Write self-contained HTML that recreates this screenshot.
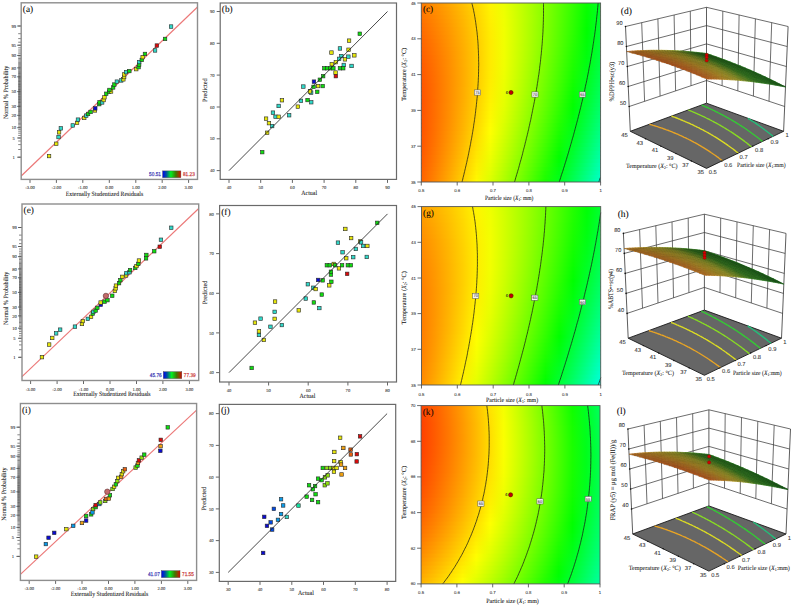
<!DOCTYPE html>
<html><head><meta charset="utf-8"><title>Figure</title>
<style>html,body{margin:0;padding:0;background:#fff;width:792px;height:606px;overflow:hidden}text{text-rendering:geometricPrecision;stroke:#222;stroke-width:.12px;stroke-opacity:.6}</style>
</head><body>
<svg width="792" height="606" viewBox="0 0 792 606" style="display:block">
<rect width="792" height="606" fill="#fff"/>
<line x1="21.2" y1="176.0" x2="197.5" y2="7.0" stroke="#ec7878" stroke-width="1.15"/>
<line x1="30.0" y1="179.4" x2="30.0" y2="182.9" stroke="#555" stroke-width="0.9"/>
<text x="30" y="189.3" font-family='"Liberation Serif", serif' font-size="4.6" text-anchor="middle" fill="#333">-3.00</text>
<line x1="56.4" y1="179.4" x2="56.4" y2="182.9" stroke="#555" stroke-width="0.9"/>
<text x="56.4" y="189.3" font-family='"Liberation Serif", serif' font-size="4.6" text-anchor="middle" fill="#333">-2.00</text>
<line x1="82.8" y1="179.4" x2="82.8" y2="182.9" stroke="#555" stroke-width="0.9"/>
<text x="82.8" y="189.3" font-family='"Liberation Serif", serif' font-size="4.6" text-anchor="middle" fill="#333">-1.00</text>
<line x1="109.3" y1="179.4" x2="109.3" y2="182.9" stroke="#555" stroke-width="0.9"/>
<text x="109.3" y="189.3" font-family='"Liberation Serif", serif' font-size="4.6" text-anchor="middle" fill="#333">0.00</text>
<line x1="135.8" y1="179.4" x2="135.8" y2="182.9" stroke="#555" stroke-width="0.9"/>
<text x="135.8" y="189.3" font-family='"Liberation Serif", serif' font-size="4.6" text-anchor="middle" fill="#333">1.00</text>
<line x1="162.2" y1="179.4" x2="162.2" y2="182.9" stroke="#555" stroke-width="0.9"/>
<text x="162.2" y="189.3" font-family='"Liberation Serif", serif' font-size="4.6" text-anchor="middle" fill="#333">2.00</text>
<line x1="188.6" y1="179.4" x2="188.6" y2="182.9" stroke="#555" stroke-width="0.9"/>
<text x="188.6" y="189.3" font-family='"Liberation Serif", serif' font-size="4.6" text-anchor="middle" fill="#333">3.00</text>
<path d="M18.2 157.2h3M18.2 149.5h3M18.2 144.6h3M18.2 141.0h3M18.2 138.0h3M18.2 135.4h3M18.2 133.2h3M18.2 131.2h3M18.2 129.4h3M18.2 127.7h3M18.2 126.2h3M18.2 124.7h3M18.2 123.4h3M18.2 122.1h3M18.2 120.8h3M18.2 119.6h3M18.2 118.5h3M18.2 117.4h3M18.2 116.4h3M18.2 115.3h3M18.2 114.3h3M18.2 113.4h3M18.2 112.4h3M18.2 111.5h3M18.2 110.6h3M18.2 109.7h3M18.2 108.9h3M18.2 108.0h3M18.2 107.2h3M18.2 106.4h3M18.2 105.6h3M18.2 104.8h3M18.2 104.0h3M18.2 103.2h3M18.2 102.5h3M18.2 101.7h3M18.2 101.0h3M18.2 100.2h3M18.2 99.5h3M18.2 98.7h3M18.2 98.0h3M18.2 97.3h3M18.2 96.6h3M18.2 95.9h3M18.2 95.1h3M18.2 94.4h3M18.2 93.7h3M18.2 93.0h3M18.2 92.3h3M18.2 91.6h3M18.2 90.9h3M18.2 90.2h3M18.2 89.5h3M18.2 88.8h3M18.2 88.1h3M18.2 87.3h3M18.2 86.6h3M18.2 85.9h3M18.2 85.2h3M18.2 84.5h3M18.2 83.7h3M18.2 83.0h3M18.2 82.2h3M18.2 81.5h3M18.2 80.7h3M18.2 80.0h3M18.2 79.2h3M18.2 78.4h3M18.2 77.6h3M18.2 76.8h3M18.2 76.0h3M18.2 75.2h3M18.2 74.3h3M18.2 73.5h3M18.2 72.6h3M18.2 71.7h3M18.2 70.8h3M18.2 69.8h3M18.2 68.9h3M18.2 67.9h3M18.2 66.8h3M18.2 65.8h3M18.2 64.7h3M18.2 63.6h3M18.2 62.4h3M18.2 61.1h3M18.2 59.8h3M18.2 58.5h3M18.2 57.0h3M18.2 55.5h3M18.2 53.8h3M18.2 52.0h3M18.2 50.0h3M18.2 47.8h3M18.2 45.2h3M18.2 42.2h3M18.2 38.6h3M18.2 33.7h3M18.2 26.0h3" stroke="#333" stroke-width="0.6"/>
<line x1="17.2" y1="157.20" x2="21.2" y2="157.20" stroke="#555" stroke-width="0.9"/>
<text x="13.7" y="158.8" font-family='"Liberation Serif", serif' font-size="4.6" text-anchor="middle" fill="#333">1</text>
<line x1="17.2" y1="137.98" x2="21.2" y2="137.98" stroke="#555" stroke-width="0.9"/>
<text x="13.7" y="139.6" font-family='"Liberation Serif", serif' font-size="4.6" text-anchor="middle" fill="#333">5</text>
<line x1="17.2" y1="127.74" x2="21.2" y2="127.74" stroke="#555" stroke-width="0.9"/>
<text x="13.7" y="129.3" font-family='"Liberation Serif", serif' font-size="4.6" text-anchor="middle" fill="#333">10</text>
<line x1="17.2" y1="115.33" x2="21.2" y2="115.33" stroke="#555" stroke-width="0.9"/>
<text x="13.7" y="116.9" font-family='"Liberation Serif", serif' font-size="4.6" text-anchor="middle" fill="#333">20</text>
<line x1="17.2" y1="106.39" x2="21.2" y2="106.39" stroke="#555" stroke-width="0.9"/>
<text x="13.7" y="108" font-family='"Liberation Serif", serif' font-size="4.6" text-anchor="middle" fill="#333">30</text>
<line x1="17.2" y1="91.60" x2="21.2" y2="91.60" stroke="#555" stroke-width="0.9"/>
<text x="13.7" y="93.2" font-family='"Liberation Serif", serif' font-size="4.6" text-anchor="middle" fill="#333">50</text>
<line x1="17.2" y1="76.81" x2="21.2" y2="76.81" stroke="#555" stroke-width="0.9"/>
<text x="13.7" y="78.4" font-family='"Liberation Serif", serif' font-size="4.6" text-anchor="middle" fill="#333">70</text>
<line x1="17.2" y1="67.87" x2="21.2" y2="67.87" stroke="#555" stroke-width="0.9"/>
<text x="13.7" y="69.5" font-family='"Liberation Serif", serif' font-size="4.6" text-anchor="middle" fill="#333">80</text>
<line x1="17.2" y1="55.46" x2="21.2" y2="55.46" stroke="#555" stroke-width="0.9"/>
<text x="13.7" y="57.1" font-family='"Liberation Serif", serif' font-size="4.6" text-anchor="middle" fill="#333">90</text>
<line x1="17.2" y1="45.22" x2="21.2" y2="45.22" stroke="#555" stroke-width="0.9"/>
<text x="13.7" y="46.8" font-family='"Liberation Serif", serif' font-size="4.6" text-anchor="middle" fill="#333">95</text>
<line x1="17.2" y1="26.00" x2="21.2" y2="26.00" stroke="#555" stroke-width="0.9"/>
<text x="13.7" y="27.6" font-family='"Liberation Serif", serif' font-size="4.6" text-anchor="middle" fill="#333">99</text>
<rect x="21.2" y="2.8" width="176.3" height="176.6" fill="none" stroke="#8e8e8e" stroke-width="1.4"/>
<rect x="47.3" y="154.3" width="3.5" height="3.5" fill="#e6e60a" stroke="#2a2a2a" stroke-width="0.6"/>
<rect x="54.5" y="142.0" width="3.5" height="3.5" fill="#e6e60a" stroke="#2a2a2a" stroke-width="0.6"/>
<rect x="56.8" y="135.3" width="3.5" height="3.5" fill="#30d8c8" stroke="#2a2a2a" stroke-width="0.6"/>
<rect x="57.3" y="130.6" width="3.5" height="3.5" fill="#e6e60a" stroke="#2a2a2a" stroke-width="0.6"/>
<rect x="59.1" y="126.6" width="3.5" height="3.5" fill="#30d8c8" stroke="#2a2a2a" stroke-width="0.6"/>
<rect x="71.0" y="123.7" width="3.5" height="3.5" fill="#30d8c8" stroke="#2a2a2a" stroke-width="0.6"/>
<rect x="75.3" y="121.1" width="3.5" height="3.5" fill="#e6e60a" stroke="#2a2a2a" stroke-width="0.6"/>
<rect x="76.2" y="117.9" width="3.5" height="3.5" fill="#30d8c8" stroke="#2a2a2a" stroke-width="0.6"/>
<rect x="82.5" y="116.2" width="3.5" height="3.5" fill="#e6e60a" stroke="#2a2a2a" stroke-width="0.6"/>
<rect x="84.5" y="113.9" width="3.5" height="3.5" fill="#30d8c8" stroke="#2a2a2a" stroke-width="0.6"/>
<rect x="86.3" y="112.2" width="3.5" height="3.5" fill="#10dc10" stroke="#2a2a2a" stroke-width="0.6"/>
<rect x="88.8" y="110.2" width="3.5" height="3.5" fill="#10dc10" stroke="#2a2a2a" stroke-width="0.6"/>
<rect x="93.2" y="108.7" width="3.5" height="3.5" fill="#e6e60a" stroke="#2a2a2a" stroke-width="0.6"/>
<rect x="93.5" y="106.6" width="3.5" height="3.5" fill="#0a0ad2" stroke="#2a2a2a" stroke-width="0.6"/>
<rect x="97.5" y="102.4" width="3.5" height="3.5" fill="#10dc10" stroke="#2a2a2a" stroke-width="0.6"/>
<rect x="97.8" y="100.6" width="3.5" height="3.5" fill="#10dc10" stroke="#2a2a2a" stroke-width="0.6"/>
<rect x="100.4" y="100.7" width="3.5" height="3.5" fill="#30d8c8" stroke="#2a2a2a" stroke-width="0.6"/>
<rect x="101.9" y="98.3" width="3.5" height="3.5" fill="#e6e60a" stroke="#2a2a2a" stroke-width="0.6"/>
<rect x="102.7" y="95.5" width="3.5" height="3.5" fill="#e6e60a" stroke="#2a2a2a" stroke-width="0.6"/>
<rect x="104.5" y="92.0" width="3.5" height="3.5" fill="#10dc10" stroke="#2a2a2a" stroke-width="0.6"/>
<rect x="107.4" y="90.1" width="3.5" height="3.5" fill="#10dc10" stroke="#2a2a2a" stroke-width="0.6"/>
<rect x="109.3" y="89.7" width="3.5" height="3.5" fill="#e6e60a" stroke="#2a2a2a" stroke-width="0.6"/>
<rect x="107.7" y="88.2" width="3.5" height="3.5" fill="#10dc10" stroke="#2a2a2a" stroke-width="0.6"/>
<rect x="111.4" y="85.7" width="3.5" height="3.5" fill="#10dc10" stroke="#2a2a2a" stroke-width="0.6"/>
<rect x="112.6" y="82.8" width="3.5" height="3.5" fill="#10dc10" stroke="#2a2a2a" stroke-width="0.6"/>
<rect x="115.1" y="79.9" width="3.5" height="3.5" fill="#30d8c8" stroke="#2a2a2a" stroke-width="0.6"/>
<rect x="119.5" y="78.7" width="3.5" height="3.5" fill="#30d8c8" stroke="#2a2a2a" stroke-width="0.6"/>
<rect x="121.6" y="77.6" width="3.5" height="3.5" fill="#e6e60a" stroke="#2a2a2a" stroke-width="0.6"/>
<rect x="122.4" y="75.3" width="3.5" height="3.5" fill="#e6e60a" stroke="#2a2a2a" stroke-width="0.6"/>
<rect x="122.4" y="72.7" width="3.5" height="3.5" fill="#e6e60a" stroke="#2a2a2a" stroke-width="0.6"/>
<rect x="124.3" y="70.4" width="3.5" height="3.5" fill="#30d8c8" stroke="#2a2a2a" stroke-width="0.6"/>
<rect x="127.6" y="69.3" width="3.5" height="3.5" fill="#10dc10" stroke="#2a2a2a" stroke-width="0.6"/>
<rect x="134.5" y="67.4" width="3.5" height="3.5" fill="#e6e60a" stroke="#2a2a2a" stroke-width="0.6"/>
<rect x="136.8" y="65.4" width="3.5" height="3.5" fill="#10dc10" stroke="#2a2a2a" stroke-width="0.6"/>
<rect x="137.4" y="62.8" width="3.5" height="3.5" fill="#10dc10" stroke="#2a2a2a" stroke-width="0.6"/>
<rect x="137.4" y="60.3" width="3.5" height="3.5" fill="#30d8c8" stroke="#2a2a2a" stroke-width="0.6"/>
<rect x="140.0" y="58.2" width="3.5" height="3.5" fill="#10dc10" stroke="#2a2a2a" stroke-width="0.6"/>
<rect x="140.9" y="55.4" width="3.5" height="3.5" fill="#e6e60a" stroke="#2a2a2a" stroke-width="0.6"/>
<rect x="143.2" y="52.2" width="3.5" height="3.5" fill="#10dc10" stroke="#2a2a2a" stroke-width="0.6"/>
<rect x="153.3" y="48.7" width="3.5" height="3.5" fill="#30d8c8" stroke="#2a2a2a" stroke-width="0.6"/>
<rect x="155.1" y="43.8" width="3.5" height="3.5" fill="#dc0a0a" stroke="#2a2a2a" stroke-width="0.6"/>
<rect x="163.3" y="37.2" width="3.5" height="3.5" fill="#10dc10" stroke="#2a2a2a" stroke-width="0.6"/>
<rect x="169.3" y="24.8" width="3.5" height="3.5" fill="#30d8c8" stroke="#2a2a2a" stroke-width="0.6"/>
<text x="22.8" y="11.8" font-family='"Liberation Serif", serif' font-size="9.3" text-anchor="start" fill="#000">(a)</text>
<text x="104.5" y="195.8" font-family='"Liberation Serif", serif' font-size="6.6" text-anchor="middle" fill="#111" textLength="77.5" lengthAdjust="spacingAndGlyphs">Externally Studentized Residuals</text>
<text x="7.6" y="92.4" font-family='"Liberation Serif", serif' font-size="6.6" text-anchor="middle" fill="#111" transform="rotate(-90 7.6 92.4)" textLength="53.2" lengthAdjust="spacingAndGlyphs">Normal % Probability</text>
<defs><linearGradient id="cb2" x1="0" x2="1" y1="0" y2="0"><stop offset="0" stop-color="#0000f0"/><stop offset="0.2" stop-color="#0050a0"/><stop offset="0.45" stop-color="#00f020"/><stop offset="0.72" stop-color="#407800"/><stop offset="0.88" stop-color="#904000"/><stop offset="1" stop-color="#e00000"/></linearGradient></defs>
<rect x="162.6" y="170.9" width="18.3" height="6.8" fill="url(#cb2)" stroke="#444" stroke-width="0.4"/>
<text x="161" y="176.2" font-family='"Liberation Sans", sans-serif' font-size="5.5" text-anchor="end" fill="#3030b0" style="stroke:#3030b0;stroke-width:.25px;stroke-opacity:.8" textLength="11.9" lengthAdjust="spacingAndGlyphs">50.51</text>
<text x="182.9" y="176.2" font-family='"Liberation Sans", sans-serif' font-size="5.5" text-anchor="start" fill="#c83030" style="stroke:#c83030;stroke-width:.25px;stroke-opacity:.8" textLength="11.9" lengthAdjust="spacingAndGlyphs">81.23</text>
<line x1="229.0" y1="179.4" x2="229.0" y2="182.9" stroke="#555" stroke-width="0.9"/>
<text x="229" y="189.3" font-family='"Liberation Serif", serif' font-size="4.6" text-anchor="middle" fill="#333">40</text>
<line x1="216.7" y1="170.6" x2="220.2" y2="170.6" stroke="#555" stroke-width="0.9"/>
<text x="212.2" y="172.2" font-family='"Liberation Serif", serif' font-size="4.6" text-anchor="middle" fill="#333">40</text>
<line x1="260.7" y1="179.4" x2="260.7" y2="182.9" stroke="#555" stroke-width="0.9"/>
<text x="260.7" y="189.3" font-family='"Liberation Serif", serif' font-size="4.6" text-anchor="middle" fill="#333">50</text>
<line x1="216.7" y1="138.8" x2="220.2" y2="138.8" stroke="#555" stroke-width="0.9"/>
<text x="212.2" y="140.4" font-family='"Liberation Serif", serif' font-size="4.6" text-anchor="middle" fill="#333">50</text>
<line x1="292.4" y1="179.4" x2="292.4" y2="182.9" stroke="#555" stroke-width="0.9"/>
<text x="292.4" y="189.3" font-family='"Liberation Serif", serif' font-size="4.6" text-anchor="middle" fill="#333">60</text>
<line x1="216.7" y1="107.0" x2="220.2" y2="107.0" stroke="#555" stroke-width="0.9"/>
<text x="212.2" y="108.6" font-family='"Liberation Serif", serif' font-size="4.6" text-anchor="middle" fill="#333">60</text>
<line x1="324.1" y1="179.4" x2="324.1" y2="182.9" stroke="#555" stroke-width="0.9"/>
<text x="324.1" y="189.3" font-family='"Liberation Serif", serif' font-size="4.6" text-anchor="middle" fill="#333">70</text>
<line x1="216.7" y1="75.1" x2="220.2" y2="75.1" stroke="#555" stroke-width="0.9"/>
<text x="212.2" y="76.7" font-family='"Liberation Serif", serif' font-size="4.6" text-anchor="middle" fill="#333">70</text>
<line x1="355.8" y1="179.4" x2="355.8" y2="182.9" stroke="#555" stroke-width="0.9"/>
<text x="355.8" y="189.3" font-family='"Liberation Serif", serif' font-size="4.6" text-anchor="middle" fill="#333">80</text>
<line x1="216.7" y1="43.3" x2="220.2" y2="43.3" stroke="#555" stroke-width="0.9"/>
<text x="212.2" y="44.9" font-family='"Liberation Serif", serif' font-size="4.6" text-anchor="middle" fill="#333">80</text>
<line x1="387.5" y1="179.4" x2="387.5" y2="182.9" stroke="#555" stroke-width="0.9"/>
<text x="387.5" y="189.3" font-family='"Liberation Serif", serif' font-size="4.6" text-anchor="middle" fill="#333">90</text>
<line x1="216.7" y1="11.5" x2="220.2" y2="11.5" stroke="#555" stroke-width="0.9"/>
<text x="212.2" y="13.1" font-family='"Liberation Serif", serif' font-size="4.6" text-anchor="middle" fill="#333">90</text>
<rect x="220.2" y="3.0" width="176.3" height="176.4" fill="none" stroke="#6a6a6a" stroke-width="1.2"/>
<rect x="358.0" y="32.0" width="3.5" height="3.5" fill="#10dc10" stroke="#2a2a2a" stroke-width="0.6"/>
<rect x="347.3" y="38.9" width="3.5" height="3.5" fill="#e6e60a" stroke="#2a2a2a" stroke-width="0.6"/>
<rect x="338.2" y="46.7" width="3.5" height="3.5" fill="#30d8c8" stroke="#2a2a2a" stroke-width="0.6"/>
<rect x="329.7" y="50.8" width="3.5" height="3.5" fill="#e6e60a" stroke="#2a2a2a" stroke-width="0.6"/>
<rect x="346.8" y="48.0" width="3.5" height="3.5" fill="#e6e60a" stroke="#2a2a2a" stroke-width="0.6"/>
<rect x="352.6" y="53.6" width="3.5" height="3.5" fill="#e6e60a" stroke="#2a2a2a" stroke-width="0.6"/>
<rect x="346.6" y="54.9" width="3.5" height="3.5" fill="#30d8c8" stroke="#2a2a2a" stroke-width="0.6"/>
<rect x="339.6" y="54.3" width="3.5" height="3.5" fill="#30d8c8" stroke="#2a2a2a" stroke-width="0.6"/>
<rect x="337.4" y="57.1" width="3.5" height="3.5" fill="#30d8c8" stroke="#2a2a2a" stroke-width="0.6"/>
<rect x="343.2" y="57.6" width="3.5" height="3.5" fill="#e6e60a" stroke="#2a2a2a" stroke-width="0.6"/>
<rect x="334.1" y="60.4" width="3.5" height="3.5" fill="#e6e60a" stroke="#2a2a2a" stroke-width="0.6"/>
<rect x="330.0" y="62.4" width="3.5" height="3.5" fill="#e6e60a" stroke="#2a2a2a" stroke-width="0.6"/>
<rect x="342.0" y="63.2" width="3.5" height="3.5" fill="#30d8c8" stroke="#2a2a2a" stroke-width="0.6"/>
<rect x="349.8" y="64.2" width="3.5" height="3.5" fill="#30d8c8" stroke="#2a2a2a" stroke-width="0.6"/>
<rect x="322.6" y="66.5" width="3.5" height="3.5" fill="#10dc10" stroke="#2a2a2a" stroke-width="0.6"/>
<rect x="325.5" y="66.5" width="3.5" height="3.5" fill="#10dc10" stroke="#2a2a2a" stroke-width="0.6"/>
<rect x="328.7" y="66.5" width="3.5" height="3.5" fill="#10dc10" stroke="#2a2a2a" stroke-width="0.6"/>
<rect x="331.6" y="66.5" width="3.5" height="3.5" fill="#10dc10" stroke="#2a2a2a" stroke-width="0.6"/>
<rect x="338.2" y="66.5" width="3.5" height="3.5" fill="#10dc10" stroke="#2a2a2a" stroke-width="0.6"/>
<rect x="341.5" y="66.5" width="3.5" height="3.5" fill="#10dc10" stroke="#2a2a2a" stroke-width="0.6"/>
<rect x="333.8" y="70.8" width="3.5" height="3.5" fill="#e6e60a" stroke="#2a2a2a" stroke-width="0.6"/>
<rect x="334.1" y="74.4" width="3.5" height="3.5" fill="#dc0a0a" stroke="#2a2a2a" stroke-width="0.6"/>
<rect x="321.4" y="74.4" width="3.5" height="3.5" fill="#10dc10" stroke="#2a2a2a" stroke-width="0.6"/>
<rect x="318.1" y="78.0" width="3.5" height="3.5" fill="#10dc10" stroke="#2a2a2a" stroke-width="0.6"/>
<rect x="312.2" y="79.9" width="3.5" height="3.5" fill="#0a0ad2" stroke="#2a2a2a" stroke-width="0.6"/>
<rect x="301.6" y="84.8" width="3.5" height="3.5" fill="#30d8c8" stroke="#2a2a2a" stroke-width="0.6"/>
<rect x="311.8" y="85.1" width="3.5" height="3.5" fill="#10dc10" stroke="#2a2a2a" stroke-width="0.6"/>
<rect x="316.3" y="84.3" width="3.5" height="3.5" fill="#e6e60a" stroke="#2a2a2a" stroke-width="0.6"/>
<rect x="320.9" y="84.3" width="3.5" height="3.5" fill="#10dc10" stroke="#2a2a2a" stroke-width="0.6"/>
<rect x="308.5" y="89.6" width="3.5" height="3.5" fill="#e6e60a" stroke="#2a2a2a" stroke-width="0.6"/>
<rect x="309.4" y="90.9" width="3.5" height="3.5" fill="#30d8c8" stroke="#2a2a2a" stroke-width="0.6"/>
<rect x="315.5" y="90.1" width="3.5" height="3.5" fill="#10dc10" stroke="#2a2a2a" stroke-width="0.6"/>
<rect x="280.2" y="98.5" width="3.5" height="3.5" fill="#e6e60a" stroke="#2a2a2a" stroke-width="0.6"/>
<rect x="299.2" y="99.1" width="3.5" height="3.5" fill="#30d8c8" stroke="#2a2a2a" stroke-width="0.6"/>
<rect x="305.8" y="98.3" width="3.5" height="3.5" fill="#10dc10" stroke="#2a2a2a" stroke-width="0.6"/>
<rect x="309.5" y="100.5" width="3.5" height="3.5" fill="#30d8c8" stroke="#2a2a2a" stroke-width="0.6"/>
<rect x="296.1" y="104.9" width="3.5" height="3.5" fill="#e6e60a" stroke="#2a2a2a" stroke-width="0.6"/>
<rect x="276.9" y="104.2" width="3.5" height="3.5" fill="#30d8c8" stroke="#2a2a2a" stroke-width="0.6"/>
<rect x="271.2" y="110.9" width="3.5" height="3.5" fill="#30d8c8" stroke="#2a2a2a" stroke-width="0.6"/>
<rect x="273.8" y="115.0" width="3.5" height="3.5" fill="#30d8c8" stroke="#2a2a2a" stroke-width="0.6"/>
<rect x="276.9" y="115.0" width="3.5" height="3.5" fill="#e6e60a" stroke="#2a2a2a" stroke-width="0.6"/>
<rect x="287.4" y="113.5" width="3.5" height="3.5" fill="#30d8c8" stroke="#2a2a2a" stroke-width="0.6"/>
<rect x="264.3" y="116.9" width="3.5" height="3.5" fill="#e6e60a" stroke="#2a2a2a" stroke-width="0.6"/>
<rect x="267.2" y="121.4" width="3.5" height="3.5" fill="#e6e60a" stroke="#2a2a2a" stroke-width="0.6"/>
<rect x="270.4" y="124.3" width="3.5" height="3.5" fill="#30d8c8" stroke="#2a2a2a" stroke-width="0.6"/>
<rect x="265.4" y="131.0" width="3.5" height="3.5" fill="#e6e60a" stroke="#2a2a2a" stroke-width="0.6"/>
<rect x="260.5" y="150.4" width="3.5" height="3.5" fill="#10dc10" stroke="#2a2a2a" stroke-width="0.6"/>
<rect x="308.2" y="89.7" width="3.5" height="3.5" fill="#e6e60a" stroke="#2a2a2a" stroke-width="0.6"/>
<line x1="229.0" y1="170.6" x2="387.5" y2="11.5" stroke="#1a1a1a" stroke-width="0.8"/>
<text x="221.8" y="12" font-family='"Liberation Serif", serif' font-size="9.3" text-anchor="start" fill="#000">(b)</text>
<text x="309.2" y="194.7" font-family='"Liberation Serif", serif' font-size="6.6" text-anchor="middle" fill="#111" textLength="15.8" lengthAdjust="spacingAndGlyphs">Actual</text>
<text x="206.6" y="90.2" font-family='"Liberation Serif", serif' font-size="6.6" text-anchor="middle" fill="#111" transform="rotate(-90 206.6 90.2)" textLength="23.6" lengthAdjust="spacingAndGlyphs">Predicted</text>
<defs>
<linearGradient id="c00"><stop offset="0" stop-color="#ff7b00"/><stop offset="0.077" stop-color="#ff8f00"/><stop offset="0.154" stop-color="#ffa500"/><stop offset="0.231" stop-color="#ffbd00"/><stop offset="0.308" stop-color="#ffd700"/><stop offset="0.385" stop-color="#fff300"/><stop offset="0.462" stop-color="#ecff00"/><stop offset="0.538" stop-color="#ccff00"/><stop offset="0.615" stop-color="#a9ff00"/><stop offset="0.692" stop-color="#84ff00"/><stop offset="0.769" stop-color="#5dff00"/><stop offset="0.846" stop-color="#33ff00"/><stop offset="0.923" stop-color="#08ff00"/><stop offset="1" stop-color="#00ff26"/></linearGradient>
<linearGradient id="c01"><stop offset="0" stop-color="#ff7800"/><stop offset="0.077" stop-color="#ff8c00"/><stop offset="0.154" stop-color="#ffa200"/><stop offset="0.231" stop-color="#ffbb00"/><stop offset="0.308" stop-color="#ffd500"/><stop offset="0.385" stop-color="#fff200"/><stop offset="0.462" stop-color="#edff00"/><stop offset="0.538" stop-color="#ccff00"/><stop offset="0.615" stop-color="#a9ff00"/><stop offset="0.692" stop-color="#84ff00"/><stop offset="0.769" stop-color="#5cff00"/><stop offset="0.846" stop-color="#33ff00"/><stop offset="0.923" stop-color="#07ff00"/><stop offset="1" stop-color="#00ff27"/></linearGradient>
<linearGradient id="c02"><stop offset="0" stop-color="#ff7500"/><stop offset="0.077" stop-color="#ff8a00"/><stop offset="0.154" stop-color="#ffa000"/><stop offset="0.231" stop-color="#ffb900"/><stop offset="0.308" stop-color="#ffd400"/><stop offset="0.385" stop-color="#fff100"/><stop offset="0.462" stop-color="#eeff00"/><stop offset="0.538" stop-color="#cdff00"/><stop offset="0.615" stop-color="#a9ff00"/><stop offset="0.692" stop-color="#84ff00"/><stop offset="0.769" stop-color="#5cff00"/><stop offset="0.846" stop-color="#32ff00"/><stop offset="0.923" stop-color="#06ff00"/><stop offset="1" stop-color="#00ff28"/></linearGradient>
<linearGradient id="c03"><stop offset="0" stop-color="#ff7300"/><stop offset="0.077" stop-color="#ff8700"/><stop offset="0.154" stop-color="#ff9e00"/><stop offset="0.231" stop-color="#ffb700"/><stop offset="0.308" stop-color="#ffd200"/><stop offset="0.385" stop-color="#fff000"/><stop offset="0.462" stop-color="#efff00"/><stop offset="0.538" stop-color="#cdff00"/><stop offset="0.615" stop-color="#aaff00"/><stop offset="0.692" stop-color="#84ff00"/><stop offset="0.769" stop-color="#5bff00"/><stop offset="0.846" stop-color="#31ff00"/><stop offset="0.923" stop-color="#05ff00"/><stop offset="1" stop-color="#00ff2a"/></linearGradient>
<linearGradient id="c04"><stop offset="0" stop-color="#ff7000"/><stop offset="0.077" stop-color="#ff8500"/><stop offset="0.154" stop-color="#ff9c00"/><stop offset="0.231" stop-color="#ffb500"/><stop offset="0.308" stop-color="#ffd100"/><stop offset="0.385" stop-color="#ffef00"/><stop offset="0.462" stop-color="#f0ff00"/><stop offset="0.538" stop-color="#ceff00"/><stop offset="0.615" stop-color="#aaff00"/><stop offset="0.692" stop-color="#83ff00"/><stop offset="0.769" stop-color="#5bff00"/><stop offset="0.846" stop-color="#30ff00"/><stop offset="0.923" stop-color="#03ff00"/><stop offset="1" stop-color="#00ff2c"/></linearGradient>
<linearGradient id="c05"><stop offset="0" stop-color="#ff6d00"/><stop offset="0.077" stop-color="#ff8300"/><stop offset="0.154" stop-color="#ff9a00"/><stop offset="0.231" stop-color="#ffb400"/><stop offset="0.308" stop-color="#ffd000"/><stop offset="0.385" stop-color="#ffee00"/><stop offset="0.462" stop-color="#f0ff00"/><stop offset="0.538" stop-color="#ceff00"/><stop offset="0.615" stop-color="#a9ff00"/><stop offset="0.692" stop-color="#83ff00"/><stop offset="0.769" stop-color="#5aff00"/><stop offset="0.846" stop-color="#2fff00"/><stop offset="0.923" stop-color="#02ff00"/><stop offset="1" stop-color="#00ff2d"/></linearGradient>
<linearGradient id="c06"><stop offset="0" stop-color="#ff6b00"/><stop offset="0.077" stop-color="#ff8100"/><stop offset="0.154" stop-color="#ff9800"/><stop offset="0.231" stop-color="#ffb200"/><stop offset="0.308" stop-color="#ffcf00"/><stop offset="0.385" stop-color="#ffed00"/><stop offset="0.462" stop-color="#f1ff00"/><stop offset="0.538" stop-color="#ceff00"/><stop offset="0.615" stop-color="#a9ff00"/><stop offset="0.692" stop-color="#82ff00"/><stop offset="0.769" stop-color="#59ff00"/><stop offset="0.846" stop-color="#2eff00"/><stop offset="0.923" stop-color="#00ff00"/><stop offset="1" stop-color="#00ff2f"/></linearGradient>
<linearGradient id="c07"><stop offset="0" stop-color="#ff6900"/><stop offset="0.077" stop-color="#ff7f00"/><stop offset="0.154" stop-color="#ff9700"/><stop offset="0.231" stop-color="#ffb100"/><stop offset="0.308" stop-color="#ffce00"/><stop offset="0.385" stop-color="#ffec00"/><stop offset="0.462" stop-color="#f1ff00"/><stop offset="0.538" stop-color="#ceff00"/><stop offset="0.615" stop-color="#a9ff00"/><stop offset="0.692" stop-color="#82ff00"/><stop offset="0.769" stop-color="#58ff00"/><stop offset="0.846" stop-color="#2dff00"/><stop offset="0.923" stop-color="#00ff01"/><stop offset="1" stop-color="#00ff31"/></linearGradient>
<linearGradient id="c08"><stop offset="0" stop-color="#ff6700"/><stop offset="0.077" stop-color="#ff7d00"/><stop offset="0.154" stop-color="#ff9500"/><stop offset="0.231" stop-color="#ffb000"/><stop offset="0.308" stop-color="#ffcd00"/><stop offset="0.385" stop-color="#ffec00"/><stop offset="0.462" stop-color="#f1ff00"/><stop offset="0.538" stop-color="#ceff00"/><stop offset="0.615" stop-color="#a9ff00"/><stop offset="0.692" stop-color="#81ff00"/><stop offset="0.769" stop-color="#57ff00"/><stop offset="0.846" stop-color="#2bff00"/><stop offset="0.923" stop-color="#00ff03"/><stop offset="1" stop-color="#00ff33"/></linearGradient>
<linearGradient id="c09"><stop offset="0" stop-color="#ff6400"/><stop offset="0.077" stop-color="#ff7b00"/><stop offset="0.154" stop-color="#ff9400"/><stop offset="0.231" stop-color="#ffaf00"/><stop offset="0.308" stop-color="#ffcc00"/><stop offset="0.385" stop-color="#ffeb00"/><stop offset="0.462" stop-color="#f1ff00"/><stop offset="0.538" stop-color="#ceff00"/><stop offset="0.615" stop-color="#a8ff00"/><stop offset="0.692" stop-color="#80ff00"/><stop offset="0.769" stop-color="#56ff00"/><stop offset="0.846" stop-color="#2aff00"/><stop offset="0.923" stop-color="#00ff05"/><stop offset="1" stop-color="#00ff35"/></linearGradient>
<linearGradient id="c010"><stop offset="0" stop-color="#ff6300"/><stop offset="0.077" stop-color="#ff7900"/><stop offset="0.154" stop-color="#ff9300"/><stop offset="0.231" stop-color="#ffae00"/><stop offset="0.308" stop-color="#ffcb00"/><stop offset="0.385" stop-color="#ffeb00"/><stop offset="0.462" stop-color="#f1ff00"/><stop offset="0.538" stop-color="#cdff00"/><stop offset="0.615" stop-color="#a7ff00"/><stop offset="0.692" stop-color="#7fff00"/><stop offset="0.769" stop-color="#55ff00"/><stop offset="0.846" stop-color="#28ff00"/><stop offset="0.923" stop-color="#00ff07"/><stop offset="1" stop-color="#00ff38"/></linearGradient>
<linearGradient id="c011"><stop offset="0" stop-color="#ff6100"/><stop offset="0.077" stop-color="#ff7800"/><stop offset="0.154" stop-color="#ff9100"/><stop offset="0.231" stop-color="#ffad00"/><stop offset="0.308" stop-color="#ffcb00"/><stop offset="0.385" stop-color="#ffeb00"/><stop offset="0.462" stop-color="#f1ff00"/><stop offset="0.538" stop-color="#cdff00"/><stop offset="0.615" stop-color="#a7ff00"/><stop offset="0.692" stop-color="#7eff00"/><stop offset="0.769" stop-color="#53ff00"/><stop offset="0.846" stop-color="#26ff00"/><stop offset="0.923" stop-color="#00ff09"/><stop offset="1" stop-color="#00ff3a"/></linearGradient>
<linearGradient id="c012"><stop offset="0" stop-color="#ff5f00"/><stop offset="0.077" stop-color="#ff7700"/><stop offset="0.154" stop-color="#ff9000"/><stop offset="0.231" stop-color="#ffac00"/><stop offset="0.308" stop-color="#ffca00"/><stop offset="0.385" stop-color="#ffeb00"/><stop offset="0.462" stop-color="#f1ff00"/><stop offset="0.538" stop-color="#ccff00"/><stop offset="0.615" stop-color="#a6ff00"/><stop offset="0.692" stop-color="#7dff00"/><stop offset="0.769" stop-color="#52ff00"/><stop offset="0.846" stop-color="#24ff00"/><stop offset="0.923" stop-color="#00ff0b"/><stop offset="1" stop-color="#00ff3d"/></linearGradient>
<linearGradient id="c013"><stop offset="0" stop-color="#ff5d00"/><stop offset="0.077" stop-color="#ff7500"/><stop offset="0.154" stop-color="#ff8f00"/><stop offset="0.231" stop-color="#ffac00"/><stop offset="0.308" stop-color="#ffca00"/><stop offset="0.385" stop-color="#ffeb00"/><stop offset="0.462" stop-color="#f1ff00"/><stop offset="0.538" stop-color="#ccff00"/><stop offset="0.615" stop-color="#a5ff00"/><stop offset="0.692" stop-color="#7bff00"/><stop offset="0.769" stop-color="#50ff00"/><stop offset="0.846" stop-color="#22ff00"/><stop offset="0.923" stop-color="#00ff0d"/><stop offset="1" stop-color="#00ff3f"/></linearGradient>
<linearGradient id="c014"><stop offset="0" stop-color="#ff5c00"/><stop offset="0.077" stop-color="#ff7400"/><stop offset="0.154" stop-color="#ff8e00"/><stop offset="0.231" stop-color="#ffab00"/><stop offset="0.308" stop-color="#ffca00"/><stop offset="0.385" stop-color="#ffeb00"/><stop offset="0.462" stop-color="#f0ff00"/><stop offset="0.538" stop-color="#cbff00"/><stop offset="0.615" stop-color="#a4ff00"/><stop offset="0.692" stop-color="#7aff00"/><stop offset="0.769" stop-color="#4eff00"/><stop offset="0.846" stop-color="#20ff00"/><stop offset="0.923" stop-color="#00ff10"/><stop offset="1" stop-color="#00ff42"/></linearGradient>
<linearGradient id="c015"><stop offset="0" stop-color="#ff5a00"/><stop offset="0.077" stop-color="#ff7300"/><stop offset="0.154" stop-color="#ff8e00"/><stop offset="0.231" stop-color="#ffab00"/><stop offset="0.308" stop-color="#ffca00"/><stop offset="0.385" stop-color="#ffeb00"/><stop offset="0.462" stop-color="#f0ff00"/><stop offset="0.538" stop-color="#caff00"/><stop offset="0.615" stop-color="#a2ff00"/><stop offset="0.692" stop-color="#78ff00"/><stop offset="0.769" stop-color="#4cff00"/><stop offset="0.846" stop-color="#1eff00"/><stop offset="0.923" stop-color="#00ff12"/><stop offset="1" stop-color="#00ff45"/></linearGradient>
<linearGradient id="c016"><stop offset="0" stop-color="#ff5900"/><stop offset="0.077" stop-color="#ff7200"/><stop offset="0.154" stop-color="#ff8d00"/><stop offset="0.231" stop-color="#ffaa00"/><stop offset="0.308" stop-color="#ffca00"/><stop offset="0.385" stop-color="#ffeb00"/><stop offset="0.462" stop-color="#efff00"/><stop offset="0.538" stop-color="#c9ff00"/><stop offset="0.615" stop-color="#a1ff00"/><stop offset="0.692" stop-color="#77ff00"/><stop offset="0.769" stop-color="#4aff00"/><stop offset="0.846" stop-color="#1cff00"/><stop offset="0.923" stop-color="#00ff15"/><stop offset="1" stop-color="#00ff48"/></linearGradient>
<linearGradient id="c017"><stop offset="0" stop-color="#ff5800"/><stop offset="0.077" stop-color="#ff7100"/><stop offset="0.154" stop-color="#ff8d00"/><stop offset="0.231" stop-color="#ffaa00"/><stop offset="0.308" stop-color="#ffca00"/><stop offset="0.385" stop-color="#ffec00"/><stop offset="0.462" stop-color="#eeff00"/><stop offset="0.538" stop-color="#c8ff00"/><stop offset="0.615" stop-color="#9fff00"/><stop offset="0.692" stop-color="#75ff00"/><stop offset="0.769" stop-color="#48ff00"/><stop offset="0.846" stop-color="#19ff00"/><stop offset="0.923" stop-color="#00ff18"/><stop offset="1" stop-color="#00ff4b"/></linearGradient>
<linearGradient id="c018"><stop offset="0" stop-color="#ff5700"/><stop offset="0.077" stop-color="#ff7000"/><stop offset="0.154" stop-color="#ff8c00"/><stop offset="0.231" stop-color="#ffaa00"/><stop offset="0.308" stop-color="#ffca00"/><stop offset="0.385" stop-color="#ffec00"/><stop offset="0.462" stop-color="#edff00"/><stop offset="0.538" stop-color="#c7ff00"/><stop offset="0.615" stop-color="#9eff00"/><stop offset="0.692" stop-color="#73ff00"/><stop offset="0.769" stop-color="#46ff00"/><stop offset="0.846" stop-color="#17ff00"/><stop offset="0.923" stop-color="#00ff1b"/><stop offset="1" stop-color="#00ff4e"/></linearGradient>
<linearGradient id="c019"><stop offset="0" stop-color="#ff5600"/><stop offset="0.077" stop-color="#ff7000"/><stop offset="0.154" stop-color="#ff8c00"/><stop offset="0.231" stop-color="#ffaa00"/><stop offset="0.308" stop-color="#ffcb00"/><stop offset="0.385" stop-color="#ffed00"/><stop offset="0.462" stop-color="#ecff00"/><stop offset="0.538" stop-color="#c5ff00"/><stop offset="0.615" stop-color="#9cff00"/><stop offset="0.692" stop-color="#71ff00"/><stop offset="0.769" stop-color="#44ff00"/><stop offset="0.846" stop-color="#14ff00"/><stop offset="0.923" stop-color="#00ff1e"/><stop offset="1" stop-color="#00ff52"/></linearGradient>
<linearGradient id="c020"><stop offset="0" stop-color="#ff5500"/><stop offset="0.077" stop-color="#ff6f00"/><stop offset="0.154" stop-color="#ff8c00"/><stop offset="0.231" stop-color="#ffaa00"/><stop offset="0.308" stop-color="#ffcb00"/><stop offset="0.385" stop-color="#ffee00"/><stop offset="0.462" stop-color="#ebff00"/><stop offset="0.538" stop-color="#c4ff00"/><stop offset="0.615" stop-color="#9aff00"/><stop offset="0.692" stop-color="#6fff00"/><stop offset="0.769" stop-color="#41ff00"/><stop offset="0.846" stop-color="#11ff00"/><stop offset="0.923" stop-color="#00ff21"/><stop offset="1" stop-color="#00ff55"/></linearGradient>
<linearGradient id="c021"><stop offset="0" stop-color="#ff5400"/><stop offset="0.077" stop-color="#ff6f00"/><stop offset="0.154" stop-color="#ff8c00"/><stop offset="0.231" stop-color="#ffab00"/><stop offset="0.308" stop-color="#ffcc00"/><stop offset="0.385" stop-color="#ffef00"/><stop offset="0.462" stop-color="#eaff00"/><stop offset="0.538" stop-color="#c2ff00"/><stop offset="0.615" stop-color="#99ff00"/><stop offset="0.692" stop-color="#6dff00"/><stop offset="0.769" stop-color="#3fff00"/><stop offset="0.846" stop-color="#0eff00"/><stop offset="0.923" stop-color="#00ff24"/><stop offset="1" stop-color="#00ff59"/></linearGradient>
<linearGradient id="c022"><stop offset="0" stop-color="#ff5400"/><stop offset="0.077" stop-color="#ff6f00"/><stop offset="0.154" stop-color="#ff8c00"/><stop offset="0.231" stop-color="#ffab00"/><stop offset="0.308" stop-color="#ffcc00"/><stop offset="0.385" stop-color="#fff000"/><stop offset="0.462" stop-color="#e8ff00"/><stop offset="0.538" stop-color="#c1ff00"/><stop offset="0.615" stop-color="#97ff00"/><stop offset="0.692" stop-color="#6aff00"/><stop offset="0.769" stop-color="#3cff00"/><stop offset="0.846" stop-color="#0bff00"/><stop offset="0.923" stop-color="#00ff27"/><stop offset="1" stop-color="#00ff5c"/></linearGradient>
<linearGradient id="c023"><stop offset="0" stop-color="#ff5300"/><stop offset="0.077" stop-color="#ff6f00"/><stop offset="0.154" stop-color="#ff8c00"/><stop offset="0.231" stop-color="#ffab00"/><stop offset="0.308" stop-color="#ffcd00"/><stop offset="0.385" stop-color="#fff100"/><stop offset="0.462" stop-color="#e7ff00"/><stop offset="0.538" stop-color="#bfff00"/><stop offset="0.615" stop-color="#94ff00"/><stop offset="0.692" stop-color="#68ff00"/><stop offset="0.769" stop-color="#39ff00"/><stop offset="0.846" stop-color="#08ff00"/><stop offset="0.923" stop-color="#00ff2b"/><stop offset="1" stop-color="#00ff60"/></linearGradient>
<linearGradient id="c024"><stop offset="0" stop-color="#ff5300"/><stop offset="0.077" stop-color="#ff6e00"/><stop offset="0.154" stop-color="#ff8c00"/><stop offset="0.231" stop-color="#ffac00"/><stop offset="0.308" stop-color="#ffce00"/><stop offset="0.385" stop-color="#fff200"/><stop offset="0.462" stop-color="#e5ff00"/><stop offset="0.538" stop-color="#bdff00"/><stop offset="0.615" stop-color="#92ff00"/><stop offset="0.692" stop-color="#65ff00"/><stop offset="0.769" stop-color="#36ff00"/><stop offset="0.846" stop-color="#05ff00"/><stop offset="0.923" stop-color="#00ff2e"/><stop offset="1" stop-color="#00ff64"/></linearGradient>
<linearGradient id="c025"><stop offset="0" stop-color="#ff5300"/><stop offset="0.077" stop-color="#ff6f00"/><stop offset="0.154" stop-color="#ff8d00"/><stop offset="0.231" stop-color="#ffad00"/><stop offset="0.308" stop-color="#ffcf00"/><stop offset="0.385" stop-color="#fff400"/><stop offset="0.462" stop-color="#e4ff00"/><stop offset="0.538" stop-color="#bbff00"/><stop offset="0.615" stop-color="#90ff00"/><stop offset="0.692" stop-color="#63ff00"/><stop offset="0.769" stop-color="#33ff00"/><stop offset="0.846" stop-color="#02ff00"/><stop offset="0.923" stop-color="#00ff32"/><stop offset="1" stop-color="#00ff68"/></linearGradient>
<linearGradient id="c026"><stop offset="0" stop-color="#ff5300"/><stop offset="0.077" stop-color="#ff6f00"/><stop offset="0.154" stop-color="#ff8d00"/><stop offset="0.231" stop-color="#ffae00"/><stop offset="0.308" stop-color="#ffd000"/><stop offset="0.385" stop-color="#fff500"/><stop offset="0.462" stop-color="#e2ff00"/><stop offset="0.538" stop-color="#b9ff00"/><stop offset="0.615" stop-color="#8dff00"/><stop offset="0.692" stop-color="#60ff00"/><stop offset="0.769" stop-color="#30ff00"/><stop offset="0.846" stop-color="#00ff02"/><stop offset="0.923" stop-color="#00ff36"/><stop offset="1" stop-color="#00ff6c"/></linearGradient>
<linearGradient id="c027"><stop offset="0" stop-color="#ff5200"/><stop offset="0.077" stop-color="#ff6f00"/><stop offset="0.154" stop-color="#ff8e00"/><stop offset="0.231" stop-color="#ffaf00"/><stop offset="0.308" stop-color="#ffd200"/><stop offset="0.385" stop-color="#fff700"/><stop offset="0.462" stop-color="#e0ff00"/><stop offset="0.538" stop-color="#b6ff00"/><stop offset="0.615" stop-color="#8bff00"/><stop offset="0.692" stop-color="#5dff00"/><stop offset="0.769" stop-color="#2dff00"/><stop offset="0.846" stop-color="#00ff05"/><stop offset="0.923" stop-color="#00ff3a"/><stop offset="1" stop-color="#00ff70"/></linearGradient>
<linearGradient id="c028"><stop offset="0" stop-color="#ff5300"/><stop offset="0.077" stop-color="#ff6f00"/><stop offset="0.154" stop-color="#ff8e00"/><stop offset="0.231" stop-color="#ffb000"/><stop offset="0.308" stop-color="#ffd300"/><stop offset="0.385" stop-color="#fff800"/><stop offset="0.462" stop-color="#deff00"/><stop offset="0.538" stop-color="#b4ff00"/><stop offset="0.615" stop-color="#88ff00"/><stop offset="0.692" stop-color="#5aff00"/><stop offset="0.769" stop-color="#29ff00"/><stop offset="0.846" stop-color="#00ff09"/><stop offset="0.923" stop-color="#00ff3e"/><stop offset="1" stop-color="#00ff75"/></linearGradient>
<linearGradient id="c029"><stop offset="0" stop-color="#ff5300"/><stop offset="0.077" stop-color="#ff7000"/><stop offset="0.154" stop-color="#ff8f00"/><stop offset="0.231" stop-color="#ffb100"/><stop offset="0.308" stop-color="#ffd400"/><stop offset="0.385" stop-color="#fffa00"/><stop offset="0.462" stop-color="#dcff00"/><stop offset="0.538" stop-color="#b2ff00"/><stop offset="0.615" stop-color="#85ff00"/><stop offset="0.692" stop-color="#57ff00"/><stop offset="0.769" stop-color="#26ff00"/><stop offset="0.846" stop-color="#00ff0d"/><stop offset="0.923" stop-color="#00ff42"/><stop offset="1" stop-color="#00ff79"/></linearGradient>
<linearGradient id="c030"><stop offset="0" stop-color="#ff5300"/><stop offset="0.077" stop-color="#ff7100"/><stop offset="0.154" stop-color="#ff9000"/><stop offset="0.231" stop-color="#ffb200"/><stop offset="0.308" stop-color="#ffd600"/><stop offset="0.385" stop-color="#fffc00"/><stop offset="0.462" stop-color="#d9ff00"/><stop offset="0.538" stop-color="#afff00"/><stop offset="0.615" stop-color="#82ff00"/><stop offset="0.692" stop-color="#53ff00"/><stop offset="0.769" stop-color="#22ff00"/><stop offset="0.846" stop-color="#00ff11"/><stop offset="0.923" stop-color="#00ff46"/><stop offset="1" stop-color="#00ff7e"/></linearGradient>
<linearGradient id="c031"><stop offset="0" stop-color="#ff5300"/><stop offset="0.077" stop-color="#ff7100"/><stop offset="0.154" stop-color="#ff9100"/><stop offset="0.231" stop-color="#ffb300"/><stop offset="0.308" stop-color="#ffd800"/><stop offset="0.385" stop-color="#fffe00"/><stop offset="0.462" stop-color="#d7ff00"/><stop offset="0.538" stop-color="#acff00"/><stop offset="0.615" stop-color="#7fff00"/><stop offset="0.692" stop-color="#50ff00"/><stop offset="0.769" stop-color="#1fff00"/><stop offset="0.846" stop-color="#00ff15"/><stop offset="0.923" stop-color="#00ff4a"/><stop offset="1" stop-color="#00ff82"/></linearGradient>
<linearGradient id="c032"><stop offset="0" stop-color="#ff5400"/><stop offset="0.077" stop-color="#ff7200"/><stop offset="0.154" stop-color="#ff9300"/><stop offset="0.231" stop-color="#ffb500"/><stop offset="0.308" stop-color="#ffda00"/><stop offset="0.385" stop-color="#feff00"/><stop offset="0.462" stop-color="#d5ff00"/><stop offset="0.538" stop-color="#a9ff00"/><stop offset="0.615" stop-color="#7cff00"/><stop offset="0.692" stop-color="#4dff00"/><stop offset="0.769" stop-color="#1bff00"/><stop offset="0.846" stop-color="#00ff19"/><stop offset="0.923" stop-color="#00ff4f"/><stop offset="1" stop-color="#00ff87"/></linearGradient>
<linearGradient id="c033"><stop offset="0" stop-color="#ff5500"/><stop offset="0.077" stop-color="#ff7300"/><stop offset="0.154" stop-color="#ff9400"/><stop offset="0.231" stop-color="#ffb700"/><stop offset="0.308" stop-color="#ffdc00"/><stop offset="0.385" stop-color="#fbff00"/><stop offset="0.462" stop-color="#d2ff00"/><stop offset="0.538" stop-color="#a6ff00"/><stop offset="0.615" stop-color="#79ff00"/><stop offset="0.692" stop-color="#49ff00"/><stop offset="0.769" stop-color="#17ff00"/><stop offset="0.846" stop-color="#00ff1d"/><stop offset="0.923" stop-color="#00ff54"/><stop offset="1" stop-color="#00ff8c"/></linearGradient>
<linearGradient id="c034"><stop offset="0" stop-color="#ff5500"/><stop offset="0.077" stop-color="#ff7400"/><stop offset="0.154" stop-color="#ff9500"/><stop offset="0.231" stop-color="#ffb800"/><stop offset="0.308" stop-color="#ffde00"/><stop offset="0.385" stop-color="#f9ff00"/><stop offset="0.462" stop-color="#cfff00"/><stop offset="0.538" stop-color="#a3ff00"/><stop offset="0.615" stop-color="#75ff00"/><stop offset="0.692" stop-color="#45ff00"/><stop offset="0.769" stop-color="#13ff00"/><stop offset="0.846" stop-color="#00ff22"/><stop offset="0.923" stop-color="#00ff58"/><stop offset="1" stop-color="#00ff91"/></linearGradient>
<linearGradient id="c035"><stop offset="0" stop-color="#ff5600"/><stop offset="0.077" stop-color="#ff7500"/><stop offset="0.154" stop-color="#ff9700"/><stop offset="0.231" stop-color="#ffba00"/><stop offset="0.308" stop-color="#ffe000"/><stop offset="0.385" stop-color="#f6ff00"/><stop offset="0.462" stop-color="#ccff00"/><stop offset="0.538" stop-color="#a0ff00"/><stop offset="0.615" stop-color="#72ff00"/><stop offset="0.692" stop-color="#41ff00"/><stop offset="0.769" stop-color="#0fff00"/><stop offset="0.846" stop-color="#00ff26"/><stop offset="0.923" stop-color="#00ff5d"/><stop offset="1" stop-color="#00ff96"/></linearGradient>
<linearGradient id="c036"><stop offset="0" stop-color="#ff5700"/><stop offset="0.077" stop-color="#ff7700"/><stop offset="0.154" stop-color="#ff9800"/><stop offset="0.231" stop-color="#ffbc00"/><stop offset="0.308" stop-color="#ffe200"/><stop offset="0.385" stop-color="#f4ff00"/><stop offset="0.462" stop-color="#c9ff00"/><stop offset="0.538" stop-color="#9dff00"/><stop offset="0.615" stop-color="#6eff00"/><stop offset="0.692" stop-color="#3dff00"/><stop offset="0.769" stop-color="#0bff00"/><stop offset="0.846" stop-color="#00ff2b"/><stop offset="0.923" stop-color="#00ff62"/><stop offset="1" stop-color="#00ff9b"/></linearGradient>
<linearGradient id="c037"><stop offset="0" stop-color="#ff5800"/><stop offset="0.077" stop-color="#ff7800"/><stop offset="0.154" stop-color="#ff9a00"/><stop offset="0.231" stop-color="#ffbe00"/><stop offset="0.308" stop-color="#ffe500"/><stop offset="0.385" stop-color="#f1ff00"/><stop offset="0.462" stop-color="#c6ff00"/><stop offset="0.538" stop-color="#9aff00"/><stop offset="0.615" stop-color="#6bff00"/><stop offset="0.692" stop-color="#39ff00"/><stop offset="0.769" stop-color="#06ff00"/><stop offset="0.846" stop-color="#00ff2f"/><stop offset="0.923" stop-color="#00ff67"/><stop offset="1" stop-color="#00ffa1"/></linearGradient>
<linearGradient id="c038"><stop offset="0" stop-color="#ff5a00"/><stop offset="0.077" stop-color="#ff7a00"/><stop offset="0.154" stop-color="#ff9c00"/><stop offset="0.231" stop-color="#ffc000"/><stop offset="0.308" stop-color="#ffe700"/><stop offset="0.385" stop-color="#eeff00"/><stop offset="0.462" stop-color="#c3ff00"/><stop offset="0.538" stop-color="#96ff00"/><stop offset="0.615" stop-color="#67ff00"/><stop offset="0.692" stop-color="#35ff00"/><stop offset="0.769" stop-color="#02ff00"/><stop offset="0.846" stop-color="#00ff34"/><stop offset="0.923" stop-color="#00ff6c"/><stop offset="1" stop-color="#00ffa6"/></linearGradient>
<linearGradient id="c039"><stop offset="0" stop-color="#ff5b00"/><stop offset="0.077" stop-color="#ff7b00"/><stop offset="0.154" stop-color="#ff9e00"/><stop offset="0.231" stop-color="#ffc300"/><stop offset="0.308" stop-color="#ffea00"/><stop offset="0.385" stop-color="#ebff00"/><stop offset="0.462" stop-color="#c0ff00"/><stop offset="0.538" stop-color="#92ff00"/><stop offset="0.615" stop-color="#63ff00"/><stop offset="0.692" stop-color="#31ff00"/><stop offset="0.769" stop-color="#00ff03"/><stop offset="0.846" stop-color="#00ff39"/><stop offset="0.923" stop-color="#00ff71"/><stop offset="1" stop-color="#00ffac"/></linearGradient>
<linearGradient id="c040"><stop offset="0" stop-color="#ff5c00"/><stop offset="0.077" stop-color="#ff7d00"/><stop offset="0.154" stop-color="#ffa000"/><stop offset="0.231" stop-color="#ffc500"/><stop offset="0.308" stop-color="#ffed00"/><stop offset="0.385" stop-color="#e8ff00"/><stop offset="0.462" stop-color="#bcff00"/><stop offset="0.538" stop-color="#8fff00"/><stop offset="0.615" stop-color="#5fff00"/><stop offset="0.692" stop-color="#2dff00"/><stop offset="0.769" stop-color="#00ff08"/><stop offset="0.846" stop-color="#00ff3e"/><stop offset="0.923" stop-color="#00ff77"/><stop offset="1" stop-color="#00ffb2"/></linearGradient>
<linearGradient id="c041"><stop offset="0" stop-color="#ff5e00"/><stop offset="0.077" stop-color="#ff7f00"/><stop offset="0.154" stop-color="#ffa200"/><stop offset="0.231" stop-color="#ffc800"/><stop offset="0.308" stop-color="#ffef00"/><stop offset="0.385" stop-color="#e5ff00"/><stop offset="0.462" stop-color="#b9ff00"/><stop offset="0.538" stop-color="#8bff00"/><stop offset="0.615" stop-color="#5bff00"/><stop offset="0.692" stop-color="#28ff00"/><stop offset="0.769" stop-color="#00ff0d"/><stop offset="0.846" stop-color="#00ff43"/><stop offset="0.923" stop-color="#00ff7c"/><stop offset="1" stop-color="#00ffb7"/></linearGradient>
<linearGradient id="c042"><stop offset="0" stop-color="#ff6000"/><stop offset="0.077" stop-color="#ff8100"/><stop offset="0.154" stop-color="#ffa500"/><stop offset="0.231" stop-color="#ffca00"/><stop offset="0.308" stop-color="#fff200"/><stop offset="0.385" stop-color="#e2ff00"/><stop offset="0.462" stop-color="#b5ff00"/><stop offset="0.538" stop-color="#87ff00"/><stop offset="0.615" stop-color="#56ff00"/><stop offset="0.692" stop-color="#23ff00"/><stop offset="0.769" stop-color="#00ff11"/><stop offset="0.846" stop-color="#00ff49"/><stop offset="0.923" stop-color="#00ff82"/><stop offset="1" stop-color="#00ffbd"/></linearGradient>
<linearGradient id="c043"><stop offset="0" stop-color="#ff6100"/><stop offset="0.077" stop-color="#ff8300"/><stop offset="0.154" stop-color="#ffa700"/><stop offset="0.231" stop-color="#ffcd00"/><stop offset="0.308" stop-color="#fff500"/><stop offset="0.385" stop-color="#deff00"/><stop offset="0.462" stop-color="#b2ff00"/><stop offset="0.538" stop-color="#83ff00"/><stop offset="0.615" stop-color="#52ff00"/><stop offset="0.692" stop-color="#1fff00"/><stop offset="0.769" stop-color="#00ff17"/><stop offset="0.846" stop-color="#00ff4e"/><stop offset="0.923" stop-color="#00ff88"/><stop offset="1" stop-color="#00ffc3"/></linearGradient>
<linearGradient id="c044"><stop offset="0" stop-color="#ff6300"/><stop offset="0.077" stop-color="#ff8500"/><stop offset="0.154" stop-color="#ffaa00"/><stop offset="0.231" stop-color="#ffd000"/><stop offset="0.308" stop-color="#fff900"/><stop offset="0.385" stop-color="#dbff00"/><stop offset="0.462" stop-color="#aeff00"/><stop offset="0.538" stop-color="#7fff00"/><stop offset="0.615" stop-color="#4dff00"/><stop offset="0.692" stop-color="#1aff00"/><stop offset="0.769" stop-color="#00ff1c"/><stop offset="0.846" stop-color="#00ff53"/><stop offset="0.923" stop-color="#00ff8d"/><stop offset="1" stop-color="#00ffca"/></linearGradient>
</defs>
<rect x="421.3" y="3.0" width="179.3" height="4.6" fill="url(#c00)"/>
<rect x="421.3" y="7.0" width="179.3" height="4.6" fill="url(#c01)"/>
<rect x="421.3" y="11.0" width="179.3" height="4.6" fill="url(#c02)"/>
<rect x="421.3" y="15.0" width="179.3" height="4.6" fill="url(#c03)"/>
<rect x="421.3" y="19.0" width="179.3" height="4.6" fill="url(#c04)"/>
<rect x="421.3" y="23.0" width="179.3" height="4.6" fill="url(#c05)"/>
<rect x="421.3" y="27.0" width="179.3" height="4.6" fill="url(#c06)"/>
<rect x="421.3" y="31.0" width="179.3" height="4.6" fill="url(#c07)"/>
<rect x="421.3" y="35.0" width="179.3" height="4.6" fill="url(#c08)"/>
<rect x="421.3" y="39.0" width="179.3" height="4.6" fill="url(#c09)"/>
<rect x="421.3" y="43.0" width="179.3" height="4.6" fill="url(#c010)"/>
<rect x="421.3" y="47.0" width="179.3" height="4.6" fill="url(#c011)"/>
<rect x="421.3" y="51.0" width="179.3" height="4.6" fill="url(#c012)"/>
<rect x="421.3" y="55.0" width="179.3" height="4.6" fill="url(#c013)"/>
<rect x="421.3" y="59.0" width="179.3" height="4.6" fill="url(#c014)"/>
<rect x="421.3" y="63.0" width="179.3" height="4.6" fill="url(#c015)"/>
<rect x="421.3" y="67.0" width="179.3" height="4.6" fill="url(#c016)"/>
<rect x="421.3" y="71.0" width="179.3" height="4.6" fill="url(#c017)"/>
<rect x="421.3" y="75.0" width="179.3" height="4.6" fill="url(#c018)"/>
<rect x="421.3" y="79.0" width="179.3" height="4.6" fill="url(#c019)"/>
<rect x="421.3" y="83.0" width="179.3" height="4.6" fill="url(#c020)"/>
<rect x="421.3" y="87.0" width="179.3" height="4.6" fill="url(#c021)"/>
<rect x="421.3" y="91.0" width="179.3" height="4.6" fill="url(#c022)"/>
<rect x="421.3" y="95.0" width="179.3" height="4.6" fill="url(#c023)"/>
<rect x="421.3" y="99.0" width="179.3" height="4.6" fill="url(#c024)"/>
<rect x="421.3" y="103.0" width="179.3" height="4.6" fill="url(#c025)"/>
<rect x="421.3" y="107.0" width="179.3" height="4.6" fill="url(#c026)"/>
<rect x="421.3" y="111.0" width="179.3" height="4.6" fill="url(#c027)"/>
<rect x="421.3" y="115.0" width="179.3" height="4.6" fill="url(#c028)"/>
<rect x="421.3" y="119.0" width="179.3" height="4.6" fill="url(#c029)"/>
<rect x="421.3" y="123.0" width="179.3" height="4.6" fill="url(#c030)"/>
<rect x="421.3" y="127.0" width="179.3" height="4.6" fill="url(#c031)"/>
<rect x="421.3" y="131.0" width="179.3" height="4.6" fill="url(#c032)"/>
<rect x="421.3" y="135.0" width="179.3" height="4.6" fill="url(#c033)"/>
<rect x="421.3" y="139.0" width="179.3" height="4.6" fill="url(#c034)"/>
<rect x="421.3" y="143.0" width="179.3" height="4.6" fill="url(#c035)"/>
<rect x="421.3" y="147.0" width="179.3" height="4.6" fill="url(#c036)"/>
<rect x="421.3" y="151.0" width="179.3" height="4.6" fill="url(#c037)"/>
<rect x="421.3" y="155.0" width="179.3" height="4.6" fill="url(#c038)"/>
<rect x="421.3" y="159.0" width="179.3" height="4.6" fill="url(#c039)"/>
<rect x="421.3" y="163.0" width="179.3" height="4.6" fill="url(#c040)"/>
<rect x="421.3" y="167.0" width="179.3" height="4.6" fill="url(#c041)"/>
<rect x="421.3" y="171.0" width="179.3" height="4.6" fill="url(#c042)"/>
<rect x="421.3" y="175.0" width="179.3" height="4.6" fill="url(#c043)"/>
<rect x="421.3" y="179.0" width="179.3" height="3.0" fill="url(#c044)"/>
<polyline points="471.9,3.0 472.2,4.5 472.6,6.0 472.9,7.5 473.3,9.0 473.6,10.5 473.9,12.0 474.2,13.4 474.5,14.9 474.7,16.4 475.0,17.9 475.2,19.4 475.5,20.9 475.7,22.4 475.9,23.9 476.1,25.4 476.3,26.9 476.5,28.4 476.7,29.8 476.9,31.3 477.1,32.8 477.2,34.3 477.4,35.8 477.5,37.3 477.6,38.8 477.8,40.3 477.9,41.8 478.0,43.3 478.1,44.8 478.2,46.3 478.2,47.8 478.3,49.2 478.4,50.7 478.4,52.2 478.5,53.7 478.5,55.2 478.6,56.7 478.6,58.2 478.6,59.7 478.6,61.2 478.7,62.7 478.7,64.2 478.7,65.7 478.6,67.1 478.6,68.6 478.6,70.1 478.6,71.6 478.5,73.1 478.5,74.6 478.5,76.1 478.4,77.6 478.3,79.1 478.3,80.6 478.2,82.1 478.1,83.5 478.0,85.0 477.9,86.5 477.8,88.0 477.7,89.5 477.6,91.0 477.5,92.5 477.4,94.0 477.3,95.5 477.2,97.0 477.0,98.5 476.9,100.0 476.7,101.5 476.6,102.9 476.4,104.4 476.3,105.9 476.1,107.4 475.9,108.9 475.7,110.4 475.6,111.9 475.4,113.4 475.2,114.9 475.0,116.4 474.8,117.9 474.6,119.4 474.4,120.8 474.2,122.3 473.9,123.8 473.7,125.3 473.5,126.8 473.3,128.3 473.0,129.8 472.8,131.3 472.5,132.8 472.3,134.3 472.0,135.8 471.8,137.2 471.5,138.7 471.2,140.2 470.9,141.7 470.7,143.2 470.4,144.7 470.1,146.2 469.8,147.7 469.5,149.2 469.2,150.7 468.9,152.2 468.6,153.7 468.3,155.2 468.0,156.6 467.7,158.1 467.3,159.6 467.0,161.1 466.7,162.6 466.3,164.1 466.0,165.6 465.6,167.1 465.3,168.6 464.9,170.1 464.6,171.6 464.2,173.0 463.9,174.5 463.5,176.0 463.1,177.5 462.8,179.0 462.4,180.5 462.0,182.0" fill="none" stroke="#1a1a1a" stroke-width="0.75"/>
<polyline points="543.5,3.0 543.5,4.5 543.5,6.0 543.5,7.5 543.5,9.0 543.5,10.5 543.5,12.0 543.5,13.4 543.5,14.9 543.5,16.4 543.4,17.9 543.4,19.4 543.4,20.9 543.3,22.4 543.3,23.9 543.2,25.4 543.2,26.9 543.1,28.4 543.0,29.8 543.0,31.3 542.9,32.8 542.8,34.3 542.7,35.8 542.6,37.3 542.5,38.8 542.4,40.3 542.3,41.8 542.2,43.3 542.1,44.8 541.9,46.3 541.8,47.8 541.7,49.2 541.5,50.7 541.4,52.2 541.3,53.7 541.1,55.2 540.9,56.7 540.8,58.2 540.6,59.7 540.5,61.2 540.3,62.7 540.1,64.2 539.9,65.7 539.7,67.1 539.6,68.6 539.4,70.1 539.2,71.6 539.0,73.1 538.8,74.6 538.5,76.1 538.3,77.6 538.1,79.1 537.9,80.6 537.7,82.1 537.4,83.5 537.2,85.0 537.0,86.5 536.7,88.0 536.5,89.5 536.2,91.0 536.0,92.5 535.7,94.0 535.5,95.5 535.2,97.0 534.9,98.5 534.7,100.0 534.4,101.5 534.1,102.9 533.8,104.4 533.5,105.9 533.2,107.4 532.9,108.9 532.6,110.4 532.3,111.9 532.0,113.4 531.7,114.9 531.4,116.4 531.1,117.9 530.8,119.4 530.5,120.8 530.1,122.3 529.8,123.8 529.5,125.3 529.1,126.8 528.8,128.3 528.5,129.8 528.1,131.3 527.8,132.8 527.4,134.3 527.1,135.8 526.7,137.2 526.3,138.7 526.0,140.2 525.6,141.7 525.2,143.2 524.9,144.7 524.5,146.2 524.1,147.7 523.7,149.2 523.3,150.7 522.9,152.2 522.6,153.7 522.2,155.2 521.8,156.6 521.4,158.1 521.0,159.6 520.5,161.1 520.1,162.6 519.7,164.1 519.3,165.6 518.9,167.1 518.5,168.6 518.0,170.1 517.6,171.6 517.2,173.0 516.7,174.5 516.3,176.0 515.8,177.5 515.4,179.0 515.0,180.5 514.5,182.0" fill="none" stroke="#1a1a1a" stroke-width="0.75"/>
<polyline points="598.1,3.0 598.0,4.5 597.9,6.0 597.7,7.5 597.6,9.0 597.5,10.5 597.3,12.0 597.2,13.4 597.0,14.9 596.8,16.4 596.7,17.9 596.5,19.4 596.4,20.9 596.2,22.4 596.0,23.9 595.8,25.4 595.6,26.9 595.5,28.4 595.3,29.8 595.1,31.3 594.9,32.8 594.7,34.3 594.5,35.8 594.2,37.3 594.0,38.8 593.8,40.3 593.6,41.8 593.4,43.3 593.1,44.8 592.9,46.3 592.7,47.8 592.4,49.2 592.2,50.7 592.0,52.2 591.7,53.7 591.5,55.2 591.2,56.7 590.9,58.2 590.7,59.7 590.4,61.2 590.2,62.7 589.9,64.2 589.6,65.7 589.3,67.1 589.0,68.6 588.8,70.1 588.5,71.6 588.2,73.1 587.9,74.6 587.6,76.1 587.3,77.6 587.0,79.1 586.7,80.6 586.4,82.1 586.1,83.5 585.7,85.0 585.4,86.5 585.1,88.0 584.8,89.5 584.5,91.0 584.1,92.5 583.8,94.0 583.5,95.5 583.1,97.0 582.8,98.5 582.4,100.0 582.1,101.5 581.7,102.9 581.4,104.4 581.0,105.9 580.7,107.4 580.3,108.9 579.9,110.4 579.6,111.9 579.2,113.4 578.8,114.9 578.4,116.4 578.1,117.9 577.7,119.4 577.3,120.8 576.9,122.3 576.5,123.8 576.1,125.3 575.7,126.8 575.3,128.3 574.9,129.8 574.5,131.3 574.1,132.8 573.7,134.3 573.3,135.8 572.9,137.2 572.4,138.7 572.0,140.2 571.6,141.7 571.2,143.2 570.7,144.7 570.3,146.2 569.9,147.7 569.4,149.2 569.0,150.7 568.6,152.2 568.1,153.7 567.7,155.2 567.2,156.6 566.8,158.1 566.3,159.6 565.9,161.1 565.4,162.6 564.9,164.1 564.5,165.6 564.0,167.1 563.5,168.6 563.1,170.1 562.6,171.6 562.1,173.0 561.6,174.5 561.1,176.0 560.7,177.5 560.2,179.0 559.7,180.5 559.2,182.0" fill="none" stroke="#1a1a1a" stroke-width="0.75"/>
<polyline points="600.3,177.5 599.8,179.0 599.3,180.5 598.8,182.0" fill="none" stroke="#1a1a1a" stroke-width="0.75"/>
<rect x="474.3" y="89.9" width="6.2" height="5.2" fill="#f4f4f4" stroke="#555" stroke-width="0.5"/>
<text x="477.4" y="94" font-family='"Liberation Sans", sans-serif' font-size="4" text-anchor="middle" fill="#444" textLength="4.4" lengthAdjust="spacingAndGlyphs">75</text>
<rect x="531.9" y="91.9" width="6.2" height="5.2" fill="#f4f4f4" stroke="#555" stroke-width="0.5"/>
<text x="535" y="96" font-family='"Liberation Sans", sans-serif' font-size="4" text-anchor="middle" fill="#444" textLength="4.4" lengthAdjust="spacingAndGlyphs">70</text>
<rect x="579.3" y="91.9" width="6.2" height="5.2" fill="#f4f4f4" stroke="#555" stroke-width="0.5"/>
<text x="582.4" y="96" font-family='"Liberation Sans", sans-serif' font-size="4" text-anchor="middle" fill="#444" textLength="4.4" lengthAdjust="spacingAndGlyphs">65</text>
<circle cx="511.0" cy="92.5" r="2.1" fill="#c00000" stroke="#400" stroke-width="0.5"/>
<text x="506.8" y="94" font-family='"Liberation Sans", sans-serif' font-size="3.8" text-anchor="middle" fill="#222">6</text>
<line x1="421.3" y1="182.0" x2="421.3" y2="185.5" stroke="#444" stroke-width="0.8"/>
<text x="421.3" y="191.5" font-family='"Liberation Sans", sans-serif' font-size="4.3" text-anchor="middle" fill="#333">0.5</text>
<line x1="457.2" y1="182.0" x2="457.2" y2="185.5" stroke="#444" stroke-width="0.8"/>
<text x="457.2" y="191.5" font-family='"Liberation Sans", sans-serif' font-size="4.3" text-anchor="middle" fill="#333">0.6</text>
<line x1="493.0" y1="182.0" x2="493.0" y2="185.5" stroke="#444" stroke-width="0.8"/>
<text x="493" y="191.5" font-family='"Liberation Sans", sans-serif' font-size="4.3" text-anchor="middle" fill="#333">0.7</text>
<line x1="528.9" y1="182.0" x2="528.9" y2="185.5" stroke="#444" stroke-width="0.8"/>
<text x="528.9" y="191.5" font-family='"Liberation Sans", sans-serif' font-size="4.3" text-anchor="middle" fill="#333">0.8</text>
<line x1="564.7" y1="182.0" x2="564.7" y2="185.5" stroke="#444" stroke-width="0.8"/>
<text x="564.7" y="191.5" font-family='"Liberation Sans", sans-serif' font-size="4.3" text-anchor="middle" fill="#333">0.9</text>
<line x1="600.6" y1="182.0" x2="600.6" y2="185.5" stroke="#444" stroke-width="0.8"/>
<text x="600.6" y="191.5" font-family='"Liberation Sans", sans-serif' font-size="4.3" text-anchor="middle" fill="#333">1</text>
<line x1="417.3" y1="3.0" x2="421.3" y2="3.0" stroke="#444" stroke-width="0.8"/>
<text x="413.3" y="4.5" font-family='"Liberation Sans", sans-serif' font-size="4.3" text-anchor="middle" fill="#333">45</text>
<line x1="417.3" y1="38.8" x2="421.3" y2="38.8" stroke="#444" stroke-width="0.8"/>
<text x="413.3" y="40.3" font-family='"Liberation Sans", sans-serif' font-size="4.3" text-anchor="middle" fill="#333">43</text>
<line x1="417.3" y1="74.6" x2="421.3" y2="74.6" stroke="#444" stroke-width="0.8"/>
<text x="413.3" y="76.1" font-family='"Liberation Sans", sans-serif' font-size="4.3" text-anchor="middle" fill="#333">41</text>
<line x1="417.3" y1="110.4" x2="421.3" y2="110.4" stroke="#444" stroke-width="0.8"/>
<text x="413.3" y="111.9" font-family='"Liberation Sans", sans-serif' font-size="4.3" text-anchor="middle" fill="#333">39</text>
<line x1="417.3" y1="146.2" x2="421.3" y2="146.2" stroke="#444" stroke-width="0.8"/>
<text x="413.3" y="147.7" font-family='"Liberation Sans", sans-serif' font-size="4.3" text-anchor="middle" fill="#333">37</text>
<line x1="417.3" y1="182.0" x2="421.3" y2="182.0" stroke="#444" stroke-width="0.8"/>
<text x="413.3" y="183.5" font-family='"Liberation Sans", sans-serif' font-size="4.3" text-anchor="middle" fill="#333">35</text>
<rect x="421.3" y="3.0" width="179.3" height="179.0" fill="none" stroke="#555" stroke-width="0.9"/>
<text x="422.9" y="12" font-family='"Liberation Serif", serif' font-size="9.3" text-anchor="start" fill="#000">(c)</text>
<text x="509.2" y="200" font-family='"Liberation Serif", serif' font-size="6.5" text-anchor="middle" fill="#111" textLength="48.5" lengthAdjust="spacingAndGlyphs">Particle size (<tspan font-style="italic">X</tspan><tspan font-size="4" dy="1">1</tspan><tspan dy="-1">: mm)</tspan></text>
<text x="405.9" y="74.3" font-family='"Liberation Serif", serif' font-size="6.5" text-anchor="middle" fill="#111" transform="rotate(-90 405.9 74.3)" textLength="53.0" lengthAdjust="spacingAndGlyphs">Temperature (<tspan font-style="italic">X</tspan><tspan font-size="4" dy="1">2</tspan><tspan dy="-1">: °C)</tspan></text>
<polyline points="629.2,106.5 706.5,80.5 784.7,106.5" fill="none" stroke="#3c3c3c" stroke-width="0.75"/>
<polyline points="628.2,86.5 706.5,62.2 785.5,86.5" fill="none" stroke="#3c3c3c" stroke-width="0.75"/>
<polyline points="627.3,66.5 706.5,43.9 786.4,66.5" fill="none" stroke="#3c3c3c" stroke-width="0.75"/>
<polyline points="626.4,46.5 706.5,25.6 787.2,46.5" fill="none" stroke="#3c3c3c" stroke-width="0.75"/>
<polyline points="625.5,26.5 706.5,7.3 788.1,26.5" fill="none" stroke="#3c3c3c" stroke-width="0.75"/>
<polyline points="644.6,101.3 641.7,22.7" fill="none" stroke="#3c3c3c" stroke-width="0.75"/>
<polyline points="660.1,96.1 657.9,18.8" fill="none" stroke="#3c3c3c" stroke-width="0.75"/>
<polyline points="675.6,90.9 674.1,15.0" fill="none" stroke="#3c3c3c" stroke-width="0.75"/>
<polyline points="691.0,85.7 690.3,11.1" fill="none" stroke="#3c3c3c" stroke-width="0.75"/>
<polyline points="722.1,85.7 722.8,11.1" fill="none" stroke="#3c3c3c" stroke-width="0.75"/>
<polyline points="737.8,90.9 739.1,15.0" fill="none" stroke="#3c3c3c" stroke-width="0.75"/>
<polyline points="753.4,96.1 755.4,18.8" fill="none" stroke="#3c3c3c" stroke-width="0.75"/>
<polyline points="769.0,101.3 771.7,22.7" fill="none" stroke="#3c3c3c" stroke-width="0.75"/>
<polyline points="630.3,131.3 625.5,26.5" fill="none" stroke="#333" stroke-width="0.8"/>
<polyline points="706.5,103.2 706.5,7.3" fill="none" stroke="#333" stroke-width="0.8"/>
<polyline points="783.6,131.3 788.1,26.5" fill="none" stroke="#333" stroke-width="0.8"/>
<circle cx="629.2" cy="106.5" r="0.8" fill="#111"/>
<text x="626.2" y="104.9" font-family='"Liberation Sans", sans-serif' font-size="5.6" text-anchor="end" fill="#333">50</text>
<circle cx="628.2" cy="86.5" r="0.8" fill="#111"/>
<text x="625.2" y="84.9" font-family='"Liberation Sans", sans-serif' font-size="5.6" text-anchor="end" fill="#333">60</text>
<circle cx="627.3" cy="66.5" r="0.8" fill="#111"/>
<text x="624.3" y="64.9" font-family='"Liberation Sans", sans-serif' font-size="5.6" text-anchor="end" fill="#333">70</text>
<circle cx="626.4" cy="46.5" r="0.8" fill="#111"/>
<text x="623.4" y="44.9" font-family='"Liberation Sans", sans-serif' font-size="5.6" text-anchor="end" fill="#333">80</text>
<circle cx="625.5" cy="26.5" r="0.8" fill="#111"/>
<text x="622.5" y="24.9" font-family='"Liberation Sans", sans-serif' font-size="5.6" text-anchor="end" fill="#333">90</text>
<polygon points="630.3,131.3 706.5,103.2 783.6,131.3 706.5,168.4" fill="#666666" stroke="#1a1a1a" stroke-width="0.9"/>
<polyline points="747.9,118.3 748.7,118.8 749.4,119.2 750.1,119.7 750.8,120.1 751.5,120.6 752.2,121.1 753.0,121.5 753.7,122.0 754.4,122.5 755.1,122.9 755.8,123.4 756.5,123.9 757.2,124.4 757.9,124.8 758.5,125.3 759.2,125.8 759.9,126.3 760.6,126.8 761.3,127.2 762.0,127.7 762.6,128.2 763.3,128.7 764.0,129.2 764.6,129.7 765.3,130.2 766.0,130.7 766.6,131.2 767.3,131.7 767.9,132.2 768.6,132.7 769.2,133.2 769.9,133.8 770.5,134.3 771.2,134.8 771.8,135.3 772.5,135.8 773.1,136.4" fill="none" stroke="#22c07a" stroke-width="1.35"/>
<polyline points="701.6,105.0 702.5,105.4 703.4,105.8 704.3,106.2 705.1,106.6 706.0,107.0 706.9,107.3 707.8,107.7 708.6,108.1 709.5,108.5 710.4,108.9 711.2,109.3 712.1,109.7 712.9,110.1 713.8,110.5 714.6,110.9 715.4,111.4 716.3,111.8 717.1,112.2 717.9,112.6 718.7,113.0 719.6,113.4 720.4,113.9 721.2,114.3 722.0,114.7 722.8,115.1 723.6,115.6 724.4,116.0 725.2,116.4 726.0,116.8 726.8,117.3 727.6,117.7 728.4,118.2 729.1,118.6 729.9,119.0 730.7,119.5 731.5,119.9 732.2,120.4 733.0,120.8 733.8,121.3 734.5,121.7 735.3,122.2 736.0,122.6 736.8,123.1 737.5,123.6 738.3,124.0 739.0,124.5 739.7,125.0 740.5,125.4 741.2,125.9 741.9,126.4 742.7,126.8 743.4,127.3 744.1,127.8 744.8,128.3 745.5,128.8 746.2,129.2 747.0,129.7 747.7,130.2 748.4,130.7 749.1,131.2 749.8,131.7 750.5,132.2 751.1,132.7 751.8,133.2 752.5,133.7 753.2,134.2 753.9,134.7 754.6,135.2 755.2,135.7 755.9,136.2 756.6,136.7 757.3,137.3 757.9,137.8 758.6,138.3 759.2,138.8 759.9,139.3 760.6,139.9 761.2,140.4 761.9,140.9 762.5,141.5" fill="none" stroke="#33cc33" stroke-width="1.35"/>
<polyline points="688.3,109.9 689.2,110.3 690.1,110.7 691.1,111.1 692.0,111.5 692.9,111.9 693.9,112.3 694.8,112.7 695.7,113.1 696.6,113.4 697.5,113.9 698.4,114.3 699.3,114.7 700.2,115.1 701.1,115.5 701.9,115.9 702.8,116.3 703.7,116.7 704.6,117.1 705.4,117.5 706.3,118.0 707.1,118.4 708.0,118.8 708.8,119.2 709.7,119.7 710.5,120.1 711.4,120.5 712.2,121.0 713.0,121.4 713.8,121.8 714.7,122.3 715.5,122.7 716.3,123.2 717.1,123.6 717.9,124.0 718.7,124.5 719.5,124.9 720.3,125.4 721.1,125.9 721.9,126.3 722.7,126.8 723.5,127.2 724.2,127.7 725.0,128.2 725.8,128.6 726.5,129.1 727.3,129.6 728.1,130.0 728.8,130.5 729.6,131.0 730.3,131.5 731.1,131.9 731.8,132.4 732.6,132.9 733.3,133.4 734.0,133.9 734.8,134.4 735.5,134.9 736.2,135.4 737.0,135.9 737.7,136.4 738.4,136.9 739.1,137.4 739.8,137.9 740.5,138.4 741.2,138.9 741.9,139.4 742.6,139.9 743.3,140.4 744.0,140.9 744.7,141.5 745.4,142.0 746.1,142.5 746.8,143.0 747.4,143.6 748.1,144.1 748.8,144.6 749.4,145.2 750.1,145.7 750.8,146.2 751.4,146.8" fill="none" stroke="#88dd22" stroke-width="1.35"/>
<polyline points="671.5,116.1 672.5,116.5 673.5,116.9 674.6,117.2 675.6,117.6 676.6,118.0 677.6,118.4 678.6,118.8 679.6,119.2 680.5,119.6 681.5,120.0 682.5,120.4 683.4,120.8 684.4,121.2 685.3,121.6 686.3,122.0 687.2,122.4 688.2,122.8 689.1,123.2 690.0,123.6 690.9,124.1 691.8,124.5 692.8,124.9 693.7,125.3 694.6,125.8 695.4,126.2 696.3,126.6 697.2,127.1 698.1,127.5 699.0,127.9 699.8,128.4 700.7,128.8 701.6,129.3 702.4,129.7 703.3,130.1 704.1,130.6 705.0,131.1 705.8,131.5 706.6,132.0 707.5,132.4 708.3,132.9 709.1,133.4 709.9,133.8 710.7,134.3 711.5,134.8 712.3,135.2 713.1,135.7 713.9,136.2 714.7,136.7 715.5,137.1 716.3,137.6 717.1,138.1 717.9,138.6 718.6,139.1 719.4,139.6 720.2,140.1 720.9,140.6 721.7,141.1 722.5,141.6 723.2,142.1 724.0,142.6 724.7,143.1 725.4,143.6 726.2,144.1 726.9,144.6 727.6,145.1 728.4,145.7 729.1,146.2 729.8,146.7 730.5,147.2 731.2,147.7 732.0,148.3 732.7,148.8 733.4,149.3 734.1,149.9 734.8,150.4 735.5,151.0 736.1,151.5 736.8,152.0 737.5,152.6 738.2,153.1" fill="none" stroke="#dddd22" stroke-width="1.35"/>
<polyline points="649.4,124.3 650.6,124.6 651.8,124.9 653.0,125.3 654.2,125.6 655.3,126.0 656.5,126.4 657.6,126.7 658.7,127.1 659.9,127.5 661.0,127.8 662.1,128.2 663.2,128.6 664.2,129.0 665.3,129.4 666.4,129.8 667.4,130.1 668.5,130.5 669.5,130.9 670.6,131.3 671.6,131.7 672.6,132.2 673.6,132.6 674.6,133.0 675.6,133.4 676.6,133.8 677.6,134.2 678.5,134.7 679.5,135.1 680.5,135.5 681.4,135.9 682.4,136.4 683.3,136.8 684.2,137.3 685.2,137.7 686.1,138.1 687.0,138.6 687.9,139.0 688.8,139.5 689.7,139.9 690.6,140.4 691.5,140.9 692.4,141.3 693.3,141.8 694.1,142.3 695.0,142.7 695.8,143.2 696.7,143.7 697.6,144.2 698.4,144.6 699.2,145.1 700.1,145.6 700.9,146.1 701.7,146.6 702.6,147.1 703.4,147.6 704.2,148.1 705.0,148.6 705.8,149.1 706.6,149.6 707.4,150.1 708.2,150.6 709.0,151.1 709.7,151.6 710.5,152.1 711.3,152.7 712.1,153.2 712.8,153.7 713.6,154.2 714.3,154.8 715.1,155.3 715.8,155.8 716.6,156.4 717.3,156.9 718.1,157.4 718.8,158.0 719.5,158.5 720.2,159.1 721.0,159.6 721.7,160.2 722.4,160.8" fill="none" stroke="#e8a424" stroke-width="1.35"/>
<circle cx="645.5" cy="138.7" r="0.7" fill="#111"/>
<circle cx="721.9" cy="161.0" r="0.7" fill="#111"/>
<circle cx="660.8" cy="146.1" r="0.7" fill="#111"/>
<circle cx="737.3" cy="153.6" r="0.7" fill="#111"/>
<circle cx="676.0" cy="153.6" r="0.7" fill="#111"/>
<circle cx="752.8" cy="146.1" r="0.7" fill="#111"/>
<circle cx="691.3" cy="161.0" r="0.7" fill="#111"/>
<circle cx="768.2" cy="138.7" r="0.7" fill="#111"/>
<text x="624.6" y="137.3" font-family='"Liberation Sans", sans-serif' font-size="5.8" text-anchor="middle" fill="#333">45</text>
<text x="639.8" y="144.7" font-family='"Liberation Sans", sans-serif' font-size="5.8" text-anchor="middle" fill="#333">43</text>
<text x="655.1" y="152.1" font-family='"Liberation Sans", sans-serif' font-size="5.8" text-anchor="middle" fill="#333">41</text>
<text x="670.3" y="159.6" font-family='"Liberation Sans", sans-serif' font-size="5.8" text-anchor="middle" fill="#333">39</text>
<text x="685.6" y="167" font-family='"Liberation Sans", sans-serif' font-size="5.8" text-anchor="middle" fill="#333">37</text>
<text x="700.8" y="174.4" font-family='"Liberation Sans", sans-serif' font-size="5.8" text-anchor="middle" fill="#333">35</text>
<text x="712.8" y="173.9" font-family='"Liberation Sans", sans-serif' font-size="5.8" text-anchor="middle" fill="#333">0.5</text>
<text x="728.2" y="166.5" font-family='"Liberation Sans", sans-serif' font-size="5.8" text-anchor="middle" fill="#333">0.6</text>
<text x="743.6" y="159.1" font-family='"Liberation Sans", sans-serif' font-size="5.8" text-anchor="middle" fill="#333">0.7</text>
<text x="759.1" y="151.6" font-family='"Liberation Sans", sans-serif' font-size="5.8" text-anchor="middle" fill="#333">0.8</text>
<text x="774.5" y="144.2" font-family='"Liberation Sans", sans-serif' font-size="5.8" text-anchor="middle" fill="#333">0.9</text>
<text x="787" y="136.8" font-family='"Liberation Sans", sans-serif' font-size="5.8" text-anchor="middle" fill="#333">1</text>
<path d="M701.6 52.9 706.5 53.5 711.5 55.2 706.5 54.6" fill="#42b031" stroke="#42b031" stroke-width=".7"/>
<path d="M696.6 52.4 701.6 52.9 706.5 54.6 701.6 54.0" fill="#49b432" stroke="#49b432" stroke-width=".7"/>
<path d="M706.5 54.6 711.5 55.2 716.4 56.9 711.5 56.3" fill="#42af31" stroke="#42af31" stroke-width=".7"/>
<path d="M691.7 51.9 696.6 52.4 701.6 54.0 696.7 53.5" fill="#50b833" stroke="#50b833" stroke-width=".7"/>
<path d="M701.6 54.0 706.5 54.6 711.5 56.3 706.6 55.7" fill="#49b332" stroke="#49b332" stroke-width=".7"/>
<path d="M711.5 56.3 716.4 56.9 721.4 58.7 716.5 58.0" fill="#41af31" stroke="#41af31" stroke-width=".7"/>
<path d="M686.7 51.5 691.7 51.9 696.7 53.5 691.7 53.1" fill="#5abc34" stroke="#5abc34" stroke-width=".7"/>
<path d="M696.7 53.5 701.6 54.0 706.6 55.7 701.6 55.2" fill="#4fb733" stroke="#4fb733" stroke-width=".7"/>
<path d="M706.6 55.7 711.5 56.3 716.5 58.0 711.5 57.4" fill="#48b332" stroke="#48b332" stroke-width=".7"/>
<path d="M716.5 58.0 721.4 58.7 726.3 60.5 721.4 59.9" fill="#40ae31" stroke="#40ae31" stroke-width=".7"/>
<path d="M681.8 51.1 686.7 51.5 691.7 53.1 686.7 52.7" fill="#7bc536" stroke="#7bc536" stroke-width=".7"/>
<path d="M691.7 53.1 696.7 53.5 701.6 55.2 696.7 54.7" fill="#58bc33" stroke="#58bc33" stroke-width=".7"/>
<path d="M701.6 55.2 706.6 55.7 711.5 57.4 706.6 56.9" fill="#4fb733" stroke="#4fb733" stroke-width=".7"/>
<path d="M711.5 57.4 716.5 58.0 721.4 59.9 716.5 59.2" fill="#47b232" stroke="#47b232" stroke-width=".7"/>
<path d="M721.4 59.9 726.3 60.5 731.3 62.4 726.4 61.7" fill="#3fad31" stroke="#3fad31" stroke-width=".7"/>
<path d="M676.8 50.8 681.8 51.1 686.7 52.7 681.8 52.4" fill="#9bce38" stroke="#9bce38" stroke-width=".7"/>
<path d="M686.7 52.7 691.7 53.1 696.7 54.7 691.7 54.3" fill="#7ac536" stroke="#7ac536" stroke-width=".7"/>
<path d="M696.7 54.7 701.6 55.2 706.6 56.9 701.7 56.4" fill="#56bb33" stroke="#56bb33" stroke-width=".7"/>
<path d="M706.6 56.9 711.5 57.4 716.5 59.2 711.6 58.7" fill="#4eb632" stroke="#4eb632" stroke-width=".7"/>
<path d="M716.5 59.2 721.4 59.9 726.4 61.7 721.5 61.1" fill="#46b232" stroke="#46b232" stroke-width=".7"/>
<path d="M726.4 61.7 731.3 62.4 736.2 64.4 731.3 63.6" fill="#3eac31" stroke="#3eac31" stroke-width=".7"/>
<path d="M671.8 50.6 676.8 50.8 681.8 52.4 676.8 52.1" fill="#bcd63b" stroke="#bcd63b" stroke-width=".7"/>
<path d="M681.8 52.4 686.7 52.7 691.7 54.3 686.7 54.0" fill="#9bce38" stroke="#9bce38" stroke-width=".7"/>
<path d="M691.7 54.3 696.7 54.7 701.7 56.4 696.7 56.0" fill="#78c436" stroke="#78c436" stroke-width=".7"/>
<path d="M701.7 56.4 706.6 56.9 711.6 58.7 706.6 58.2" fill="#55ba33" stroke="#55ba33" stroke-width=".7"/>
<path d="M711.6 58.7 716.5 59.2 721.5 61.1 716.5 60.5" fill="#4db632" stroke="#4db632" stroke-width=".7"/>
<path d="M721.5 61.1 726.4 61.7 731.3 63.6 726.4 63.0" fill="#45b132" stroke="#45b132" stroke-width=".7"/>
<path d="M731.3 63.6 736.2 64.4 741.2 66.3 736.3 65.6" fill="#3caa30" stroke="#3caa30" stroke-width=".7"/>
<path d="M666.8 50.4 671.8 50.6 676.8 52.1 671.8 51.9" fill="#dbdd3e" stroke="#dbdd3e" stroke-width=".7"/>
<path d="M676.8 52.1 681.8 52.4 686.7 54.0 681.8 53.7" fill="#bcd63b" stroke="#bcd63b" stroke-width=".7"/>
<path d="M686.7 54.0 691.7 54.3 696.7 56.0 691.7 55.6" fill="#9acd38" stroke="#9acd38" stroke-width=".7"/>
<path d="M696.7 56.0 701.7 56.4 706.6 58.2 701.7 57.7" fill="#75c436" stroke="#75c436" stroke-width=".7"/>
<path d="M706.6 58.2 711.6 58.7 716.5 60.5 711.6 60.0" fill="#54ba33" stroke="#54ba33" stroke-width=".7"/>
<path d="M716.5 60.5 721.5 61.1 726.4 63.0 721.5 62.4" fill="#4cb532" stroke="#4cb532" stroke-width=".7"/>
<path d="M726.4 63.0 731.3 63.6 736.3 65.6 731.4 64.9" fill="#43b031" stroke="#43b031" stroke-width=".7"/>
<path d="M736.3 65.6 741.2 66.3 746.1 68.4 741.3 67.6" fill="#3ba82f" stroke="#3ba82f" stroke-width=".7"/>
<path d="M661.8 50.3 666.8 50.4 671.8 51.9 666.8 51.8" fill="#e9da3d" stroke="#e9da3d" stroke-width=".7"/>
<path d="M671.8 51.9 676.8 52.1 681.8 53.7 676.8 53.5" fill="#dcde3e" stroke="#dcde3e" stroke-width=".7"/>
<path d="M681.8 53.7 686.7 54.0 691.7 55.6 686.7 55.3" fill="#bcd63b" stroke="#bcd63b" stroke-width=".7"/>
<path d="M691.7 55.6 696.7 56.0 701.7 57.7 696.7 57.3" fill="#98cd38" stroke="#98cd38" stroke-width=".7"/>
<path d="M701.7 57.7 706.6 58.2 711.6 60.0 706.6 59.5" fill="#72c335" stroke="#72c335" stroke-width=".7"/>
<path d="M711.6 60.0 716.5 60.5 721.5 62.4 716.6 61.8" fill="#53b933" stroke="#53b933" stroke-width=".7"/>
<path d="M721.5 62.4 726.4 63.0 731.4 64.9 726.5 64.3" fill="#4bb532" stroke="#4bb532" stroke-width=".7"/>
<path d="M731.4 64.9 736.3 65.6 741.3 67.6 736.4 66.9" fill="#42af31" stroke="#42af31" stroke-width=".7"/>
<path d="M741.3 67.6 746.1 68.4 751.1 70.5 746.2 69.7" fill="#3aa62f" stroke="#3aa62f" stroke-width=".7"/>
<path d="M656.8 50.3 661.8 50.3 666.8 51.8 661.8 51.8" fill="#f1d43c" stroke="#f1d43c" stroke-width=".7"/>
<path d="M666.8 51.8 671.8 51.9 676.8 53.5 671.8 53.3" fill="#e9da3d" stroke="#e9da3d" stroke-width=".7"/>
<path d="M676.8 53.5 681.8 53.7 686.7 55.3 681.7 55.1" fill="#ddde3e" stroke="#ddde3e" stroke-width=".7"/>
<path d="M686.7 55.3 691.7 55.6 696.7 57.3 691.7 57.0" fill="#bbd53b" stroke="#bbd53b" stroke-width=".7"/>
<path d="M696.7 57.3 701.7 57.7 706.6 59.5 701.7 59.1" fill="#95cc38" stroke="#95cc38" stroke-width=".7"/>
<path d="M706.6 59.5 711.6 60.0 716.6 61.8 711.6 61.3" fill="#6ec135" stroke="#6ec135" stroke-width=".7"/>
<path d="M716.6 61.8 721.5 62.4 726.5 64.3 721.5 63.7" fill="#52b933" stroke="#52b933" stroke-width=".7"/>
<path d="M726.5 64.3 731.4 64.9 736.4 66.9 731.4 66.3" fill="#49b432" stroke="#49b432" stroke-width=".7"/>
<path d="M736.4 66.9 741.3 67.6 746.2 69.7 741.3 69.0" fill="#40ae31" stroke="#40ae31" stroke-width=".7"/>
<path d="M746.2 69.7 751.1 70.5 756.0 72.7 751.1 71.9" fill="#38a42e" stroke="#38a42e" stroke-width=".7"/>
<path d="M651.8 50.3 656.8 50.3 661.8 51.8 656.7 51.8" fill="#f8cf3b" stroke="#f8cf3b" stroke-width=".7"/>
<path d="M661.8 51.8 666.8 51.8 671.8 53.3 666.7 53.3" fill="#f2d43c" stroke="#f2d43c" stroke-width=".7"/>
<path d="M671.8 53.3 676.8 53.5 681.7 55.1 676.7 54.9" fill="#ead93d" stroke="#ead93d" stroke-width=".7"/>
<path d="M681.7 55.1 686.7 55.3 691.7 57.0 686.7 56.8" fill="#ddde3e" stroke="#ddde3e" stroke-width=".7"/>
<path d="M691.7 57.0 696.7 57.3 701.7 59.1 696.7 58.7" fill="#b9d53b" stroke="#b9d53b" stroke-width=".7"/>
<path d="M701.7 59.1 706.6 59.5 711.6 61.3 706.7 60.9" fill="#91cb38" stroke="#91cb38" stroke-width=".7"/>
<path d="M711.6 61.3 716.6 61.8 721.5 63.7 716.6 63.2" fill="#68c035" stroke="#68c035" stroke-width=".7"/>
<path d="M721.5 63.7 726.5 64.3 731.4 66.3 726.5 65.7" fill="#50b833" stroke="#50b833" stroke-width=".7"/>
<path d="M731.4 66.3 736.4 66.9 741.3 69.0 736.4 68.3" fill="#48b332" stroke="#48b332" stroke-width=".7"/>
<path d="M741.3 69.0 746.2 69.7 751.1 71.9 746.3 71.1" fill="#3ead31" stroke="#3ead31" stroke-width=".7"/>
<path d="M751.1 71.9 756.0 72.7 760.9 74.9 756.1 74.1" fill="#36a22d" stroke="#36a22d" stroke-width=".7"/>
<path d="M646.7 50.4 651.8 50.3 656.7 51.8 651.7 51.8" fill="#fdc539" stroke="#fdc539" stroke-width=".7"/>
<path d="M656.7 51.8 661.8 51.8 666.7 53.3 661.7 53.2" fill="#face3a" stroke="#face3a" stroke-width=".7"/>
<path d="M666.7 53.3 671.8 53.3 676.7 54.9 671.7 54.8" fill="#f2d33c" stroke="#f2d33c" stroke-width=".7"/>
<path d="M676.7 54.9 681.7 55.1 686.7 56.8 681.7 56.6" fill="#ead93d" stroke="#ead93d" stroke-width=".7"/>
<path d="M686.7 56.8 691.7 57.0 696.7 58.7 691.7 58.5" fill="#dbdd3e" stroke="#dbdd3e" stroke-width=".7"/>
<path d="M696.7 58.7 701.7 59.1 706.7 60.9 701.7 60.5" fill="#b6d43b" stroke="#b6d43b" stroke-width=".7"/>
<path d="M706.7 60.9 711.6 61.3 716.6 63.2 711.6 62.8" fill="#8cca37" stroke="#8cca37" stroke-width=".7"/>
<path d="M716.6 63.2 721.5 63.7 726.5 65.7 721.6 65.2" fill="#62be34" stroke="#62be34" stroke-width=".7"/>
<path d="M726.5 65.7 731.4 66.3 736.4 68.3 731.5 67.7" fill="#4fb733" stroke="#4fb733" stroke-width=".7"/>
<path d="M736.4 68.3 741.3 69.0 746.3 71.1 741.3 70.4" fill="#46b232" stroke="#46b232" stroke-width=".7"/>
<path d="M746.3 71.1 751.1 71.9 756.1 74.1 751.2 73.3" fill="#3dab30" stroke="#3dab30" stroke-width=".7"/>
<path d="M756.1 74.1 760.9 74.9 765.9 77.2 761.0 76.4" fill="#359f2d" stroke="#359f2d" stroke-width=".7"/>
<path d="M641.7 50.6 646.7 50.4 651.7 51.8 646.7 52.0" fill="#ffb837" stroke="#ffb837" stroke-width=".7"/>
<path d="M651.7 51.8 656.7 51.8 661.7 53.2 656.7 53.3" fill="#fec339" stroke="#fec339" stroke-width=".7"/>
<path d="M661.7 53.2 666.7 53.3 671.7 54.8 666.7 54.8" fill="#facd3a" stroke="#facd3a" stroke-width=".7"/>
<path d="M671.7 54.8 676.7 54.9 681.7 56.6 676.7 56.4" fill="#f3d33c" stroke="#f3d33c" stroke-width=".7"/>
<path d="M681.7 56.6 686.7 56.8 691.7 58.5 686.7 58.2" fill="#ead93d" stroke="#ead93d" stroke-width=".7"/>
<path d="M691.7 58.5 696.7 58.7 701.7 60.5 696.7 60.2" fill="#d9dd3e" stroke="#d9dd3e" stroke-width=".7"/>
<path d="M701.7 60.5 706.7 60.9 711.6 62.8 706.7 62.4" fill="#b1d33a" stroke="#b1d33a" stroke-width=".7"/>
<path d="M711.6 62.8 716.6 63.2 721.6 65.2 716.6 64.7" fill="#87c837" stroke="#87c837" stroke-width=".7"/>
<path d="M721.6 65.2 726.5 65.7 731.5 67.7 726.5 67.2" fill="#5bbc34" stroke="#5bbc34" stroke-width=".7"/>
<path d="M731.5 67.7 736.4 68.3 741.3 70.4 736.4 69.8" fill="#4db632" stroke="#4db632" stroke-width=".7"/>
<path d="M741.3 70.4 746.3 71.1 751.2 73.3 746.3 72.6" fill="#44b131" stroke="#44b131" stroke-width=".7"/>
<path d="M751.2 73.3 756.1 74.1 761.0 76.4 756.1 75.6" fill="#3ba82f" stroke="#3ba82f" stroke-width=".7"/>
<path d="M761.0 76.4 765.9 77.2 770.8 79.6 765.9 78.7" fill="#339c2c" stroke="#339c2c" stroke-width=".7"/>
<path d="M636.7 50.8 641.7 50.6 646.7 52.0 641.7 52.2" fill="#ffac36" stroke="#ffac36" stroke-width=".7"/>
<path d="M646.7 52.0 651.7 51.8 656.7 53.3 651.7 53.4" fill="#ffb537" stroke="#ffb537" stroke-width=".7"/>
<path d="M656.7 53.3 661.7 53.2 666.7 54.8 661.7 54.8" fill="#fec038" stroke="#fec038" stroke-width=".7"/>
<path d="M666.7 54.8 671.7 54.8 676.7 56.4 671.7 56.4" fill="#fbcd3a" stroke="#fbcd3a" stroke-width=".7"/>
<path d="M676.7 56.4 681.7 56.6 686.7 58.2 681.7 58.1" fill="#f3d33c" stroke="#f3d33c" stroke-width=".7"/>
<path d="M686.7 58.2 691.7 58.5 696.7 60.2 691.7 60.0" fill="#e9da3d" stroke="#e9da3d" stroke-width=".7"/>
<path d="M696.7 60.2 701.7 60.5 706.7 62.4 701.7 62.0" fill="#d6dc3d" stroke="#d6dc3d" stroke-width=".7"/>
<path d="M706.7 62.4 711.6 62.8 716.6 64.7 711.6 64.3" fill="#acd23a" stroke="#acd23a" stroke-width=".7"/>
<path d="M716.6 64.7 721.6 65.2 726.5 67.2 721.6 66.7" fill="#80c736" stroke="#80c736" stroke-width=".7"/>
<path d="M726.5 67.2 731.5 67.7 736.4 69.8 731.5 69.2" fill="#55bb33" stroke="#55bb33" stroke-width=".7"/>
<path d="M736.4 69.8 741.3 70.4 746.3 72.6 741.4 71.9" fill="#4cb532" stroke="#4cb532" stroke-width=".7"/>
<path d="M746.3 72.6 751.2 73.3 756.1 75.6 751.2 74.8" fill="#42af31" stroke="#42af31" stroke-width=".7"/>
<path d="M756.1 75.6 761.0 76.4 765.9 78.7 761.1 77.9" fill="#39a62f" stroke="#39a62f" stroke-width=".7"/>
<path d="M765.9 78.7 770.8 79.6 775.7 82.0 770.8 81.1" fill="#319a2b" stroke="#319a2b" stroke-width=".7"/>
<path d="M631.7 51.2 636.7 50.8 641.7 52.2 636.6 52.5" fill="#ffa134" stroke="#ffa134" stroke-width=".7"/>
<path d="M641.7 52.2 646.7 52.0 651.7 53.4 646.7 53.6" fill="#ffa835" stroke="#ffa835" stroke-width=".7"/>
<path d="M651.7 53.4 656.7 53.3 661.7 54.8 656.7 54.9" fill="#ffb237" stroke="#ffb237" stroke-width=".7"/>
<path d="M661.7 54.8 666.7 54.8 671.7 56.4 666.7 56.4" fill="#ffbf38" stroke="#ffbf38" stroke-width=".7"/>
<path d="M671.7 56.4 676.7 56.4 681.7 58.1 676.7 58.0" fill="#fbcc3a" stroke="#fbcc3a" stroke-width=".7"/>
<path d="M681.7 58.1 686.7 58.2 691.7 60.0 686.7 59.8" fill="#f3d33c" stroke="#f3d33c" stroke-width=".7"/>
<path d="M691.7 60.0 696.7 60.2 701.7 62.0 696.7 61.8" fill="#e9da3d" stroke="#e9da3d" stroke-width=".7"/>
<path d="M701.7 62.0 706.7 62.4 711.6 64.3 706.7 63.9" fill="#d1db3d" stroke="#d1db3d" stroke-width=".7"/>
<path d="M711.6 64.3 716.6 64.7 721.6 66.7 716.6 66.2" fill="#a6d039" stroke="#a6d039" stroke-width=".7"/>
<path d="M721.6 66.7 726.5 67.2 731.5 69.2 726.6 68.7" fill="#79c536" stroke="#79c536" stroke-width=".7"/>
<path d="M731.5 69.2 736.4 69.8 741.4 71.9 736.5 71.3" fill="#53ba33" stroke="#53ba33" stroke-width=".7"/>
<path d="M741.4 71.9 746.3 72.6 751.2 74.8 746.3 74.1" fill="#4ab432" stroke="#4ab432" stroke-width=".7"/>
<path d="M751.2 74.8 756.1 75.6 761.1 77.9 756.2 77.1" fill="#40ae31" stroke="#40ae31" stroke-width=".7"/>
<path d="M761.1 77.9 765.9 78.7 770.8 81.1 766.0 80.2" fill="#37a32e" stroke="#37a32e" stroke-width=".7"/>
<path d="M770.8 81.1 775.7 82.0 780.6 84.5 775.8 83.5" fill="#2f962a" stroke="#2f962a" stroke-width=".7"/>
<path d="M626.6 51.6 631.7 51.2 636.6 52.5 631.6 52.9" fill="#ff9633" stroke="#ff9633" stroke-width=".7"/>
<path d="M636.6 52.5 641.7 52.2 646.7 53.6 641.6 53.9" fill="#ff9d34" stroke="#ff9d34" stroke-width=".7"/>
<path d="M646.7 53.6 651.7 53.4 656.7 54.9 651.6 55.1" fill="#ffa535" stroke="#ffa535" stroke-width=".7"/>
<path d="M656.7 54.9 661.7 54.8 666.7 56.4 661.7 56.5" fill="#ffb036" stroke="#ffb036" stroke-width=".7"/>
<path d="M666.7 56.4 671.7 56.4 676.7 58.0 671.7 58.0" fill="#ffbe38" stroke="#ffbe38" stroke-width=".7"/>
<path d="M676.7 58.0 681.7 58.1 686.7 59.8 681.7 59.7" fill="#fbcc3a" stroke="#fbcc3a" stroke-width=".7"/>
<path d="M686.7 59.8 691.7 60.0 696.7 61.8 691.7 61.6" fill="#f2d33c" stroke="#f2d33c" stroke-width=".7"/>
<path d="M696.7 61.8 701.7 62.0 706.7 63.9 701.7 63.6" fill="#e8db3e" stroke="#e8db3e" stroke-width=".7"/>
<path d="M706.7 63.9 711.6 64.3 716.6 66.2 711.6 65.9" fill="#ccda3d" stroke="#ccda3d" stroke-width=".7"/>
<path d="M716.6 66.2 721.6 66.7 726.6 68.7 721.6 68.2" fill="#9fcf39" stroke="#9fcf39" stroke-width=".7"/>
<path d="M726.6 68.7 731.5 69.2 736.5 71.3 731.5 70.8" fill="#71c235" stroke="#71c235" stroke-width=".7"/>
<path d="M736.5 71.3 741.4 71.9 746.3 74.1 741.4 73.5" fill="#51b933" stroke="#51b933" stroke-width=".7"/>
<path d="M746.3 74.1 751.2 74.8 756.2 77.1 751.3 76.4" fill="#48b332" stroke="#48b332" stroke-width=".7"/>
<path d="M756.2 77.1 761.1 77.9 766.0 80.2 761.1 79.5" fill="#3eac31" stroke="#3eac31" stroke-width=".7"/>
<path d="M766.0 80.2 770.8 81.1 775.8 83.5 770.9 82.7" fill="#35a02d" stroke="#35a02d" stroke-width=".7"/>
<path d="M775.8 83.5 780.6 84.5 785.5 87.0 780.7 86.1" fill="#2d9229" stroke="#2d9229" stroke-width=".7"/>
<path d="M631.6 52.9 636.6 52.5 641.6 53.9 636.6 54.2" fill="#ff9232" stroke="#ff9232" stroke-width=".7"/>
<path d="M641.6 53.9 646.7 53.6 651.6 55.1 646.6 55.3" fill="#ff9933" stroke="#ff9933" stroke-width=".7"/>
<path d="M651.6 55.1 656.7 54.9 661.7 56.5 656.6 56.6" fill="#ffa335" stroke="#ffa335" stroke-width=".7"/>
<path d="M661.7 56.5 666.7 56.4 671.7 58.0 666.6 58.1" fill="#ffaf36" stroke="#ffaf36" stroke-width=".7"/>
<path d="M671.7 58.0 676.7 58.0 681.7 59.7 676.7 59.7" fill="#ffbd38" stroke="#ffbd38" stroke-width=".7"/>
<path d="M681.7 59.7 686.7 59.8 691.7 61.6 686.7 61.5" fill="#fbcd3a" stroke="#fbcd3a" stroke-width=".7"/>
<path d="M691.7 61.6 696.7 61.8 701.7 63.6 696.7 63.4" fill="#f1d43c" stroke="#f1d43c" stroke-width=".7"/>
<path d="M701.7 63.6 706.7 63.9 711.6 65.9 706.7 65.5" fill="#e6dc3e" stroke="#e6dc3e" stroke-width=".7"/>
<path d="M711.6 65.9 716.6 66.2 721.6 68.2 716.6 67.8" fill="#c6d83c" stroke="#c6d83c" stroke-width=".7"/>
<path d="M721.6 68.2 726.6 68.7 731.5 70.8 726.6 70.3" fill="#97cd38" stroke="#97cd38" stroke-width=".7"/>
<path d="M731.5 70.8 736.5 71.3 741.4 73.5 736.5 73.0" fill="#68c035" stroke="#68c035" stroke-width=".7"/>
<path d="M741.4 73.5 746.3 74.1 751.3 76.4 746.4 75.8" fill="#4fb733" stroke="#4fb733" stroke-width=".7"/>
<path d="M751.3 76.4 756.2 77.1 761.1 79.5 756.2 78.7" fill="#45b132" stroke="#45b132" stroke-width=".7"/>
<path d="M761.1 79.5 766.0 80.2 770.9 82.7 766.0 81.9" fill="#3ca930" stroke="#3ca930" stroke-width=".7"/>
<path d="M770.9 82.7 775.8 83.5 780.7 86.1 775.8 85.2" fill="#339d2c" stroke="#339d2c" stroke-width=".7"/>
<path d="M636.6 54.2 641.6 53.9 646.6 55.3 641.6 55.7" fill="#ff8e31" stroke="#ff8e31" stroke-width=".7"/>
<path d="M646.6 55.3 651.6 55.1 656.6 56.6 651.6 56.8" fill="#ff9633" stroke="#ff9633" stroke-width=".7"/>
<path d="M656.6 56.6 661.7 56.5 666.6 58.1 661.6 58.2" fill="#ffa134" stroke="#ffa134" stroke-width=".7"/>
<path d="M666.6 58.1 671.7 58.0 676.7 59.7 671.6 59.7" fill="#ffae36" stroke="#ffae36" stroke-width=".7"/>
<path d="M676.7 59.7 681.7 59.7 686.7 61.5 681.7 61.4" fill="#ffbd38" stroke="#ffbd38" stroke-width=".7"/>
<path d="M686.7 61.5 691.7 61.6 696.7 63.4 691.7 63.3" fill="#fbcd3a" stroke="#fbcd3a" stroke-width=".7"/>
<path d="M696.7 63.4 701.7 63.6 706.7 65.5 701.7 65.3" fill="#f0d53c" stroke="#f0d53c" stroke-width=".7"/>
<path d="M706.7 65.5 711.6 65.9 716.6 67.8 711.6 67.5" fill="#e5dd3e" stroke="#e5dd3e" stroke-width=".7"/>
<path d="M716.6 67.8 721.6 68.2 726.6 70.3 721.6 69.9" fill="#bfd63b" stroke="#bfd63b" stroke-width=".7"/>
<path d="M726.6 70.3 731.5 70.8 736.5 73.0 731.5 72.4" fill="#8eca37" stroke="#8eca37" stroke-width=".7"/>
<path d="M736.5 73.0 741.4 73.5 746.4 75.8 741.4 75.2" fill="#5ebd34" stroke="#5ebd34" stroke-width=".7"/>
<path d="M746.4 75.8 751.3 76.4 756.2 78.7 751.3 78.1" fill="#4db632" stroke="#4db632" stroke-width=".7"/>
<path d="M756.2 78.7 761.1 79.5 766.0 81.9 761.2 81.1" fill="#43b031" stroke="#43b031" stroke-width=".7"/>
<path d="M766.0 81.9 770.9 82.7 775.8 85.2 771.0 84.3" fill="#3aa62f" stroke="#3aa62f" stroke-width=".7"/>
<path d="M641.6 55.7 646.6 55.3 651.6 56.8 646.5 57.1" fill="#ff8b30" stroke="#ff8b30" stroke-width=".7"/>
<path d="M651.6 56.8 656.6 56.6 661.6 58.2 656.6 58.4" fill="#ff9432" stroke="#ff9432" stroke-width=".7"/>
<path d="M661.6 58.2 666.6 58.1 671.6 59.7 666.6 59.8" fill="#ff9f34" stroke="#ff9f34" stroke-width=".7"/>
<path d="M671.6 59.7 676.7 59.7 681.7 61.4 676.6 61.4" fill="#ffad36" stroke="#ffad36" stroke-width=".7"/>
<path d="M681.7 61.4 686.7 61.5 691.7 63.3 686.6 63.2" fill="#ffbe38" stroke="#ffbe38" stroke-width=".7"/>
<path d="M691.7 63.3 696.7 63.4 701.7 65.3 696.7 65.1" fill="#face3a" stroke="#face3a" stroke-width=".7"/>
<path d="M701.7 65.3 706.7 65.5 711.6 67.5 706.7 67.2" fill="#efd63c" stroke="#efd63c" stroke-width=".7"/>
<path d="M711.6 67.5 716.6 67.8 721.6 69.9 716.6 69.5" fill="#e3df3e" stroke="#e3df3e" stroke-width=".7"/>
<path d="M721.6 69.9 726.6 70.3 731.5 72.4 726.6 72.0" fill="#b6d43b" stroke="#b6d43b" stroke-width=".7"/>
<path d="M731.5 72.4 736.5 73.0 741.4 75.2 736.5 74.6" fill="#85c837" stroke="#85c837" stroke-width=".7"/>
<path d="M741.4 75.2 746.4 75.8 751.3 78.1 746.4 77.4" fill="#55bb33" stroke="#55bb33" stroke-width=".7"/>
<path d="M751.3 78.1 756.2 78.7 761.2 81.1 756.3 80.4" fill="#4bb532" stroke="#4bb532" stroke-width=".7"/>
<path d="M761.2 81.1 766.0 81.9 771.0 84.3 766.1 83.6" fill="#40ae31" stroke="#40ae31" stroke-width=".7"/>
<path d="M646.5 57.1 651.6 56.8 656.6 58.4 651.5 58.7" fill="#ff8830" stroke="#ff8830" stroke-width=".7"/>
<path d="M656.6 58.4 661.6 58.2 666.6 59.8 661.6 60.0" fill="#ff9232" stroke="#ff9232" stroke-width=".7"/>
<path d="M666.6 59.8 671.6 59.7 676.6 61.4 671.6 61.5" fill="#ff9e34" stroke="#ff9e34" stroke-width=".7"/>
<path d="M676.6 61.4 681.7 61.4 686.6 63.2 681.6 63.1" fill="#ffad36" stroke="#ffad36" stroke-width=".7"/>
<path d="M686.6 63.2 691.7 63.3 696.7 65.1 691.6 65.0" fill="#ffbf38" stroke="#ffbf38" stroke-width=".7"/>
<path d="M696.7 65.1 701.7 65.3 706.7 67.2 701.6 67.0" fill="#f9ce3b" stroke="#f9ce3b" stroke-width=".7"/>
<path d="M706.7 67.2 711.6 67.5 716.6 69.5 711.6 69.2" fill="#edd73d" stroke="#edd73d" stroke-width=".7"/>
<path d="M716.6 69.5 721.6 69.9 726.6 72.0 721.6 71.6" fill="#ddde3e" stroke="#ddde3e" stroke-width=".7"/>
<path d="M726.6 72.0 731.5 72.4 736.5 74.6 731.6 74.2" fill="#add23a" stroke="#add23a" stroke-width=".7"/>
<path d="M736.5 74.6 741.4 75.2 746.4 77.4 741.5 76.9" fill="#7bc536" stroke="#7bc536" stroke-width=".7"/>
<path d="M746.4 77.4 751.3 78.1 756.3 80.4 751.4 79.8" fill="#53b933" stroke="#53b933" stroke-width=".7"/>
<path d="M756.3 80.4 761.2 81.1 766.1 83.6 761.2 82.9" fill="#49b332" stroke="#49b332" stroke-width=".7"/>
<path d="M651.5 58.7 656.6 58.4 661.6 60.0 656.5 60.2" fill="#ff862f" stroke="#ff862f" stroke-width=".7"/>
<path d="M661.6 60.0 666.6 59.8 671.6 61.5 666.6 61.6" fill="#ff9131" stroke="#ff9131" stroke-width=".7"/>
<path d="M671.6 61.5 676.6 61.4 681.6 63.1 676.6 63.2" fill="#ff9e34" stroke="#ff9e34" stroke-width=".7"/>
<path d="M681.6 63.1 686.6 63.2 691.6 65.0 686.6 65.0" fill="#ffae36" stroke="#ffae36" stroke-width=".7"/>
<path d="M691.6 65.0 696.7 65.1 701.6 67.0 696.6 66.9" fill="#fec138" stroke="#fec138" stroke-width=".7"/>
<path d="M701.6 67.0 706.7 67.2 711.6 69.2 706.6 69.0" fill="#f7cf3b" stroke="#f7cf3b" stroke-width=".7"/>
<path d="M711.6 69.2 716.6 69.5 721.6 71.6 716.6 71.3" fill="#ecd83d" stroke="#ecd83d" stroke-width=".7"/>
<path d="M721.6 71.6 726.6 72.0 731.6 74.2 726.6 73.8" fill="#d5dc3d" stroke="#d5dc3d" stroke-width=".7"/>
<path d="M731.6 74.2 736.5 74.6 741.5 76.9 736.5 76.4" fill="#a3d039" stroke="#a3d039" stroke-width=".7"/>
<path d="M741.5 76.9 746.4 77.4 751.4 79.8 746.4 79.2" fill="#70c235" stroke="#70c235" stroke-width=".7"/>
<path d="M751.4 79.8 756.3 80.4 761.2 82.9 756.3 82.2" fill="#50b833" stroke="#50b833" stroke-width=".7"/>
<path d="M656.5 60.2 661.6 60.0 666.6 61.6 661.5 61.9" fill="#ff842f" stroke="#ff842f" stroke-width=".7"/>
<path d="M666.6 61.6 671.6 61.5 676.6 63.2 671.6 63.3" fill="#ff9031" stroke="#ff9031" stroke-width=".7"/>
<path d="M676.6 63.2 681.6 63.1 686.6 65.0 681.6 65.0" fill="#ff9e34" stroke="#ff9e34" stroke-width=".7"/>
<path d="M686.6 65.0 691.6 65.0 696.6 66.9 691.6 66.8" fill="#ffaf36" stroke="#ffaf36" stroke-width=".7"/>
<path d="M696.6 66.9 701.6 67.0 706.6 69.0 701.6 68.8" fill="#fec339" stroke="#fec339" stroke-width=".7"/>
<path d="M706.6 69.0 711.6 69.2 716.6 71.3 711.6 71.0" fill="#f6d13b" stroke="#f6d13b" stroke-width=".7"/>
<path d="M716.6 71.3 721.6 71.6 726.6 73.8 721.6 73.4" fill="#e9da3d" stroke="#e9da3d" stroke-width=".7"/>
<path d="M726.6 73.8 731.6 74.2 736.5 76.4 731.6 76.0" fill="#cbd93d" stroke="#cbd93d" stroke-width=".7"/>
<path d="M736.5 76.4 741.5 76.9 746.4 79.2 741.5 78.7" fill="#98cd38" stroke="#98cd38" stroke-width=".7"/>
<path d="M746.4 79.2 751.4 79.8 756.3 82.2 751.4 81.6" fill="#64bf34" stroke="#64bf34" stroke-width=".7"/>
<path d="M661.5 61.9 666.6 61.6 671.6 63.3 666.5 63.5" fill="#ff832e" stroke="#ff832e" stroke-width=".7"/>
<path d="M671.6 63.3 676.6 63.2 681.6 65.0 676.6 65.1" fill="#ff9031" stroke="#ff9031" stroke-width=".7"/>
<path d="M681.6 65.0 686.6 65.0 691.6 66.8 686.6 66.8" fill="#ff9f34" stroke="#ff9f34" stroke-width=".7"/>
<path d="M691.6 66.8 696.6 66.9 701.6 68.8 696.6 68.7" fill="#ffb136" stroke="#ffb136" stroke-width=".7"/>
<path d="M701.6 68.8 706.6 69.0 711.6 71.0 706.6 70.8" fill="#fdc639" stroke="#fdc639" stroke-width=".7"/>
<path d="M711.6 71.0 716.6 71.3 721.6 73.4 716.6 73.1" fill="#f4d23b" stroke="#f4d23b" stroke-width=".7"/>
<path d="M721.6 73.4 726.6 73.8 731.6 76.0 726.6 75.6" fill="#e7dc3e" stroke="#e7dc3e" stroke-width=".7"/>
<path d="M731.6 76.0 736.5 76.4 741.5 78.7 736.5 78.2" fill="#c1d73c" stroke="#c1d73c" stroke-width=".7"/>
<path d="M741.5 78.7 746.4 79.2 751.4 81.6 746.4 81.0" fill="#8cca37" stroke="#8cca37" stroke-width=".7"/>
<path d="M666.5 63.5 671.6 63.3 676.6 65.1 671.5 65.3" fill="#ff822e" stroke="#ff822e" stroke-width=".7"/>
<path d="M676.6 65.1 681.6 65.0 686.6 66.8 681.5 66.9" fill="#ff9031" stroke="#ff9031" stroke-width=".7"/>
<path d="M686.6 66.8 691.6 66.8 696.6 68.7 691.6 68.7" fill="#ffa034" stroke="#ffa034" stroke-width=".7"/>
<path d="M696.6 68.7 701.6 68.8 706.6 70.8 701.6 70.7" fill="#ffb337" stroke="#ffb337" stroke-width=".7"/>
<path d="M706.6 70.8 711.6 71.0 716.6 73.1 711.6 72.9" fill="#fdc93a" stroke="#fdc93a" stroke-width=".7"/>
<path d="M716.6 73.1 721.6 73.4 726.6 75.6 721.6 75.3" fill="#f2d43c" stroke="#f2d43c" stroke-width=".7"/>
<path d="M726.6 75.6 731.6 76.0 736.5 78.2 731.6 77.8" fill="#e4de3e" stroke="#e4de3e" stroke-width=".7"/>
<path d="M736.5 78.2 741.5 78.7 746.4 81.0 741.5 80.6" fill="#b6d43b" stroke="#b6d43b" stroke-width=".7"/>
<path d="M671.5 65.3 676.6 65.1 681.5 66.9 676.5 67.1" fill="#ff822e" stroke="#ff822e" stroke-width=".7"/>
<path d="M681.5 66.9 686.6 66.8 691.6 68.7 686.5 68.8" fill="#ff9131" stroke="#ff9131" stroke-width=".7"/>
<path d="M691.6 68.7 696.6 68.7 701.6 70.7 696.6 70.7" fill="#ffa234" stroke="#ffa234" stroke-width=".7"/>
<path d="M701.6 70.7 706.6 70.8 711.6 72.9 706.6 72.8" fill="#ffb637" stroke="#ffb637" stroke-width=".7"/>
<path d="M711.6 72.9 716.6 73.1 721.6 75.3 716.6 75.0" fill="#fccc3a" stroke="#fccc3a" stroke-width=".7"/>
<path d="M721.6 75.3 726.6 75.6 731.6 77.8 726.6 77.5" fill="#efd63c" stroke="#efd63c" stroke-width=".7"/>
<path d="M731.6 77.8 736.5 78.2 741.5 80.6 736.5 80.1" fill="#dede3e" stroke="#dede3e" stroke-width=".7"/>
<path d="M676.5 67.1 681.5 66.9 686.5 68.8 681.5 68.9" fill="#ff822e" stroke="#ff822e" stroke-width=".7"/>
<path d="M686.5 68.8 691.6 68.7 696.6 70.7 691.5 70.7" fill="#ff9232" stroke="#ff9232" stroke-width=".7"/>
<path d="M696.6 70.7 701.6 70.7 706.6 72.8 701.6 72.7" fill="#ffa435" stroke="#ffa435" stroke-width=".7"/>
<path d="M706.6 72.8 711.6 72.9 716.6 75.0 711.6 74.9" fill="#ffba38" stroke="#ffba38" stroke-width=".7"/>
<path d="M716.6 75.0 721.6 75.3 726.6 77.5 721.6 77.2" fill="#face3a" stroke="#face3a" stroke-width=".7"/>
<path d="M726.6 77.5 731.6 77.8 736.5 80.1 731.6 79.8" fill="#ecd83d" stroke="#ecd83d" stroke-width=".7"/>
<path d="M681.5 68.9 686.5 68.8 691.5 70.7 686.5 70.8" fill="#ff832e" stroke="#ff832e" stroke-width=".7"/>
<path d="M691.5 70.7 696.6 70.7 701.6 72.7 696.5 72.7" fill="#ff9432" stroke="#ff9432" stroke-width=".7"/>
<path d="M701.6 72.7 706.6 72.8 711.6 74.9 706.6 74.8" fill="#ffa735" stroke="#ffa735" stroke-width=".7"/>
<path d="M711.6 74.9 716.6 75.0 721.6 77.2 716.6 77.0" fill="#ffbe38" stroke="#ffbe38" stroke-width=".7"/>
<path d="M721.6 77.2 726.6 77.5 731.6 79.8 726.6 79.5" fill="#f7d03b" stroke="#f7d03b" stroke-width=".7"/>
<path d="M686.5 70.8 691.5 70.7 696.5 72.7 691.5 72.8" fill="#ff852f" stroke="#ff852f" stroke-width=".7"/>
<path d="M696.5 72.7 701.6 72.7 706.6 74.8 701.5 74.7" fill="#ff9633" stroke="#ff9633" stroke-width=".7"/>
<path d="M706.6 74.8 711.6 74.9 716.6 77.0 711.6 76.9" fill="#ffab36" stroke="#ffab36" stroke-width=".7"/>
<path d="M716.6 77.0 721.6 77.2 726.6 79.5 721.6 79.3" fill="#fec239" stroke="#fec239" stroke-width=".7"/>
<path d="M691.5 72.8 696.5 72.7 701.5 74.7 696.5 74.8" fill="#ff862f" stroke="#ff862f" stroke-width=".7"/>
<path d="M701.5 74.7 706.6 74.8 711.6 76.9 706.5 76.9" fill="#ff9933" stroke="#ff9933" stroke-width=".7"/>
<path d="M711.6 76.9 716.6 77.0 721.6 79.3 716.6 79.1" fill="#ffaf36" stroke="#ffaf36" stroke-width=".7"/>
<path d="M696.5 74.8 701.5 74.7 706.5 76.9 701.5 76.9" fill="#ff8930" stroke="#ff8930" stroke-width=".7"/>
<path d="M706.5 76.9 711.6 76.9 716.6 79.1 711.5 79.0" fill="#ff9d34" stroke="#ff9d34" stroke-width=".7"/>
<path d="M701.5 76.9 706.5 76.9 711.5 79.0 706.5 79.0" fill="#ff8c30" stroke="#ff8c30" stroke-width=".7"/>
<path d="M626.6 51.6 631.9 53.0 637.2 54.4 642.6 56.0 647.9 57.5 653.2 59.2 658.5 60.9 663.8 62.6 669.2 64.4 674.5 66.3 679.8 68.3 685.2 70.3 690.5 72.4 695.8 74.5 701.2 76.7 706.5 79.0M626.6 51.6 632.0 51.1 637.4 50.8 642.7 50.6 648.1 50.4 653.4 50.3 658.8 50.3 664.1 50.4 669.5 50.5 674.8 50.7 680.1 51.0 685.4 51.4 690.7 51.8 696.0 52.3 701.2 52.9 706.5 53.5M629.3 51.3 634.6 52.8 639.9 54.2 645.2 55.8 650.6 57.4 655.9 59.0 661.2 60.7 666.5 62.5 671.9 64.3 677.2 66.2 682.5 68.2 687.9 70.2 693.2 72.3 698.5 74.5 703.9 76.7 709.2 79.0M629.3 52.3 634.7 51.9 640.0 51.5 645.4 51.3 650.7 51.1 656.1 51.1 661.4 51.1 666.8 51.2 672.1 51.3 677.4 51.6 682.8 51.9 688.1 52.2 693.3 52.7 698.6 53.2 703.9 53.8 709.1 54.4M632.0 51.1 637.3 52.6 642.6 54.1 647.9 55.6 653.2 57.2 658.6 58.9 663.9 60.6 669.2 62.4 674.6 64.3 679.9 66.2 685.2 68.1 690.5 70.2 695.9 72.3 701.2 74.5 706.5 76.7 711.9 79.0M631.9 53.0 637.3 52.6 642.7 52.3 648.0 52.0 653.4 51.9 658.8 51.9 664.1 51.9 669.4 52.0 674.8 52.1 680.1 52.4 685.4 52.7 690.7 53.1 696.0 53.5 701.3 54.1 706.5 54.7 711.8 55.3M634.7 51.0 640.0 52.4 645.3 53.9 650.6 55.5 655.9 57.1 661.3 58.8 666.6 60.5 671.9 62.3 677.2 64.2 682.6 66.1 687.9 68.1 693.2 70.2 698.6 72.3 703.9 74.5 709.2 76.7 714.5 79.1M634.6 53.7 640.0 53.3 645.3 53.0 650.7 52.8 656.1 52.7 661.4 52.6 666.8 52.7 672.1 52.8 677.4 53.0 682.8 53.2 688.1 53.6 693.4 54.0 698.7 54.4 703.9 55.0 709.2 55.6 714.4 56.2M637.4 50.8 642.7 52.3 648.0 53.8 653.3 55.4 658.6 57.0 663.9 58.7 669.3 60.4 674.6 62.3 679.9 64.1 685.3 66.1 690.6 68.1 695.9 70.2 701.2 72.3 706.6 74.5 711.9 76.8 717.2 79.1M637.2 54.4 642.6 54.1 648.0 53.8 653.4 53.6 658.7 53.5 664.1 53.4 669.4 53.5 674.8 53.6 680.1 53.8 685.4 54.1 690.7 54.4 696.0 54.8 701.3 55.3 706.6 55.9 711.8 56.5 717.1 57.1M640.0 50.7 645.4 52.2 650.7 53.7 656.0 55.3 661.3 56.9 666.6 58.6 672.0 60.4 677.3 62.2 682.6 64.1 687.9 66.1 693.3 68.1 698.6 70.2 703.9 72.3 709.2 74.6 714.6 76.8 719.9 79.2M639.9 55.2 645.3 54.8 650.6 54.6 656.0 54.4 661.4 54.3 666.7 54.3 672.1 54.3 677.4 54.5 682.7 54.7 688.1 55.0 693.4 55.3 698.7 55.7 704.0 56.2 709.2 56.8 714.5 57.4 719.7 58.1M642.7 50.6 648.0 52.0 653.4 53.6 658.7 55.2 664.0 56.9 669.3 58.6 674.6 60.4 680.0 62.2 685.3 64.1 690.6 66.1 695.9 68.1 701.3 70.2 706.6 72.4 711.9 74.6 717.2 76.9 722.6 79.3M642.6 56.0 647.9 55.6 653.3 55.4 658.7 55.2 664.0 55.1 669.4 55.1 674.7 55.2 680.1 55.3 685.4 55.5 690.7 55.8 696.0 56.2 701.3 56.6 706.6 57.2 711.9 57.7 717.1 58.4 722.4 59.1M645.4 50.5 650.7 52.0 656.0 53.5 661.4 55.1 666.7 56.8 672.0 58.6 677.3 60.3 682.6 62.2 688.0 64.1 693.3 66.1 698.6 68.2 704.0 70.3 709.3 72.5 714.6 74.7 719.9 77.0 725.2 79.4M645.2 56.7 650.6 56.4 656.0 56.2 661.3 56.0 666.7 55.9 672.0 56.0 677.4 56.0 682.7 56.2 688.1 56.4 693.4 56.7 698.7 57.1 704.0 57.6 709.3 58.1 714.5 58.7 719.8 59.3 725.0 60.0M648.1 50.4 653.4 51.9 658.7 53.5 664.0 55.1 669.4 56.8 674.7 58.5 680.0 60.4 685.3 62.2 690.7 64.2 696.0 66.2 701.3 68.2 706.6 70.3 711.9 72.5 717.3 74.8 722.6 77.1 727.9 79.6M647.9 57.5 653.2 57.2 658.6 57.0 664.0 56.9 669.4 56.8 674.7 56.8 680.1 56.9 685.4 57.1 690.7 57.3 696.0 57.7 701.3 58.1 706.6 58.5 711.9 59.0 717.2 59.6 722.4 60.3 727.7 61.0M650.8 50.3 656.1 51.9 661.4 53.5 666.7 55.1 672.0 56.8 677.4 58.6 682.7 60.4 688.0 62.3 693.3 64.2 698.7 66.2 704.0 68.3 709.3 70.4 714.6 72.7 719.9 74.9 725.2 77.3 730.6 79.7M650.5 58.3 655.9 58.1 661.3 57.8 666.7 57.7 672.0 57.7 677.4 57.7 682.7 57.8 688.1 58.0 693.4 58.3 698.7 58.6 704.0 59.0 709.3 59.5 714.6 60.0 719.8 60.6 725.1 61.3 730.3 62.0M653.4 50.3 658.8 51.9 664.1 53.4 669.4 55.1 674.7 56.8 680.0 58.6 685.4 60.4 690.7 62.3 696.0 64.3 701.3 66.3 706.6 68.4 712.0 70.6 717.3 72.8 722.6 75.1 727.9 77.5 733.2 79.9M653.2 59.2 658.6 58.9 663.9 58.7 669.3 58.6 674.7 58.5 680.0 58.6 685.4 58.7 690.7 58.9 696.0 59.2 701.3 59.5 706.6 60.0 711.9 60.4 717.2 61.0 722.5 61.6 727.7 62.3 732.9 63.1M656.1 50.3 661.4 51.9 666.7 53.5 672.1 55.1 677.4 56.9 682.7 58.6 688.0 60.5 693.3 62.4 698.7 64.4 704.0 66.4 709.3 68.5 714.6 70.7 719.9 72.9 725.3 75.2 730.6 77.6 735.9 80.1M655.9 60.0 661.2 59.7 666.6 59.6 672.0 59.5 677.3 59.4 682.7 59.5 688.0 59.6 693.4 59.9 698.7 60.1 704.0 60.5 709.3 60.9 714.6 61.4 719.9 62.0 725.1 62.6 730.4 63.3 735.6 64.1M658.8 50.3 664.1 51.9 669.4 53.5 674.7 55.2 680.1 56.9 685.4 58.7 690.7 60.6 696.0 62.5 701.3 64.5 706.7 66.5 712.0 68.7 717.3 70.9 722.6 73.1 727.9 75.4 733.2 77.8 738.5 80.3M658.5 60.9 663.9 60.6 669.3 60.4 674.6 60.4 680.0 60.4 685.4 60.4 690.7 60.6 696.0 60.8 701.3 61.1 706.7 61.5 712.0 61.9 717.2 62.4 722.5 63.0 727.8 63.7 733.0 64.4 738.2 65.1M661.5 50.3 666.8 51.9 672.1 53.5 677.4 55.2 682.7 57.0 688.0 58.8 693.4 60.7 698.7 62.6 704.0 64.6 709.3 66.7 714.6 68.8 719.9 71.0 725.3 73.3 730.6 75.6 735.9 78.0 741.2 80.5M661.2 61.7 666.6 61.5 671.9 61.3 677.3 61.3 682.7 61.3 688.0 61.4 693.4 61.5 698.7 61.8 704.0 62.1 709.3 62.5 714.6 62.9 719.9 63.5 725.2 64.1 730.4 64.7 735.6 65.4 740.9 66.2M664.1 50.4 669.4 52.0 674.8 53.6 680.1 55.3 685.4 57.1 690.7 58.9 696.0 60.8 701.3 62.8 706.7 64.8 712.0 66.9 717.3 69.0 722.6 71.2 727.9 73.5 733.2 75.9 738.5 78.3 743.8 80.8M663.8 62.6 669.2 62.4 674.6 62.3 680.0 62.2 685.3 62.2 690.7 62.3 696.0 62.5 701.3 62.8 706.7 63.1 712.0 63.5 717.3 64.0 722.5 64.5 727.8 65.1 733.1 65.8 738.3 66.5 743.5 67.3M666.8 50.4 672.1 52.0 677.4 53.7 682.7 55.4 688.1 57.2 693.4 59.0 698.7 60.9 704.0 62.9 709.3 64.9 714.6 67.0 719.9 69.2 725.3 71.4 730.6 73.7 735.9 76.1 741.2 78.5 746.4 81.0M666.5 63.5 671.9 63.3 677.3 63.2 682.6 63.1 688.0 63.2 693.3 63.3 698.7 63.5 704.0 63.8 709.3 64.1 714.6 64.5 719.9 65.0 725.2 65.6 730.5 66.2 735.7 66.9 740.9 67.6 746.1 68.4M669.5 50.5 674.8 52.1 680.1 53.8 685.4 55.5 690.7 57.3 696.0 59.2 701.3 61.1 706.7 63.1 712.0 65.1 717.3 67.2 722.6 69.4 727.9 71.7 733.2 74.0 738.5 76.3 743.8 78.8 749.1 81.3M669.2 64.4 674.6 64.3 679.9 64.1 685.3 64.1 690.7 64.2 696.0 64.3 701.3 64.5 706.7 64.8 712.0 65.1 717.3 65.6 722.6 66.1 727.8 66.6 733.1 67.3 738.3 67.9 743.6 68.7 748.8 69.5M672.1 50.6 677.4 52.3 682.7 53.9 688.1 55.7 693.4 57.5 698.7 59.4 704.0 61.3 709.3 63.3 714.6 65.3 719.9 67.5 725.2 69.6 730.5 71.9 735.8 74.2 741.1 76.6 746.4 79.1 751.7 81.6M671.8 65.4 677.2 65.2 682.6 65.1 688.0 65.1 693.3 65.1 698.7 65.3 704.0 65.5 709.3 65.8 714.6 66.2 719.9 66.6 725.2 67.1 730.5 67.7 735.7 68.3 741.0 69.1 746.2 69.8 751.4 70.7M674.8 50.7 680.1 52.4 685.4 54.1 690.7 55.8 696.0 57.7 701.3 59.5 706.7 61.5 712.0 63.5 717.3 65.6 722.6 67.7 727.9 69.9 733.2 72.2 738.5 74.5 743.8 76.9 749.1 79.4 754.3 81.9M674.5 66.3 679.9 66.2 685.3 66.1 690.6 66.1 696.0 66.2 701.3 66.3 706.7 66.5 712.0 66.9 717.3 67.2 722.6 67.7 727.9 68.2 733.1 68.8 738.4 69.5 743.6 70.2 748.8 71.0 754.0 71.8M677.4 50.9 682.8 52.5 688.1 54.2 693.4 56.0 698.7 57.8 704.0 59.7 709.3 61.7 714.6 63.7 719.9 65.8 725.2 67.9 730.5 70.2 735.8 72.4 741.1 74.8 746.4 77.2 751.7 79.7 757.0 82.3M677.2 67.3 682.6 67.1 687.9 67.1 693.3 67.1 698.6 67.2 704.0 67.4 709.3 67.6 714.6 67.9 719.9 68.3 725.2 68.8 730.5 69.3 735.8 69.9 741.0 70.6 746.3 71.3 751.5 72.1 756.7 73.0M680.1 51.0 685.4 52.7 690.7 54.4 696.0 56.2 701.3 58.1 706.6 60.0 712.0 61.9 717.3 64.0 722.6 66.1 727.9 68.2 733.2 70.4 738.5 72.7 743.7 75.1 749.0 77.5 754.3 80.0 759.6 82.6M679.8 68.3 685.2 68.1 690.6 68.1 695.9 68.1 701.3 68.2 706.6 68.4 712.0 68.7 717.3 69.0 722.6 69.4 727.9 69.9 733.2 70.4 738.4 71.1 743.7 71.7 748.9 72.5 754.1 73.3 759.3 74.2M682.8 51.2 688.1 52.9 693.4 54.6 698.7 56.4 704.0 58.3 709.3 60.2 714.6 62.2 719.9 64.2 725.2 66.3 730.5 68.5 735.8 70.7 741.1 73.1 746.4 75.4 751.6 77.9 756.9 80.4 762.2 83.0M682.5 69.3 687.9 69.2 693.3 69.1 698.6 69.2 704.0 69.3 709.3 69.5 714.6 69.8 719.9 70.1 725.2 70.5 730.5 71.0 735.8 71.6 741.1 72.2 746.3 72.9 751.5 73.7 756.7 74.5 761.9 75.4M685.4 51.4 690.7 53.1 696.0 54.8 701.3 56.6 706.6 58.5 711.9 60.4 717.2 62.4 722.5 64.5 727.8 66.6 733.1 68.8 738.4 71.1 743.7 73.4 749.0 75.8 754.3 78.2 759.5 80.8 764.8 83.4M685.2 70.3 690.5 70.2 695.9 70.2 701.3 70.2 706.6 70.3 712.0 70.6 717.3 70.9 722.6 71.2 727.9 71.7 733.2 72.2 738.5 72.7 743.7 73.4 748.9 74.1 754.2 74.9 759.4 75.7 764.5 76.6M688.1 51.6 693.4 53.3 698.7 55.1 704.0 56.9 709.3 58.8 714.6 60.7 719.9 62.7 725.2 64.8 730.5 66.9 735.8 69.1 741.0 71.4 746.3 73.7 751.6 76.1 756.9 78.6 762.1 81.2 767.4 83.8M687.8 71.3 693.2 71.2 698.6 71.2 703.9 71.3 709.3 71.4 714.6 71.7 719.9 72.0 725.3 72.4 730.6 72.8 735.8 73.3 741.1 73.9 746.4 74.6 751.6 75.3 756.8 76.1 762.0 76.9 767.2 77.8M690.7 51.8 696.0 53.5 701.3 55.3 706.6 57.2 711.9 59.0 717.2 61.0 722.5 63.0 727.8 65.1 733.1 67.3 738.4 69.5 743.7 71.7 748.9 74.1 754.2 76.5 759.5 79.0 764.7 81.6 770.0 84.2M690.5 72.4 695.9 72.3 701.2 72.3 706.6 72.4 711.9 72.5 717.3 72.8 722.6 73.1 727.9 73.5 733.2 74.0 738.5 74.5 743.7 75.1 749.0 75.8 754.2 76.5 759.4 77.3 764.6 78.2 769.8 79.1M693.3 52.1 698.6 53.8 703.9 55.6 709.2 57.4 714.5 59.3 719.8 61.3 725.1 63.3 730.4 65.4 735.7 67.6 741.0 69.8 746.3 72.1 751.6 74.5 756.8 76.9 762.1 79.4 767.3 82.0 772.6 84.6M693.2 73.4 698.5 73.4 703.9 73.4 709.3 73.5 714.6 73.7 719.9 73.9 725.3 74.3 730.6 74.7 735.9 75.1 741.1 75.7 746.4 76.3 751.6 77.0 756.9 77.7 762.1 78.6 767.2 79.4 772.4 80.4M696.0 52.3 701.3 54.1 706.6 55.9 711.9 57.7 717.2 59.6 722.5 61.6 727.8 63.7 733.1 65.8 738.3 67.9 743.6 70.2 748.9 72.5 754.2 74.9 759.4 77.3 764.7 79.8 769.9 82.4 775.2 85.1M695.8 74.5 701.2 74.5 706.6 74.5 711.9 74.6 717.3 74.8 722.6 75.1 727.9 75.4 733.2 75.9 738.5 76.3 743.8 76.9 749.0 77.5 754.3 78.2 759.5 79.0 764.7 79.8 769.9 80.7 775.0 81.6M698.6 52.6 703.9 54.4 709.2 56.2 714.5 58.0 719.8 60.0 725.1 62.0 730.4 64.0 735.7 66.1 741.0 68.3 746.2 70.6 751.5 72.9 756.8 75.3 762.0 77.7 767.3 80.3 772.5 82.9 777.8 85.5M698.5 75.6 703.9 75.6 709.2 75.6 714.6 75.8 719.9 76.0 725.2 76.3 730.6 76.6 735.9 77.1 741.1 77.6 746.4 78.1 751.7 78.8 756.9 79.5 762.1 80.3 767.3 81.1 772.5 82.0 777.6 83.0M701.2 52.9 706.5 54.7 711.8 56.5 717.1 58.4 722.4 60.3 727.7 62.3 733.0 64.4 738.3 66.5 743.6 68.7 748.8 71.0 754.1 73.3 759.4 75.7 764.6 78.2 769.9 80.7 775.1 83.3 780.3 86.0M701.2 76.7 706.5 76.7 711.9 76.8 717.2 76.9 722.6 77.1 727.9 77.5 733.2 77.8 738.5 78.3 743.8 78.8 749.1 79.4 754.3 80.0 759.5 80.8 764.7 81.6 769.9 82.4 775.1 83.3 780.3 84.3M703.9 53.2 709.2 55.0 714.5 56.8 719.8 58.7 725.0 60.7 730.3 62.7 735.6 64.8 740.9 66.9 746.2 69.1 751.4 71.4 756.7 73.7 762.0 76.1 767.2 78.6 772.5 81.2 777.7 83.8 782.9 86.5M703.8 77.9 709.2 77.9 714.6 77.9 719.9 78.1 725.2 78.3 730.6 78.7 735.9 79.1 741.2 79.5 746.4 80.1 751.7 80.7 756.9 81.3 762.2 82.1 767.4 82.9 772.6 83.7 777.7 84.6 782.9 85.6M706.5 53.5 711.8 55.3 717.1 57.1 722.4 59.1 727.7 61.0 732.9 63.1 738.2 65.1 743.5 67.3 748.8 69.5 754.0 71.8 759.3 74.2 764.5 76.6 769.8 79.1 775.0 81.6 780.3 84.3 785.5 87.0M706.5 79.0 711.9 79.0 717.2 79.1 722.6 79.3 727.9 79.6 733.2 79.9 738.5 80.3 743.8 80.8 749.1 81.3 754.3 81.9 759.6 82.6 764.8 83.4 770.0 84.2 775.2 85.1 780.3 86.0 785.5 87.0" fill="none" stroke="#000" stroke-opacity=".42" stroke-width=".55"/>
<circle cx="706.7" cy="54.9" r="1.6" fill="#d40000" stroke="#700" stroke-width="0.3"/>
<circle cx="706.7" cy="57.3" r="1.6" fill="#d40000" stroke="#700" stroke-width="0.3"/>
<circle cx="706.7" cy="60.5" r="1.6" fill="#d40000" stroke="#700" stroke-width="0.3"/>
<text x="620.8" y="13.7" font-family='"Liberation Serif", serif' font-size="9.5" text-anchor="start" fill="#000">(d)</text>
<text x="614.1" y="81.6" font-family='"Liberation Serif", serif' font-size="7" text-anchor="middle" fill="#222" transform="rotate(-90 614.1 81.6)" textLength="39.6" lengthAdjust="spacingAndGlyphs">%DPPH•sc(y3)</text>
<text x="651.8" y="167.6" font-family='"Liberation Serif", serif' font-size="6.5" text-anchor="middle" fill="#222" textLength="51.6" lengthAdjust="spacingAndGlyphs">Temperature (<tspan font-style="italic">X</tspan><tspan font-size="4.2" dy="1">2</tspan><tspan dy="-1">: °C)</tspan></text>
<text x="761.3" y="166.7" font-family='"Liberation Serif", serif' font-size="6.5" text-anchor="middle" fill="#222" textLength="48.6" lengthAdjust="spacingAndGlyphs">Particle size (<tspan font-style="italic">X</tspan><tspan font-size="4.2" dy="1">1</tspan><tspan dy="-1">:mm)</tspan></text>
<line x1="22.0" y1="376.7" x2="198.7" y2="208.5" stroke="#ec7878" stroke-width="1.15"/>
<line x1="30.6" y1="380.5" x2="30.6" y2="384.0" stroke="#555" stroke-width="0.9"/>
<text x="30.6" y="390.5" font-family='"Liberation Serif", serif' font-size="4.6" text-anchor="middle" fill="#333">-3.00</text>
<line x1="57.1" y1="380.5" x2="57.1" y2="384.0" stroke="#555" stroke-width="0.9"/>
<text x="57.1" y="390.5" font-family='"Liberation Serif", serif' font-size="4.6" text-anchor="middle" fill="#333">-2.00</text>
<line x1="83.5" y1="380.5" x2="83.5" y2="384.0" stroke="#555" stroke-width="0.9"/>
<text x="83.5" y="390.5" font-family='"Liberation Serif", serif' font-size="4.6" text-anchor="middle" fill="#333">-1.00</text>
<line x1="110.0" y1="380.5" x2="110.0" y2="384.0" stroke="#555" stroke-width="0.9"/>
<text x="110" y="390.5" font-family='"Liberation Serif", serif' font-size="4.6" text-anchor="middle" fill="#333">0.00</text>
<line x1="136.5" y1="380.5" x2="136.5" y2="384.0" stroke="#555" stroke-width="0.9"/>
<text x="136.5" y="390.5" font-family='"Liberation Serif", serif' font-size="4.6" text-anchor="middle" fill="#333">1.00</text>
<line x1="162.9" y1="380.5" x2="162.9" y2="384.0" stroke="#555" stroke-width="0.9"/>
<text x="162.9" y="390.5" font-family='"Liberation Serif", serif' font-size="4.6" text-anchor="middle" fill="#333">2.00</text>
<line x1="189.4" y1="380.5" x2="189.4" y2="384.0" stroke="#555" stroke-width="0.9"/>
<text x="189.4" y="390.5" font-family='"Liberation Serif", serif' font-size="4.6" text-anchor="middle" fill="#333">3.00</text>
<path d="M19.0 357.3h3M19.0 349.7h3M19.0 344.9h3M19.0 341.2h3M19.0 338.3h3M19.0 335.8h3M19.0 333.6h3M19.0 331.6h3M19.0 329.8h3M19.0 328.2h3M19.0 326.6h3M19.0 325.2h3M19.0 323.8h3M19.0 322.5h3M19.0 321.3h3M19.0 320.1h3M19.0 319.0h3M19.0 317.9h3M19.0 316.9h3M19.0 315.9h3M19.0 314.9h3M19.0 313.9h3M19.0 313.0h3M19.0 312.1h3M19.0 311.2h3M19.0 310.3h3M19.0 309.5h3M19.0 308.7h3M19.0 307.8h3M19.0 307.0h3M19.0 306.2h3M19.0 305.4h3M19.0 304.7h3M19.0 303.9h3M19.0 303.2h3M19.0 302.4h3M19.0 301.7h3M19.0 300.9h3M19.0 300.2h3M19.0 299.5h3M19.0 298.7h3M19.0 298.0h3M19.0 297.3h3M19.0 296.6h3M19.0 295.9h3M19.0 295.2h3M19.0 294.5h3M19.0 293.8h3M19.0 293.1h3M19.0 292.4h3M19.0 291.7h3M19.0 291.0h3M19.0 290.3h3M19.0 289.6h3M19.0 288.9h3M19.0 288.2h3M19.0 287.5h3M19.0 286.8h3M19.0 286.1h3M19.0 285.3h3M19.0 284.6h3M19.0 283.9h3M19.0 283.1h3M19.0 282.4h3M19.0 281.6h3M19.0 280.9h3M19.0 280.1h3M19.0 279.4h3M19.0 278.6h3M19.0 277.8h3M19.0 277.0h3M19.0 276.1h3M19.0 275.3h3M19.0 274.5h3M19.0 273.6h3M19.0 272.7h3M19.0 271.8h3M19.0 270.9h3M19.0 269.9h3M19.0 268.9h3M19.0 267.9h3M19.0 266.9h3M19.0 265.8h3M19.0 264.7h3M19.0 263.5h3M19.0 262.3h3M19.0 261.0h3M19.0 259.6h3M19.0 258.2h3M19.0 256.6h3M19.0 255.0h3M19.0 253.2h3M19.0 251.2h3M19.0 249.0h3M19.0 246.5h3M19.0 243.6h3M19.0 239.9h3M19.0 235.1h3M19.0 227.5h3" stroke="#333" stroke-width="0.6"/>
<line x1="18.0" y1="357.31" x2="22.0" y2="357.31" stroke="#555" stroke-width="0.9"/>
<text x="14.5" y="358.9" font-family='"Liberation Serif", serif' font-size="4.6" text-anchor="middle" fill="#333">1</text>
<line x1="18.0" y1="338.29" x2="22.0" y2="338.29" stroke="#555" stroke-width="0.9"/>
<text x="14.5" y="339.9" font-family='"Liberation Serif", serif' font-size="4.6" text-anchor="middle" fill="#333">5</text>
<line x1="18.0" y1="328.16" x2="22.0" y2="328.16" stroke="#555" stroke-width="0.9"/>
<text x="14.5" y="329.8" font-family='"Liberation Serif", serif' font-size="4.6" text-anchor="middle" fill="#333">10</text>
<line x1="18.0" y1="315.88" x2="22.0" y2="315.88" stroke="#555" stroke-width="0.9"/>
<text x="14.5" y="317.5" font-family='"Liberation Serif", serif' font-size="4.6" text-anchor="middle" fill="#333">20</text>
<line x1="18.0" y1="307.03" x2="22.0" y2="307.03" stroke="#555" stroke-width="0.9"/>
<text x="14.5" y="308.6" font-family='"Liberation Serif", serif' font-size="4.6" text-anchor="middle" fill="#333">30</text>
<line x1="18.0" y1="292.40" x2="22.0" y2="292.40" stroke="#555" stroke-width="0.9"/>
<text x="14.5" y="294" font-family='"Liberation Serif", serif' font-size="4.6" text-anchor="middle" fill="#333">50</text>
<line x1="18.0" y1="277.77" x2="22.0" y2="277.77" stroke="#555" stroke-width="0.9"/>
<text x="14.5" y="279.4" font-family='"Liberation Serif", serif' font-size="4.6" text-anchor="middle" fill="#333">70</text>
<line x1="18.0" y1="268.92" x2="22.0" y2="268.92" stroke="#555" stroke-width="0.9"/>
<text x="14.5" y="270.5" font-family='"Liberation Serif", serif' font-size="4.6" text-anchor="middle" fill="#333">80</text>
<line x1="18.0" y1="256.64" x2="22.0" y2="256.64" stroke="#555" stroke-width="0.9"/>
<text x="14.5" y="258.2" font-family='"Liberation Serif", serif' font-size="4.6" text-anchor="middle" fill="#333">90</text>
<line x1="18.0" y1="246.51" x2="22.0" y2="246.51" stroke="#555" stroke-width="0.9"/>
<text x="14.5" y="248.1" font-family='"Liberation Serif", serif' font-size="4.6" text-anchor="middle" fill="#333">95</text>
<line x1="18.0" y1="227.49" x2="22.0" y2="227.49" stroke="#555" stroke-width="0.9"/>
<text x="14.5" y="229.1" font-family='"Liberation Serif", serif' font-size="4.6" text-anchor="middle" fill="#333">99</text>
<rect x="22.0" y="204.0" width="176.7" height="176.5" fill="none" stroke="#8e8e8e" stroke-width="1.4"/>
<rect x="40.2" y="355.4" width="3.5" height="3.5" fill="#e6e60a" stroke="#2a2a2a" stroke-width="0.6"/>
<rect x="47.4" y="342.8" width="3.5" height="3.5" fill="#e6e60a" stroke="#2a2a2a" stroke-width="0.6"/>
<rect x="50.5" y="336.2" width="3.5" height="3.5" fill="#e6e60a" stroke="#2a2a2a" stroke-width="0.6"/>
<rect x="54.4" y="331.6" width="3.5" height="3.5" fill="#30d8c8" stroke="#2a2a2a" stroke-width="0.6"/>
<rect x="58.4" y="327.9" width="3.5" height="3.5" fill="#30d8c8" stroke="#2a2a2a" stroke-width="0.6"/>
<rect x="73.2" y="324.9" width="3.5" height="3.5" fill="#30d8c8" stroke="#2a2a2a" stroke-width="0.6"/>
<rect x="80.2" y="322.2" width="3.5" height="3.5" fill="#e6e60a" stroke="#2a2a2a" stroke-width="0.6"/>
<rect x="81.1" y="319.3" width="3.5" height="3.5" fill="#e6e60a" stroke="#2a2a2a" stroke-width="0.6"/>
<rect x="86.1" y="317.1" width="3.5" height="3.5" fill="#30d8c8" stroke="#2a2a2a" stroke-width="0.6"/>
<rect x="89.3" y="315.1" width="3.5" height="3.5" fill="#e6e60a" stroke="#2a2a2a" stroke-width="0.6"/>
<rect x="91.0" y="311.8" width="3.5" height="3.5" fill="#10dc10" stroke="#2a2a2a" stroke-width="0.6"/>
<rect x="91.7" y="310.1" width="3.5" height="3.5" fill="#30d8c8" stroke="#2a2a2a" stroke-width="0.6"/>
<rect x="93.9" y="308.8" width="3.5" height="3.5" fill="#10dc10" stroke="#2a2a2a" stroke-width="0.6"/>
<rect x="95.6" y="306.1" width="3.5" height="3.5" fill="#10dc10" stroke="#2a2a2a" stroke-width="0.6"/>
<rect x="99.0" y="303.0" width="3.5" height="3.5" fill="#0a0ad2" stroke="#2a2a2a" stroke-width="0.6"/>
<rect x="98.9" y="300.8" width="3.5" height="3.5" fill="#e6e60a" stroke="#2a2a2a" stroke-width="0.6"/>
<rect x="102.8" y="299.9" width="3.5" height="3.5" fill="#10dc10" stroke="#2a2a2a" stroke-width="0.6"/>
<rect x="105.7" y="298.4" width="3.5" height="3.5" fill="#10dc10" stroke="#2a2a2a" stroke-width="0.6"/>
<rect x="110.5" y="294.0" width="3.5" height="3.5" fill="#10dc10" stroke="#2a2a2a" stroke-width="0.6"/>
<rect x="113.1" y="289.2" width="3.5" height="3.5" fill="#e6e60a" stroke="#2a2a2a" stroke-width="0.6"/>
<rect x="113.9" y="286.6" width="3.5" height="3.5" fill="#e6e60a" stroke="#2a2a2a" stroke-width="0.6"/>
<rect x="114.2" y="283.9" width="3.5" height="3.5" fill="#e6e60a" stroke="#2a2a2a" stroke-width="0.6"/>
<rect x="117.3" y="281.4" width="3.5" height="3.5" fill="#10dc10" stroke="#2a2a2a" stroke-width="0.6"/>
<rect x="118.6" y="278.4" width="3.5" height="3.5" fill="#10dc10" stroke="#2a2a2a" stroke-width="0.6"/>
<rect x="120.6" y="275.1" width="3.5" height="3.5" fill="#e6e60a" stroke="#2a2a2a" stroke-width="0.6"/>
<rect x="124.3" y="273.7" width="3.5" height="3.5" fill="#e6e60a" stroke="#2a2a2a" stroke-width="0.6"/>
<rect x="124.7" y="271.4" width="3.5" height="3.5" fill="#30d8c8" stroke="#2a2a2a" stroke-width="0.6"/>
<rect x="127.7" y="270.5" width="3.5" height="3.5" fill="#30d8c8" stroke="#2a2a2a" stroke-width="0.6"/>
<rect x="128.3" y="268.3" width="3.5" height="3.5" fill="#10dc10" stroke="#2a2a2a" stroke-width="0.6"/>
<rect x="133.5" y="266.2" width="3.5" height="3.5" fill="#10dc10" stroke="#2a2a2a" stroke-width="0.6"/>
<rect x="134.7" y="264.3" width="3.5" height="3.5" fill="#e6e60a" stroke="#2a2a2a" stroke-width="0.6"/>
<rect x="136.6" y="262.1" width="3.5" height="3.5" fill="#10dc10" stroke="#2a2a2a" stroke-width="0.6"/>
<rect x="137.2" y="258.8" width="3.5" height="3.5" fill="#e6e60a" stroke="#2a2a2a" stroke-width="0.6"/>
<rect x="144.3" y="256.6" width="3.5" height="3.5" fill="#10dc10" stroke="#2a2a2a" stroke-width="0.6"/>
<rect x="144.6" y="253.2" width="3.5" height="3.5" fill="#10dc10" stroke="#2a2a2a" stroke-width="0.6"/>
<rect x="152.5" y="249.5" width="3.5" height="3.5" fill="#10dc10" stroke="#2a2a2a" stroke-width="0.6"/>
<rect x="158.0" y="245.0" width="3.5" height="3.5" fill="#dc0a0a" stroke="#2a2a2a" stroke-width="0.6"/>
<rect x="159.2" y="238.0" width="3.5" height="3.5" fill="#30d8c8" stroke="#2a2a2a" stroke-width="0.6"/>
<rect x="169.5" y="226.0" width="3.5" height="3.5" fill="#30d8c8" stroke="#2a2a2a" stroke-width="0.6"/>
<circle cx="105.9" cy="295.9" r="2.7" fill="#c46a6a" stroke="#5a3030" stroke-width="0.6"/>
<text x="23.6" y="213" font-family='"Liberation Serif", serif' font-size="9.3" text-anchor="start" fill="#000">(e)</text>
<text x="111.9" y="396.4" font-family='"Liberation Serif", serif' font-size="6.6" text-anchor="middle" fill="#111" textLength="77.5" lengthAdjust="spacingAndGlyphs">Externally Studentized Residuals</text>
<text x="7.6" y="298.3" font-family='"Liberation Serif", serif' font-size="6.6" text-anchor="middle" fill="#111" transform="rotate(-90 7.6 298.3)" textLength="53.2" lengthAdjust="spacingAndGlyphs">Normal % Probability</text>
<defs><linearGradient id="cb204" x1="0" x2="1" y1="0" y2="0"><stop offset="0" stop-color="#0000f0"/><stop offset="0.2" stop-color="#0050a0"/><stop offset="0.45" stop-color="#00f020"/><stop offset="0.72" stop-color="#407800"/><stop offset="0.88" stop-color="#904000"/><stop offset="1" stop-color="#e00000"/></linearGradient></defs>
<rect x="163.3" y="371.7" width="18.5" height="6.9" fill="url(#cb204)" stroke="#444" stroke-width="0.4"/>
<text x="161.7" y="377.1" font-family='"Liberation Sans", sans-serif' font-size="5.5" text-anchor="end" fill="#3030b0" style="stroke:#3030b0;stroke-width:.25px;stroke-opacity:.8" textLength="11.9" lengthAdjust="spacingAndGlyphs">45.76</text>
<text x="183.8" y="377.1" font-family='"Liberation Sans", sans-serif' font-size="5.5" text-anchor="start" fill="#c83030" style="stroke:#c83030;stroke-width:.25px;stroke-opacity:.8" textLength="11.9" lengthAdjust="spacingAndGlyphs">77.39</text>
<line x1="229.0" y1="382.0" x2="229.0" y2="385.5" stroke="#555" stroke-width="0.9"/>
<text x="229" y="391.7" font-family='"Liberation Serif", serif' font-size="4.6" text-anchor="middle" fill="#333">40</text>
<line x1="216.1" y1="372.6" x2="219.6" y2="372.6" stroke="#555" stroke-width="0.9"/>
<text x="211.6" y="374.2" font-family='"Liberation Serif", serif' font-size="4.6" text-anchor="middle" fill="#333">40</text>
<line x1="268.6" y1="382.0" x2="268.6" y2="385.5" stroke="#555" stroke-width="0.9"/>
<text x="268.6" y="391.7" font-family='"Liberation Serif", serif' font-size="4.6" text-anchor="middle" fill="#333">50</text>
<line x1="216.1" y1="332.9" x2="219.6" y2="332.9" stroke="#555" stroke-width="0.9"/>
<text x="211.6" y="334.5" font-family='"Liberation Serif", serif' font-size="4.6" text-anchor="middle" fill="#333">50</text>
<line x1="308.2" y1="382.0" x2="308.2" y2="385.5" stroke="#555" stroke-width="0.9"/>
<text x="308.2" y="391.7" font-family='"Liberation Serif", serif' font-size="4.6" text-anchor="middle" fill="#333">60</text>
<line x1="216.1" y1="293.3" x2="219.6" y2="293.3" stroke="#555" stroke-width="0.9"/>
<text x="211.6" y="294.9" font-family='"Liberation Serif", serif' font-size="4.6" text-anchor="middle" fill="#333">60</text>
<line x1="347.9" y1="382.0" x2="347.9" y2="385.5" stroke="#555" stroke-width="0.9"/>
<text x="347.9" y="391.7" font-family='"Liberation Serif", serif' font-size="4.6" text-anchor="middle" fill="#333">70</text>
<line x1="216.1" y1="253.6" x2="219.6" y2="253.6" stroke="#555" stroke-width="0.9"/>
<text x="211.6" y="255.2" font-family='"Liberation Serif", serif' font-size="4.6" text-anchor="middle" fill="#333">70</text>
<line x1="387.5" y1="382.0" x2="387.5" y2="385.5" stroke="#555" stroke-width="0.9"/>
<text x="387.5" y="391.7" font-family='"Liberation Serif", serif' font-size="4.6" text-anchor="middle" fill="#333">80</text>
<line x1="216.1" y1="213.9" x2="219.6" y2="213.9" stroke="#555" stroke-width="0.9"/>
<text x="211.6" y="215.5" font-family='"Liberation Serif", serif' font-size="4.6" text-anchor="middle" fill="#333">80</text>
<rect x="219.6" y="205.5" width="176.9" height="176.5" fill="none" stroke="#6a6a6a" stroke-width="1.2"/>
<rect x="249.9" y="366.2" width="3.5" height="3.5" fill="#10dc10" stroke="#2a2a2a" stroke-width="0.6"/>
<rect x="262.1" y="338.2" width="3.5" height="3.5" fill="#e6e60a" stroke="#2a2a2a" stroke-width="0.6"/>
<rect x="257.2" y="333.2" width="3.5" height="3.5" fill="#30d8c8" stroke="#2a2a2a" stroke-width="0.6"/>
<rect x="257.2" y="329.6" width="3.5" height="3.5" fill="#e6e60a" stroke="#2a2a2a" stroke-width="0.6"/>
<rect x="253.2" y="320.9" width="3.5" height="3.5" fill="#e6e60a" stroke="#2a2a2a" stroke-width="0.6"/>
<rect x="258.8" y="316.9" width="3.5" height="3.5" fill="#30d8c8" stroke="#2a2a2a" stroke-width="0.6"/>
<rect x="272.9" y="317.1" width="3.5" height="3.5" fill="#e6e60a" stroke="#2a2a2a" stroke-width="0.6"/>
<rect x="268.7" y="325.0" width="3.5" height="3.5" fill="#30d8c8" stroke="#2a2a2a" stroke-width="0.6"/>
<rect x="272.9" y="310.1" width="3.5" height="3.5" fill="#30d8c8" stroke="#2a2a2a" stroke-width="0.6"/>
<rect x="273.3" y="299.8" width="3.5" height="3.5" fill="#e6e60a" stroke="#2a2a2a" stroke-width="0.6"/>
<rect x="280.1" y="323.3" width="3.5" height="3.5" fill="#30d8c8" stroke="#2a2a2a" stroke-width="0.6"/>
<rect x="297.0" y="308.6" width="3.5" height="3.5" fill="#e6e60a" stroke="#2a2a2a" stroke-width="0.6"/>
<rect x="304.0" y="296.8" width="3.5" height="3.5" fill="#30d8c8" stroke="#2a2a2a" stroke-width="0.6"/>
<rect x="312.1" y="300.7" width="3.5" height="3.5" fill="#10dc10" stroke="#2a2a2a" stroke-width="0.6"/>
<rect x="317.6" y="306.3" width="3.5" height="3.5" fill="#30d8c8" stroke="#2a2a2a" stroke-width="0.6"/>
<rect x="320.0" y="292.8" width="3.5" height="3.5" fill="#10dc10" stroke="#2a2a2a" stroke-width="0.6"/>
<rect x="306.1" y="282.5" width="3.5" height="3.5" fill="#30d8c8" stroke="#2a2a2a" stroke-width="0.6"/>
<rect x="311.6" y="286.0" width="3.5" height="3.5" fill="#30d8c8" stroke="#2a2a2a" stroke-width="0.6"/>
<rect x="313.9" y="287.3" width="3.5" height="3.5" fill="#e6e60a" stroke="#2a2a2a" stroke-width="0.6"/>
<rect x="316.4" y="278.2" width="3.5" height="3.5" fill="#0a0ad2" stroke="#2a2a2a" stroke-width="0.6"/>
<rect x="320.9" y="278.6" width="3.5" height="3.5" fill="#10dc10" stroke="#2a2a2a" stroke-width="0.6"/>
<rect x="329.6" y="280.0" width="3.5" height="3.5" fill="#10dc10" stroke="#2a2a2a" stroke-width="0.6"/>
<rect x="327.5" y="283.6" width="3.5" height="3.5" fill="#e6e60a" stroke="#2a2a2a" stroke-width="0.6"/>
<rect x="329.2" y="272.8" width="3.5" height="3.5" fill="#10dc10" stroke="#2a2a2a" stroke-width="0.6"/>
<rect x="329.2" y="270.0" width="3.5" height="3.5" fill="#10dc10" stroke="#2a2a2a" stroke-width="0.6"/>
<rect x="345.4" y="272.1" width="3.5" height="3.5" fill="#dc0a0a" stroke="#2a2a2a" stroke-width="0.6"/>
<rect x="337.2" y="266.6" width="3.5" height="3.5" fill="#e6e60a" stroke="#2a2a2a" stroke-width="0.6"/>
<rect x="325.1" y="263.5" width="3.5" height="3.5" fill="#10dc10" stroke="#2a2a2a" stroke-width="0.6"/>
<rect x="328.0" y="263.5" width="3.5" height="3.5" fill="#10dc10" stroke="#2a2a2a" stroke-width="0.6"/>
<rect x="332.0" y="262.2" width="3.5" height="3.5" fill="#e6e60a" stroke="#2a2a2a" stroke-width="0.6"/>
<rect x="333.3" y="263.5" width="3.5" height="3.5" fill="#10dc10" stroke="#2a2a2a" stroke-width="0.6"/>
<rect x="340.3" y="263.5" width="3.5" height="3.5" fill="#10dc10" stroke="#2a2a2a" stroke-width="0.6"/>
<rect x="346.1" y="263.5" width="3.5" height="3.5" fill="#10dc10" stroke="#2a2a2a" stroke-width="0.6"/>
<rect x="349.1" y="263.5" width="3.5" height="3.5" fill="#10dc10" stroke="#2a2a2a" stroke-width="0.6"/>
<rect x="340.8" y="250.5" width="3.5" height="3.5" fill="#30d8c8" stroke="#2a2a2a" stroke-width="0.6"/>
<rect x="344.5" y="256.5" width="3.5" height="3.5" fill="#e6e60a" stroke="#2a2a2a" stroke-width="0.6"/>
<rect x="351.5" y="255.4" width="3.5" height="3.5" fill="#30d8c8" stroke="#2a2a2a" stroke-width="0.6"/>
<rect x="365.0" y="255.2" width="3.5" height="3.5" fill="#30d8c8" stroke="#2a2a2a" stroke-width="0.6"/>
<rect x="354.1" y="247.2" width="3.5" height="3.5" fill="#30d8c8" stroke="#2a2a2a" stroke-width="0.6"/>
<rect x="336.2" y="240.9" width="3.5" height="3.5" fill="#30d8c8" stroke="#2a2a2a" stroke-width="0.6"/>
<rect x="358.4" y="239.7" width="3.5" height="3.5" fill="#e6e60a" stroke="#2a2a2a" stroke-width="0.6"/>
<rect x="359.3" y="240.6" width="3.5" height="3.5" fill="#30d8c8" stroke="#2a2a2a" stroke-width="0.6"/>
<rect x="361.4" y="244.2" width="3.5" height="3.5" fill="#30d8c8" stroke="#2a2a2a" stroke-width="0.6"/>
<rect x="365.6" y="244.2" width="3.5" height="3.5" fill="#e6e60a" stroke="#2a2a2a" stroke-width="0.6"/>
<rect x="349.4" y="236.3" width="3.5" height="3.5" fill="#e6e60a" stroke="#2a2a2a" stroke-width="0.6"/>
<rect x="343.6" y="227.2" width="3.5" height="3.5" fill="#e6e60a" stroke="#2a2a2a" stroke-width="0.6"/>
<rect x="375.5" y="221.1" width="3.5" height="3.5" fill="#10dc10" stroke="#2a2a2a" stroke-width="0.6"/>
<line x1="229.0" y1="372.6" x2="387.5" y2="213.9" stroke="#1a1a1a" stroke-width="0.8"/>
<text x="221.2" y="214.5" font-family='"Liberation Serif", serif' font-size="9.3" text-anchor="start" fill="#000">(f)</text>
<text x="307.4" y="397.5" font-family='"Liberation Serif", serif' font-size="6.6" text-anchor="middle" fill="#111" textLength="15.8" lengthAdjust="spacingAndGlyphs">Actual</text>
<text x="207" y="292.4" font-family='"Liberation Serif", serif' font-size="6.6" text-anchor="middle" fill="#111" transform="rotate(-90 207 292.4)" textLength="23.6" lengthAdjust="spacingAndGlyphs">Predicted</text>
<defs>
<linearGradient id="c10"><stop offset="0" stop-color="#ff9f00"/><stop offset="0.077" stop-color="#ffb200"/><stop offset="0.154" stop-color="#ffc600"/><stop offset="0.231" stop-color="#ffdd00"/><stop offset="0.308" stop-color="#fff500"/><stop offset="0.385" stop-color="#eeff00"/><stop offset="0.462" stop-color="#d1ff00"/><stop offset="0.538" stop-color="#b3ff00"/><stop offset="0.615" stop-color="#92ff00"/><stop offset="0.692" stop-color="#6fff00"/><stop offset="0.769" stop-color="#4aff00"/><stop offset="0.846" stop-color="#23ff00"/><stop offset="0.923" stop-color="#00ff06"/><stop offset="1" stop-color="#00ff31"/></linearGradient>
<linearGradient id="c11"><stop offset="0" stop-color="#ff9d00"/><stop offset="0.077" stop-color="#ffb000"/><stop offset="0.154" stop-color="#ffc400"/><stop offset="0.231" stop-color="#ffdb00"/><stop offset="0.308" stop-color="#fff400"/><stop offset="0.385" stop-color="#efff00"/><stop offset="0.462" stop-color="#d2ff00"/><stop offset="0.538" stop-color="#b3ff00"/><stop offset="0.615" stop-color="#92ff00"/><stop offset="0.692" stop-color="#6fff00"/><stop offset="0.769" stop-color="#49ff00"/><stop offset="0.846" stop-color="#22ff00"/><stop offset="0.923" stop-color="#00ff07"/><stop offset="1" stop-color="#00ff33"/></linearGradient>
<linearGradient id="c12"><stop offset="0" stop-color="#ff9a00"/><stop offset="0.077" stop-color="#ffad00"/><stop offset="0.154" stop-color="#ffc200"/><stop offset="0.231" stop-color="#ffda00"/><stop offset="0.308" stop-color="#fff300"/><stop offset="0.385" stop-color="#f0ff00"/><stop offset="0.462" stop-color="#d3ff00"/><stop offset="0.538" stop-color="#b3ff00"/><stop offset="0.615" stop-color="#92ff00"/><stop offset="0.692" stop-color="#6eff00"/><stop offset="0.769" stop-color="#49ff00"/><stop offset="0.846" stop-color="#21ff00"/><stop offset="0.923" stop-color="#00ff09"/><stop offset="1" stop-color="#00ff35"/></linearGradient>
<linearGradient id="c13"><stop offset="0" stop-color="#ff9800"/><stop offset="0.077" stop-color="#ffab00"/><stop offset="0.154" stop-color="#ffc100"/><stop offset="0.231" stop-color="#ffd800"/><stop offset="0.308" stop-color="#fff200"/><stop offset="0.385" stop-color="#f1ff00"/><stop offset="0.462" stop-color="#d3ff00"/><stop offset="0.538" stop-color="#b3ff00"/><stop offset="0.615" stop-color="#91ff00"/><stop offset="0.692" stop-color="#6dff00"/><stop offset="0.769" stop-color="#48ff00"/><stop offset="0.846" stop-color="#20ff00"/><stop offset="0.923" stop-color="#00ff0b"/><stop offset="1" stop-color="#00ff37"/></linearGradient>
<linearGradient id="c14"><stop offset="0" stop-color="#ff9600"/><stop offset="0.077" stop-color="#ffa900"/><stop offset="0.154" stop-color="#ffbf00"/><stop offset="0.231" stop-color="#ffd700"/><stop offset="0.308" stop-color="#fff100"/><stop offset="0.385" stop-color="#f1ff00"/><stop offset="0.462" stop-color="#d3ff00"/><stop offset="0.538" stop-color="#b3ff00"/><stop offset="0.615" stop-color="#91ff00"/><stop offset="0.692" stop-color="#6dff00"/><stop offset="0.769" stop-color="#46ff00"/><stop offset="0.846" stop-color="#1eff00"/><stop offset="0.923" stop-color="#00ff0c"/><stop offset="1" stop-color="#00ff39"/></linearGradient>
<linearGradient id="c15"><stop offset="0" stop-color="#ff9300"/><stop offset="0.077" stop-color="#ffa700"/><stop offset="0.154" stop-color="#ffbe00"/><stop offset="0.231" stop-color="#ffd600"/><stop offset="0.308" stop-color="#fff000"/><stop offset="0.385" stop-color="#f2ff00"/><stop offset="0.462" stop-color="#d3ff00"/><stop offset="0.538" stop-color="#b3ff00"/><stop offset="0.615" stop-color="#90ff00"/><stop offset="0.692" stop-color="#6cff00"/><stop offset="0.769" stop-color="#45ff00"/><stop offset="0.846" stop-color="#1dff00"/><stop offset="0.923" stop-color="#00ff0e"/><stop offset="1" stop-color="#00ff3b"/></linearGradient>
<linearGradient id="c16"><stop offset="0" stop-color="#ff9100"/><stop offset="0.077" stop-color="#ffa600"/><stop offset="0.154" stop-color="#ffbc00"/><stop offset="0.231" stop-color="#ffd500"/><stop offset="0.308" stop-color="#ffef00"/><stop offset="0.385" stop-color="#f2ff00"/><stop offset="0.462" stop-color="#d3ff00"/><stop offset="0.538" stop-color="#b3ff00"/><stop offset="0.615" stop-color="#90ff00"/><stop offset="0.692" stop-color="#6bff00"/><stop offset="0.769" stop-color="#44ff00"/><stop offset="0.846" stop-color="#1bff00"/><stop offset="0.923" stop-color="#00ff10"/><stop offset="1" stop-color="#00ff3d"/></linearGradient>
<linearGradient id="c17"><stop offset="0" stop-color="#ff8f00"/><stop offset="0.077" stop-color="#ffa400"/><stop offset="0.154" stop-color="#ffbb00"/><stop offset="0.231" stop-color="#ffd400"/><stop offset="0.308" stop-color="#ffef00"/><stop offset="0.385" stop-color="#f3ff00"/><stop offset="0.462" stop-color="#d3ff00"/><stop offset="0.538" stop-color="#b2ff00"/><stop offset="0.615" stop-color="#8fff00"/><stop offset="0.692" stop-color="#6aff00"/><stop offset="0.769" stop-color="#43ff00"/><stop offset="0.846" stop-color="#19ff00"/><stop offset="0.923" stop-color="#00ff12"/><stop offset="1" stop-color="#00ff40"/></linearGradient>
<linearGradient id="c18"><stop offset="0" stop-color="#ff8d00"/><stop offset="0.077" stop-color="#ffa200"/><stop offset="0.154" stop-color="#ffb900"/><stop offset="0.231" stop-color="#ffd300"/><stop offset="0.308" stop-color="#ffee00"/><stop offset="0.385" stop-color="#f3ff00"/><stop offset="0.462" stop-color="#d3ff00"/><stop offset="0.538" stop-color="#b2ff00"/><stop offset="0.615" stop-color="#8eff00"/><stop offset="0.692" stop-color="#69ff00"/><stop offset="0.769" stop-color="#41ff00"/><stop offset="0.846" stop-color="#18ff00"/><stop offset="0.923" stop-color="#00ff14"/><stop offset="1" stop-color="#00ff42"/></linearGradient>
<linearGradient id="c19"><stop offset="0" stop-color="#ff8b00"/><stop offset="0.077" stop-color="#ffa100"/><stop offset="0.154" stop-color="#ffb800"/><stop offset="0.231" stop-color="#ffd200"/><stop offset="0.308" stop-color="#ffed00"/><stop offset="0.385" stop-color="#f3ff00"/><stop offset="0.462" stop-color="#d3ff00"/><stop offset="0.538" stop-color="#b1ff00"/><stop offset="0.615" stop-color="#8eff00"/><stop offset="0.692" stop-color="#68ff00"/><stop offset="0.769" stop-color="#40ff00"/><stop offset="0.846" stop-color="#16ff00"/><stop offset="0.923" stop-color="#00ff16"/><stop offset="1" stop-color="#00ff45"/></linearGradient>
<linearGradient id="c110"><stop offset="0" stop-color="#ff8a00"/><stop offset="0.077" stop-color="#ffa000"/><stop offset="0.154" stop-color="#ffb700"/><stop offset="0.231" stop-color="#ffd100"/><stop offset="0.308" stop-color="#ffed00"/><stop offset="0.385" stop-color="#f3ff00"/><stop offset="0.462" stop-color="#d3ff00"/><stop offset="0.538" stop-color="#b1ff00"/><stop offset="0.615" stop-color="#8dff00"/><stop offset="0.692" stop-color="#66ff00"/><stop offset="0.769" stop-color="#3eff00"/><stop offset="0.846" stop-color="#14ff00"/><stop offset="0.923" stop-color="#00ff19"/><stop offset="1" stop-color="#00ff47"/></linearGradient>
<linearGradient id="c111"><stop offset="0" stop-color="#ff8800"/><stop offset="0.077" stop-color="#ff9e00"/><stop offset="0.154" stop-color="#ffb600"/><stop offset="0.231" stop-color="#ffd100"/><stop offset="0.308" stop-color="#ffed00"/><stop offset="0.385" stop-color="#f3ff00"/><stop offset="0.462" stop-color="#d2ff00"/><stop offset="0.538" stop-color="#b0ff00"/><stop offset="0.615" stop-color="#8bff00"/><stop offset="0.692" stop-color="#65ff00"/><stop offset="0.769" stop-color="#3cff00"/><stop offset="0.846" stop-color="#11ff00"/><stop offset="0.923" stop-color="#00ff1b"/><stop offset="1" stop-color="#00ff4a"/></linearGradient>
<linearGradient id="c112"><stop offset="0" stop-color="#ff8700"/><stop offset="0.077" stop-color="#ff9d00"/><stop offset="0.154" stop-color="#ffb600"/><stop offset="0.231" stop-color="#ffd000"/><stop offset="0.308" stop-color="#ffed00"/><stop offset="0.385" stop-color="#f3ff00"/><stop offset="0.462" stop-color="#d2ff00"/><stop offset="0.538" stop-color="#afff00"/><stop offset="0.615" stop-color="#8aff00"/><stop offset="0.692" stop-color="#63ff00"/><stop offset="0.769" stop-color="#3aff00"/><stop offset="0.846" stop-color="#0fff00"/><stop offset="0.923" stop-color="#00ff1e"/><stop offset="1" stop-color="#00ff4d"/></linearGradient>
<linearGradient id="c113"><stop offset="0" stop-color="#ff8500"/><stop offset="0.077" stop-color="#ff9c00"/><stop offset="0.154" stop-color="#ffb500"/><stop offset="0.231" stop-color="#ffd000"/><stop offset="0.308" stop-color="#ffed00"/><stop offset="0.385" stop-color="#f2ff00"/><stop offset="0.462" stop-color="#d1ff00"/><stop offset="0.538" stop-color="#aeff00"/><stop offset="0.615" stop-color="#89ff00"/><stop offset="0.692" stop-color="#62ff00"/><stop offset="0.769" stop-color="#38ff00"/><stop offset="0.846" stop-color="#0dff00"/><stop offset="0.923" stop-color="#00ff20"/><stop offset="1" stop-color="#00ff50"/></linearGradient>
<linearGradient id="c114"><stop offset="0" stop-color="#ff8400"/><stop offset="0.077" stop-color="#ff9b00"/><stop offset="0.154" stop-color="#ffb400"/><stop offset="0.231" stop-color="#ffcf00"/><stop offset="0.308" stop-color="#ffed00"/><stop offset="0.385" stop-color="#f2ff00"/><stop offset="0.462" stop-color="#d1ff00"/><stop offset="0.538" stop-color="#adff00"/><stop offset="0.615" stop-color="#88ff00"/><stop offset="0.692" stop-color="#60ff00"/><stop offset="0.769" stop-color="#36ff00"/><stop offset="0.846" stop-color="#0bff00"/><stop offset="0.923" stop-color="#00ff23"/><stop offset="1" stop-color="#00ff53"/></linearGradient>
<linearGradient id="c115"><stop offset="0" stop-color="#ff8300"/><stop offset="0.077" stop-color="#ff9a00"/><stop offset="0.154" stop-color="#ffb400"/><stop offset="0.231" stop-color="#ffcf00"/><stop offset="0.308" stop-color="#ffed00"/><stop offset="0.385" stop-color="#f2ff00"/><stop offset="0.462" stop-color="#d0ff00"/><stop offset="0.538" stop-color="#acff00"/><stop offset="0.615" stop-color="#86ff00"/><stop offset="0.692" stop-color="#5eff00"/><stop offset="0.769" stop-color="#34ff00"/><stop offset="0.846" stop-color="#08ff00"/><stop offset="0.923" stop-color="#00ff26"/><stop offset="1" stop-color="#00ff56"/></linearGradient>
<linearGradient id="c116"><stop offset="0" stop-color="#ff8200"/><stop offset="0.077" stop-color="#ff9900"/><stop offset="0.154" stop-color="#ffb300"/><stop offset="0.231" stop-color="#ffcf00"/><stop offset="0.308" stop-color="#ffed00"/><stop offset="0.385" stop-color="#f1ff00"/><stop offset="0.462" stop-color="#cfff00"/><stop offset="0.538" stop-color="#abff00"/><stop offset="0.615" stop-color="#84ff00"/><stop offset="0.692" stop-color="#5cff00"/><stop offset="0.769" stop-color="#32ff00"/><stop offset="0.846" stop-color="#05ff00"/><stop offset="0.923" stop-color="#00ff29"/><stop offset="1" stop-color="#00ff5a"/></linearGradient>
<linearGradient id="c117"><stop offset="0" stop-color="#ff8100"/><stop offset="0.077" stop-color="#ff9900"/><stop offset="0.154" stop-color="#ffb300"/><stop offset="0.231" stop-color="#ffcf00"/><stop offset="0.308" stop-color="#ffed00"/><stop offset="0.385" stop-color="#f0ff00"/><stop offset="0.462" stop-color="#ceff00"/><stop offset="0.538" stop-color="#a9ff00"/><stop offset="0.615" stop-color="#83ff00"/><stop offset="0.692" stop-color="#5aff00"/><stop offset="0.769" stop-color="#2fff00"/><stop offset="0.846" stop-color="#03ff00"/><stop offset="0.923" stop-color="#00ff2c"/><stop offset="1" stop-color="#00ff5d"/></linearGradient>
<linearGradient id="c118"><stop offset="0" stop-color="#ff8000"/><stop offset="0.077" stop-color="#ff9800"/><stop offset="0.154" stop-color="#ffb300"/><stop offset="0.231" stop-color="#ffcf00"/><stop offset="0.308" stop-color="#ffee00"/><stop offset="0.385" stop-color="#efff00"/><stop offset="0.462" stop-color="#cdff00"/><stop offset="0.538" stop-color="#a8ff00"/><stop offset="0.615" stop-color="#81ff00"/><stop offset="0.692" stop-color="#58ff00"/><stop offset="0.769" stop-color="#2dff00"/><stop offset="0.846" stop-color="#00ff00"/><stop offset="0.923" stop-color="#00ff2f"/><stop offset="1" stop-color="#00ff60"/></linearGradient>
<linearGradient id="c119"><stop offset="0" stop-color="#ff7f00"/><stop offset="0.077" stop-color="#ff9800"/><stop offset="0.154" stop-color="#ffb200"/><stop offset="0.231" stop-color="#ffcf00"/><stop offset="0.308" stop-color="#ffee00"/><stop offset="0.385" stop-color="#efff00"/><stop offset="0.462" stop-color="#ccff00"/><stop offset="0.538" stop-color="#a6ff00"/><stop offset="0.615" stop-color="#7fff00"/><stop offset="0.692" stop-color="#56ff00"/><stop offset="0.769" stop-color="#2aff00"/><stop offset="0.846" stop-color="#00ff03"/><stop offset="0.923" stop-color="#00ff32"/><stop offset="1" stop-color="#00ff64"/></linearGradient>
<linearGradient id="c120"><stop offset="0" stop-color="#ff7e00"/><stop offset="0.077" stop-color="#ff9700"/><stop offset="0.154" stop-color="#ffb200"/><stop offset="0.231" stop-color="#ffd000"/><stop offset="0.308" stop-color="#ffef00"/><stop offset="0.385" stop-color="#eeff00"/><stop offset="0.462" stop-color="#caff00"/><stop offset="0.538" stop-color="#a5ff00"/><stop offset="0.615" stop-color="#7dff00"/><stop offset="0.692" stop-color="#53ff00"/><stop offset="0.769" stop-color="#28ff00"/><stop offset="0.846" stop-color="#00ff06"/><stop offset="0.923" stop-color="#00ff36"/><stop offset="1" stop-color="#00ff68"/></linearGradient>
<linearGradient id="c121"><stop offset="0" stop-color="#ff7d00"/><stop offset="0.077" stop-color="#ff9700"/><stop offset="0.154" stop-color="#ffb200"/><stop offset="0.231" stop-color="#ffd000"/><stop offset="0.308" stop-color="#fff000"/><stop offset="0.385" stop-color="#edff00"/><stop offset="0.462" stop-color="#c9ff00"/><stop offset="0.538" stop-color="#a3ff00"/><stop offset="0.615" stop-color="#7bff00"/><stop offset="0.692" stop-color="#51ff00"/><stop offset="0.769" stop-color="#25ff00"/><stop offset="0.846" stop-color="#00ff09"/><stop offset="0.923" stop-color="#00ff39"/><stop offset="1" stop-color="#00ff6b"/></linearGradient>
<linearGradient id="c122"><stop offset="0" stop-color="#ff7d00"/><stop offset="0.077" stop-color="#ff9700"/><stop offset="0.154" stop-color="#ffb300"/><stop offset="0.231" stop-color="#ffd100"/><stop offset="0.308" stop-color="#fff100"/><stop offset="0.385" stop-color="#ebff00"/><stop offset="0.462" stop-color="#c7ff00"/><stop offset="0.538" stop-color="#a1ff00"/><stop offset="0.615" stop-color="#79ff00"/><stop offset="0.692" stop-color="#4fff00"/><stop offset="0.769" stop-color="#22ff00"/><stop offset="0.846" stop-color="#00ff0c"/><stop offset="0.923" stop-color="#00ff3d"/><stop offset="1" stop-color="#00ff6f"/></linearGradient>
<linearGradient id="c123"><stop offset="0" stop-color="#ff7c00"/><stop offset="0.077" stop-color="#ff9700"/><stop offset="0.154" stop-color="#ffb300"/><stop offset="0.231" stop-color="#ffd100"/><stop offset="0.308" stop-color="#fff100"/><stop offset="0.385" stop-color="#eaff00"/><stop offset="0.462" stop-color="#c6ff00"/><stop offset="0.538" stop-color="#9fff00"/><stop offset="0.615" stop-color="#77ff00"/><stop offset="0.692" stop-color="#4cff00"/><stop offset="0.769" stop-color="#1fff00"/><stop offset="0.846" stop-color="#00ff10"/><stop offset="0.923" stop-color="#00ff40"/><stop offset="1" stop-color="#00ff73"/></linearGradient>
<linearGradient id="c124"><stop offset="0" stop-color="#ff7c00"/><stop offset="0.077" stop-color="#ff9700"/><stop offset="0.154" stop-color="#ffb300"/><stop offset="0.231" stop-color="#ffd200"/><stop offset="0.308" stop-color="#fff200"/><stop offset="0.385" stop-color="#e9ff00"/><stop offset="0.462" stop-color="#c4ff00"/><stop offset="0.538" stop-color="#9dff00"/><stop offset="0.615" stop-color="#74ff00"/><stop offset="0.692" stop-color="#49ff00"/><stop offset="0.769" stop-color="#1cff00"/><stop offset="0.846" stop-color="#00ff13"/><stop offset="0.923" stop-color="#00ff44"/><stop offset="1" stop-color="#00ff77"/></linearGradient>
<linearGradient id="c125"><stop offset="0" stop-color="#ff7c00"/><stop offset="0.077" stop-color="#ff9700"/><stop offset="0.154" stop-color="#ffb400"/><stop offset="0.231" stop-color="#ffd300"/><stop offset="0.308" stop-color="#fff400"/><stop offset="0.385" stop-color="#e7ff00"/><stop offset="0.462" stop-color="#c2ff00"/><stop offset="0.538" stop-color="#9bff00"/><stop offset="0.615" stop-color="#72ff00"/><stop offset="0.692" stop-color="#46ff00"/><stop offset="0.769" stop-color="#19ff00"/><stop offset="0.846" stop-color="#00ff16"/><stop offset="0.923" stop-color="#00ff48"/><stop offset="1" stop-color="#00ff7c"/></linearGradient>
<linearGradient id="c126"><stop offset="0" stop-color="#ff7c00"/><stop offset="0.077" stop-color="#ff9700"/><stop offset="0.154" stop-color="#ffb400"/><stop offset="0.231" stop-color="#ffd400"/><stop offset="0.308" stop-color="#fff500"/><stop offset="0.385" stop-color="#e6ff00"/><stop offset="0.462" stop-color="#c0ff00"/><stop offset="0.538" stop-color="#99ff00"/><stop offset="0.615" stop-color="#6fff00"/><stop offset="0.692" stop-color="#43ff00"/><stop offset="0.769" stop-color="#16ff00"/><stop offset="0.846" stop-color="#00ff1a"/><stop offset="0.923" stop-color="#00ff4c"/><stop offset="1" stop-color="#00ff80"/></linearGradient>
<linearGradient id="c127"><stop offset="0" stop-color="#ff7c00"/><stop offset="0.077" stop-color="#ff9700"/><stop offset="0.154" stop-color="#ffb500"/><stop offset="0.231" stop-color="#ffd500"/><stop offset="0.308" stop-color="#fff600"/><stop offset="0.385" stop-color="#e4ff00"/><stop offset="0.462" stop-color="#beff00"/><stop offset="0.538" stop-color="#96ff00"/><stop offset="0.615" stop-color="#6cff00"/><stop offset="0.692" stop-color="#40ff00"/><stop offset="0.769" stop-color="#12ff00"/><stop offset="0.846" stop-color="#00ff1e"/><stop offset="0.923" stop-color="#00ff50"/><stop offset="1" stop-color="#00ff84"/></linearGradient>
<linearGradient id="c128"><stop offset="0" stop-color="#ff7c00"/><stop offset="0.077" stop-color="#ff9800"/><stop offset="0.154" stop-color="#ffb600"/><stop offset="0.231" stop-color="#ffd600"/><stop offset="0.308" stop-color="#fff800"/><stop offset="0.385" stop-color="#e2ff00"/><stop offset="0.462" stop-color="#bcff00"/><stop offset="0.538" stop-color="#94ff00"/><stop offset="0.615" stop-color="#6aff00"/><stop offset="0.692" stop-color="#3dff00"/><stop offset="0.769" stop-color="#0fff00"/><stop offset="0.846" stop-color="#00ff22"/><stop offset="0.923" stop-color="#00ff54"/><stop offset="1" stop-color="#00ff89"/></linearGradient>
<linearGradient id="c129"><stop offset="0" stop-color="#ff7c00"/><stop offset="0.077" stop-color="#ff9800"/><stop offset="0.154" stop-color="#ffb600"/><stop offset="0.231" stop-color="#ffd700"/><stop offset="0.308" stop-color="#fff900"/><stop offset="0.385" stop-color="#e0ff00"/><stop offset="0.462" stop-color="#baff00"/><stop offset="0.538" stop-color="#91ff00"/><stop offset="0.615" stop-color="#67ff00"/><stop offset="0.692" stop-color="#3aff00"/><stop offset="0.769" stop-color="#0bff00"/><stop offset="0.846" stop-color="#00ff26"/><stop offset="0.923" stop-color="#00ff58"/><stop offset="1" stop-color="#00ff8d"/></linearGradient>
<linearGradient id="c130"><stop offset="0" stop-color="#ff7c00"/><stop offset="0.077" stop-color="#ff9900"/><stop offset="0.154" stop-color="#ffb700"/><stop offset="0.231" stop-color="#ffd800"/><stop offset="0.308" stop-color="#fffb00"/><stop offset="0.385" stop-color="#deff00"/><stop offset="0.462" stop-color="#b8ff00"/><stop offset="0.538" stop-color="#8fff00"/><stop offset="0.615" stop-color="#64ff00"/><stop offset="0.692" stop-color="#37ff00"/><stop offset="0.769" stop-color="#08ff00"/><stop offset="0.846" stop-color="#00ff2a"/><stop offset="0.923" stop-color="#00ff5d"/><stop offset="1" stop-color="#00ff92"/></linearGradient>
<linearGradient id="c131"><stop offset="0" stop-color="#ff7d00"/><stop offset="0.077" stop-color="#ff9a00"/><stop offset="0.154" stop-color="#ffb800"/><stop offset="0.231" stop-color="#ffd900"/><stop offset="0.308" stop-color="#fffd00"/><stop offset="0.385" stop-color="#dcff00"/><stop offset="0.462" stop-color="#b5ff00"/><stop offset="0.538" stop-color="#8cff00"/><stop offset="0.615" stop-color="#61ff00"/><stop offset="0.692" stop-color="#33ff00"/><stop offset="0.769" stop-color="#04ff00"/><stop offset="0.846" stop-color="#00ff2e"/><stop offset="0.923" stop-color="#00ff61"/><stop offset="1" stop-color="#00ff97"/></linearGradient>
<linearGradient id="c132"><stop offset="0" stop-color="#ff7d00"/><stop offset="0.077" stop-color="#ff9a00"/><stop offset="0.154" stop-color="#ffba00"/><stop offset="0.231" stop-color="#ffdb00"/><stop offset="0.308" stop-color="#fffe00"/><stop offset="0.385" stop-color="#daff00"/><stop offset="0.462" stop-color="#b3ff00"/><stop offset="0.538" stop-color="#89ff00"/><stop offset="0.615" stop-color="#5dff00"/><stop offset="0.692" stop-color="#30ff00"/><stop offset="0.769" stop-color="#00ff00"/><stop offset="0.846" stop-color="#00ff32"/><stop offset="0.923" stop-color="#00ff66"/><stop offset="1" stop-color="#00ff9c"/></linearGradient>
<linearGradient id="c133"><stop offset="0" stop-color="#ff7e00"/><stop offset="0.077" stop-color="#ff9b00"/><stop offset="0.154" stop-color="#ffbb00"/><stop offset="0.231" stop-color="#ffdd00"/><stop offset="0.308" stop-color="#feff00"/><stop offset="0.385" stop-color="#d8ff00"/><stop offset="0.462" stop-color="#b0ff00"/><stop offset="0.538" stop-color="#86ff00"/><stop offset="0.615" stop-color="#5aff00"/><stop offset="0.692" stop-color="#2cff00"/><stop offset="0.769" stop-color="#00ff04"/><stop offset="0.846" stop-color="#00ff36"/><stop offset="0.923" stop-color="#00ff6a"/><stop offset="1" stop-color="#00ffa1"/></linearGradient>
<linearGradient id="c134"><stop offset="0" stop-color="#ff7e00"/><stop offset="0.077" stop-color="#ff9c00"/><stop offset="0.154" stop-color="#ffbc00"/><stop offset="0.231" stop-color="#ffde00"/><stop offset="0.308" stop-color="#fcff00"/><stop offset="0.385" stop-color="#d6ff00"/><stop offset="0.462" stop-color="#adff00"/><stop offset="0.538" stop-color="#83ff00"/><stop offset="0.615" stop-color="#57ff00"/><stop offset="0.692" stop-color="#28ff00"/><stop offset="0.769" stop-color="#00ff08"/><stop offset="0.846" stop-color="#00ff3b"/><stop offset="0.923" stop-color="#00ff6f"/><stop offset="1" stop-color="#00ffa6"/></linearGradient>
<linearGradient id="c135"><stop offset="0" stop-color="#ff7f00"/><stop offset="0.077" stop-color="#ff9d00"/><stop offset="0.154" stop-color="#ffbe00"/><stop offset="0.231" stop-color="#ffe000"/><stop offset="0.308" stop-color="#faff00"/><stop offset="0.385" stop-color="#d3ff00"/><stop offset="0.462" stop-color="#abff00"/><stop offset="0.538" stop-color="#80ff00"/><stop offset="0.615" stop-color="#53ff00"/><stop offset="0.692" stop-color="#25ff00"/><stop offset="0.769" stop-color="#00ff0c"/><stop offset="0.846" stop-color="#00ff3f"/><stop offset="0.923" stop-color="#00ff74"/><stop offset="1" stop-color="#00ffab"/></linearGradient>
<linearGradient id="c136"><stop offset="0" stop-color="#ff8000"/><stop offset="0.077" stop-color="#ff9f00"/><stop offset="0.154" stop-color="#ffbf00"/><stop offset="0.231" stop-color="#ffe200"/><stop offset="0.308" stop-color="#f7ff00"/><stop offset="0.385" stop-color="#d1ff00"/><stop offset="0.462" stop-color="#a8ff00"/><stop offset="0.538" stop-color="#7dff00"/><stop offset="0.615" stop-color="#50ff00"/><stop offset="0.692" stop-color="#21ff00"/><stop offset="0.769" stop-color="#00ff10"/><stop offset="0.846" stop-color="#00ff44"/><stop offset="0.923" stop-color="#00ff79"/><stop offset="1" stop-color="#00ffb0"/></linearGradient>
<linearGradient id="c137"><stop offset="0" stop-color="#ff8100"/><stop offset="0.077" stop-color="#ffa000"/><stop offset="0.154" stop-color="#ffc100"/><stop offset="0.231" stop-color="#ffe400"/><stop offset="0.308" stop-color="#f5ff00"/><stop offset="0.385" stop-color="#ceff00"/><stop offset="0.462" stop-color="#a5ff00"/><stop offset="0.538" stop-color="#79ff00"/><stop offset="0.615" stop-color="#4cff00"/><stop offset="0.692" stop-color="#1dff00"/><stop offset="0.769" stop-color="#00ff15"/><stop offset="0.846" stop-color="#00ff48"/><stop offset="0.923" stop-color="#00ff7e"/><stop offset="1" stop-color="#00ffb6"/></linearGradient>
<linearGradient id="c138"><stop offset="0" stop-color="#ff8200"/><stop offset="0.077" stop-color="#ffa100"/><stop offset="0.154" stop-color="#ffc300"/><stop offset="0.231" stop-color="#ffe600"/><stop offset="0.308" stop-color="#f3ff00"/><stop offset="0.385" stop-color="#cbff00"/><stop offset="0.462" stop-color="#a2ff00"/><stop offset="0.538" stop-color="#76ff00"/><stop offset="0.615" stop-color="#48ff00"/><stop offset="0.692" stop-color="#19ff00"/><stop offset="0.769" stop-color="#00ff19"/><stop offset="0.846" stop-color="#00ff4d"/><stop offset="0.923" stop-color="#00ff83"/><stop offset="1" stop-color="#00ffbb"/></linearGradient>
<linearGradient id="c139"><stop offset="0" stop-color="#ff8300"/><stop offset="0.077" stop-color="#ffa300"/><stop offset="0.154" stop-color="#ffc500"/><stop offset="0.231" stop-color="#ffe800"/><stop offset="0.308" stop-color="#f0ff00"/><stop offset="0.385" stop-color="#c8ff00"/><stop offset="0.462" stop-color="#9eff00"/><stop offset="0.538" stop-color="#72ff00"/><stop offset="0.615" stop-color="#44ff00"/><stop offset="0.692" stop-color="#14ff00"/><stop offset="0.769" stop-color="#00ff1e"/><stop offset="0.846" stop-color="#00ff52"/><stop offset="0.923" stop-color="#00ff88"/><stop offset="1" stop-color="#00ffc1"/></linearGradient>
<linearGradient id="c140"><stop offset="0" stop-color="#ff8500"/><stop offset="0.077" stop-color="#ffa400"/><stop offset="0.154" stop-color="#ffc600"/><stop offset="0.231" stop-color="#ffeb00"/><stop offset="0.308" stop-color="#edff00"/><stop offset="0.385" stop-color="#c5ff00"/><stop offset="0.462" stop-color="#9bff00"/><stop offset="0.538" stop-color="#6fff00"/><stop offset="0.615" stop-color="#40ff00"/><stop offset="0.692" stop-color="#10ff00"/><stop offset="0.769" stop-color="#00ff23"/><stop offset="0.846" stop-color="#00ff57"/><stop offset="0.923" stop-color="#00ff8e"/><stop offset="1" stop-color="#00ffc6"/></linearGradient>
<linearGradient id="c141"><stop offset="0" stop-color="#ff8600"/><stop offset="0.077" stop-color="#ffa600"/><stop offset="0.154" stop-color="#ffc900"/><stop offset="0.231" stop-color="#ffed00"/><stop offset="0.308" stop-color="#ebff00"/><stop offset="0.385" stop-color="#c2ff00"/><stop offset="0.462" stop-color="#98ff00"/><stop offset="0.538" stop-color="#6bff00"/><stop offset="0.615" stop-color="#3cff00"/><stop offset="0.692" stop-color="#0cff00"/><stop offset="0.769" stop-color="#00ff27"/><stop offset="0.846" stop-color="#00ff5c"/><stop offset="0.923" stop-color="#00ff93"/><stop offset="1" stop-color="#00ffcc"/></linearGradient>
<linearGradient id="c142"><stop offset="0" stop-color="#ff8700"/><stop offset="0.077" stop-color="#ffa800"/><stop offset="0.154" stop-color="#ffcb00"/><stop offset="0.231" stop-color="#ffef00"/><stop offset="0.308" stop-color="#e8ff00"/><stop offset="0.385" stop-color="#bfff00"/><stop offset="0.462" stop-color="#94ff00"/><stop offset="0.538" stop-color="#67ff00"/><stop offset="0.615" stop-color="#38ff00"/><stop offset="0.692" stop-color="#07ff00"/><stop offset="0.769" stop-color="#00ff2c"/><stop offset="0.846" stop-color="#00ff61"/><stop offset="0.923" stop-color="#00ff99"/><stop offset="1" stop-color="#00ffd2"/></linearGradient>
<linearGradient id="c143"><stop offset="0" stop-color="#ff8900"/><stop offset="0.077" stop-color="#ffaa00"/><stop offset="0.154" stop-color="#ffcd00"/><stop offset="0.231" stop-color="#fff200"/><stop offset="0.308" stop-color="#e5ff00"/><stop offset="0.385" stop-color="#bcff00"/><stop offset="0.462" stop-color="#90ff00"/><stop offset="0.538" stop-color="#63ff00"/><stop offset="0.615" stop-color="#34ff00"/><stop offset="0.692" stop-color="#02ff00"/><stop offset="0.769" stop-color="#00ff31"/><stop offset="0.846" stop-color="#00ff67"/><stop offset="0.923" stop-color="#00ff9e"/><stop offset="1" stop-color="#00ffd8"/></linearGradient>
<linearGradient id="c144"><stop offset="0" stop-color="#ff8b00"/><stop offset="0.077" stop-color="#ffac00"/><stop offset="0.154" stop-color="#ffcf00"/><stop offset="0.231" stop-color="#fff500"/><stop offset="0.308" stop-color="#e2ff00"/><stop offset="0.385" stop-color="#b8ff00"/><stop offset="0.462" stop-color="#8dff00"/><stop offset="0.538" stop-color="#5fff00"/><stop offset="0.615" stop-color="#2fff00"/><stop offset="0.692" stop-color="#00ff02"/><stop offset="0.769" stop-color="#00ff36"/><stop offset="0.846" stop-color="#00ff6c"/><stop offset="0.923" stop-color="#00ffa4"/><stop offset="1" stop-color="#00ffde"/></linearGradient>
</defs>
<rect x="421.5" y="206.6" width="179.2" height="4.6" fill="url(#c10)"/>
<rect x="421.5" y="210.6" width="179.2" height="4.6" fill="url(#c11)"/>
<rect x="421.5" y="214.6" width="179.2" height="4.6" fill="url(#c12)"/>
<rect x="421.5" y="218.6" width="179.2" height="4.6" fill="url(#c13)"/>
<rect x="421.5" y="222.6" width="179.2" height="4.6" fill="url(#c14)"/>
<rect x="421.5" y="226.6" width="179.2" height="4.6" fill="url(#c15)"/>
<rect x="421.5" y="230.6" width="179.2" height="4.6" fill="url(#c16)"/>
<rect x="421.5" y="234.6" width="179.2" height="4.6" fill="url(#c17)"/>
<rect x="421.5" y="238.6" width="179.2" height="4.6" fill="url(#c18)"/>
<rect x="421.5" y="242.6" width="179.2" height="4.6" fill="url(#c19)"/>
<rect x="421.5" y="246.6" width="179.2" height="4.6" fill="url(#c110)"/>
<rect x="421.5" y="250.6" width="179.2" height="4.6" fill="url(#c111)"/>
<rect x="421.5" y="254.6" width="179.2" height="4.6" fill="url(#c112)"/>
<rect x="421.5" y="258.6" width="179.2" height="4.6" fill="url(#c113)"/>
<rect x="421.5" y="262.6" width="179.2" height="4.6" fill="url(#c114)"/>
<rect x="421.5" y="266.6" width="179.2" height="4.6" fill="url(#c115)"/>
<rect x="421.5" y="270.6" width="179.2" height="4.6" fill="url(#c116)"/>
<rect x="421.5" y="274.6" width="179.2" height="4.6" fill="url(#c117)"/>
<rect x="421.5" y="278.6" width="179.2" height="4.6" fill="url(#c118)"/>
<rect x="421.5" y="282.6" width="179.2" height="4.6" fill="url(#c119)"/>
<rect x="421.5" y="286.6" width="179.2" height="4.6" fill="url(#c120)"/>
<rect x="421.5" y="290.6" width="179.2" height="4.6" fill="url(#c121)"/>
<rect x="421.5" y="294.6" width="179.2" height="4.6" fill="url(#c122)"/>
<rect x="421.5" y="298.6" width="179.2" height="4.6" fill="url(#c123)"/>
<rect x="421.5" y="302.6" width="179.2" height="4.6" fill="url(#c124)"/>
<rect x="421.5" y="306.6" width="179.2" height="4.6" fill="url(#c125)"/>
<rect x="421.5" y="310.6" width="179.2" height="4.6" fill="url(#c126)"/>
<rect x="421.5" y="314.6" width="179.2" height="4.6" fill="url(#c127)"/>
<rect x="421.5" y="318.6" width="179.2" height="4.6" fill="url(#c128)"/>
<rect x="421.5" y="322.6" width="179.2" height="4.6" fill="url(#c129)"/>
<rect x="421.5" y="326.6" width="179.2" height="4.6" fill="url(#c130)"/>
<rect x="421.5" y="330.6" width="179.2" height="4.6" fill="url(#c131)"/>
<rect x="421.5" y="334.6" width="179.2" height="4.6" fill="url(#c132)"/>
<rect x="421.5" y="338.6" width="179.2" height="4.6" fill="url(#c133)"/>
<rect x="421.5" y="342.6" width="179.2" height="4.6" fill="url(#c134)"/>
<rect x="421.5" y="346.6" width="179.2" height="4.6" fill="url(#c135)"/>
<rect x="421.5" y="350.6" width="179.2" height="4.6" fill="url(#c136)"/>
<rect x="421.5" y="354.6" width="179.2" height="4.6" fill="url(#c137)"/>
<rect x="421.5" y="358.6" width="179.2" height="4.6" fill="url(#c138)"/>
<rect x="421.5" y="362.6" width="179.2" height="4.6" fill="url(#c139)"/>
<rect x="421.5" y="366.6" width="179.2" height="4.6" fill="url(#c140)"/>
<rect x="421.5" y="370.6" width="179.2" height="4.6" fill="url(#c141)"/>
<rect x="421.5" y="374.6" width="179.2" height="4.6" fill="url(#c142)"/>
<rect x="421.5" y="378.6" width="179.2" height="4.6" fill="url(#c143)"/>
<rect x="421.5" y="382.6" width="179.2" height="2.4" fill="url(#c144)"/>
<polyline points="472.5,206.6 472.8,208.1 473.0,209.6 473.3,211.1 473.6,212.5 473.8,214.0 474.1,215.5 474.3,217.0 474.5,218.5 474.8,220.0 475.0,221.5 475.2,223.0 475.3,224.4 475.5,225.9 475.7,227.4 475.8,228.9 476.0,230.4 476.1,231.9 476.3,233.4 476.4,234.8 476.5,236.3 476.6,237.8 476.7,239.3 476.8,240.8 476.9,242.3 477.0,243.8 477.1,245.3 477.1,246.7 477.2,248.2 477.2,249.7 477.3,251.2 477.3,252.7 477.4,254.2 477.4,255.7 477.4,257.1 477.4,258.6 477.4,260.1 477.4,261.6 477.4,263.1 477.4,264.6 477.4,266.1 477.3,267.6 477.3,269.0 477.3,270.5 477.2,272.0 477.2,273.5 477.1,275.0 477.1,276.5 477.0,278.0 476.9,279.4 476.8,280.9 476.8,282.4 476.7,283.9 476.6,285.4 476.5,286.9 476.4,288.4 476.3,289.9 476.2,291.3 476.0,292.8 475.9,294.3 475.8,295.8 475.6,297.3 475.5,298.8 475.4,300.3 475.2,301.7 475.1,303.2 474.9,304.7 474.7,306.2 474.6,307.7 474.4,309.2 474.2,310.7 474.1,312.2 473.9,313.6 473.7,315.1 473.5,316.6 473.3,318.1 473.1,319.6 472.9,321.1 472.7,322.6 472.5,324.0 472.2,325.5 472.0,327.0 471.8,328.5 471.6,330.0 471.3,331.5 471.1,333.0 470.8,334.5 470.6,335.9 470.3,337.4 470.1,338.9 469.8,340.4 469.6,341.9 469.3,343.4 469.0,344.9 468.8,346.3 468.5,347.8 468.2,349.3 467.9,350.8 467.6,352.3 467.4,353.8 467.1,355.3 466.8,356.8 466.5,358.2 466.2,359.7 465.8,361.2 465.5,362.7 465.2,364.2 464.9,365.7 464.6,367.2 464.3,368.6 463.9,370.1 463.6,371.6 463.3,373.1 462.9,374.6 462.6,376.1 462.2,377.6 461.9,379.1 461.5,380.5 461.2,382.0 460.8,383.5 460.5,385.0" fill="none" stroke="#1a1a1a" stroke-width="0.75"/>
<polyline points="545.9,206.6 545.8,208.1 545.8,209.6 545.7,211.1 545.6,212.5 545.6,214.0 545.5,215.5 545.4,217.0 545.3,218.5 545.2,220.0 545.1,221.5 545.1,223.0 544.9,224.4 544.8,225.9 544.7,227.4 544.6,228.9 544.5,230.4 544.4,231.9 544.2,233.4 544.1,234.8 544.0,236.3 543.8,237.8 543.7,239.3 543.5,240.8 543.4,242.3 543.2,243.8 543.1,245.3 542.9,246.7 542.7,248.2 542.5,249.7 542.4,251.2 542.2,252.7 542.0,254.2 541.8,255.7 541.6,257.1 541.4,258.6 541.2,260.1 541.0,261.6 540.8,263.1 540.6,264.6 540.4,266.1 540.2,267.6 539.9,269.0 539.7,270.5 539.5,272.0 539.3,273.5 539.0,275.0 538.8,276.5 538.5,278.0 538.3,279.4 538.1,280.9 537.8,282.4 537.5,283.9 537.3,285.4 537.0,286.9 536.8,288.4 536.5,289.9 536.2,291.3 535.9,292.8 535.7,294.3 535.4,295.8 535.1,297.3 534.8,298.8 534.5,300.3 534.2,301.7 533.9,303.2 533.6,304.7 533.3,306.2 533.0,307.7 532.7,309.2 532.4,310.7 532.1,312.2 531.8,313.6 531.4,315.1 531.1,316.6 530.8,318.1 530.5,319.6 530.1,321.1 529.8,322.6 529.5,324.0 529.1,325.5 528.8,327.0 528.4,328.5 528.1,330.0 527.7,331.5 527.4,333.0 527.0,334.5 526.6,335.9 526.3,337.4 525.9,338.9 525.6,340.4 525.2,341.9 524.8,343.4 524.4,344.9 524.1,346.3 523.7,347.8 523.3,349.3 522.9,350.8 522.5,352.3 522.1,353.8 521.7,355.3 521.3,356.8 520.9,358.2 520.5,359.7 520.1,361.2 519.7,362.7 519.3,364.2 518.9,365.7 518.5,367.2 518.1,368.6 517.6,370.1 517.2,371.6 516.8,373.1 516.4,374.6 515.9,376.1 515.5,377.6 515.1,379.1 514.6,380.5 514.2,382.0 513.8,383.5 513.3,385.0" fill="none" stroke="#1a1a1a" stroke-width="0.75"/>
<polyline points="600.7,212.5 600.5,214.0 600.3,215.5 600.1,217.0 599.8,218.5 599.6,220.0 599.4,221.5 599.2,223.0 598.9,224.4 598.7,225.9 598.4,227.4 598.2,228.9 598.0,230.4 597.7,231.9 597.4,233.4 597.2,234.8 596.9,236.3 596.7,237.8 596.4,239.3 596.1,240.8 595.9,242.3 595.6,243.8 595.3,245.3 595.0,246.7 594.8,248.2 594.5,249.7 594.2,251.2 593.9,252.7 593.6,254.2 593.3,255.7 593.0,257.1 592.7,258.6 592.4,260.1 592.1,261.6 591.8,263.1 591.5,264.6 591.2,266.1 590.8,267.6 590.5,269.0 590.2,270.5 589.9,272.0 589.5,273.5 589.2,275.0 588.9,276.5 588.5,278.0 588.2,279.4 587.9,280.9 587.5,282.4 587.2,283.9 586.8,285.4 586.5,286.9 586.1,288.4 585.8,289.9 585.4,291.3 585.0,292.8 584.7,294.3 584.3,295.8 584.0,297.3 583.6,298.8 583.2,300.3 582.8,301.7 582.5,303.2 582.1,304.7 581.7,306.2 581.3,307.7 580.9,309.2 580.5,310.7 580.1,312.2 579.8,313.6 579.4,315.1 579.0,316.6 578.6,318.1 578.2,319.6 577.8,321.1 577.3,322.6 576.9,324.0 576.5,325.5 576.1,327.0 575.7,328.5 575.3,330.0 574.9,331.5 574.4,333.0 574.0,334.5 573.6,335.9 573.2,337.4 572.7,338.9 572.3,340.4 571.9,341.9 571.4,343.4 571.0,344.9 570.5,346.3 570.1,347.8 569.6,349.3 569.2,350.8 568.7,352.3 568.3,353.8 567.8,355.3 567.4,356.8 566.9,358.2 566.5,359.7 566.0,361.2 565.5,362.7 565.1,364.2 564.6,365.7 564.1,367.2 563.7,368.6 563.2,370.1 562.7,371.6 562.2,373.1 561.8,374.6 561.3,376.1 560.8,377.6 560.3,379.1 559.8,380.5 559.3,382.0 558.8,383.5 558.3,385.0" fill="none" stroke="#1a1a1a" stroke-width="0.75"/>
<polyline points="600.8,377.6 600.3,379.1 599.8,380.5 599.3,382.0 598.7,383.5 598.2,385.0" fill="none" stroke="#1a1a1a" stroke-width="0.75"/>
<rect x="472.6" y="293.3" width="6.2" height="5.2" fill="#f4f4f4" stroke="#555" stroke-width="0.5"/>
<text x="475.7" y="297.4" font-family='"Liberation Sans", sans-serif' font-size="4" text-anchor="middle" fill="#444" textLength="4.4" lengthAdjust="spacingAndGlyphs">70</text>
<rect x="531.7" y="295.1" width="6.2" height="5.2" fill="#f4f4f4" stroke="#555" stroke-width="0.5"/>
<text x="534.8" y="299.2" font-family='"Liberation Sans", sans-serif' font-size="4" text-anchor="middle" fill="#444" textLength="4.4" lengthAdjust="spacingAndGlyphs">65</text>
<rect x="579.4" y="299.4" width="6.2" height="5.2" fill="#f4f4f4" stroke="#555" stroke-width="0.5"/>
<text x="582.5" y="303.5" font-family='"Liberation Sans", sans-serif' font-size="4" text-anchor="middle" fill="#444" textLength="4.4" lengthAdjust="spacingAndGlyphs">60</text>
<circle cx="511.1" cy="295.8" r="2.1" fill="#c00000" stroke="#400" stroke-width="0.5"/>
<text x="506.9" y="297.3" font-family='"Liberation Sans", sans-serif' font-size="3.8" text-anchor="middle" fill="#222">6</text>
<line x1="421.5" y1="385.0" x2="421.5" y2="388.5" stroke="#444" stroke-width="0.8"/>
<text x="421.5" y="395.5" font-family='"Liberation Sans", sans-serif' font-size="4.3" text-anchor="middle" fill="#333">0.5</text>
<line x1="457.3" y1="385.0" x2="457.3" y2="388.5" stroke="#444" stroke-width="0.8"/>
<text x="457.3" y="395.5" font-family='"Liberation Sans", sans-serif' font-size="4.3" text-anchor="middle" fill="#333">0.6</text>
<line x1="493.2" y1="385.0" x2="493.2" y2="388.5" stroke="#444" stroke-width="0.8"/>
<text x="493.2" y="395.5" font-family='"Liberation Sans", sans-serif' font-size="4.3" text-anchor="middle" fill="#333">0.7</text>
<line x1="529.0" y1="385.0" x2="529.0" y2="388.5" stroke="#444" stroke-width="0.8"/>
<text x="529" y="395.5" font-family='"Liberation Sans", sans-serif' font-size="4.3" text-anchor="middle" fill="#333">0.8</text>
<line x1="564.9" y1="385.0" x2="564.9" y2="388.5" stroke="#444" stroke-width="0.8"/>
<text x="564.9" y="395.5" font-family='"Liberation Sans", sans-serif' font-size="4.3" text-anchor="middle" fill="#333">0.9</text>
<line x1="600.7" y1="385.0" x2="600.7" y2="388.5" stroke="#444" stroke-width="0.8"/>
<text x="600.7" y="395.5" font-family='"Liberation Sans", sans-serif' font-size="4.3" text-anchor="middle" fill="#333">1</text>
<line x1="417.5" y1="206.6" x2="421.5" y2="206.6" stroke="#444" stroke-width="0.8"/>
<text x="413.5" y="208.1" font-family='"Liberation Sans", sans-serif' font-size="4.3" text-anchor="middle" fill="#333">45</text>
<line x1="417.5" y1="242.3" x2="421.5" y2="242.3" stroke="#444" stroke-width="0.8"/>
<text x="413.5" y="243.8" font-family='"Liberation Sans", sans-serif' font-size="4.3" text-anchor="middle" fill="#333">43</text>
<line x1="417.5" y1="278.0" x2="421.5" y2="278.0" stroke="#444" stroke-width="0.8"/>
<text x="413.5" y="279.5" font-family='"Liberation Sans", sans-serif' font-size="4.3" text-anchor="middle" fill="#333">41</text>
<line x1="417.5" y1="313.6" x2="421.5" y2="313.6" stroke="#444" stroke-width="0.8"/>
<text x="413.5" y="315.1" font-family='"Liberation Sans", sans-serif' font-size="4.3" text-anchor="middle" fill="#333">39</text>
<line x1="417.5" y1="349.3" x2="421.5" y2="349.3" stroke="#444" stroke-width="0.8"/>
<text x="413.5" y="350.8" font-family='"Liberation Sans", sans-serif' font-size="4.3" text-anchor="middle" fill="#333">37</text>
<line x1="417.5" y1="385.0" x2="421.5" y2="385.0" stroke="#444" stroke-width="0.8"/>
<text x="413.5" y="386.5" font-family='"Liberation Sans", sans-serif' font-size="4.3" text-anchor="middle" fill="#333">35</text>
<rect x="421.5" y="206.6" width="179.2" height="178.4" fill="none" stroke="#555" stroke-width="0.9"/>
<text x="423.1" y="215.6" font-family='"Liberation Serif", serif' font-size="9.3" text-anchor="start" fill="#000">(g)</text>
<text x="512.1" y="402.2" font-family='"Liberation Serif", serif' font-size="6.5" text-anchor="middle" fill="#111" textLength="52.2" lengthAdjust="spacingAndGlyphs">Particle size (<tspan font-style="italic">X</tspan><tspan font-size="4" dy="1">1</tspan><tspan dy="-1">: mm)</tspan></text>
<text x="406.5" y="297.7" font-family='"Liberation Serif", serif' font-size="6.5" text-anchor="middle" fill="#111" transform="rotate(-90 406.5 297.7)" textLength="53.0" lengthAdjust="spacingAndGlyphs">Temperature (<tspan font-style="italic">X</tspan><tspan font-size="4" dy="1">2</tspan><tspan dy="-1">: °C)</tspan></text>
<polyline points="627.1,313.4 704.4,287.4 782.6,313.4" fill="none" stroke="#3c3c3c" stroke-width="0.75"/>
<polyline points="626.1,293.4 704.4,269.1 783.4,293.4" fill="none" stroke="#3c3c3c" stroke-width="0.75"/>
<polyline points="625.2,273.4 704.4,250.8 784.3,273.4" fill="none" stroke="#3c3c3c" stroke-width="0.75"/>
<polyline points="624.3,253.4 704.4,232.5 785.1,253.4" fill="none" stroke="#3c3c3c" stroke-width="0.75"/>
<polyline points="623.4,233.4 704.4,214.2 786.0,233.4" fill="none" stroke="#3c3c3c" stroke-width="0.75"/>
<polyline points="642.5,308.2 639.6,229.6" fill="none" stroke="#3c3c3c" stroke-width="0.75"/>
<polyline points="658.0,303.0 655.8,225.7" fill="none" stroke="#3c3c3c" stroke-width="0.75"/>
<polyline points="673.5,297.8 672.0,221.9" fill="none" stroke="#3c3c3c" stroke-width="0.75"/>
<polyline points="688.9,292.6 688.2,218.0" fill="none" stroke="#3c3c3c" stroke-width="0.75"/>
<polyline points="720.0,292.6 720.7,218.0" fill="none" stroke="#3c3c3c" stroke-width="0.75"/>
<polyline points="735.7,297.8 737.0,221.9" fill="none" stroke="#3c3c3c" stroke-width="0.75"/>
<polyline points="751.3,303.0 753.3,225.7" fill="none" stroke="#3c3c3c" stroke-width="0.75"/>
<polyline points="766.9,308.2 769.6,229.6" fill="none" stroke="#3c3c3c" stroke-width="0.75"/>
<polyline points="628.2,338.2 623.4,233.4" fill="none" stroke="#333" stroke-width="0.8"/>
<polyline points="704.4,310.1 704.4,214.2" fill="none" stroke="#333" stroke-width="0.8"/>
<polyline points="781.5,338.2 786.0,233.4" fill="none" stroke="#333" stroke-width="0.8"/>
<circle cx="627.1" cy="313.4" r="0.8" fill="#111"/>
<text x="624.1" y="311.8" font-family='"Liberation Sans", sans-serif' font-size="5.6" text-anchor="end" fill="#333">40</text>
<circle cx="626.1" cy="293.4" r="0.8" fill="#111"/>
<text x="623.1" y="291.8" font-family='"Liberation Sans", sans-serif' font-size="5.6" text-anchor="end" fill="#333">50</text>
<circle cx="625.2" cy="273.4" r="0.8" fill="#111"/>
<text x="622.2" y="271.8" font-family='"Liberation Sans", sans-serif' font-size="5.6" text-anchor="end" fill="#333">60</text>
<circle cx="624.3" cy="253.4" r="0.8" fill="#111"/>
<text x="621.3" y="251.8" font-family='"Liberation Sans", sans-serif' font-size="5.6" text-anchor="end" fill="#333">70</text>
<circle cx="623.4" cy="233.4" r="0.8" fill="#111"/>
<text x="620.4" y="231.8" font-family='"Liberation Sans", sans-serif' font-size="5.6" text-anchor="end" fill="#333">80</text>
<polygon points="628.2,338.2 704.4,310.1 781.5,338.2 704.4,375.3" fill="#666666" stroke="#1a1a1a" stroke-width="0.9"/>
<polyline points="747.7,325.9 748.4,326.4 749.1,326.9 749.8,327.3 750.5,327.8 751.2,328.3 751.9,328.8 752.5,329.2 753.2,329.7 753.9,330.2 754.6,330.7 755.3,331.2 756.0,331.6 756.6,332.1 757.3,332.6 758.0,333.1 758.6,333.6 759.3,334.1 760.0,334.6 760.6,335.1 761.3,335.6 762.0,336.1 762.6,336.6 763.3,337.1 763.9,337.6 764.6,338.1 765.2,338.6 765.9,339.1 766.5,339.6 767.2,340.1 767.8,340.7 768.4,341.2 769.1,341.7 769.7,342.2 770.4,342.7 771.0,343.3" fill="none" stroke="#22c07a" stroke-width="1.35"/>
<polyline points="701.3,311.2 702.2,311.6 703.0,312.0 703.9,312.4 704.7,312.8 705.5,313.2 706.4,313.6 707.2,314.1 708.0,314.5 708.8,314.9 709.7,315.3 710.5,315.7 711.3,316.1 712.1,316.5 712.9,317.0 713.7,317.4 714.5,317.8 715.3,318.2 716.1,318.6 716.9,319.1 717.7,319.5 718.5,319.9 719.2,320.4 720.0,320.8 720.8,321.2 721.6,321.7 722.3,322.1 723.1,322.6 723.9,323.0 724.6,323.4 725.4,323.9 726.2,324.3 726.9,324.8 727.7,325.2 728.4,325.7 729.2,326.1 729.9,326.6 730.7,327.1 731.4,327.5 732.1,328.0 732.9,328.4 733.6,328.9 734.3,329.4 735.1,329.8 735.8,330.3 736.5,330.8 737.2,331.2 738.0,331.7 738.7,332.2 739.4,332.7 740.1,333.2 740.8,333.6 741.5,334.1 742.2,334.6 742.9,335.1 743.6,335.6 744.3,336.1 745.0,336.6 745.7,337.0 746.4,337.5 747.1,338.0 747.8,338.5 748.4,339.0 749.1,339.5 749.8,340.0 750.5,340.6 751.2,341.1 751.8,341.6 752.5,342.1 753.2,342.6 753.8,343.1 754.5,343.6 755.2,344.1 755.8,344.7 756.5,345.2 757.1,345.7 757.8,346.2 758.5,346.8 759.1,347.3 759.8,347.8 760.4,348.4" fill="none" stroke="#33cc33" stroke-width="1.35"/>
<polyline points="687.9,316.2 688.8,316.6 689.7,317.0 690.6,317.4 691.5,317.8 692.4,318.2 693.3,318.6 694.1,319.0 695.0,319.4 695.9,319.8 696.7,320.2 697.6,320.7 698.4,321.1 699.3,321.5 700.1,321.9 701.0,322.3 701.8,322.8 702.6,323.2 703.5,323.6 704.3,324.1 705.1,324.5 705.9,324.9 706.8,325.4 707.6,325.8 708.4,326.2 709.2,326.7 710.0,327.1 710.8,327.6 711.6,328.0 712.4,328.5 713.2,328.9 714.0,329.4 714.8,329.8 715.6,330.3 716.3,330.7 717.1,331.2 717.9,331.6 718.7,332.1 719.4,332.6 720.2,333.0 721.0,333.5 721.7,334.0 722.5,334.4 723.2,334.9 724.0,335.4 724.7,335.9 725.5,336.3 726.2,336.8 727.0,337.3 727.7,337.8 728.4,338.3 729.2,338.8 729.9,339.2 730.6,339.7 731.4,340.2 732.1,340.7 732.8,341.2 733.5,341.7 734.2,342.2 734.9,342.7 735.7,343.2 736.4,343.7 737.1,344.2 737.8,344.7 738.5,345.2 739.2,345.8 739.9,346.3 740.6,346.8 741.3,347.3 741.9,347.8 742.6,348.3 743.3,348.9 744.0,349.4 744.7,349.9 745.3,350.5 746.0,351.0 746.7,351.5 747.4,352.1 748.0,352.6 748.7,353.1 749.4,353.7" fill="none" stroke="#88dd22" stroke-width="1.35"/>
<polyline points="671.0,322.4 672.0,322.8 673.0,323.2 674.0,323.6 674.9,324.0 675.9,324.4 676.8,324.8 677.8,325.2 678.7,325.6 679.7,326.0 680.6,326.4 681.5,326.8 682.4,327.2 683.4,327.7 684.3,328.1 685.2,328.5 686.1,328.9 687.0,329.4 687.9,329.8 688.8,330.2 689.6,330.6 690.5,331.1 691.4,331.5 692.3,331.9 693.1,332.4 694.0,332.8 694.9,333.3 695.7,333.7 696.6,334.2 697.4,334.6 698.3,335.1 699.1,335.5 699.9,336.0 700.8,336.4 701.6,336.9 702.4,337.3 703.2,337.8 704.0,338.3 704.9,338.7 705.7,339.2 706.5,339.7 707.3,340.1 708.1,340.6 708.9,341.1 709.7,341.6 710.5,342.0 711.2,342.5 712.0,343.0 712.8,343.5 713.6,344.0 714.3,344.5 715.1,345.0 715.9,345.4 716.6,345.9 717.4,346.4 718.2,346.9 718.9,347.4 719.7,347.9 720.4,348.4 721.2,348.9 721.9,349.5 722.6,350.0 723.4,350.5 724.1,351.0 724.8,351.5 725.6,352.0 726.3,352.5 727.0,353.1 727.7,353.6 728.5,354.1 729.2,354.6 729.9,355.2 730.6,355.7 731.3,356.2 732.0,356.8 732.7,357.3 733.4,357.8 734.1,358.4 734.8,358.9 735.5,359.5 736.2,360.0" fill="none" stroke="#dddd22" stroke-width="1.35"/>
<polyline points="648.8,330.6 649.9,331.0 651.1,331.3 652.2,331.7 653.3,332.1 654.4,332.4 655.5,332.8 656.6,333.2 657.7,333.6 658.8,334.0 659.9,334.4 660.9,334.8 662.0,335.1 663.0,335.5 664.0,335.9 665.1,336.3 666.1,336.8 667.1,337.2 668.1,337.6 669.1,338.0 670.1,338.4 671.1,338.8 672.1,339.2 673.0,339.7 674.0,340.1 675.0,340.5 675.9,340.9 676.9,341.4 677.8,341.8 678.7,342.3 679.7,342.7 680.6,343.1 681.5,343.6 682.4,344.0 683.3,344.5 684.2,344.9 685.1,345.4 686.0,345.8 686.9,346.3 687.8,346.8 688.7,347.2 689.6,347.7 690.4,348.2 691.3,348.6 692.1,349.1 693.0,349.6 693.8,350.1 694.7,350.5 695.5,351.0 696.4,351.5 697.2,352.0 698.0,352.5 698.9,353.0 699.7,353.5 700.5,354.0 701.3,354.5 702.1,355.0 702.9,355.5 703.7,356.0 704.5,356.5 705.3,357.0 706.1,357.5 706.9,358.0 707.7,358.5 708.4,359.0 709.2,359.5 710.0,360.1 710.8,360.6 711.5,361.1 712.3,361.6 713.0,362.2 713.8,362.7 714.6,363.2 715.3,363.8 716.0,364.3 716.8,364.9 717.5,365.4 718.3,365.9 719.0,366.5 719.7,367.0 720.4,367.6" fill="none" stroke="#e8a424" stroke-width="1.35"/>
<circle cx="643.4" cy="345.6" r="0.7" fill="#111"/>
<circle cx="719.8" cy="367.9" r="0.7" fill="#111"/>
<circle cx="658.7" cy="353.0" r="0.7" fill="#111"/>
<circle cx="735.2" cy="360.5" r="0.7" fill="#111"/>
<circle cx="673.9" cy="360.5" r="0.7" fill="#111"/>
<circle cx="750.7" cy="353.0" r="0.7" fill="#111"/>
<circle cx="689.2" cy="367.9" r="0.7" fill="#111"/>
<circle cx="766.1" cy="345.6" r="0.7" fill="#111"/>
<text x="622.5" y="344.2" font-family='"Liberation Sans", sans-serif' font-size="5.8" text-anchor="middle" fill="#333">45</text>
<text x="637.7" y="351.6" font-family='"Liberation Sans", sans-serif' font-size="5.8" text-anchor="middle" fill="#333">43</text>
<text x="653" y="359" font-family='"Liberation Sans", sans-serif' font-size="5.8" text-anchor="middle" fill="#333">41</text>
<text x="668.2" y="366.5" font-family='"Liberation Sans", sans-serif' font-size="5.8" text-anchor="middle" fill="#333">39</text>
<text x="683.5" y="373.9" font-family='"Liberation Sans", sans-serif' font-size="5.8" text-anchor="middle" fill="#333">37</text>
<text x="698.7" y="381.3" font-family='"Liberation Sans", sans-serif' font-size="5.8" text-anchor="middle" fill="#333">35</text>
<text x="710.7" y="380.8" font-family='"Liberation Sans", sans-serif' font-size="5.8" text-anchor="middle" fill="#333">0.5</text>
<text x="726.1" y="373.4" font-family='"Liberation Sans", sans-serif' font-size="5.8" text-anchor="middle" fill="#333">0.6</text>
<text x="741.5" y="366" font-family='"Liberation Sans", sans-serif' font-size="5.8" text-anchor="middle" fill="#333">0.7</text>
<text x="757" y="358.5" font-family='"Liberation Sans", sans-serif' font-size="5.8" text-anchor="middle" fill="#333">0.8</text>
<text x="772.4" y="351.1" font-family='"Liberation Sans", sans-serif' font-size="5.8" text-anchor="middle" fill="#333">0.9</text>
<text x="784.9" y="343.7" font-family='"Liberation Sans", sans-serif' font-size="5.8" text-anchor="middle" fill="#333">1</text>
<path d="M699.4 250.1 704.4 250.7 709.4 252.4 704.4 251.7" fill="#40ae31" stroke="#40ae31" stroke-width=".7"/>
<path d="M694.5 249.5 699.4 250.1 704.4 251.7 699.5 251.2" fill="#46b232" stroke="#46b232" stroke-width=".7"/>
<path d="M704.4 251.7 709.4 252.4 714.4 254.1 709.4 253.5" fill="#3fae31" stroke="#3fae31" stroke-width=".7"/>
<path d="M689.5 249.1 694.5 249.5 699.5 251.2 694.5 250.7" fill="#4db632" stroke="#4db632" stroke-width=".7"/>
<path d="M699.5 251.2 704.4 251.7 709.4 253.5 704.5 252.9" fill="#46b232" stroke="#46b232" stroke-width=".7"/>
<path d="M709.4 253.5 714.4 254.1 719.4 255.9 714.4 255.2" fill="#3ead31" stroke="#3ead31" stroke-width=".7"/>
<path d="M684.5 248.6 689.5 249.1 694.5 250.7 689.5 250.2" fill="#52b933" stroke="#52b933" stroke-width=".7"/>
<path d="M694.5 250.7 699.5 251.2 704.5 252.9 699.5 252.4" fill="#4cb532" stroke="#4cb532" stroke-width=".7"/>
<path d="M704.5 252.9 709.4 253.5 714.4 255.2 709.5 254.6" fill="#45b132" stroke="#45b132" stroke-width=".7"/>
<path d="M714.4 255.2 719.4 255.9 724.3 257.8 719.4 257.1" fill="#3dab30" stroke="#3dab30" stroke-width=".7"/>
<path d="M679.5 248.3 684.5 248.6 689.5 250.2 684.5 249.9" fill="#66bf34" stroke="#66bf34" stroke-width=".7"/>
<path d="M689.5 250.2 694.5 250.7 699.5 252.4 694.5 251.9" fill="#52b933" stroke="#52b933" stroke-width=".7"/>
<path d="M699.5 252.4 704.5 252.9 709.5 254.6 704.5 254.1" fill="#4bb532" stroke="#4bb532" stroke-width=".7"/>
<path d="M709.5 254.6 714.4 255.2 719.4 257.1 714.5 256.4" fill="#44b031" stroke="#44b031" stroke-width=".7"/>
<path d="M719.4 257.1 724.3 257.8 729.3 259.7 724.4 258.9" fill="#3caa30" stroke="#3caa30" stroke-width=".7"/>
<path d="M674.5 248.0 679.5 248.3 684.5 249.9 679.5 249.5" fill="#84c737" stroke="#84c737" stroke-width=".7"/>
<path d="M684.5 249.9 689.5 250.2 694.5 251.9 689.5 251.5" fill="#64bf34" stroke="#64bf34" stroke-width=".7"/>
<path d="M694.5 251.9 699.5 252.4 704.5 254.1 699.5 253.6" fill="#51b933" stroke="#51b933" stroke-width=".7"/>
<path d="M704.5 254.1 709.5 254.6 714.5 256.4 709.5 255.9" fill="#4ab432" stroke="#4ab432" stroke-width=".7"/>
<path d="M714.5 256.4 719.4 257.1 724.4 258.9 719.5 258.3" fill="#42b031" stroke="#42b031" stroke-width=".7"/>
<path d="M724.4 258.9 729.3 259.7 734.3 261.6 729.4 260.9" fill="#3ba82f" stroke="#3ba82f" stroke-width=".7"/>
<path d="M669.5 247.7 674.5 248.0 679.5 249.5 674.5 249.3" fill="#a1cf39" stroke="#a1cf39" stroke-width=".7"/>
<path d="M679.5 249.5 684.5 249.9 689.5 251.5 684.5 251.1" fill="#82c736" stroke="#82c736" stroke-width=".7"/>
<path d="M689.5 251.5 694.5 251.9 699.5 253.6 694.5 253.2" fill="#61be34" stroke="#61be34" stroke-width=".7"/>
<path d="M699.5 253.6 704.5 254.1 709.5 255.9 704.5 255.4" fill="#51b833" stroke="#51b833" stroke-width=".7"/>
<path d="M709.5 255.9 714.5 256.4 719.5 258.3 714.5 257.7" fill="#49b432" stroke="#49b432" stroke-width=".7"/>
<path d="M719.5 258.3 724.4 258.9 729.4 260.9 724.4 260.2" fill="#41af31" stroke="#41af31" stroke-width=".7"/>
<path d="M729.4 260.9 734.3 261.6 739.3 263.6 734.4 262.8" fill="#3aa62f" stroke="#3aa62f" stroke-width=".7"/>
<path d="M664.5 247.6 669.5 247.7 674.5 249.3 669.5 249.1" fill="#bfd63b" stroke="#bfd63b" stroke-width=".7"/>
<path d="M674.5 249.3 679.5 249.5 684.5 251.1 679.5 250.9" fill="#a1cf39" stroke="#a1cf39" stroke-width=".7"/>
<path d="M684.5 251.1 689.5 251.5 694.5 253.2 689.5 252.8" fill="#80c736" stroke="#80c736" stroke-width=".7"/>
<path d="M694.5 253.2 699.5 253.6 704.5 255.4 699.5 254.9" fill="#5dbd34" stroke="#5dbd34" stroke-width=".7"/>
<path d="M704.5 255.4 709.5 255.9 714.5 257.7 709.5 257.2" fill="#50b733" stroke="#50b733" stroke-width=".7"/>
<path d="M714.5 257.7 719.5 258.3 724.4 260.2 719.5 259.6" fill="#48b332" stroke="#48b332" stroke-width=".7"/>
<path d="M724.4 260.2 729.4 260.9 734.4 262.8 729.4 262.1" fill="#3fae31" stroke="#3fae31" stroke-width=".7"/>
<path d="M734.4 262.8 739.3 263.6 744.2 265.7 739.3 264.9" fill="#38a42e" stroke="#38a42e" stroke-width=".7"/>
<path d="M659.4 247.4 664.5 247.6 669.5 249.1 664.4 248.9" fill="#dbdd3e" stroke="#dbdd3e" stroke-width=".7"/>
<path d="M669.5 249.1 674.5 249.3 679.5 250.9 674.5 250.6" fill="#bfd63b" stroke="#bfd63b" stroke-width=".7"/>
<path d="M679.5 250.9 684.5 251.1 689.5 252.8 684.5 252.5" fill="#9fcf39" stroke="#9fcf39" stroke-width=".7"/>
<path d="M689.5 252.8 694.5 253.2 699.5 254.9 694.5 254.5" fill="#7dc636" stroke="#7dc636" stroke-width=".7"/>
<path d="M699.5 254.9 704.5 255.4 709.5 257.2 704.5 256.7" fill="#59bc33" stroke="#59bc33" stroke-width=".7"/>
<path d="M709.5 257.2 714.5 257.7 719.5 259.6 714.5 259.0" fill="#4eb733" stroke="#4eb733" stroke-width=".7"/>
<path d="M719.5 259.6 724.4 260.2 729.4 262.1 724.5 261.5" fill="#46b232" stroke="#46b232" stroke-width=".7"/>
<path d="M729.4 262.1 734.4 262.8 739.3 264.9 734.4 264.2" fill="#3eac31" stroke="#3eac31" stroke-width=".7"/>
<path d="M739.3 264.9 744.2 265.7 749.2 267.8 744.3 267.0" fill="#37a22e" stroke="#37a22e" stroke-width=".7"/>
<path d="M654.4 247.4 659.4 247.4 664.4 248.9 659.4 248.9" fill="#e8db3e" stroke="#e8db3e" stroke-width=".7"/>
<path d="M664.4 248.9 669.5 249.1 674.5 250.6 669.5 250.5" fill="#dcdd3e" stroke="#dcdd3e" stroke-width=".7"/>
<path d="M674.5 250.6 679.5 250.9 684.5 252.5 679.5 252.2" fill="#bed63b" stroke="#bed63b" stroke-width=".7"/>
<path d="M684.5 252.5 689.5 252.8 694.5 254.5 689.5 254.2" fill="#9dce39" stroke="#9dce39" stroke-width=".7"/>
<path d="M694.5 254.5 699.5 254.9 704.5 256.7 699.5 256.3" fill="#7ac536" stroke="#7ac536" stroke-width=".7"/>
<path d="M704.5 256.7 709.5 257.2 714.5 259.0 709.5 258.5" fill="#55bb33" stroke="#55bb33" stroke-width=".7"/>
<path d="M714.5 259.0 719.5 259.6 724.5 261.5 719.5 260.9" fill="#4db632" stroke="#4db632" stroke-width=".7"/>
<path d="M724.5 261.5 729.4 262.1 734.4 264.2 729.5 263.5" fill="#45b132" stroke="#45b132" stroke-width=".7"/>
<path d="M734.4 264.2 739.3 264.9 744.3 267.0 739.4 266.2" fill="#3dab30" stroke="#3dab30" stroke-width=".7"/>
<path d="M744.3 267.0 749.2 267.8 754.2 269.9 749.3 269.1" fill="#35a02d" stroke="#35a02d" stroke-width=".7"/>
<path d="M649.3 247.4 654.4 247.4 659.4 248.9 654.4 248.9" fill="#efd63c" stroke="#efd63c" stroke-width=".7"/>
<path d="M659.4 248.9 664.4 248.9 669.5 250.5 664.4 250.4" fill="#e8db3d" stroke="#e8db3d" stroke-width=".7"/>
<path d="M669.5 250.5 674.5 250.6 679.5 252.2 674.5 252.0" fill="#dcdd3e" stroke="#dcdd3e" stroke-width=".7"/>
<path d="M679.5 252.2 684.5 252.5 689.5 254.2 684.5 253.9" fill="#bdd63b" stroke="#bdd63b" stroke-width=".7"/>
<path d="M689.5 254.2 694.5 254.5 699.5 256.3 694.5 255.9" fill="#9acd38" stroke="#9acd38" stroke-width=".7"/>
<path d="M699.5 256.3 704.5 256.7 709.5 258.5 704.5 258.1" fill="#75c436" stroke="#75c436" stroke-width=".7"/>
<path d="M709.5 258.5 714.5 259.0 719.5 260.9 714.5 260.4" fill="#54ba33" stroke="#54ba33" stroke-width=".7"/>
<path d="M719.5 260.9 724.5 261.5 729.5 263.5 724.5 262.9" fill="#4cb532" stroke="#4cb532" stroke-width=".7"/>
<path d="M729.5 263.5 734.4 264.2 739.4 266.2 734.4 265.5" fill="#43b031" stroke="#43b031" stroke-width=".7"/>
<path d="M739.4 266.2 744.3 267.0 749.3 269.1 744.4 268.3" fill="#3ba82f" stroke="#3ba82f" stroke-width=".7"/>
<path d="M749.3 269.1 754.2 269.9 759.1 272.1 754.2 271.3" fill="#349e2c" stroke="#349e2c" stroke-width=".7"/>
<path d="M644.3 247.5 649.3 247.4 654.4 248.9 649.3 248.9" fill="#f6d13b" stroke="#f6d13b" stroke-width=".7"/>
<path d="M654.4 248.9 659.4 248.9 664.4 250.4 659.4 250.3" fill="#f0d53c" stroke="#f0d53c" stroke-width=".7"/>
<path d="M664.4 250.4 669.5 250.5 674.5 252.0 669.4 251.9" fill="#e9da3d" stroke="#e9da3d" stroke-width=".7"/>
<path d="M674.5 252.0 679.5 252.2 684.5 253.9 679.5 253.7" fill="#dbdd3e" stroke="#dbdd3e" stroke-width=".7"/>
<path d="M684.5 253.9 689.5 254.2 694.5 255.9 689.5 255.6" fill="#bbd53b" stroke="#bbd53b" stroke-width=".7"/>
<path d="M694.5 255.9 699.5 256.3 704.5 258.1 699.5 257.7" fill="#96cc38" stroke="#96cc38" stroke-width=".7"/>
<path d="M704.5 258.1 709.5 258.5 714.5 260.4 709.6 259.9" fill="#70c235" stroke="#70c235" stroke-width=".7"/>
<path d="M714.5 260.4 719.5 260.9 724.5 262.9 719.5 262.3" fill="#53b933" stroke="#53b933" stroke-width=".7"/>
<path d="M724.5 262.9 729.5 263.5 734.4 265.5 729.5 264.9" fill="#4ab432" stroke="#4ab432" stroke-width=".7"/>
<path d="M734.4 265.5 739.4 266.2 744.4 268.3 739.4 267.6" fill="#42af31" stroke="#42af31" stroke-width=".7"/>
<path d="M744.4 268.3 749.3 269.1 754.2 271.3 749.3 270.5" fill="#3aa62f" stroke="#3aa62f" stroke-width=".7"/>
<path d="M754.2 271.3 759.1 272.1 764.1 274.4 759.2 273.5" fill="#329b2b" stroke="#329b2b" stroke-width=".7"/>
<path d="M639.2 247.7 644.3 247.5 649.3 248.9 644.3 249.1" fill="#fccc3a" stroke="#fccc3a" stroke-width=".7"/>
<path d="M649.3 248.9 654.4 248.9 659.4 250.3 654.3 250.4" fill="#f7d03b" stroke="#f7d03b" stroke-width=".7"/>
<path d="M659.4 250.3 664.4 250.4 669.4 251.9 664.4 251.9" fill="#f0d53c" stroke="#f0d53c" stroke-width=".7"/>
<path d="M669.4 251.9 674.5 252.0 679.5 253.7 674.4 253.5" fill="#e9da3d" stroke="#e9da3d" stroke-width=".7"/>
<path d="M679.5 253.7 684.5 253.9 689.5 255.6 684.5 255.4" fill="#dadd3e" stroke="#dadd3e" stroke-width=".7"/>
<path d="M689.5 255.6 694.5 255.9 699.5 257.7 694.5 257.3" fill="#b8d53b" stroke="#b8d53b" stroke-width=".7"/>
<path d="M699.5 257.7 704.5 258.1 709.6 259.9 704.6 259.5" fill="#91cb38" stroke="#91cb38" stroke-width=".7"/>
<path d="M709.6 259.9 714.5 260.4 719.5 262.3 714.6 261.8" fill="#6ac135" stroke="#6ac135" stroke-width=".7"/>
<path d="M719.5 262.3 724.5 262.9 729.5 264.9 724.5 264.3" fill="#51b833" stroke="#51b833" stroke-width=".7"/>
<path d="M729.5 264.9 734.4 265.5 739.4 267.6 734.5 266.9" fill="#49b332" stroke="#49b332" stroke-width=".7"/>
<path d="M739.4 267.6 744.4 268.3 749.3 270.5 744.4 269.7" fill="#40ae31" stroke="#40ae31" stroke-width=".7"/>
<path d="M749.3 270.5 754.2 271.3 759.2 273.5 754.3 272.7" fill="#38a42e" stroke="#38a42e" stroke-width=".7"/>
<path d="M759.2 273.5 764.1 274.4 769.0 276.7 764.1 275.8" fill="#30982b" stroke="#30982b" stroke-width=".7"/>
<path d="M634.2 247.9 639.2 247.7 644.3 249.1 639.2 249.3" fill="#fec139" stroke="#fec139" stroke-width=".7"/>
<path d="M644.3 249.1 649.3 248.9 654.3 250.4 649.3 250.5" fill="#fdca3a" stroke="#fdca3a" stroke-width=".7"/>
<path d="M654.3 250.4 659.4 250.3 664.4 251.9 659.3 251.9" fill="#f7cf3b" stroke="#f7cf3b" stroke-width=".7"/>
<path d="M664.4 251.9 669.4 251.9 674.4 253.5 669.4 253.5" fill="#f1d43c" stroke="#f1d43c" stroke-width=".7"/>
<path d="M674.4 253.5 679.5 253.7 684.5 255.4 679.5 255.2" fill="#e9da3d" stroke="#e9da3d" stroke-width=".7"/>
<path d="M684.5 255.4 689.5 255.6 694.5 257.3 689.5 257.1" fill="#d8dc3e" stroke="#d8dc3e" stroke-width=".7"/>
<path d="M694.5 257.3 699.5 257.7 704.6 259.5 699.5 259.1" fill="#b4d43a" stroke="#b4d43a" stroke-width=".7"/>
<path d="M704.6 259.5 709.6 259.9 714.6 261.8 709.6 261.4" fill="#8cca37" stroke="#8cca37" stroke-width=".7"/>
<path d="M714.6 261.8 719.5 262.3 724.5 264.3 719.6 263.8" fill="#63bf34" stroke="#63bf34" stroke-width=".7"/>
<path d="M724.5 264.3 729.5 264.9 734.5 266.9 729.5 266.3" fill="#50b833" stroke="#50b833" stroke-width=".7"/>
<path d="M734.5 266.9 739.4 267.6 744.4 269.7 739.5 269.1" fill="#47b232" stroke="#47b232" stroke-width=".7"/>
<path d="M744.4 269.7 749.3 270.5 754.3 272.7 749.4 271.9" fill="#3eac31" stroke="#3eac31" stroke-width=".7"/>
<path d="M754.3 272.7 759.2 273.5 764.1 275.8 759.3 275.0" fill="#36a12d" stroke="#36a12d" stroke-width=".7"/>
<path d="M764.1 275.8 769.0 276.7 774.0 279.1 769.1 278.2" fill="#2e952a" stroke="#2e952a" stroke-width=".7"/>
<path d="M629.1 248.2 634.2 247.9 639.2 249.3 634.1 249.5" fill="#ffb737" stroke="#ffb737" stroke-width=".7"/>
<path d="M639.2 249.3 644.3 249.1 649.3 250.5 644.2 250.7" fill="#ffbe38" stroke="#ffbe38" stroke-width=".7"/>
<path d="M649.3 250.5 654.3 250.4 659.3 251.9 654.3 252.0" fill="#fdc839" stroke="#fdc839" stroke-width=".7"/>
<path d="M659.3 251.9 664.4 251.9 669.4 253.5 664.4 253.4" fill="#f8cf3b" stroke="#f8cf3b" stroke-width=".7"/>
<path d="M669.4 253.5 674.4 253.5 679.5 255.2 674.4 255.1" fill="#f1d43c" stroke="#f1d43c" stroke-width=".7"/>
<path d="M679.5 255.2 684.5 255.4 689.5 257.1 684.5 256.9" fill="#e8db3d" stroke="#e8db3d" stroke-width=".7"/>
<path d="M689.5 257.1 694.5 257.3 699.5 259.1 694.5 258.8" fill="#d5dc3d" stroke="#d5dc3d" stroke-width=".7"/>
<path d="M699.5 259.1 704.6 259.5 709.6 261.4 704.6 261.0" fill="#afd23a" stroke="#afd23a" stroke-width=".7"/>
<path d="M709.6 261.4 714.6 261.8 719.6 263.8 714.6 263.3" fill="#86c837" stroke="#86c837" stroke-width=".7"/>
<path d="M719.6 263.8 724.5 264.3 729.5 266.3 724.6 265.8" fill="#5cbd34" stroke="#5cbd34" stroke-width=".7"/>
<path d="M729.5 266.3 734.5 266.9 739.5 269.1 734.5 268.4" fill="#4eb732" stroke="#4eb732" stroke-width=".7"/>
<path d="M739.5 269.1 744.4 269.7 749.4 271.9 744.4 271.2" fill="#45b132" stroke="#45b132" stroke-width=".7"/>
<path d="M749.4 271.9 754.3 272.7 759.3 275.0 754.3 274.2" fill="#3caa30" stroke="#3caa30" stroke-width=".7"/>
<path d="M759.3 275.0 764.1 275.8 769.1 278.2 764.2 277.3" fill="#349e2c" stroke="#349e2c" stroke-width=".7"/>
<path d="M769.1 278.2 774.0 279.1 778.9 281.6 774.0 280.6" fill="#2c9129" stroke="#2c9129" stroke-width=".7"/>
<path d="M624.1 248.6 629.1 248.2 634.1 249.5 629.1 249.9" fill="#ffad36" stroke="#ffad36" stroke-width=".7"/>
<path d="M634.1 249.5 639.2 249.3 644.2 250.7 639.1 250.9" fill="#ffb337" stroke="#ffb337" stroke-width=".7"/>
<path d="M644.2 250.7 649.3 250.5 654.3 252.0 649.2 252.1" fill="#ffbc38" stroke="#ffbc38" stroke-width=".7"/>
<path d="M654.3 252.0 659.3 251.9 664.4 253.4 659.3 253.5" fill="#fdc639" stroke="#fdc639" stroke-width=".7"/>
<path d="M664.4 253.4 669.4 253.5 674.4 255.1 669.4 255.0" fill="#f8cf3b" stroke="#f8cf3b" stroke-width=".7"/>
<path d="M674.4 255.1 679.5 255.2 684.5 256.9 679.4 256.7" fill="#f1d43c" stroke="#f1d43c" stroke-width=".7"/>
<path d="M684.5 256.9 689.5 257.1 694.5 258.8 689.5 258.6" fill="#e7db3e" stroke="#e7db3e" stroke-width=".7"/>
<path d="M694.5 258.8 699.5 259.1 704.6 261.0 699.5 260.7" fill="#d1db3d" stroke="#d1db3d" stroke-width=".7"/>
<path d="M704.6 261.0 709.6 261.4 714.6 263.3 709.6 262.9" fill="#a9d13a" stroke="#a9d13a" stroke-width=".7"/>
<path d="M714.6 263.3 719.6 263.8 724.6 265.8 719.6 265.3" fill="#7fc636" stroke="#7fc636" stroke-width=".7"/>
<path d="M724.6 265.8 729.5 266.3 734.5 268.4 729.5 267.8" fill="#55bb33" stroke="#55bb33" stroke-width=".7"/>
<path d="M734.5 268.4 739.5 269.1 744.4 271.2 739.5 270.6" fill="#4cb532" stroke="#4cb532" stroke-width=".7"/>
<path d="M744.4 271.2 749.4 271.9 754.3 274.2 749.4 273.4" fill="#43b031" stroke="#43b031" stroke-width=".7"/>
<path d="M754.3 274.2 759.3 275.0 764.2 277.3 759.3 276.5" fill="#3aa72f" stroke="#3aa72f" stroke-width=".7"/>
<path d="M764.2 277.3 769.1 278.2 774.0 280.6 769.2 279.7" fill="#329b2c" stroke="#329b2c" stroke-width=".7"/>
<path d="M774.0 280.6 778.9 281.6 783.8 284.1 779.0 283.1" fill="#2b8d28" stroke="#2b8d28" stroke-width=".7"/>
<path d="M629.1 249.9 634.1 249.5 639.1 250.9 634.1 251.3" fill="#ffa935" stroke="#ffa935" stroke-width=".7"/>
<path d="M639.1 250.9 644.2 250.7 649.2 252.1 644.2 252.4" fill="#ffb036" stroke="#ffb036" stroke-width=".7"/>
<path d="M649.2 252.1 654.3 252.0 659.3 253.5 654.2 253.6" fill="#ffb938" stroke="#ffb938" stroke-width=".7"/>
<path d="M659.3 253.5 664.4 253.4 669.4 255.0 664.3 255.1" fill="#fdc539" stroke="#fdc539" stroke-width=".7"/>
<path d="M669.4 255.0 674.4 255.1 679.4 256.7 674.4 256.7" fill="#f8cf3b" stroke="#f8cf3b" stroke-width=".7"/>
<path d="M679.4 256.7 684.5 256.9 689.5 258.6 684.5 258.5" fill="#f0d53c" stroke="#f0d53c" stroke-width=".7"/>
<path d="M689.5 258.6 694.5 258.8 699.5 260.7 694.5 260.4" fill="#e7dc3e" stroke="#e7dc3e" stroke-width=".7"/>
<path d="M699.5 260.7 704.6 261.0 709.6 262.9 704.6 262.5" fill="#ccd93d" stroke="#ccd93d" stroke-width=".7"/>
<path d="M709.6 262.9 714.6 263.3 719.6 265.3 714.6 264.8" fill="#a2cf39" stroke="#a2cf39" stroke-width=".7"/>
<path d="M719.6 265.3 724.6 265.8 729.5 267.8 724.6 267.3" fill="#78c436" stroke="#78c436" stroke-width=".7"/>
<path d="M729.5 267.8 734.5 268.4 739.5 270.6 734.5 270.0" fill="#53ba33" stroke="#53ba33" stroke-width=".7"/>
<path d="M739.5 270.6 744.4 271.2 749.4 273.4 744.5 272.8" fill="#4ab432" stroke="#4ab432" stroke-width=".7"/>
<path d="M749.4 273.4 754.3 274.2 759.3 276.5 754.4 275.7" fill="#41af31" stroke="#41af31" stroke-width=".7"/>
<path d="M759.3 276.5 764.2 277.3 769.2 279.7 764.3 278.9" fill="#38a42e" stroke="#38a42e" stroke-width=".7"/>
<path d="M769.2 279.7 774.0 280.6 779.0 283.1 774.1 282.2" fill="#30982b" stroke="#30982b" stroke-width=".7"/>
<path d="M634.1 251.3 639.1 250.9 644.2 252.4 639.1 252.7" fill="#ffa535" stroke="#ffa535" stroke-width=".7"/>
<path d="M644.2 252.4 649.2 252.1 654.2 253.6 649.2 253.8" fill="#ffad36" stroke="#ffad36" stroke-width=".7"/>
<path d="M654.2 253.6 659.3 253.5 664.3 255.1 659.3 255.2" fill="#ffb837" stroke="#ffb837" stroke-width=".7"/>
<path d="M664.3 255.1 669.4 255.0 674.4 256.7 669.3 256.7" fill="#fec539" stroke="#fec539" stroke-width=".7"/>
<path d="M674.4 256.7 679.4 256.7 684.5 258.5 679.4 258.4" fill="#f8cf3b" stroke="#f8cf3b" stroke-width=".7"/>
<path d="M684.5 258.5 689.5 258.6 694.5 260.4 689.5 260.2" fill="#efd53c" stroke="#efd53c" stroke-width=".7"/>
<path d="M694.5 260.4 699.5 260.7 704.6 262.5 699.5 262.3" fill="#e5dd3e" stroke="#e5dd3e" stroke-width=".7"/>
<path d="M704.6 262.5 709.6 262.9 714.6 264.8 709.6 264.5" fill="#c6d83c" stroke="#c6d83c" stroke-width=".7"/>
<path d="M714.6 264.8 719.6 265.3 724.6 267.3 719.6 266.9" fill="#9bce38" stroke="#9bce38" stroke-width=".7"/>
<path d="M724.6 267.3 729.5 267.8 734.5 270.0 729.6 269.4" fill="#6fc235" stroke="#6fc235" stroke-width=".7"/>
<path d="M734.5 270.0 739.5 270.6 744.5 272.8 739.5 272.1" fill="#51b933" stroke="#51b933" stroke-width=".7"/>
<path d="M744.5 272.8 749.4 273.4 754.4 275.7 749.5 275.0" fill="#48b332" stroke="#48b332" stroke-width=".7"/>
<path d="M754.4 275.7 759.3 276.5 764.3 278.9 759.4 278.1" fill="#3ead31" stroke="#3ead31" stroke-width=".7"/>
<path d="M764.3 278.9 769.2 279.7 774.1 282.2 769.2 281.3" fill="#36a12d" stroke="#36a12d" stroke-width=".7"/>
<path d="M639.1 252.7 644.2 252.4 649.2 253.8 644.1 254.1" fill="#ffa234" stroke="#ffa234" stroke-width=".7"/>
<path d="M649.2 253.8 654.2 253.6 659.3 255.2 654.2 255.3" fill="#ffab36" stroke="#ffab36" stroke-width=".7"/>
<path d="M659.3 255.2 664.3 255.1 669.3 256.7 664.3 256.8" fill="#ffb737" stroke="#ffb737" stroke-width=".7"/>
<path d="M669.3 256.7 674.4 256.7 679.4 258.4 674.4 258.3" fill="#fec439" stroke="#fec439" stroke-width=".7"/>
<path d="M679.4 258.4 684.5 258.5 689.5 260.2 684.4 260.1" fill="#f8cf3b" stroke="#f8cf3b" stroke-width=".7"/>
<path d="M689.5 260.2 694.5 260.4 699.5 262.3 694.5 262.1" fill="#efd63c" stroke="#efd63c" stroke-width=".7"/>
<path d="M699.5 262.3 704.6 262.5 709.6 264.5 704.5 264.2" fill="#e4de3e" stroke="#e4de3e" stroke-width=".7"/>
<path d="M709.6 264.5 714.6 264.8 719.6 266.9 714.6 266.5" fill="#bfd63c" stroke="#bfd63c" stroke-width=".7"/>
<path d="M719.6 266.9 724.6 267.3 729.6 269.4 724.6 268.9" fill="#93cc38" stroke="#93cc38" stroke-width=".7"/>
<path d="M729.6 269.4 734.5 270.0 739.5 272.1 734.6 271.6" fill="#66bf34" stroke="#66bf34" stroke-width=".7"/>
<path d="M739.5 272.1 744.5 272.8 749.5 275.0 744.5 274.4" fill="#4fb733" stroke="#4fb733" stroke-width=".7"/>
<path d="M749.5 275.0 754.4 275.7 759.4 278.1 754.4 277.3" fill="#46b232" stroke="#46b232" stroke-width=".7"/>
<path d="M759.4 278.1 764.3 278.9 769.2 281.3 764.3 280.5" fill="#3caa30" stroke="#3caa30" stroke-width=".7"/>
<path d="M644.1 254.1 649.2 253.8 654.2 255.3 649.1 255.6" fill="#ffa034" stroke="#ffa034" stroke-width=".7"/>
<path d="M654.2 255.3 659.3 255.2 664.3 256.8 659.2 256.9" fill="#ffaa35" stroke="#ffaa35" stroke-width=".7"/>
<path d="M664.3 256.8 669.3 256.7 674.4 258.3 669.3 258.4" fill="#ffb637" stroke="#ffb637" stroke-width=".7"/>
<path d="M674.4 258.3 679.4 258.4 684.4 260.1 679.4 260.1" fill="#fec539" stroke="#fec539" stroke-width=".7"/>
<path d="M684.4 260.1 689.5 260.2 694.5 262.1 689.5 261.9" fill="#f7d03b" stroke="#f7d03b" stroke-width=".7"/>
<path d="M694.5 262.1 699.5 262.3 704.5 264.2 699.5 263.9" fill="#edd73d" stroke="#edd73d" stroke-width=".7"/>
<path d="M704.5 264.2 709.6 264.5 714.6 266.5 709.6 266.1" fill="#e2df3e" stroke="#e2df3e" stroke-width=".7"/>
<path d="M714.6 266.5 719.6 266.9 724.6 268.9 719.6 268.5" fill="#b8d53b" stroke="#b8d53b" stroke-width=".7"/>
<path d="M724.6 268.9 729.6 269.4 734.6 271.6 729.6 271.0" fill="#8ac937" stroke="#8ac937" stroke-width=".7"/>
<path d="M734.6 271.6 739.5 272.1 744.5 274.4 739.5 273.8" fill="#5cbd34" stroke="#5cbd34" stroke-width=".7"/>
<path d="M744.5 274.4 749.5 275.0 754.4 277.3 749.5 276.6" fill="#4db632" stroke="#4db632" stroke-width=".7"/>
<path d="M754.4 277.3 759.4 278.1 764.3 280.5 759.4 279.7" fill="#44b031" stroke="#44b031" stroke-width=".7"/>
<path d="M649.1 255.6 654.2 255.3 659.2 256.9 654.1 257.1" fill="#ff9e34" stroke="#ff9e34" stroke-width=".7"/>
<path d="M659.2 256.9 664.3 256.8 669.3 258.4 664.2 258.5" fill="#ffa935" stroke="#ffa935" stroke-width=".7"/>
<path d="M669.3 258.4 674.4 258.3 679.4 260.1 674.3 260.1" fill="#ffb637" stroke="#ffb637" stroke-width=".7"/>
<path d="M679.4 260.1 684.4 260.1 689.5 261.9 684.4 261.8" fill="#fdc639" stroke="#fdc639" stroke-width=".7"/>
<path d="M689.5 261.9 694.5 262.1 699.5 263.9 694.5 263.8" fill="#f6d03b" stroke="#f6d03b" stroke-width=".7"/>
<path d="M699.5 263.9 704.5 264.2 709.6 266.1 704.5 265.9" fill="#ecd83d" stroke="#ecd83d" stroke-width=".7"/>
<path d="M709.6 266.1 714.6 266.5 719.6 268.5 714.6 268.1" fill="#dcdd3e" stroke="#dcdd3e" stroke-width=".7"/>
<path d="M719.6 268.5 724.6 268.9 729.6 271.0 724.6 270.6" fill="#b0d33a" stroke="#b0d33a" stroke-width=".7"/>
<path d="M729.6 271.0 734.6 271.6 739.5 273.8 734.6 273.2" fill="#81c736" stroke="#81c736" stroke-width=".7"/>
<path d="M739.5 273.8 744.5 274.4 749.5 276.6 744.5 276.0" fill="#54ba33" stroke="#54ba33" stroke-width=".7"/>
<path d="M749.5 276.6 754.4 277.3 759.4 279.7 754.5 279.0" fill="#4bb532" stroke="#4bb532" stroke-width=".7"/>
<path d="M654.1 257.1 659.2 256.9 664.2 258.5 659.2 258.7" fill="#ff9c34" stroke="#ff9c34" stroke-width=".7"/>
<path d="M664.2 258.5 669.3 258.4 674.3 260.1 669.3 260.2" fill="#ffa835" stroke="#ffa835" stroke-width=".7"/>
<path d="M674.3 260.1 679.4 260.1 684.4 261.8 679.3 261.8" fill="#ffb637" stroke="#ffb637" stroke-width=".7"/>
<path d="M684.4 261.8 689.5 261.9 694.5 263.8 689.4 263.6" fill="#fdc739" stroke="#fdc739" stroke-width=".7"/>
<path d="M694.5 263.8 699.5 263.9 704.5 265.9 699.5 265.6" fill="#f5d13b" stroke="#f5d13b" stroke-width=".7"/>
<path d="M704.5 265.9 709.6 266.1 714.6 268.1 709.5 267.8" fill="#ead93d" stroke="#ead93d" stroke-width=".7"/>
<path d="M714.6 268.1 719.6 268.5 724.6 270.6 719.6 270.2" fill="#d4dc3d" stroke="#d4dc3d" stroke-width=".7"/>
<path d="M724.6 270.6 729.6 271.0 734.6 273.2 729.6 272.7" fill="#a7d039" stroke="#a7d039" stroke-width=".7"/>
<path d="M734.6 273.2 739.5 273.8 744.5 276.0 739.6 275.4" fill="#77c436" stroke="#77c436" stroke-width=".7"/>
<path d="M744.5 276.0 749.5 276.6 754.5 279.0 749.5 278.3" fill="#52b933" stroke="#52b933" stroke-width=".7"/>
<path d="M659.2 258.7 664.2 258.5 669.3 260.2 664.2 260.3" fill="#ff9b33" stroke="#ff9b33" stroke-width=".7"/>
<path d="M669.3 260.2 674.3 260.1 679.3 261.8 674.3 261.9" fill="#ffa835" stroke="#ffa835" stroke-width=".7"/>
<path d="M679.3 261.8 684.4 261.8 689.4 263.6 684.4 263.6" fill="#ffb737" stroke="#ffb737" stroke-width=".7"/>
<path d="M689.4 263.6 694.5 263.8 699.5 265.6 694.4 265.5" fill="#fdc93a" stroke="#fdc93a" stroke-width=".7"/>
<path d="M699.5 265.6 704.5 265.9 709.5 267.8 704.5 267.6" fill="#f4d23b" stroke="#f4d23b" stroke-width=".7"/>
<path d="M709.5 267.8 714.6 268.1 719.6 270.2 714.6 269.9" fill="#e8da3d" stroke="#e8da3d" stroke-width=".7"/>
<path d="M719.6 270.2 724.6 270.6 729.6 272.7 724.6 272.3" fill="#ccda3d" stroke="#ccda3d" stroke-width=".7"/>
<path d="M729.6 272.7 734.6 273.2 739.6 275.4 734.6 274.9" fill="#9dce39" stroke="#9dce39" stroke-width=".7"/>
<path d="M739.6 275.4 744.5 276.0 749.5 278.3 744.5 277.7" fill="#6dc135" stroke="#6dc135" stroke-width=".7"/>
<path d="M664.2 260.3 669.3 260.2 674.3 261.9 669.2 262.0" fill="#ff9a33" stroke="#ff9a33" stroke-width=".7"/>
<path d="M674.3 261.9 679.3 261.8 684.4 263.6 679.3 263.6" fill="#ffa835" stroke="#ffa835" stroke-width=".7"/>
<path d="M684.4 263.6 689.4 263.6 694.4 265.5 689.4 265.4" fill="#ffb837" stroke="#ffb837" stroke-width=".7"/>
<path d="M694.4 265.5 699.5 265.6 704.5 267.6 699.5 267.4" fill="#fccb3a" stroke="#fccb3a" stroke-width=".7"/>
<path d="M704.5 267.6 709.5 267.8 714.6 269.9 709.5 269.6" fill="#f2d33c" stroke="#f2d33c" stroke-width=".7"/>
<path d="M714.6 269.9 719.6 270.2 724.6 272.3 719.6 272.0" fill="#e6dc3e" stroke="#e6dc3e" stroke-width=".7"/>
<path d="M724.6 272.3 729.6 272.7 734.6 274.9 729.6 274.5" fill="#c3d73c" stroke="#c3d73c" stroke-width=".7"/>
<path d="M734.6 274.9 739.6 275.4 744.5 277.7 739.6 277.2" fill="#92cb38" stroke="#92cb38" stroke-width=".7"/>
<path d="M669.2 262.0 674.3 261.9 679.3 263.6 674.2 263.7" fill="#ff9a33" stroke="#ff9a33" stroke-width=".7"/>
<path d="M679.3 263.6 684.4 263.6 689.4 265.4 684.3 265.4" fill="#ffa935" stroke="#ffa935" stroke-width=".7"/>
<path d="M689.4 265.4 694.4 265.5 699.5 267.4 694.4 267.3" fill="#ffba38" stroke="#ffba38" stroke-width=".7"/>
<path d="M699.5 267.4 704.5 267.6 709.5 269.6 704.5 269.4" fill="#fbcd3a" stroke="#fbcd3a" stroke-width=".7"/>
<path d="M709.5 269.6 714.6 269.9 719.6 272.0 714.5 271.7" fill="#f0d53c" stroke="#f0d53c" stroke-width=".7"/>
<path d="M719.6 272.0 724.6 272.3 729.6 274.5 724.6 274.1" fill="#e4de3e" stroke="#e4de3e" stroke-width=".7"/>
<path d="M729.6 274.5 734.6 274.9 739.6 277.2 734.6 276.7" fill="#b9d53b" stroke="#b9d53b" stroke-width=".7"/>
<path d="M674.2 263.7 679.3 263.6 684.3 265.4 679.3 265.5" fill="#ff9b33" stroke="#ff9b33" stroke-width=".7"/>
<path d="M684.3 265.4 689.4 265.4 694.4 267.3 689.4 267.3" fill="#ffaa36" stroke="#ffaa36" stroke-width=".7"/>
<path d="M694.4 267.3 699.5 267.4 704.5 269.4 699.4 269.3" fill="#ffbd38" stroke="#ffbd38" stroke-width=".7"/>
<path d="M704.5 269.4 709.5 269.6 714.5 271.7 709.5 271.4" fill="#face3a" stroke="#face3a" stroke-width=".7"/>
<path d="M714.5 271.7 719.6 272.0 724.6 274.1 719.6 273.8" fill="#eed63c" stroke="#eed63c" stroke-width=".7"/>
<path d="M724.6 274.1 729.6 274.5 734.6 276.7 729.6 276.3" fill="#dfde3e" stroke="#dfde3e" stroke-width=".7"/>
<path d="M679.3 265.5 684.3 265.4 689.4 267.3 684.3 267.4" fill="#ff9b34" stroke="#ff9b34" stroke-width=".7"/>
<path d="M689.4 267.3 694.4 267.3 699.4 269.3 694.4 269.2" fill="#ffac36" stroke="#ffac36" stroke-width=".7"/>
<path d="M699.4 269.3 704.5 269.4 709.5 271.4 704.5 271.3" fill="#ffbf38" stroke="#ffbf38" stroke-width=".7"/>
<path d="M709.5 271.4 714.5 271.7 719.6 273.8 714.5 273.5" fill="#f8cf3b" stroke="#f8cf3b" stroke-width=".7"/>
<path d="M719.6 273.8 724.6 274.1 729.6 276.3 724.6 276.0" fill="#ecd83d" stroke="#ecd83d" stroke-width=".7"/>
<path d="M684.3 267.4 689.4 267.3 694.4 269.2 689.3 269.2" fill="#ff9d34" stroke="#ff9d34" stroke-width=".7"/>
<path d="M694.4 269.2 699.4 269.3 704.5 271.3 699.4 271.2" fill="#ffae36" stroke="#ffae36" stroke-width=".7"/>
<path d="M704.5 271.3 709.5 271.4 714.5 273.5 709.5 273.3" fill="#fec339" stroke="#fec339" stroke-width=".7"/>
<path d="M714.5 273.5 719.6 273.8 724.6 276.0 719.5 275.7" fill="#f6d13b" stroke="#f6d13b" stroke-width=".7"/>
<path d="M689.3 269.2 694.4 269.2 699.4 271.2 694.3 271.2" fill="#ff9e34" stroke="#ff9e34" stroke-width=".7"/>
<path d="M699.4 271.2 704.5 271.3 709.5 273.3 704.4 273.2" fill="#ffb136" stroke="#ffb136" stroke-width=".7"/>
<path d="M709.5 273.3 714.5 273.5 719.5 275.7 714.5 275.5" fill="#fdc639" stroke="#fdc639" stroke-width=".7"/>
<path d="M694.3 271.2 699.4 271.2 704.4 273.2 699.4 273.2" fill="#ffa134" stroke="#ffa134" stroke-width=".7"/>
<path d="M704.4 273.2 709.5 273.3 714.5 275.5 709.5 275.3" fill="#ffb437" stroke="#ffb437" stroke-width=".7"/>
<path d="M699.4 273.2 704.4 273.2 709.5 275.3 704.4 275.2" fill="#ffa435" stroke="#ffa435" stroke-width=".7"/>
<path d="M624.1 248.6 629.4 250.0 634.8 251.4 640.1 252.9 645.4 254.5 650.8 256.1 656.2 257.7 661.5 259.5 666.9 261.2 672.2 263.0 677.6 264.9 683.0 266.9 688.3 268.9 693.7 270.9 699.0 273.0 704.4 275.2M624.1 248.6 629.5 248.2 634.9 247.9 640.3 247.6 645.6 247.5 651.0 247.4 656.4 247.4 661.8 247.5 667.1 247.6 672.5 247.9 677.8 248.2 683.2 248.5 688.5 249.0 693.8 249.5 699.1 250.0 704.4 250.7M626.8 248.4 632.1 249.8 637.5 251.3 642.8 252.8 648.1 254.3 653.5 256.0 658.9 257.6 664.2 259.4 669.6 261.1 674.9 263.0 680.3 264.9 685.7 266.8 691.0 268.8 696.4 270.9 701.7 273.1 707.1 275.3M626.7 249.3 632.1 248.9 637.5 248.6 642.9 248.4 648.3 248.2 653.7 248.2 659.1 248.2 664.4 248.3 669.8 248.5 675.2 248.7 680.5 249.0 685.8 249.4 691.2 249.8 696.5 250.3 701.8 250.9 707.1 251.6M629.5 248.2 634.8 249.6 640.2 251.1 645.5 252.6 650.9 254.2 656.2 255.8 661.6 257.5 666.9 259.3 672.3 261.1 677.6 262.9 683.0 264.8 688.4 266.8 693.7 268.8 699.1 270.9 704.4 273.1 709.8 275.3M629.4 250.0 634.8 249.6 640.2 249.3 645.6 249.1 651.0 249.0 656.4 249.0 661.8 249.0 667.1 249.1 672.5 249.3 677.8 249.5 683.2 249.9 688.5 250.2 693.8 250.7 699.1 251.2 704.4 251.8 709.7 252.5M632.2 248.0 637.5 249.5 642.9 251.0 648.2 252.5 653.6 254.1 658.9 255.7 664.3 257.4 669.6 259.2 675.0 261.0 680.3 262.9 685.7 264.8 691.1 266.8 696.4 268.9 701.8 271.0 707.1 273.1 712.5 275.4M632.1 250.7 637.5 250.4 642.9 250.1 648.3 249.9 653.7 249.8 659.0 249.7 664.4 249.8 669.8 249.9 675.2 250.1 680.5 250.4 685.9 250.7 691.2 251.1 696.5 251.6 701.8 252.1 707.1 252.7 712.4 253.4M634.9 247.9 640.2 249.3 645.6 250.8 650.9 252.4 656.3 254.0 661.6 255.7 667.0 257.4 672.3 259.2 677.7 261.0 683.0 262.9 688.4 264.8 693.8 266.8 699.1 268.9 704.5 271.0 709.8 273.2 715.2 275.5M634.8 251.4 640.2 251.1 645.6 250.8 650.9 250.7 656.3 250.6 661.7 250.6 667.1 250.6 672.5 250.7 677.8 251.0 683.2 251.2 688.5 251.6 693.9 252.0 699.2 252.5 704.5 253.0 709.8 253.7 715.0 254.3M637.6 247.7 642.9 249.2 648.3 250.7 653.6 252.3 659.0 253.9 664.3 255.6 669.7 257.4 675.0 259.1 680.4 261.0 685.7 262.9 691.1 264.9 696.4 266.9 701.8 269.0 707.2 271.1 712.5 273.3 717.9 275.6M637.4 252.2 642.8 251.9 648.2 251.6 653.6 251.5 659.0 251.4 664.4 251.4 669.8 251.4 675.1 251.6 680.5 251.8 685.9 252.1 691.2 252.5 696.5 252.9 701.8 253.4 707.1 254.0 712.4 254.6 717.7 255.3M640.3 247.6 645.6 249.1 650.9 250.7 656.3 252.3 661.6 253.9 667.0 255.6 672.4 257.3 677.7 259.1 683.1 261.0 688.4 262.9 693.8 264.9 699.1 266.9 704.5 269.0 709.8 271.2 715.2 273.4 720.5 275.7M640.1 252.9 645.5 252.6 650.9 252.4 656.3 252.3 661.7 252.2 667.1 252.2 672.4 252.3 677.8 252.5 683.2 252.7 688.5 253.0 693.9 253.4 699.2 253.8 704.5 254.3 709.8 254.9 715.1 255.6 720.4 256.3M643.0 247.6 648.3 249.1 653.6 250.6 659.0 252.2 664.3 253.9 669.7 255.6 675.1 257.3 680.4 259.2 685.8 261.0 691.1 263.0 696.5 265.0 701.8 267.0 707.2 269.1 712.5 271.3 717.9 273.6 723.2 275.9M642.8 253.7 648.2 253.4 653.6 253.2 659.0 253.1 664.4 253.0 669.7 253.0 675.1 253.1 680.5 253.3 685.8 253.6 691.2 253.9 696.5 254.3 701.9 254.8 707.2 255.3 712.5 255.9 717.8 256.5 723.0 257.3M645.6 247.5 651.0 249.0 656.3 250.6 661.7 252.2 667.0 253.9 672.4 255.6 677.7 257.4 683.1 259.2 688.5 261.1 693.8 263.0 699.2 265.1 704.5 267.1 709.9 269.3 715.2 271.5 720.6 273.7 725.9 276.0M645.4 254.5 650.9 254.2 656.3 254.0 661.6 253.9 667.0 253.9 672.4 253.9 677.8 254.0 683.2 254.2 688.5 254.5 693.9 254.8 699.2 255.2 704.5 255.7 709.8 256.2 715.1 256.9 720.4 257.5 725.7 258.3M648.3 247.4 653.7 249.0 659.0 250.5 664.4 252.2 669.7 253.9 675.1 255.6 680.4 257.4 685.8 259.3 691.1 261.2 696.5 263.1 701.9 265.2 707.2 267.2 712.6 269.4 717.9 271.6 723.2 273.9 728.6 276.2M648.1 255.3 653.5 255.0 658.9 254.8 664.3 254.7 669.7 254.7 675.1 254.8 680.5 254.9 685.8 255.1 691.2 255.4 696.5 255.7 701.9 256.2 707.2 256.7 712.5 257.2 717.8 257.8 723.1 258.5 728.3 259.3M651.0 247.4 656.4 249.0 661.7 250.6 667.1 252.2 672.4 253.9 677.8 255.7 683.1 257.5 688.5 259.3 693.8 261.3 699.2 263.2 704.5 265.3 709.9 267.4 715.2 269.6 720.6 271.8 725.9 274.1 731.2 276.4M650.8 256.1 656.2 255.8 661.6 255.7 667.0 255.6 672.4 255.6 677.8 255.7 683.1 255.8 688.5 256.0 693.9 256.3 699.2 256.7 704.5 257.1 709.9 257.6 715.2 258.2 720.5 258.8 725.7 259.5 731.0 260.3M653.7 247.4 659.1 249.0 664.4 250.6 669.8 252.2 675.1 253.9 680.5 255.7 685.8 257.5 691.2 259.4 696.5 261.4 701.9 263.4 707.2 265.4 712.6 267.5 717.9 269.7 723.2 272.0 728.6 274.3 733.9 276.7M653.5 256.9 658.9 256.7 664.3 256.5 669.7 256.5 675.1 256.5 680.5 256.6 685.8 256.7 691.2 257.0 696.5 257.3 701.9 257.7 707.2 258.1 712.5 258.6 717.8 259.2 723.1 259.9 728.4 260.6 733.6 261.3M656.4 247.4 661.8 249.0 667.1 250.6 672.4 252.3 677.8 254.0 683.1 255.8 688.5 257.6 693.8 259.5 699.2 261.5 704.5 263.5 709.9 265.6 715.2 267.7 720.6 269.9 725.9 272.2 731.3 274.5 736.6 276.9M656.2 257.7 661.6 257.5 667.0 257.4 672.4 257.3 677.7 257.4 683.1 257.5 688.5 257.6 693.9 257.9 699.2 258.2 704.6 258.6 709.9 259.1 715.2 259.6 720.5 260.2 725.8 260.9 731.0 261.6 736.3 262.4M659.1 247.4 664.4 249.0 669.8 250.7 675.1 252.4 680.5 254.1 685.8 255.9 691.2 257.8 696.5 259.7 701.9 261.6 707.2 263.7 712.6 265.8 717.9 267.9 723.2 270.1 728.6 272.4 733.9 274.8 739.2 277.2M658.8 258.6 664.2 258.4 669.6 258.3 675.0 258.2 680.4 258.3 685.8 258.4 691.2 258.6 696.5 258.9 701.9 259.2 707.2 259.6 712.5 260.1 717.9 260.6 723.2 261.3 728.4 261.9 733.7 262.7 738.9 263.5M661.8 247.5 667.1 249.1 672.5 250.7 677.8 252.5 683.2 254.2 688.5 256.0 693.9 257.9 699.2 259.8 704.6 261.8 709.9 263.9 715.2 266.0 720.6 268.1 725.9 270.4 731.2 272.7 736.6 275.0 741.9 277.4M661.5 259.5 666.9 259.3 672.3 259.2 677.7 259.1 683.1 259.2 688.5 259.3 693.8 259.5 699.2 259.8 704.6 260.2 709.9 260.6 715.2 261.1 720.5 261.7 725.8 262.3 731.1 263.0 736.4 263.7 741.6 264.6M664.5 247.6 669.8 249.2 675.2 250.8 680.5 252.6 685.8 254.3 691.2 256.2 696.5 258.1 701.9 260.0 707.2 262.0 712.6 264.1 717.9 266.2 723.2 268.4 728.6 270.6 733.9 272.9 739.2 275.3 744.5 277.7M664.2 260.3 669.6 260.2 675.0 260.1 680.4 260.1 685.8 260.1 691.2 260.3 696.5 260.5 701.9 260.8 707.2 261.2 712.6 261.6 717.9 262.1 723.2 262.7 728.5 263.4 733.7 264.1 739.0 264.8 744.2 265.7M667.1 247.6 672.5 249.3 677.8 251.0 683.2 252.7 688.5 254.5 693.9 256.3 699.2 258.2 704.6 260.2 709.9 262.2 715.2 264.3 720.6 266.4 725.9 268.6 731.2 270.9 736.6 273.2 741.9 275.6 747.2 278.0M666.9 261.2 672.3 261.1 677.7 261.0 683.1 261.0 688.5 261.1 693.8 261.3 699.2 261.5 704.6 261.8 709.9 262.2 715.2 262.7 720.5 263.2 725.8 263.8 731.1 264.4 736.4 265.1 741.7 265.9 746.9 266.8M669.8 247.7 675.2 249.4 680.5 251.1 685.9 252.8 691.2 254.6 696.5 256.5 701.9 258.4 707.2 260.4 712.6 262.4 717.9 264.5 723.2 266.7 728.6 268.9 733.9 271.2 739.2 273.5 744.5 275.9 749.8 278.4M669.5 262.1 675.0 262.0 680.4 261.9 685.8 262.0 691.1 262.1 696.5 262.2 701.9 262.5 707.2 262.8 712.6 263.2 717.9 263.7 723.2 264.2 728.5 264.8 733.8 265.5 739.1 266.3 744.3 267.0 749.5 267.9M672.5 247.9 677.8 249.5 683.2 251.2 688.5 253.0 693.9 254.8 699.2 256.7 704.6 258.6 709.9 260.6 715.2 262.7 720.6 264.8 725.9 266.9 731.2 269.2 736.5 271.5 741.9 273.8 747.2 276.2 752.5 278.7M672.2 263.0 677.6 262.9 683.0 262.9 688.4 262.9 693.8 263.0 699.2 263.2 704.5 263.5 709.9 263.9 715.2 264.3 720.6 264.8 725.9 265.3 731.2 265.9 736.5 266.6 741.7 267.4 747.0 268.2 752.2 269.0M675.2 248.0 680.5 249.7 685.9 251.4 691.2 253.2 696.5 255.0 701.9 256.9 707.2 258.8 712.6 260.9 717.9 262.9 723.2 265.0 728.5 267.2 733.9 269.5 739.2 271.8 744.5 274.1 749.8 276.6 755.1 279.1M674.9 264.0 680.3 263.9 685.7 263.8 691.1 263.9 696.5 264.0 701.9 264.3 707.2 264.5 712.6 264.9 717.9 265.3 723.2 265.8 728.5 266.4 733.8 267.0 739.1 267.7 744.4 268.5 749.6 269.3 754.8 270.2M677.8 248.2 683.2 249.9 688.5 251.6 693.9 253.4 699.2 255.2 704.5 257.1 709.9 259.1 715.2 261.1 720.5 263.2 725.9 265.3 731.2 267.5 736.5 269.8 741.8 272.1 747.1 274.5 752.5 276.9 757.7 279.5M677.6 264.9 683.0 264.8 688.4 264.8 693.8 264.9 699.2 265.1 704.5 265.3 709.9 265.6 715.2 266.0 720.6 266.4 725.9 266.9 731.2 267.5 736.5 268.2 741.8 268.9 747.0 269.7 752.3 270.5 757.5 271.4M680.5 248.3 685.8 250.0 691.2 251.8 696.5 253.6 701.9 255.5 707.2 257.4 712.5 259.3 717.9 261.4 723.2 263.5 728.5 265.6 733.8 267.8 739.2 270.1 744.5 272.4 749.8 274.8 755.1 277.3 760.4 279.8M680.3 265.9 685.7 265.8 691.1 265.8 696.5 265.9 701.8 266.1 707.2 266.3 712.6 266.6 717.9 267.0 723.2 267.5 728.6 268.0 733.9 268.6 739.1 269.3 744.4 270.0 749.7 270.8 754.9 271.7 760.1 272.6M683.2 248.5 688.5 250.2 693.9 252.0 699.2 253.8 704.5 255.7 709.9 257.6 715.2 259.6 720.5 261.7 725.8 263.8 731.2 265.9 736.5 268.2 741.8 270.5 747.1 272.8 752.4 275.2 757.7 277.7 763.0 280.3M683.0 266.9 688.4 266.8 693.8 266.8 699.1 266.9 704.5 267.1 709.9 267.4 715.2 267.7 720.6 268.1 725.9 268.6 731.2 269.2 736.5 269.8 741.8 270.5 747.1 271.2 752.3 272.0 757.5 272.9 762.8 273.8M685.8 248.7 691.2 250.5 696.5 252.2 701.8 254.1 707.2 256.0 712.5 257.9 717.8 259.9 723.2 262.0 728.5 264.1 733.8 266.3 739.1 268.5 744.4 270.8 749.7 273.2 755.0 275.6 760.3 278.1 765.6 280.7M685.6 267.9 691.0 267.8 696.4 267.9 701.8 268.0 707.2 268.2 712.6 268.5 717.9 268.8 723.2 269.2 728.6 269.7 733.9 270.3 739.2 270.9 744.5 271.6 749.7 272.4 755.0 273.2 760.2 274.1 765.4 275.0M688.5 249.0 693.8 250.7 699.2 252.5 704.5 254.3 709.8 256.2 715.2 258.2 720.5 260.2 725.8 262.3 731.1 264.4 736.5 266.6 741.8 268.9 747.1 271.2 752.4 273.6 757.7 276.0 762.9 278.5 768.2 281.1M688.3 268.9 693.7 268.8 699.1 268.9 704.5 269.0 709.9 269.3 715.2 269.6 720.6 269.9 725.9 270.4 731.2 270.9 736.5 271.5 741.8 272.1 747.1 272.8 752.4 273.6 757.6 274.4 762.8 275.3 768.0 276.3M691.2 249.2 696.5 251.0 701.8 252.8 707.2 254.6 712.5 256.5 717.8 258.5 723.1 260.5 728.5 262.6 733.8 264.8 739.1 267.0 744.4 269.3 749.7 271.6 755.0 274.0 760.3 276.5 765.6 279.0 770.8 281.6M691.0 269.9 696.4 269.9 701.8 270.0 707.2 270.1 712.5 270.4 717.9 270.7 723.2 271.0 728.6 271.5 733.9 272.0 739.2 272.6 744.5 273.3 749.8 274.0 755.0 274.8 760.3 275.6 765.5 276.6 770.7 277.5M693.8 249.5 699.1 251.2 704.5 253.0 709.8 254.9 715.1 256.9 720.5 258.8 725.8 260.9 731.1 263.0 736.4 265.1 741.7 267.4 747.0 269.7 752.3 272.0 757.6 274.4 762.9 276.9 768.2 279.4 773.4 282.0M693.7 270.9 699.1 270.9 704.5 271.0 709.8 271.2 715.2 271.5 720.6 271.8 725.9 272.2 731.2 272.7 736.6 273.2 741.9 273.8 747.1 274.5 752.4 275.2 757.7 276.0 762.9 276.9 768.1 277.8 773.3 278.8M696.5 249.7 701.8 251.5 707.1 253.3 712.4 255.2 717.8 257.2 723.1 259.2 728.4 261.2 733.7 263.4 739.0 265.5 744.3 267.8 749.6 270.1 754.9 272.4 760.2 274.9 765.5 277.3 770.8 279.9 776.0 282.5M696.4 272.0 701.8 272.0 707.1 272.1 712.5 272.3 717.9 272.6 723.2 272.9 728.6 273.3 733.9 273.8 739.2 274.4 744.5 275.0 749.8 275.7 755.1 276.5 760.3 277.3 765.5 278.2 770.7 279.1 775.9 280.1M699.1 250.0 704.4 251.8 709.8 253.7 715.1 255.6 720.4 257.5 725.7 259.5 731.0 261.6 736.4 263.7 741.7 265.9 747.0 268.2 752.3 270.5 757.5 272.9 762.8 275.3 768.1 277.8 773.4 280.4 778.6 283.0M699.0 273.0 704.4 273.1 709.8 273.2 715.2 273.4 720.6 273.7 725.9 274.1 731.3 274.5 736.6 275.0 741.9 275.6 747.2 276.2 752.5 276.9 757.7 277.7 762.9 278.5 768.2 279.4 773.4 280.4 778.6 281.4M701.8 250.3 707.1 252.1 712.4 254.0 717.7 255.9 723.0 257.9 728.4 259.9 733.7 262.0 739.0 264.1 744.3 266.3 749.6 268.6 754.9 270.9 760.2 273.3 765.4 275.8 770.7 278.3 776.0 280.9 781.2 283.5M701.7 274.1 707.1 274.2 712.5 274.3 717.9 274.6 723.2 274.9 728.6 275.2 733.9 275.7 739.2 276.2 744.5 276.8 749.8 277.5 755.1 278.2 760.4 279.0 765.6 279.8 770.8 280.7 776.0 281.7 781.2 282.7M704.4 250.7 709.7 252.5 715.0 254.3 720.4 256.3 725.7 258.3 731.0 260.3 736.3 262.4 741.6 264.6 746.9 266.8 752.2 269.0 757.5 271.4 762.8 273.8 768.0 276.3 773.3 278.8 778.6 281.4 783.8 284.1M704.4 275.2 709.8 275.3 715.2 275.5 720.5 275.7 725.9 276.0 731.2 276.4 736.6 276.9 741.9 277.4 747.2 278.0 752.5 278.7 757.7 279.5 763.0 280.3 768.2 281.1 773.4 282.0 778.6 283.0 783.8 284.1" fill="none" stroke="#000" stroke-opacity=".42" stroke-width=".55"/>
<circle cx="704.5" cy="252.5" r="1.6" fill="#d40000" stroke="#700" stroke-width="0.3"/>
<circle cx="704.6" cy="255.1" r="1.6" fill="#d40000" stroke="#700" stroke-width="0.3"/>
<circle cx="704.6" cy="257.7" r="1.6" fill="#d40000" stroke="#700" stroke-width="0.3"/>
<text x="617.7" y="216.8" font-family='"Liberation Serif", serif' font-size="9.5" text-anchor="start" fill="#000">(h)</text>
<text x="612.5" y="289" font-family='"Liberation Serif", serif' font-size="7" text-anchor="middle" fill="#222" transform="rotate(-90 612.5 289)" textLength="40.0" lengthAdjust="spacingAndGlyphs">%ABTS•+sc(y4)</text>
<text x="648" y="374.6" font-family='"Liberation Serif", serif' font-size="6.5" text-anchor="middle" fill="#222" textLength="51.9" lengthAdjust="spacingAndGlyphs">Temperature (<tspan font-style="italic">X</tspan><tspan font-size="4.2" dy="1">2</tspan><tspan dy="-1">: °C)</tspan></text>
<text x="757.3" y="374.9" font-family='"Liberation Serif", serif' font-size="6.5" text-anchor="middle" fill="#222" textLength="48.8" lengthAdjust="spacingAndGlyphs">Particle size (<tspan font-style="italic">X</tspan><tspan font-size="4.2" dy="1">1</tspan><tspan dy="-1">:mm)</tspan></text>
<line x1="20.4" y1="574.3" x2="196.6" y2="410.2" stroke="#ec7878" stroke-width="1.15"/>
<line x1="29.2" y1="580.4" x2="29.2" y2="583.9" stroke="#555" stroke-width="0.9"/>
<text x="29.2" y="589.9" font-family='"Liberation Serif", serif' font-size="4.6" text-anchor="middle" fill="#333">-3.00</text>
<line x1="55.6" y1="580.4" x2="55.6" y2="583.9" stroke="#555" stroke-width="0.9"/>
<text x="55.6" y="589.9" font-family='"Liberation Serif", serif' font-size="4.6" text-anchor="middle" fill="#333">-2.00</text>
<line x1="82.0" y1="580.4" x2="82.0" y2="583.9" stroke="#555" stroke-width="0.9"/>
<text x="82" y="589.9" font-family='"Liberation Serif", serif' font-size="4.6" text-anchor="middle" fill="#333">-1.00</text>
<line x1="108.5" y1="580.4" x2="108.5" y2="583.9" stroke="#555" stroke-width="0.9"/>
<text x="108.5" y="589.9" font-family='"Liberation Serif", serif' font-size="4.6" text-anchor="middle" fill="#333">0.00</text>
<line x1="134.9" y1="580.4" x2="134.9" y2="583.9" stroke="#555" stroke-width="0.9"/>
<text x="134.9" y="589.9" font-family='"Liberation Serif", serif' font-size="4.6" text-anchor="middle" fill="#333">1.00</text>
<line x1="161.4" y1="580.4" x2="161.4" y2="583.9" stroke="#555" stroke-width="0.9"/>
<text x="161.4" y="589.9" font-family='"Liberation Serif", serif' font-size="4.6" text-anchor="middle" fill="#333">2.00</text>
<line x1="187.8" y1="580.4" x2="187.8" y2="583.9" stroke="#555" stroke-width="0.9"/>
<text x="187.8" y="589.9" font-family='"Liberation Serif", serif' font-size="4.6" text-anchor="middle" fill="#333">3.00</text>
<path d="M17.4 556.4h3M17.4 548.8h3M17.4 544.0h3M17.4 540.4h3M17.4 537.5h3M17.4 535.0h3M17.4 532.8h3M17.4 530.8h3M17.4 529.0h3M17.4 527.4h3M17.4 525.9h3M17.4 524.4h3M17.4 523.1h3M17.4 521.8h3M17.4 520.6h3M17.4 519.4h3M17.4 518.3h3M17.4 517.2h3M17.4 516.2h3M17.4 515.2h3M17.4 514.2h3M17.4 513.2h3M17.4 512.3h3M17.4 511.4h3M17.4 510.5h3M17.4 509.7h3M17.4 508.8h3M17.4 508.0h3M17.4 507.2h3M17.4 506.4h3M17.4 505.6h3M17.4 504.8h3M17.4 504.0h3M17.4 503.3h3M17.4 502.5h3M17.4 501.8h3M17.4 501.0h3M17.4 500.3h3M17.4 499.6h3M17.4 498.8h3M17.4 498.1h3M17.4 497.4h3M17.4 496.7h3M17.4 496.0h3M17.4 495.3h3M17.4 494.6h3M17.4 493.9h3M17.4 493.2h3M17.4 492.5h3M17.4 491.8h3M17.4 491.1h3M17.4 490.4h3M17.4 489.7h3M17.4 489.0h3M17.4 488.3h3M17.4 487.6h3M17.4 486.9h3M17.4 486.2h3M17.4 485.5h3M17.4 484.8h3M17.4 484.0h3M17.4 483.3h3M17.4 482.6h3M17.4 481.8h3M17.4 481.1h3M17.4 480.3h3M17.4 479.6h3M17.4 478.8h3M17.4 478.0h3M17.4 477.2h3M17.4 476.4h3M17.4 475.6h3M17.4 474.8h3M17.4 473.9h3M17.4 473.1h3M17.4 472.2h3M17.4 471.3h3M17.4 470.4h3M17.4 469.4h3M17.4 468.4h3M17.4 467.4h3M17.4 466.4h3M17.4 465.3h3M17.4 464.2h3M17.4 463.0h3M17.4 461.8h3M17.4 460.5h3M17.4 459.2h3M17.4 457.7h3M17.4 456.2h3M17.4 454.6h3M17.4 452.8h3M17.4 450.8h3M17.4 448.6h3M17.4 446.1h3M17.4 443.2h3M17.4 439.6h3M17.4 434.8h3M17.4 427.2h3" stroke="#333" stroke-width="0.6"/>
<line x1="16.4" y1="556.40" x2="20.4" y2="556.40" stroke="#555" stroke-width="0.9"/>
<text x="12.9" y="558" font-family='"Liberation Serif", serif' font-size="4.6" text-anchor="middle" fill="#333">1</text>
<line x1="16.4" y1="537.48" x2="20.4" y2="537.48" stroke="#555" stroke-width="0.9"/>
<text x="12.9" y="539.1" font-family='"Liberation Serif", serif' font-size="4.6" text-anchor="middle" fill="#333">5</text>
<line x1="16.4" y1="527.39" x2="20.4" y2="527.39" stroke="#555" stroke-width="0.9"/>
<text x="12.9" y="529" font-family='"Liberation Serif", serif' font-size="4.6" text-anchor="middle" fill="#333">10</text>
<line x1="16.4" y1="515.17" x2="20.4" y2="515.17" stroke="#555" stroke-width="0.9"/>
<text x="12.9" y="516.8" font-family='"Liberation Serif", serif' font-size="4.6" text-anchor="middle" fill="#333">20</text>
<line x1="16.4" y1="506.36" x2="20.4" y2="506.36" stroke="#555" stroke-width="0.9"/>
<text x="12.9" y="508" font-family='"Liberation Serif", serif' font-size="4.6" text-anchor="middle" fill="#333">30</text>
<line x1="16.4" y1="491.80" x2="20.4" y2="491.80" stroke="#555" stroke-width="0.9"/>
<text x="12.9" y="493.4" font-family='"Liberation Serif", serif' font-size="4.6" text-anchor="middle" fill="#333">50</text>
<line x1="16.4" y1="477.24" x2="20.4" y2="477.24" stroke="#555" stroke-width="0.9"/>
<text x="12.9" y="478.8" font-family='"Liberation Serif", serif' font-size="4.6" text-anchor="middle" fill="#333">70</text>
<line x1="16.4" y1="468.43" x2="20.4" y2="468.43" stroke="#555" stroke-width="0.9"/>
<text x="12.9" y="470" font-family='"Liberation Serif", serif' font-size="4.6" text-anchor="middle" fill="#333">80</text>
<line x1="16.4" y1="456.21" x2="20.4" y2="456.21" stroke="#555" stroke-width="0.9"/>
<text x="12.9" y="457.8" font-family='"Liberation Serif", serif' font-size="4.6" text-anchor="middle" fill="#333">90</text>
<line x1="16.4" y1="446.12" x2="20.4" y2="446.12" stroke="#555" stroke-width="0.9"/>
<text x="12.9" y="447.7" font-family='"Liberation Serif", serif' font-size="4.6" text-anchor="middle" fill="#333">95</text>
<line x1="16.4" y1="427.20" x2="20.4" y2="427.20" stroke="#555" stroke-width="0.9"/>
<text x="12.9" y="428.8" font-family='"Liberation Serif", serif' font-size="4.6" text-anchor="middle" fill="#333">99</text>
<rect x="20.4" y="403.5" width="176.2" height="176.9" fill="none" stroke="#8e8e8e" stroke-width="1.4"/>
<rect x="34.4" y="554.9" width="3.5" height="3.5" fill="#e6e60a" stroke="#2a2a2a" stroke-width="0.6"/>
<rect x="44.1" y="542.3" width="3.5" height="3.5" fill="#0a9ae8" stroke="#2a2a2a" stroke-width="0.6"/>
<rect x="46.8" y="536.0" width="3.5" height="3.5" fill="#0a0ad2" stroke="#2a2a2a" stroke-width="0.6"/>
<rect x="52.5" y="531.1" width="3.5" height="3.5" fill="#0a0ad2" stroke="#2a2a2a" stroke-width="0.6"/>
<rect x="64.6" y="527.4" width="3.5" height="3.5" fill="#e6e60a" stroke="#2a2a2a" stroke-width="0.6"/>
<rect x="71.5" y="524.1" width="3.5" height="3.5" fill="#0a9ae8" stroke="#2a2a2a" stroke-width="0.6"/>
<rect x="80.2" y="521.2" width="3.5" height="3.5" fill="#f0a010" stroke="#2a2a2a" stroke-width="0.6"/>
<rect x="84.4" y="518.8" width="3.5" height="3.5" fill="#0a0ad2" stroke="#2a2a2a" stroke-width="0.6"/>
<rect x="84.4" y="514.2" width="3.5" height="3.5" fill="#10dc10" stroke="#2a2a2a" stroke-width="0.6"/>
<rect x="89.4" y="512.6" width="3.5" height="3.5" fill="#10dc10" stroke="#2a2a2a" stroke-width="0.6"/>
<rect x="90.7" y="510.6" width="3.5" height="3.5" fill="#0a9ae8" stroke="#2a2a2a" stroke-width="0.6"/>
<rect x="91.4" y="507.3" width="3.5" height="3.5" fill="#8ee010" stroke="#2a2a2a" stroke-width="0.6"/>
<rect x="93.9" y="505.4" width="3.5" height="3.5" fill="#10dc10" stroke="#2a2a2a" stroke-width="0.6"/>
<rect x="93.9" y="503.4" width="3.5" height="3.5" fill="#dc0a0a" stroke="#2a2a2a" stroke-width="0.6"/>
<rect x="97.6" y="502.3" width="3.5" height="3.5" fill="#0a9ae8" stroke="#2a2a2a" stroke-width="0.6"/>
<rect x="98.5" y="500.7" width="3.5" height="3.5" fill="#8ee010" stroke="#2a2a2a" stroke-width="0.6"/>
<rect x="103.5" y="499.2" width="3.5" height="3.5" fill="#8ee010" stroke="#2a2a2a" stroke-width="0.6"/>
<rect x="104.2" y="497.2" width="3.5" height="3.5" fill="#e86010" stroke="#2a2a2a" stroke-width="0.6"/>
<rect x="107.1" y="496.8" width="3.5" height="3.5" fill="#f0a010" stroke="#2a2a2a" stroke-width="0.6"/>
<rect x="108.2" y="493.5" width="3.5" height="3.5" fill="#10dc10" stroke="#2a2a2a" stroke-width="0.6"/>
<rect x="110.8" y="487.2" width="3.5" height="3.5" fill="#8ee010" stroke="#2a2a2a" stroke-width="0.6"/>
<rect x="112.4" y="485.0" width="3.5" height="3.5" fill="#e6e60a" stroke="#2a2a2a" stroke-width="0.6"/>
<rect x="114.1" y="482.6" width="3.5" height="3.5" fill="#10dc10" stroke="#2a2a2a" stroke-width="0.6"/>
<rect x="115.5" y="479.3" width="3.5" height="3.5" fill="#8ee010" stroke="#2a2a2a" stroke-width="0.6"/>
<rect x="116.4" y="476.1" width="3.5" height="3.5" fill="#e6e60a" stroke="#2a2a2a" stroke-width="0.6"/>
<rect x="119.4" y="475.1" width="3.5" height="3.5" fill="#f0a010" stroke="#2a2a2a" stroke-width="0.6"/>
<rect x="120.1" y="472.4" width="3.5" height="3.5" fill="#e6e60a" stroke="#2a2a2a" stroke-width="0.6"/>
<rect x="121.4" y="469.5" width="3.5" height="3.5" fill="#e6e60a" stroke="#2a2a2a" stroke-width="0.6"/>
<rect x="123.1" y="467.5" width="3.5" height="3.5" fill="#e86010" stroke="#2a2a2a" stroke-width="0.6"/>
<rect x="133.9" y="465.8" width="3.5" height="3.5" fill="#8ee010" stroke="#2a2a2a" stroke-width="0.6"/>
<rect x="135.7" y="463.8" width="3.5" height="3.5" fill="#10dc10" stroke="#2a2a2a" stroke-width="0.6"/>
<rect x="136.2" y="461.2" width="3.5" height="3.5" fill="#f0a010" stroke="#2a2a2a" stroke-width="0.6"/>
<rect x="137.2" y="458.6" width="3.5" height="3.5" fill="#dc0a0a" stroke="#2a2a2a" stroke-width="0.6"/>
<rect x="139.9" y="455.9" width="3.5" height="3.5" fill="#8ee010" stroke="#2a2a2a" stroke-width="0.6"/>
<rect x="142.5" y="452.9" width="3.5" height="3.5" fill="#10dc10" stroke="#2a2a2a" stroke-width="0.6"/>
<rect x="158.6" y="449.1" width="3.5" height="3.5" fill="#0a0ad2" stroke="#2a2a2a" stroke-width="0.6"/>
<rect x="158.8" y="444.4" width="3.5" height="3.5" fill="#f0a010" stroke="#2a2a2a" stroke-width="0.6"/>
<rect x="159.0" y="438.1" width="3.5" height="3.5" fill="#dc0a0a" stroke="#2a2a2a" stroke-width="0.6"/>
<rect x="166.0" y="425.6" width="3.5" height="3.5" fill="#10dc10" stroke="#2a2a2a" stroke-width="0.6"/>
<circle cx="107.3" cy="491.7" r="2.7" fill="#c46a6a" stroke="#5a3030" stroke-width="0.6"/>
<text x="22" y="412.5" font-family='"Liberation Serif", serif' font-size="9.3" text-anchor="start" fill="#000">(i)</text>
<text x="109.5" y="596.1" font-family='"Liberation Serif", serif' font-size="6.6" text-anchor="middle" fill="#111" textLength="77.5" lengthAdjust="spacingAndGlyphs">Externally Studentized Residuals</text>
<text x="6.4" y="494.2" font-family='"Liberation Serif", serif' font-size="6.6" text-anchor="middle" fill="#111" transform="rotate(-90 6.4 494.2)" textLength="53.2" lengthAdjust="spacingAndGlyphs">Normal % Probability</text>
<defs><linearGradient id="cb403" x1="0" x2="1" y1="0" y2="0"><stop offset="0" stop-color="#0000f0"/><stop offset="0.2" stop-color="#0050a0"/><stop offset="0.45" stop-color="#00f020"/><stop offset="0.72" stop-color="#407800"/><stop offset="0.88" stop-color="#904000"/><stop offset="1" stop-color="#e00000"/></linearGradient></defs>
<rect x="161.4" y="570.7" width="18.6" height="6.9" fill="url(#cb403)" stroke="#444" stroke-width="0.4"/>
<text x="159.8" y="576.1" font-family='"Liberation Sans", sans-serif' font-size="5.5" text-anchor="end" fill="#3030b0" style="stroke:#3030b0;stroke-width:.25px;stroke-opacity:.8" textLength="11.9" lengthAdjust="spacingAndGlyphs">41.07</text>
<text x="182" y="576.1" font-family='"Liberation Sans", sans-serif' font-size="5.5" text-anchor="start" fill="#c83030" style="stroke:#c83030;stroke-width:.25px;stroke-opacity:.8" textLength="11.9" lengthAdjust="spacingAndGlyphs">71.55</text>
<line x1="228.2" y1="581.4" x2="228.2" y2="584.9" stroke="#555" stroke-width="0.9"/>
<text x="228.2" y="591" font-family='"Liberation Serif", serif' font-size="4.6" text-anchor="middle" fill="#333">30</text>
<line x1="215.8" y1="572.4" x2="219.3" y2="572.4" stroke="#555" stroke-width="0.9"/>
<text x="211.3" y="574" font-family='"Liberation Serif", serif' font-size="4.6" text-anchor="middle" fill="#333">30</text>
<line x1="260.0" y1="581.4" x2="260.0" y2="584.9" stroke="#555" stroke-width="0.9"/>
<text x="260" y="591" font-family='"Liberation Serif", serif' font-size="4.6" text-anchor="middle" fill="#333">40</text>
<line x1="215.8" y1="540.6" x2="219.3" y2="540.6" stroke="#555" stroke-width="0.9"/>
<text x="211.3" y="542.2" font-family='"Liberation Serif", serif' font-size="4.6" text-anchor="middle" fill="#333">40</text>
<line x1="291.8" y1="581.4" x2="291.8" y2="584.9" stroke="#555" stroke-width="0.9"/>
<text x="291.8" y="591" font-family='"Liberation Serif", serif' font-size="4.6" text-anchor="middle" fill="#333">50</text>
<line x1="215.8" y1="508.9" x2="219.3" y2="508.9" stroke="#555" stroke-width="0.9"/>
<text x="211.3" y="510.5" font-family='"Liberation Serif", serif' font-size="4.6" text-anchor="middle" fill="#333">50</text>
<line x1="323.5" y1="581.4" x2="323.5" y2="584.9" stroke="#555" stroke-width="0.9"/>
<text x="323.5" y="591" font-family='"Liberation Serif", serif' font-size="4.6" text-anchor="middle" fill="#333">60</text>
<line x1="215.8" y1="477.1" x2="219.3" y2="477.1" stroke="#555" stroke-width="0.9"/>
<text x="211.3" y="478.7" font-family='"Liberation Serif", serif' font-size="4.6" text-anchor="middle" fill="#333">60</text>
<line x1="355.3" y1="581.4" x2="355.3" y2="584.9" stroke="#555" stroke-width="0.9"/>
<text x="355.3" y="591" font-family='"Liberation Serif", serif' font-size="4.6" text-anchor="middle" fill="#333">70</text>
<line x1="215.8" y1="445.4" x2="219.3" y2="445.4" stroke="#555" stroke-width="0.9"/>
<text x="211.3" y="447" font-family='"Liberation Serif", serif' font-size="4.6" text-anchor="middle" fill="#333">70</text>
<line x1="387.1" y1="581.4" x2="387.1" y2="584.9" stroke="#555" stroke-width="0.9"/>
<text x="387.1" y="591" font-family='"Liberation Serif", serif' font-size="4.6" text-anchor="middle" fill="#333">80</text>
<line x1="215.8" y1="413.6" x2="219.3" y2="413.6" stroke="#555" stroke-width="0.9"/>
<text x="211.3" y="415.2" font-family='"Liberation Serif", serif' font-size="4.6" text-anchor="middle" fill="#333">80</text>
<rect x="219.3" y="404.4" width="176.4" height="177.0" fill="none" stroke="#6a6a6a" stroke-width="1.2"/>
<rect x="261.4" y="551.2" width="3.5" height="3.5" fill="#0a0ad2" stroke="#2a2a2a" stroke-width="0.6"/>
<rect x="262.5" y="515.1" width="3.5" height="3.5" fill="#0a0ad2" stroke="#2a2a2a" stroke-width="0.6"/>
<rect x="265.2" y="524.1" width="3.5" height="3.5" fill="#0a0ad2" stroke="#2a2a2a" stroke-width="0.6"/>
<rect x="268.9" y="520.6" width="3.5" height="3.5" fill="#0048e0" stroke="#2a2a2a" stroke-width="0.6"/>
<rect x="270.4" y="527.8" width="3.5" height="3.5" fill="#0048e0" stroke="#2a2a2a" stroke-width="0.6"/>
<rect x="272.1" y="507.1" width="3.5" height="3.5" fill="#0048e0" stroke="#2a2a2a" stroke-width="0.6"/>
<rect x="276.2" y="518.1" width="3.5" height="3.5" fill="#0a9ae8" stroke="#2a2a2a" stroke-width="0.6"/>
<rect x="279.3" y="497.5" width="3.5" height="3.5" fill="#0a9ae8" stroke="#2a2a2a" stroke-width="0.6"/>
<rect x="281.4" y="503.7" width="3.5" height="3.5" fill="#0a9ae8" stroke="#2a2a2a" stroke-width="0.6"/>
<rect x="279.3" y="512.3" width="3.5" height="3.5" fill="#0a9ae8" stroke="#2a2a2a" stroke-width="0.6"/>
<rect x="285.1" y="515.2" width="3.5" height="3.5" fill="#30d8c8" stroke="#2a2a2a" stroke-width="0.6"/>
<rect x="296.7" y="503.8" width="3.5" height="3.5" fill="#10e0a0" stroke="#2a2a2a" stroke-width="0.6"/>
<rect x="304.9" y="494.9" width="3.5" height="3.5" fill="#10dc10" stroke="#2a2a2a" stroke-width="0.6"/>
<rect x="310.3" y="498.2" width="3.5" height="3.5" fill="#10dc10" stroke="#2a2a2a" stroke-width="0.6"/>
<rect x="316.3" y="500.4" width="3.5" height="3.5" fill="#10dc10" stroke="#2a2a2a" stroke-width="0.6"/>
<rect x="313.8" y="492.5" width="3.5" height="3.5" fill="#10dc10" stroke="#2a2a2a" stroke-width="0.6"/>
<rect x="307.3" y="483.5" width="3.5" height="3.5" fill="#10dc10" stroke="#2a2a2a" stroke-width="0.6"/>
<rect x="313.3" y="484.3" width="3.5" height="3.5" fill="#10dc10" stroke="#2a2a2a" stroke-width="0.6"/>
<rect x="311.1" y="487.5" width="3.5" height="3.5" fill="#10dc10" stroke="#2a2a2a" stroke-width="0.6"/>
<rect x="316.3" y="476.9" width="3.5" height="3.5" fill="#10dc10" stroke="#2a2a2a" stroke-width="0.6"/>
<rect x="319.8" y="478.4" width="3.5" height="3.5" fill="#10dc10" stroke="#2a2a2a" stroke-width="0.6"/>
<rect x="323.2" y="475.6" width="3.5" height="3.5" fill="#8ee010" stroke="#2a2a2a" stroke-width="0.6"/>
<rect x="325.9" y="473.6" width="3.5" height="3.5" fill="#8ee010" stroke="#2a2a2a" stroke-width="0.6"/>
<rect x="323.0" y="483.5" width="3.5" height="3.5" fill="#8ee010" stroke="#2a2a2a" stroke-width="0.6"/>
<rect x="325.7" y="481.6" width="3.5" height="3.5" fill="#8ee010" stroke="#2a2a2a" stroke-width="0.6"/>
<rect x="321.0" y="466.2" width="3.5" height="3.5" fill="#10dc10" stroke="#2a2a2a" stroke-width="0.6"/>
<rect x="324.9" y="466.2" width="3.5" height="3.5" fill="#8ee010" stroke="#2a2a2a" stroke-width="0.6"/>
<rect x="328.4" y="466.2" width="3.5" height="3.5" fill="#8ee010" stroke="#2a2a2a" stroke-width="0.6"/>
<rect x="331.9" y="466.2" width="3.5" height="3.5" fill="#e6e60a" stroke="#2a2a2a" stroke-width="0.6"/>
<rect x="334.8" y="466.2" width="3.5" height="3.5" fill="#e6e60a" stroke="#2a2a2a" stroke-width="0.6"/>
<rect x="332.2" y="470.0" width="3.5" height="3.5" fill="#e6e60a" stroke="#2a2a2a" stroke-width="0.6"/>
<rect x="339.8" y="472.7" width="3.5" height="3.5" fill="#f0a010" stroke="#2a2a2a" stroke-width="0.6"/>
<rect x="343.3" y="466.2" width="3.5" height="3.5" fill="#f0a010" stroke="#2a2a2a" stroke-width="0.6"/>
<rect x="332.4" y="459.3" width="3.5" height="3.5" fill="#e6e60a" stroke="#2a2a2a" stroke-width="0.6"/>
<rect x="338.8" y="460.3" width="3.5" height="3.5" fill="#e6e60a" stroke="#2a2a2a" stroke-width="0.6"/>
<rect x="339.3" y="462.8" width="3.5" height="3.5" fill="#f0a010" stroke="#2a2a2a" stroke-width="0.6"/>
<rect x="332.6" y="450.2" width="3.5" height="3.5" fill="#e6e60a" stroke="#2a2a2a" stroke-width="0.6"/>
<rect x="338.4" y="436.0" width="3.5" height="3.5" fill="#e6e60a" stroke="#2a2a2a" stroke-width="0.6"/>
<rect x="341.6" y="446.2" width="3.5" height="3.5" fill="#f0a010" stroke="#2a2a2a" stroke-width="0.6"/>
<rect x="348.8" y="447.9" width="3.5" height="3.5" fill="#e86010" stroke="#2a2a2a" stroke-width="0.6"/>
<rect x="349.1" y="452.7" width="3.5" height="3.5" fill="#e86010" stroke="#2a2a2a" stroke-width="0.6"/>
<rect x="355.1" y="452.4" width="3.5" height="3.5" fill="#dc0a0a" stroke="#2a2a2a" stroke-width="0.6"/>
<rect x="354.9" y="459.7" width="3.5" height="3.5" fill="#dc0a0a" stroke="#2a2a2a" stroke-width="0.6"/>
<rect x="358.3" y="434.6" width="3.5" height="3.5" fill="#dc0a0a" stroke="#2a2a2a" stroke-width="0.6"/>
<line x1="228.2" y1="572.4" x2="387.1" y2="413.6" stroke="#1a1a1a" stroke-width="0.8"/>
<text x="220.9" y="413.4" font-family='"Liberation Serif", serif' font-size="9.3" text-anchor="start" fill="#000">(j)</text>
<text x="305.9" y="594.5" font-family='"Liberation Serif", serif' font-size="6.6" text-anchor="middle" fill="#111" textLength="15.8" lengthAdjust="spacingAndGlyphs">Actual</text>
<text x="206.4" y="498.6" font-family='"Liberation Serif", serif' font-size="6.6" text-anchor="middle" fill="#111" transform="rotate(-90 206.4 498.6)" textLength="23.6" lengthAdjust="spacingAndGlyphs">Predicted</text>
<defs>
<linearGradient id="c20"><stop offset="0" stop-color="#ff4300"/><stop offset="0.077" stop-color="#ff5e00"/><stop offset="0.154" stop-color="#ff7c00"/><stop offset="0.231" stop-color="#ff9c00"/><stop offset="0.308" stop-color="#ffbe00"/><stop offset="0.385" stop-color="#ffe300"/><stop offset="0.462" stop-color="#f4ff00"/><stop offset="0.538" stop-color="#cbff00"/><stop offset="0.615" stop-color="#a0ff00"/><stop offset="0.692" stop-color="#72ff00"/><stop offset="0.769" stop-color="#42ff00"/><stop offset="0.846" stop-color="#0fff00"/><stop offset="0.923" stop-color="#00ff25"/><stop offset="1" stop-color="#00ff5c"/></linearGradient>
<linearGradient id="c21"><stop offset="0" stop-color="#ff4200"/><stop offset="0.077" stop-color="#ff5d00"/><stop offset="0.154" stop-color="#ff7b00"/><stop offset="0.231" stop-color="#ff9b00"/><stop offset="0.308" stop-color="#ffbd00"/><stop offset="0.385" stop-color="#ffe200"/><stop offset="0.462" stop-color="#f6ff00"/><stop offset="0.538" stop-color="#cdff00"/><stop offset="0.615" stop-color="#a1ff00"/><stop offset="0.692" stop-color="#73ff00"/><stop offset="0.769" stop-color="#43ff00"/><stop offset="0.846" stop-color="#11ff00"/><stop offset="0.923" stop-color="#00ff23"/><stop offset="1" stop-color="#00ff5a"/></linearGradient>
<linearGradient id="c22"><stop offset="0" stop-color="#ff4100"/><stop offset="0.077" stop-color="#ff5c00"/><stop offset="0.154" stop-color="#ff7a00"/><stop offset="0.231" stop-color="#ff9a00"/><stop offset="0.308" stop-color="#ffbc00"/><stop offset="0.385" stop-color="#ffe000"/><stop offset="0.462" stop-color="#f7ff00"/><stop offset="0.538" stop-color="#ceff00"/><stop offset="0.615" stop-color="#a2ff00"/><stop offset="0.692" stop-color="#75ff00"/><stop offset="0.769" stop-color="#45ff00"/><stop offset="0.846" stop-color="#13ff00"/><stop offset="0.923" stop-color="#00ff22"/><stop offset="1" stop-color="#00ff59"/></linearGradient>
<linearGradient id="c23"><stop offset="0" stop-color="#ff4100"/><stop offset="0.077" stop-color="#ff5c00"/><stop offset="0.154" stop-color="#ff7900"/><stop offset="0.231" stop-color="#ff9900"/><stop offset="0.308" stop-color="#ffbb00"/><stop offset="0.385" stop-color="#ffdf00"/><stop offset="0.462" stop-color="#f8ff00"/><stop offset="0.538" stop-color="#cfff00"/><stop offset="0.615" stop-color="#a4ff00"/><stop offset="0.692" stop-color="#76ff00"/><stop offset="0.769" stop-color="#46ff00"/><stop offset="0.846" stop-color="#14ff00"/><stop offset="0.923" stop-color="#00ff20"/><stop offset="1" stop-color="#00ff57"/></linearGradient>
<linearGradient id="c24"><stop offset="0" stop-color="#ff4000"/><stop offset="0.077" stop-color="#ff5b00"/><stop offset="0.154" stop-color="#ff7900"/><stop offset="0.231" stop-color="#ff9800"/><stop offset="0.308" stop-color="#ffba00"/><stop offset="0.385" stop-color="#ffdf00"/><stop offset="0.462" stop-color="#f9ff00"/><stop offset="0.538" stop-color="#d0ff00"/><stop offset="0.615" stop-color="#a5ff00"/><stop offset="0.692" stop-color="#77ff00"/><stop offset="0.769" stop-color="#47ff00"/><stop offset="0.846" stop-color="#15ff00"/><stop offset="0.923" stop-color="#00ff1f"/><stop offset="1" stop-color="#00ff56"/></linearGradient>
<linearGradient id="c25"><stop offset="0" stop-color="#ff4000"/><stop offset="0.077" stop-color="#ff5b00"/><stop offset="0.154" stop-color="#ff7800"/><stop offset="0.231" stop-color="#ff9800"/><stop offset="0.308" stop-color="#ffba00"/><stop offset="0.385" stop-color="#ffde00"/><stop offset="0.462" stop-color="#f9ff00"/><stop offset="0.538" stop-color="#d1ff00"/><stop offset="0.615" stop-color="#a6ff00"/><stop offset="0.692" stop-color="#78ff00"/><stop offset="0.769" stop-color="#49ff00"/><stop offset="0.846" stop-color="#17ff00"/><stop offset="0.923" stop-color="#00ff1e"/><stop offset="1" stop-color="#00ff54"/></linearGradient>
<linearGradient id="c26"><stop offset="0" stop-color="#ff4000"/><stop offset="0.077" stop-color="#ff5b00"/><stop offset="0.154" stop-color="#ff7800"/><stop offset="0.231" stop-color="#ff9800"/><stop offset="0.308" stop-color="#ffb900"/><stop offset="0.385" stop-color="#ffde00"/><stop offset="0.462" stop-color="#faff00"/><stop offset="0.538" stop-color="#d1ff00"/><stop offset="0.615" stop-color="#a6ff00"/><stop offset="0.692" stop-color="#79ff00"/><stop offset="0.769" stop-color="#49ff00"/><stop offset="0.846" stop-color="#17ff00"/><stop offset="0.923" stop-color="#00ff1d"/><stop offset="1" stop-color="#00ff53"/></linearGradient>
<linearGradient id="c27"><stop offset="0" stop-color="#ff4000"/><stop offset="0.077" stop-color="#ff5b00"/><stop offset="0.154" stop-color="#ff7800"/><stop offset="0.231" stop-color="#ff9700"/><stop offset="0.308" stop-color="#ffb900"/><stop offset="0.385" stop-color="#ffdd00"/><stop offset="0.462" stop-color="#faff00"/><stop offset="0.538" stop-color="#d2ff00"/><stop offset="0.615" stop-color="#a7ff00"/><stop offset="0.692" stop-color="#7aff00"/><stop offset="0.769" stop-color="#4aff00"/><stop offset="0.846" stop-color="#18ff00"/><stop offset="0.923" stop-color="#00ff1c"/><stop offset="1" stop-color="#00ff52"/></linearGradient>
<linearGradient id="c28"><stop offset="0" stop-color="#ff4000"/><stop offset="0.077" stop-color="#ff5b00"/><stop offset="0.154" stop-color="#ff7800"/><stop offset="0.231" stop-color="#ff9700"/><stop offset="0.308" stop-color="#ffb900"/><stop offset="0.385" stop-color="#ffdd00"/><stop offset="0.462" stop-color="#fbff00"/><stop offset="0.538" stop-color="#d2ff00"/><stop offset="0.615" stop-color="#a7ff00"/><stop offset="0.692" stop-color="#7aff00"/><stop offset="0.769" stop-color="#4bff00"/><stop offset="0.846" stop-color="#19ff00"/><stop offset="0.923" stop-color="#00ff1b"/><stop offset="1" stop-color="#00ff51"/></linearGradient>
<linearGradient id="c29"><stop offset="0" stop-color="#ff4100"/><stop offset="0.077" stop-color="#ff5b00"/><stop offset="0.154" stop-color="#ff7800"/><stop offset="0.231" stop-color="#ff9800"/><stop offset="0.308" stop-color="#ffb900"/><stop offset="0.385" stop-color="#ffdd00"/><stop offset="0.462" stop-color="#fbff00"/><stop offset="0.538" stop-color="#d2ff00"/><stop offset="0.615" stop-color="#a7ff00"/><stop offset="0.692" stop-color="#7aff00"/><stop offset="0.769" stop-color="#4bff00"/><stop offset="0.846" stop-color="#19ff00"/><stop offset="0.923" stop-color="#00ff1b"/><stop offset="1" stop-color="#00ff51"/></linearGradient>
<linearGradient id="c210"><stop offset="0" stop-color="#ff4100"/><stop offset="0.077" stop-color="#ff5c00"/><stop offset="0.154" stop-color="#ff7900"/><stop offset="0.231" stop-color="#ff9800"/><stop offset="0.308" stop-color="#ffb900"/><stop offset="0.385" stop-color="#ffdd00"/><stop offset="0.462" stop-color="#fbff00"/><stop offset="0.538" stop-color="#d2ff00"/><stop offset="0.615" stop-color="#a8ff00"/><stop offset="0.692" stop-color="#7bff00"/><stop offset="0.769" stop-color="#4bff00"/><stop offset="0.846" stop-color="#1aff00"/><stop offset="0.923" stop-color="#00ff1a"/><stop offset="1" stop-color="#00ff50"/></linearGradient>
<linearGradient id="c211"><stop offset="0" stop-color="#ff4200"/><stop offset="0.077" stop-color="#ff5c00"/><stop offset="0.154" stop-color="#ff7900"/><stop offset="0.231" stop-color="#ff9800"/><stop offset="0.308" stop-color="#ffba00"/><stop offset="0.385" stop-color="#ffde00"/><stop offset="0.462" stop-color="#faff00"/><stop offset="0.538" stop-color="#d2ff00"/><stop offset="0.615" stop-color="#a7ff00"/><stop offset="0.692" stop-color="#7bff00"/><stop offset="0.769" stop-color="#4bff00"/><stop offset="0.846" stop-color="#1aff00"/><stop offset="0.923" stop-color="#00ff1a"/><stop offset="1" stop-color="#00ff50"/></linearGradient>
<linearGradient id="c212"><stop offset="0" stop-color="#ff4300"/><stop offset="0.077" stop-color="#ff5d00"/><stop offset="0.154" stop-color="#ff7a00"/><stop offset="0.231" stop-color="#ff9900"/><stop offset="0.308" stop-color="#ffba00"/><stop offset="0.385" stop-color="#ffde00"/><stop offset="0.462" stop-color="#faff00"/><stop offset="0.538" stop-color="#d2ff00"/><stop offset="0.615" stop-color="#a7ff00"/><stop offset="0.692" stop-color="#7aff00"/><stop offset="0.769" stop-color="#4bff00"/><stop offset="0.846" stop-color="#1aff00"/><stop offset="0.923" stop-color="#00ff1a"/><stop offset="1" stop-color="#00ff50"/></linearGradient>
<linearGradient id="c213"><stop offset="0" stop-color="#ff4400"/><stop offset="0.077" stop-color="#ff5e00"/><stop offset="0.154" stop-color="#ff7b00"/><stop offset="0.231" stop-color="#ff9a00"/><stop offset="0.308" stop-color="#ffbb00"/><stop offset="0.385" stop-color="#ffdf00"/><stop offset="0.462" stop-color="#f9ff00"/><stop offset="0.538" stop-color="#d1ff00"/><stop offset="0.615" stop-color="#a7ff00"/><stop offset="0.692" stop-color="#7aff00"/><stop offset="0.769" stop-color="#4bff00"/><stop offset="0.846" stop-color="#1aff00"/><stop offset="0.923" stop-color="#00ff1a"/><stop offset="1" stop-color="#00ff50"/></linearGradient>
<linearGradient id="c214"><stop offset="0" stop-color="#ff4500"/><stop offset="0.077" stop-color="#ff5f00"/><stop offset="0.154" stop-color="#ff7c00"/><stop offset="0.231" stop-color="#ff9b00"/><stop offset="0.308" stop-color="#ffbc00"/><stop offset="0.385" stop-color="#ffdf00"/><stop offset="0.462" stop-color="#f9ff00"/><stop offset="0.538" stop-color="#d1ff00"/><stop offset="0.615" stop-color="#a6ff00"/><stop offset="0.692" stop-color="#7aff00"/><stop offset="0.769" stop-color="#4bff00"/><stop offset="0.846" stop-color="#19ff00"/><stop offset="0.923" stop-color="#00ff1a"/><stop offset="1" stop-color="#00ff50"/></linearGradient>
<linearGradient id="c215"><stop offset="0" stop-color="#ff4600"/><stop offset="0.077" stop-color="#ff6100"/><stop offset="0.154" stop-color="#ff7d00"/><stop offset="0.231" stop-color="#ff9c00"/><stop offset="0.308" stop-color="#ffbd00"/><stop offset="0.385" stop-color="#ffe000"/><stop offset="0.462" stop-color="#f8ff00"/><stop offset="0.538" stop-color="#d0ff00"/><stop offset="0.615" stop-color="#a5ff00"/><stop offset="0.692" stop-color="#79ff00"/><stop offset="0.769" stop-color="#4aff00"/><stop offset="0.846" stop-color="#19ff00"/><stop offset="0.923" stop-color="#00ff1b"/><stop offset="1" stop-color="#00ff51"/></linearGradient>
<linearGradient id="c216"><stop offset="0" stop-color="#ff4800"/><stop offset="0.077" stop-color="#ff6200"/><stop offset="0.154" stop-color="#ff7e00"/><stop offset="0.231" stop-color="#ff9d00"/><stop offset="0.308" stop-color="#ffbe00"/><stop offset="0.385" stop-color="#ffe200"/><stop offset="0.462" stop-color="#f7ff00"/><stop offset="0.538" stop-color="#cfff00"/><stop offset="0.615" stop-color="#a5ff00"/><stop offset="0.692" stop-color="#78ff00"/><stop offset="0.769" stop-color="#49ff00"/><stop offset="0.846" stop-color="#18ff00"/><stop offset="0.923" stop-color="#00ff1b"/><stop offset="1" stop-color="#00ff51"/></linearGradient>
<linearGradient id="c217"><stop offset="0" stop-color="#ff4a00"/><stop offset="0.077" stop-color="#ff6400"/><stop offset="0.154" stop-color="#ff8000"/><stop offset="0.231" stop-color="#ff9f00"/><stop offset="0.308" stop-color="#ffc000"/><stop offset="0.385" stop-color="#ffe300"/><stop offset="0.462" stop-color="#f6ff00"/><stop offset="0.538" stop-color="#ceff00"/><stop offset="0.615" stop-color="#a4ff00"/><stop offset="0.692" stop-color="#77ff00"/><stop offset="0.769" stop-color="#48ff00"/><stop offset="0.846" stop-color="#17ff00"/><stop offset="0.923" stop-color="#00ff1c"/><stop offset="1" stop-color="#00ff52"/></linearGradient>
<linearGradient id="c218"><stop offset="0" stop-color="#ff4b00"/><stop offset="0.077" stop-color="#ff6500"/><stop offset="0.154" stop-color="#ff8200"/><stop offset="0.231" stop-color="#ffa000"/><stop offset="0.308" stop-color="#ffc100"/><stop offset="0.385" stop-color="#ffe400"/><stop offset="0.462" stop-color="#f4ff00"/><stop offset="0.538" stop-color="#ccff00"/><stop offset="0.615" stop-color="#a2ff00"/><stop offset="0.692" stop-color="#76ff00"/><stop offset="0.769" stop-color="#47ff00"/><stop offset="0.846" stop-color="#16ff00"/><stop offset="0.923" stop-color="#00ff1d"/><stop offset="1" stop-color="#00ff53"/></linearGradient>
<linearGradient id="c219"><stop offset="0" stop-color="#ff4d00"/><stop offset="0.077" stop-color="#ff6700"/><stop offset="0.154" stop-color="#ff8400"/><stop offset="0.231" stop-color="#ffa200"/><stop offset="0.308" stop-color="#ffc300"/><stop offset="0.385" stop-color="#ffe600"/><stop offset="0.462" stop-color="#f3ff00"/><stop offset="0.538" stop-color="#cbff00"/><stop offset="0.615" stop-color="#a1ff00"/><stop offset="0.692" stop-color="#75ff00"/><stop offset="0.769" stop-color="#46ff00"/><stop offset="0.846" stop-color="#15ff00"/><stop offset="0.923" stop-color="#00ff1e"/><stop offset="1" stop-color="#00ff54"/></linearGradient>
<linearGradient id="c220"><stop offset="0" stop-color="#ff5000"/><stop offset="0.077" stop-color="#ff6900"/><stop offset="0.154" stop-color="#ff8600"/><stop offset="0.231" stop-color="#ffa400"/><stop offset="0.308" stop-color="#ffc500"/><stop offset="0.385" stop-color="#ffe800"/><stop offset="0.462" stop-color="#f1ff00"/><stop offset="0.538" stop-color="#c9ff00"/><stop offset="0.615" stop-color="#9fff00"/><stop offset="0.692" stop-color="#73ff00"/><stop offset="0.769" stop-color="#45ff00"/><stop offset="0.846" stop-color="#14ff00"/><stop offset="0.923" stop-color="#00ff1f"/><stop offset="1" stop-color="#00ff55"/></linearGradient>
<linearGradient id="c221"><stop offset="0" stop-color="#ff5200"/><stop offset="0.077" stop-color="#ff6c00"/><stop offset="0.154" stop-color="#ff8800"/><stop offset="0.231" stop-color="#ffa600"/><stop offset="0.308" stop-color="#ffc700"/><stop offset="0.385" stop-color="#ffea00"/><stop offset="0.462" stop-color="#efff00"/><stop offset="0.538" stop-color="#c8ff00"/><stop offset="0.615" stop-color="#9eff00"/><stop offset="0.692" stop-color="#72ff00"/><stop offset="0.769" stop-color="#43ff00"/><stop offset="0.846" stop-color="#12ff00"/><stop offset="0.923" stop-color="#00ff21"/><stop offset="1" stop-color="#00ff56"/></linearGradient>
<linearGradient id="c222"><stop offset="0" stop-color="#ff5400"/><stop offset="0.077" stop-color="#ff6e00"/><stop offset="0.154" stop-color="#ff8a00"/><stop offset="0.231" stop-color="#ffa800"/><stop offset="0.308" stop-color="#ffc900"/><stop offset="0.385" stop-color="#ffec00"/><stop offset="0.462" stop-color="#edff00"/><stop offset="0.538" stop-color="#c6ff00"/><stop offset="0.615" stop-color="#9cff00"/><stop offset="0.692" stop-color="#70ff00"/><stop offset="0.769" stop-color="#41ff00"/><stop offset="0.846" stop-color="#11ff00"/><stop offset="0.923" stop-color="#00ff22"/><stop offset="1" stop-color="#00ff58"/></linearGradient>
<linearGradient id="c223"><stop offset="0" stop-color="#ff5700"/><stop offset="0.077" stop-color="#ff7100"/><stop offset="0.154" stop-color="#ff8d00"/><stop offset="0.231" stop-color="#ffab00"/><stop offset="0.308" stop-color="#ffcb00"/><stop offset="0.385" stop-color="#ffee00"/><stop offset="0.462" stop-color="#ebff00"/><stop offset="0.538" stop-color="#c3ff00"/><stop offset="0.615" stop-color="#9aff00"/><stop offset="0.692" stop-color="#6eff00"/><stop offset="0.769" stop-color="#3fff00"/><stop offset="0.846" stop-color="#0fff00"/><stop offset="0.923" stop-color="#00ff24"/><stop offset="1" stop-color="#00ff59"/></linearGradient>
<linearGradient id="c224"><stop offset="0" stop-color="#ff5a00"/><stop offset="0.077" stop-color="#ff7300"/><stop offset="0.154" stop-color="#ff8f00"/><stop offset="0.231" stop-color="#ffad00"/><stop offset="0.308" stop-color="#ffce00"/><stop offset="0.385" stop-color="#fff000"/><stop offset="0.462" stop-color="#e9ff00"/><stop offset="0.538" stop-color="#c1ff00"/><stop offset="0.615" stop-color="#98ff00"/><stop offset="0.692" stop-color="#6cff00"/><stop offset="0.769" stop-color="#3dff00"/><stop offset="0.846" stop-color="#0dff00"/><stop offset="0.923" stop-color="#00ff26"/><stop offset="1" stop-color="#00ff5b"/></linearGradient>
<linearGradient id="c225"><stop offset="0" stop-color="#ff5d00"/><stop offset="0.077" stop-color="#ff7600"/><stop offset="0.154" stop-color="#ff9200"/><stop offset="0.231" stop-color="#ffb000"/><stop offset="0.308" stop-color="#ffd000"/><stop offset="0.385" stop-color="#fff300"/><stop offset="0.462" stop-color="#e6ff00"/><stop offset="0.538" stop-color="#bfff00"/><stop offset="0.615" stop-color="#95ff00"/><stop offset="0.692" stop-color="#69ff00"/><stop offset="0.769" stop-color="#3bff00"/><stop offset="0.846" stop-color="#0bff00"/><stop offset="0.923" stop-color="#00ff28"/><stop offset="1" stop-color="#00ff5d"/></linearGradient>
<linearGradient id="c226"><stop offset="0" stop-color="#ff6000"/><stop offset="0.077" stop-color="#ff7900"/><stop offset="0.154" stop-color="#ff9500"/><stop offset="0.231" stop-color="#ffb300"/><stop offset="0.308" stop-color="#ffd300"/><stop offset="0.385" stop-color="#fff600"/><stop offset="0.462" stop-color="#e3ff00"/><stop offset="0.538" stop-color="#bcff00"/><stop offset="0.615" stop-color="#93ff00"/><stop offset="0.692" stop-color="#67ff00"/><stop offset="0.769" stop-color="#39ff00"/><stop offset="0.846" stop-color="#09ff00"/><stop offset="0.923" stop-color="#00ff2a"/><stop offset="1" stop-color="#00ff5f"/></linearGradient>
<linearGradient id="c227"><stop offset="0" stop-color="#ff6300"/><stop offset="0.077" stop-color="#ff7d00"/><stop offset="0.154" stop-color="#ff9800"/><stop offset="0.231" stop-color="#ffb600"/><stop offset="0.308" stop-color="#ffd600"/><stop offset="0.385" stop-color="#fff900"/><stop offset="0.462" stop-color="#e0ff00"/><stop offset="0.538" stop-color="#b9ff00"/><stop offset="0.615" stop-color="#90ff00"/><stop offset="0.692" stop-color="#64ff00"/><stop offset="0.769" stop-color="#36ff00"/><stop offset="0.846" stop-color="#06ff00"/><stop offset="0.923" stop-color="#00ff2c"/><stop offset="1" stop-color="#00ff61"/></linearGradient>
<linearGradient id="c228"><stop offset="0" stop-color="#ff6700"/><stop offset="0.077" stop-color="#ff8000"/><stop offset="0.154" stop-color="#ff9b00"/><stop offset="0.231" stop-color="#ffb900"/><stop offset="0.308" stop-color="#ffd900"/><stop offset="0.385" stop-color="#fffc00"/><stop offset="0.462" stop-color="#deff00"/><stop offset="0.538" stop-color="#b6ff00"/><stop offset="0.615" stop-color="#8dff00"/><stop offset="0.692" stop-color="#62ff00"/><stop offset="0.769" stop-color="#34ff00"/><stop offset="0.846" stop-color="#04ff00"/><stop offset="0.923" stop-color="#00ff2f"/><stop offset="1" stop-color="#00ff64"/></linearGradient>
<linearGradient id="c229"><stop offset="0" stop-color="#ff6a00"/><stop offset="0.077" stop-color="#ff8300"/><stop offset="0.154" stop-color="#ff9f00"/><stop offset="0.231" stop-color="#ffbd00"/><stop offset="0.308" stop-color="#ffdd00"/><stop offset="0.385" stop-color="#ffff00"/><stop offset="0.462" stop-color="#daff00"/><stop offset="0.538" stop-color="#b3ff00"/><stop offset="0.615" stop-color="#8aff00"/><stop offset="0.692" stop-color="#5fff00"/><stop offset="0.769" stop-color="#31ff00"/><stop offset="0.846" stop-color="#01ff00"/><stop offset="0.923" stop-color="#00ff32"/><stop offset="1" stop-color="#00ff66"/></linearGradient>
<linearGradient id="c230"><stop offset="0" stop-color="#ff6e00"/><stop offset="0.077" stop-color="#ff8700"/><stop offset="0.154" stop-color="#ffa300"/><stop offset="0.231" stop-color="#ffc000"/><stop offset="0.308" stop-color="#ffe000"/><stop offset="0.385" stop-color="#fcff00"/><stop offset="0.462" stop-color="#d7ff00"/><stop offset="0.538" stop-color="#b0ff00"/><stop offset="0.615" stop-color="#87ff00"/><stop offset="0.692" stop-color="#5cff00"/><stop offset="0.769" stop-color="#2eff00"/><stop offset="0.846" stop-color="#00ff02"/><stop offset="0.923" stop-color="#00ff35"/><stop offset="1" stop-color="#00ff69"/></linearGradient>
<linearGradient id="c231"><stop offset="0" stop-color="#ff7200"/><stop offset="0.077" stop-color="#ff8b00"/><stop offset="0.154" stop-color="#ffa600"/><stop offset="0.231" stop-color="#ffc400"/><stop offset="0.308" stop-color="#ffe400"/><stop offset="0.385" stop-color="#f8ff00"/><stop offset="0.462" stop-color="#d4ff00"/><stop offset="0.538" stop-color="#adff00"/><stop offset="0.615" stop-color="#84ff00"/><stop offset="0.692" stop-color="#58ff00"/><stop offset="0.769" stop-color="#2bff00"/><stop offset="0.846" stop-color="#00ff05"/><stop offset="0.923" stop-color="#00ff38"/><stop offset="1" stop-color="#00ff6c"/></linearGradient>
<linearGradient id="c232"><stop offset="0" stop-color="#ff7600"/><stop offset="0.077" stop-color="#ff8f00"/><stop offset="0.154" stop-color="#ffaa00"/><stop offset="0.231" stop-color="#ffc800"/><stop offset="0.308" stop-color="#ffe800"/><stop offset="0.385" stop-color="#f4ff00"/><stop offset="0.462" stop-color="#d0ff00"/><stop offset="0.538" stop-color="#a9ff00"/><stop offset="0.615" stop-color="#80ff00"/><stop offset="0.692" stop-color="#55ff00"/><stop offset="0.769" stop-color="#27ff00"/><stop offset="0.846" stop-color="#00ff09"/><stop offset="0.923" stop-color="#00ff3b"/><stop offset="1" stop-color="#00ff6f"/></linearGradient>
<linearGradient id="c233"><stop offset="0" stop-color="#ff7a00"/><stop offset="0.077" stop-color="#ff9300"/><stop offset="0.154" stop-color="#ffae00"/><stop offset="0.231" stop-color="#ffcc00"/><stop offset="0.308" stop-color="#ffec00"/><stop offset="0.385" stop-color="#f0ff00"/><stop offset="0.462" stop-color="#ccff00"/><stop offset="0.538" stop-color="#a5ff00"/><stop offset="0.615" stop-color="#7dff00"/><stop offset="0.692" stop-color="#51ff00"/><stop offset="0.769" stop-color="#24ff00"/><stop offset="0.846" stop-color="#00ff0c"/><stop offset="0.923" stop-color="#00ff3e"/><stop offset="1" stop-color="#00ff72"/></linearGradient>
<linearGradient id="c234"><stop offset="0" stop-color="#ff7f00"/><stop offset="0.077" stop-color="#ff9800"/><stop offset="0.154" stop-color="#ffb300"/><stop offset="0.231" stop-color="#ffd000"/><stop offset="0.308" stop-color="#fff000"/><stop offset="0.385" stop-color="#ecff00"/><stop offset="0.462" stop-color="#c8ff00"/><stop offset="0.538" stop-color="#a2ff00"/><stop offset="0.615" stop-color="#79ff00"/><stop offset="0.692" stop-color="#4eff00"/><stop offset="0.769" stop-color="#20ff00"/><stop offset="0.846" stop-color="#00ff10"/><stop offset="0.923" stop-color="#00ff42"/><stop offset="1" stop-color="#00ff76"/></linearGradient>
<linearGradient id="c235"><stop offset="0" stop-color="#ff8300"/><stop offset="0.077" stop-color="#ff9c00"/><stop offset="0.154" stop-color="#ffb700"/><stop offset="0.231" stop-color="#ffd400"/><stop offset="0.308" stop-color="#fff400"/><stop offset="0.385" stop-color="#e8ff00"/><stop offset="0.462" stop-color="#c4ff00"/><stop offset="0.538" stop-color="#9eff00"/><stop offset="0.615" stop-color="#75ff00"/><stop offset="0.692" stop-color="#4aff00"/><stop offset="0.769" stop-color="#1cff00"/><stop offset="0.846" stop-color="#00ff13"/><stop offset="0.923" stop-color="#00ff45"/><stop offset="1" stop-color="#00ff79"/></linearGradient>
<linearGradient id="c236"><stop offset="0" stop-color="#ff8800"/><stop offset="0.077" stop-color="#ffa100"/><stop offset="0.154" stop-color="#ffbc00"/><stop offset="0.231" stop-color="#ffd900"/><stop offset="0.308" stop-color="#fff800"/><stop offset="0.385" stop-color="#e4ff00"/><stop offset="0.462" stop-color="#c0ff00"/><stop offset="0.538" stop-color="#99ff00"/><stop offset="0.615" stop-color="#71ff00"/><stop offset="0.692" stop-color="#46ff00"/><stop offset="0.769" stop-color="#18ff00"/><stop offset="0.846" stop-color="#00ff17"/><stop offset="0.923" stop-color="#00ff49"/><stop offset="1" stop-color="#00ff7d"/></linearGradient>
<linearGradient id="c237"><stop offset="0" stop-color="#ff8d00"/><stop offset="0.077" stop-color="#ffa600"/><stop offset="0.154" stop-color="#ffc000"/><stop offset="0.231" stop-color="#ffde00"/><stop offset="0.308" stop-color="#fffd00"/><stop offset="0.385" stop-color="#dfff00"/><stop offset="0.462" stop-color="#bbff00"/><stop offset="0.538" stop-color="#95ff00"/><stop offset="0.615" stop-color="#6cff00"/><stop offset="0.692" stop-color="#41ff00"/><stop offset="0.769" stop-color="#14ff00"/><stop offset="0.846" stop-color="#00ff1b"/><stop offset="0.923" stop-color="#00ff4d"/><stop offset="1" stop-color="#00ff81"/></linearGradient>
<linearGradient id="c238"><stop offset="0" stop-color="#ff9200"/><stop offset="0.077" stop-color="#ffab00"/><stop offset="0.154" stop-color="#ffc500"/><stop offset="0.231" stop-color="#ffe200"/><stop offset="0.308" stop-color="#fcff00"/><stop offset="0.385" stop-color="#dbff00"/><stop offset="0.462" stop-color="#b7ff00"/><stop offset="0.538" stop-color="#90ff00"/><stop offset="0.615" stop-color="#68ff00"/><stop offset="0.692" stop-color="#3dff00"/><stop offset="0.769" stop-color="#10ff00"/><stop offset="0.846" stop-color="#00ff1f"/><stop offset="0.923" stop-color="#00ff51"/><stop offset="1" stop-color="#00ff85"/></linearGradient>
<linearGradient id="c239"><stop offset="0" stop-color="#ff9700"/><stop offset="0.077" stop-color="#ffb000"/><stop offset="0.154" stop-color="#ffca00"/><stop offset="0.231" stop-color="#ffe700"/><stop offset="0.308" stop-color="#f7ff00"/><stop offset="0.385" stop-color="#d6ff00"/><stop offset="0.462" stop-color="#b2ff00"/><stop offset="0.538" stop-color="#8cff00"/><stop offset="0.615" stop-color="#63ff00"/><stop offset="0.692" stop-color="#39ff00"/><stop offset="0.769" stop-color="#0cff00"/><stop offset="0.846" stop-color="#00ff24"/><stop offset="0.923" stop-color="#00ff55"/><stop offset="1" stop-color="#00ff89"/></linearGradient>
<linearGradient id="c240"><stop offset="0" stop-color="#ff9d00"/><stop offset="0.077" stop-color="#ffb500"/><stop offset="0.154" stop-color="#ffd000"/><stop offset="0.231" stop-color="#ffed00"/><stop offset="0.308" stop-color="#f2ff00"/><stop offset="0.385" stop-color="#d1ff00"/><stop offset="0.462" stop-color="#adff00"/><stop offset="0.538" stop-color="#87ff00"/><stop offset="0.615" stop-color="#5fff00"/><stop offset="0.692" stop-color="#34ff00"/><stop offset="0.769" stop-color="#07ff00"/><stop offset="0.846" stop-color="#00ff28"/><stop offset="0.923" stop-color="#00ff5a"/><stop offset="1" stop-color="#00ff8e"/></linearGradient>
<linearGradient id="c241"><stop offset="0" stop-color="#ffa200"/><stop offset="0.077" stop-color="#ffbb00"/><stop offset="0.154" stop-color="#ffd500"/><stop offset="0.231" stop-color="#fff200"/><stop offset="0.308" stop-color="#edff00"/><stop offset="0.385" stop-color="#ccff00"/><stop offset="0.462" stop-color="#a8ff00"/><stop offset="0.538" stop-color="#82ff00"/><stop offset="0.615" stop-color="#5aff00"/><stop offset="0.692" stop-color="#2fff00"/><stop offset="0.769" stop-color="#02ff00"/><stop offset="0.846" stop-color="#00ff2d"/><stop offset="0.923" stop-color="#00ff5f"/><stop offset="1" stop-color="#00ff92"/></linearGradient>
<linearGradient id="c242"><stop offset="0" stop-color="#ffa800"/><stop offset="0.077" stop-color="#ffc000"/><stop offset="0.154" stop-color="#ffdb00"/><stop offset="0.231" stop-color="#fff700"/><stop offset="0.308" stop-color="#e8ff00"/><stop offset="0.385" stop-color="#c6ff00"/><stop offset="0.462" stop-color="#a3ff00"/><stop offset="0.538" stop-color="#7dff00"/><stop offset="0.615" stop-color="#55ff00"/><stop offset="0.692" stop-color="#2aff00"/><stop offset="0.769" stop-color="#00ff03"/><stop offset="0.846" stop-color="#00ff32"/><stop offset="0.923" stop-color="#00ff63"/><stop offset="1" stop-color="#00ff97"/></linearGradient>
<linearGradient id="c243"><stop offset="0" stop-color="#ffae00"/><stop offset="0.077" stop-color="#ffc600"/><stop offset="0.154" stop-color="#ffe000"/><stop offset="0.231" stop-color="#fffd00"/><stop offset="0.308" stop-color="#e2ff00"/><stop offset="0.385" stop-color="#c1ff00"/><stop offset="0.462" stop-color="#9dff00"/><stop offset="0.538" stop-color="#77ff00"/><stop offset="0.615" stop-color="#4fff00"/><stop offset="0.692" stop-color="#25ff00"/><stop offset="0.769" stop-color="#00ff08"/><stop offset="0.846" stop-color="#00ff37"/><stop offset="0.923" stop-color="#00ff68"/><stop offset="1" stop-color="#00ff9c"/></linearGradient>
<linearGradient id="c244"><stop offset="0" stop-color="#ffb400"/><stop offset="0.077" stop-color="#ffcc00"/><stop offset="0.154" stop-color="#ffe600"/><stop offset="0.231" stop-color="#fbff00"/><stop offset="0.308" stop-color="#dcff00"/><stop offset="0.385" stop-color="#bbff00"/><stop offset="0.462" stop-color="#98ff00"/><stop offset="0.538" stop-color="#72ff00"/><stop offset="0.615" stop-color="#4aff00"/><stop offset="0.692" stop-color="#1fff00"/><stop offset="0.769" stop-color="#00ff0d"/><stop offset="0.846" stop-color="#00ff3c"/><stop offset="0.923" stop-color="#00ff6d"/><stop offset="1" stop-color="#00ffa1"/></linearGradient>
</defs>
<rect x="421.1" y="405.6" width="178.9" height="4.6" fill="url(#c20)"/>
<rect x="421.1" y="409.6" width="178.9" height="4.6" fill="url(#c21)"/>
<rect x="421.1" y="413.6" width="178.9" height="4.6" fill="url(#c22)"/>
<rect x="421.1" y="417.6" width="178.9" height="4.6" fill="url(#c23)"/>
<rect x="421.1" y="421.6" width="178.9" height="4.6" fill="url(#c24)"/>
<rect x="421.1" y="425.6" width="178.9" height="4.6" fill="url(#c25)"/>
<rect x="421.1" y="429.6" width="178.9" height="4.6" fill="url(#c26)"/>
<rect x="421.1" y="433.6" width="178.9" height="4.6" fill="url(#c27)"/>
<rect x="421.1" y="437.6" width="178.9" height="4.6" fill="url(#c28)"/>
<rect x="421.1" y="441.6" width="178.9" height="4.6" fill="url(#c29)"/>
<rect x="421.1" y="445.6" width="178.9" height="4.6" fill="url(#c210)"/>
<rect x="421.1" y="449.6" width="178.9" height="4.6" fill="url(#c211)"/>
<rect x="421.1" y="453.6" width="178.9" height="4.6" fill="url(#c212)"/>
<rect x="421.1" y="457.6" width="178.9" height="4.6" fill="url(#c213)"/>
<rect x="421.1" y="461.6" width="178.9" height="4.6" fill="url(#c214)"/>
<rect x="421.1" y="465.6" width="178.9" height="4.6" fill="url(#c215)"/>
<rect x="421.1" y="469.6" width="178.9" height="4.6" fill="url(#c216)"/>
<rect x="421.1" y="473.6" width="178.9" height="4.6" fill="url(#c217)"/>
<rect x="421.1" y="477.6" width="178.9" height="4.6" fill="url(#c218)"/>
<rect x="421.1" y="481.6" width="178.9" height="4.6" fill="url(#c219)"/>
<rect x="421.1" y="485.6" width="178.9" height="4.6" fill="url(#c220)"/>
<rect x="421.1" y="489.6" width="178.9" height="4.6" fill="url(#c221)"/>
<rect x="421.1" y="493.6" width="178.9" height="4.6" fill="url(#c222)"/>
<rect x="421.1" y="497.6" width="178.9" height="4.6" fill="url(#c223)"/>
<rect x="421.1" y="501.6" width="178.9" height="4.6" fill="url(#c224)"/>
<rect x="421.1" y="505.6" width="178.9" height="4.6" fill="url(#c225)"/>
<rect x="421.1" y="509.6" width="178.9" height="4.6" fill="url(#c226)"/>
<rect x="421.1" y="513.6" width="178.9" height="4.6" fill="url(#c227)"/>
<rect x="421.1" y="517.6" width="178.9" height="4.6" fill="url(#c228)"/>
<rect x="421.1" y="521.6" width="178.9" height="4.6" fill="url(#c229)"/>
<rect x="421.1" y="525.6" width="178.9" height="4.6" fill="url(#c230)"/>
<rect x="421.1" y="529.6" width="178.9" height="4.6" fill="url(#c231)"/>
<rect x="421.1" y="533.6" width="178.9" height="4.6" fill="url(#c232)"/>
<rect x="421.1" y="537.6" width="178.9" height="4.6" fill="url(#c233)"/>
<rect x="421.1" y="541.6" width="178.9" height="4.6" fill="url(#c234)"/>
<rect x="421.1" y="545.6" width="178.9" height="4.6" fill="url(#c235)"/>
<rect x="421.1" y="549.6" width="178.9" height="4.6" fill="url(#c236)"/>
<rect x="421.1" y="553.6" width="178.9" height="4.6" fill="url(#c237)"/>
<rect x="421.1" y="557.6" width="178.9" height="4.6" fill="url(#c238)"/>
<rect x="421.1" y="561.6" width="178.9" height="4.6" fill="url(#c239)"/>
<rect x="421.1" y="565.6" width="178.9" height="4.6" fill="url(#c240)"/>
<rect x="421.1" y="569.6" width="178.9" height="4.6" fill="url(#c241)"/>
<rect x="421.1" y="573.6" width="178.9" height="4.6" fill="url(#c242)"/>
<rect x="421.1" y="577.6" width="178.9" height="4.6" fill="url(#c243)"/>
<rect x="421.1" y="581.6" width="178.9" height="2.3" fill="url(#c244)"/>
<polyline points="486.8,405.6 487.0,407.1 487.2,408.6 487.4,410.1 487.6,411.5 487.7,413.0 487.9,414.5 488.0,416.0 488.2,417.5 488.3,419.0 488.4,420.5 488.5,421.9 488.6,423.4 488.7,424.9 488.8,426.4 488.9,427.9 488.9,429.4 489.0,430.9 489.1,432.3 489.1,433.8 489.2,435.3 489.2,436.8 489.2,438.3 489.2,439.8 489.2,441.3 489.2,442.7 489.2,444.2 489.2,445.7 489.2,447.2 489.1,448.7 489.1,450.2 489.0,451.7 489.0,453.1 488.9,454.6 488.8,456.1 488.7,457.6 488.6,459.1 488.5,460.6 488.4,462.1 488.3,463.5 488.2,465.0 488.0,466.5 487.9,468.0 487.7,469.5 487.5,471.0 487.4,472.5 487.2,473.9 487.0,475.4 486.8,476.9 486.6,478.4 486.4,479.9 486.1,481.4 485.9,482.9 485.7,484.3 485.4,485.8 485.1,487.3 484.9,488.8 484.6,490.3 484.3,491.8 484.0,493.3 483.7,494.8 483.3,496.2 483.0,497.7 482.7,499.2 482.3,500.7 481.9,502.2 481.6,503.7 481.2,505.2 480.8,506.6 480.4,508.1 480.0,509.6 479.5,511.1 479.1,512.6 478.7,514.1 478.2,515.6 477.7,517.0 477.2,518.5 476.8,520.0 476.3,521.5 475.7,523.0 475.2,524.5 474.7,526.0 474.1,527.4 473.6,528.9 473.0,530.4 472.4,531.9 471.8,533.4 471.2,534.9 470.6,536.4 469.9,537.8 469.3,539.3 468.6,540.8 468.0,542.3 467.3,543.8 466.6,545.3 465.9,546.8 465.1,548.2 464.4,549.7 463.6,551.2 462.9,552.7 462.1,554.2 461.3,555.7 460.4,557.2 459.6,558.6 458.8,560.1 457.9,561.6 457.0,563.1 456.1,564.6 455.2,566.1 454.3,567.6 453.3,569.0 452.3,570.5 451.4,572.0 450.3,573.5 449.3,575.0 448.3,576.5 447.2,578.0 446.1,579.4 445.0,580.9 443.9,582.4 442.7,583.9" fill="none" stroke="#1a1a1a" stroke-width="0.75"/>
<polyline points="541.9,405.6 542.0,407.1 542.2,408.6 542.4,410.1 542.6,411.5 542.7,413.0 542.9,414.5 543.0,416.0 543.2,417.5 543.3,419.0 543.5,420.5 543.6,421.9 543.7,423.4 543.8,424.9 543.9,426.4 544.0,427.9 544.1,429.4 544.2,430.9 544.3,432.3 544.3,433.8 544.4,435.3 544.5,436.8 544.5,438.3 544.5,439.8 544.6,441.3 544.6,442.7 544.6,444.2 544.7,445.7 544.7,447.2 544.7,448.7 544.7,450.2 544.7,451.7 544.7,453.1 544.6,454.6 544.6,456.1 544.6,457.6 544.5,459.1 544.5,460.6 544.4,462.1 544.4,463.5 544.3,465.0 544.2,466.5 544.1,468.0 544.1,469.5 544.0,471.0 543.9,472.5 543.7,473.9 543.6,475.4 543.5,476.9 543.4,478.4 543.2,479.9 543.1,481.4 542.9,482.9 542.8,484.3 542.6,485.8 542.4,487.3 542.3,488.8 542.1,490.3 541.9,491.8 541.7,493.3 541.5,494.8 541.3,496.2 541.0,497.7 540.8,499.2 540.6,500.7 540.3,502.2 540.1,503.7 539.8,505.2 539.5,506.6 539.3,508.1 539.0,509.6 538.7,511.1 538.4,512.6 538.1,514.1 537.8,515.6 537.4,517.0 537.1,518.5 536.8,520.0 536.4,521.5 536.1,523.0 535.7,524.5 535.3,526.0 535.0,527.4 534.6,528.9 534.2,530.4 533.8,531.9 533.4,533.4 532.9,534.9 532.5,536.4 532.1,537.8 531.6,539.3 531.2,540.8 530.7,542.3 530.2,543.8 529.8,545.3 529.3,546.8 528.8,548.2 528.3,549.7 527.7,551.2 527.2,552.7 526.7,554.2 526.1,555.7 525.6,557.2 525.0,558.6 524.4,560.1 523.9,561.6 523.3,563.1 522.7,564.6 522.1,566.1 521.4,567.6 520.8,569.0 520.2,570.5 519.5,572.0 518.8,573.5 518.2,575.0 517.5,576.5 516.8,578.0 516.1,579.4 515.3,580.9 514.6,582.4 513.9,583.9" fill="none" stroke="#1a1a1a" stroke-width="0.75"/>
<polyline points="587.7,405.6 587.8,407.1 588.0,408.6 588.2,410.1 588.4,411.5 588.5,413.0 588.7,414.5 588.8,416.0 589.0,417.5 589.1,419.0 589.3,420.5 589.4,421.9 589.5,423.4 589.6,424.9 589.8,426.4 589.9,427.9 590.0,429.4 590.1,430.9 590.2,432.3 590.2,433.8 590.3,435.3 590.4,436.8 590.5,438.3 590.5,439.8 590.6,441.3 590.6,442.7 590.7,444.2 590.7,445.7 590.8,447.2 590.8,448.7 590.8,450.2 590.8,451.7 590.9,453.1 590.9,454.6 590.9,456.1 590.9,457.6 590.8,459.1 590.8,460.6 590.8,462.1 590.8,463.5 590.7,465.0 590.7,466.5 590.7,468.0 590.6,469.5 590.6,471.0 590.5,472.5 590.4,473.9 590.4,475.4 590.3,476.9 590.2,478.4 590.1,479.9 590.0,481.4 589.9,482.9 589.8,484.3 589.7,485.8 589.5,487.3 589.4,488.8 589.3,490.3 589.1,491.8 589.0,493.3 588.8,494.8 588.7,496.2 588.5,497.7 588.4,499.2 588.2,500.7 588.0,502.2 587.8,503.7 587.6,505.2 587.4,506.6 587.2,508.1 587.0,509.6 586.8,511.1 586.6,512.6 586.3,514.1 586.1,515.6 585.8,517.0 585.6,518.5 585.3,520.0 585.1,521.5 584.8,523.0 584.5,524.5 584.2,526.0 583.9,527.4 583.6,528.9 583.3,530.4 583.0,531.9 582.7,533.4 582.4,534.9 582.1,536.4 581.7,537.8 581.4,539.3 581.0,540.8 580.7,542.3 580.3,543.8 579.9,545.3 579.5,546.8 579.2,548.2 578.8,549.7 578.4,551.2 578.0,552.7 577.5,554.2 577.1,555.7 576.7,557.2 576.3,558.6 575.8,560.1 575.4,561.6 574.9,563.1 574.4,564.6 574.0,566.1 573.5,567.6 573.0,569.0 572.5,570.5 572.0,572.0 571.5,573.5 571.0,575.0 570.4,576.5 569.9,578.0 569.3,579.4 568.8,580.9 568.2,582.4 567.7,583.9" fill="none" stroke="#1a1a1a" stroke-width="0.75"/>
<rect x="477.8" y="501.0" width="6.2" height="5.2" fill="#f4f4f4" stroke="#555" stroke-width="0.5"/>
<text x="480.9" y="505.1" font-family='"Liberation Sans", sans-serif' font-size="4" text-anchor="middle" fill="#444" textLength="4.4" lengthAdjust="spacingAndGlyphs">65</text>
<rect x="536.9" y="498.8" width="6.2" height="5.2" fill="#f4f4f4" stroke="#555" stroke-width="0.5"/>
<text x="540" y="502.9" font-family='"Liberation Sans", sans-serif' font-size="4" text-anchor="middle" fill="#444" textLength="4.4" lengthAdjust="spacingAndGlyphs">60</text>
<rect x="585.1" y="496.4" width="6.2" height="5.2" fill="#f4f4f4" stroke="#555" stroke-width="0.5"/>
<text x="588.2" y="500.5" font-family='"Liberation Sans", sans-serif' font-size="4" text-anchor="middle" fill="#444" textLength="4.4" lengthAdjust="spacingAndGlyphs">55</text>
<circle cx="510.6" cy="494.8" r="2.1" fill="#c00000" stroke="#400" stroke-width="0.5"/>
<text x="506.4" y="496.2" font-family='"Liberation Sans", sans-serif' font-size="3.8" text-anchor="middle" fill="#222">6</text>
<line x1="421.1" y1="583.9" x2="421.1" y2="587.4" stroke="#444" stroke-width="0.8"/>
<text x="421.1" y="594" font-family='"Liberation Sans", sans-serif' font-size="4.3" text-anchor="middle" fill="#333">0.5</text>
<line x1="456.9" y1="583.9" x2="456.9" y2="587.4" stroke="#444" stroke-width="0.8"/>
<text x="456.9" y="594" font-family='"Liberation Sans", sans-serif' font-size="4.3" text-anchor="middle" fill="#333">0.6</text>
<line x1="492.7" y1="583.9" x2="492.7" y2="587.4" stroke="#444" stroke-width="0.8"/>
<text x="492.7" y="594" font-family='"Liberation Sans", sans-serif' font-size="4.3" text-anchor="middle" fill="#333">0.7</text>
<line x1="528.4" y1="583.9" x2="528.4" y2="587.4" stroke="#444" stroke-width="0.8"/>
<text x="528.4" y="594" font-family='"Liberation Sans", sans-serif' font-size="4.3" text-anchor="middle" fill="#333">0.8</text>
<line x1="564.2" y1="583.9" x2="564.2" y2="587.4" stroke="#444" stroke-width="0.8"/>
<text x="564.2" y="594" font-family='"Liberation Sans", sans-serif' font-size="4.3" text-anchor="middle" fill="#333">0.9</text>
<line x1="600.0" y1="583.9" x2="600.0" y2="587.4" stroke="#444" stroke-width="0.8"/>
<text x="600" y="594" font-family='"Liberation Sans", sans-serif' font-size="4.3" text-anchor="middle" fill="#333">1</text>
<line x1="417.1" y1="405.6" x2="421.1" y2="405.6" stroke="#444" stroke-width="0.8"/>
<text x="413.1" y="407.1" font-family='"Liberation Sans", sans-serif' font-size="4.3" text-anchor="middle" fill="#333">70</text>
<line x1="417.1" y1="441.3" x2="421.1" y2="441.3" stroke="#444" stroke-width="0.8"/>
<text x="413.1" y="442.8" font-family='"Liberation Sans", sans-serif' font-size="4.3" text-anchor="middle" fill="#333">68</text>
<line x1="417.1" y1="476.9" x2="421.1" y2="476.9" stroke="#444" stroke-width="0.8"/>
<text x="413.1" y="478.4" font-family='"Liberation Sans", sans-serif' font-size="4.3" text-anchor="middle" fill="#333">66</text>
<line x1="417.1" y1="512.6" x2="421.1" y2="512.6" stroke="#444" stroke-width="0.8"/>
<text x="413.1" y="514.1" font-family='"Liberation Sans", sans-serif' font-size="4.3" text-anchor="middle" fill="#333">64</text>
<line x1="417.1" y1="548.2" x2="421.1" y2="548.2" stroke="#444" stroke-width="0.8"/>
<text x="413.1" y="549.7" font-family='"Liberation Sans", sans-serif' font-size="4.3" text-anchor="middle" fill="#333">62</text>
<line x1="417.1" y1="583.9" x2="421.1" y2="583.9" stroke="#444" stroke-width="0.8"/>
<text x="413.1" y="585.4" font-family='"Liberation Sans", sans-serif' font-size="4.3" text-anchor="middle" fill="#333">60</text>
<rect x="421.1" y="405.6" width="178.9" height="178.3" fill="none" stroke="#555" stroke-width="0.9"/>
<text x="422.7" y="414.6" font-family='"Liberation Serif", serif' font-size="9.3" text-anchor="start" fill="#000">(k)</text>
<text x="512.5" y="603.2" font-family='"Liberation Serif", serif' font-size="6.5" text-anchor="middle" fill="#111" textLength="52.7" lengthAdjust="spacingAndGlyphs">Particle size (<tspan font-style="italic">X</tspan><tspan font-size="4" dy="1">1</tspan><tspan dy="-1">: mm)</tspan></text>
<text x="405.9" y="492.4" font-family='"Liberation Serif", serif' font-size="6.5" text-anchor="middle" fill="#111" transform="rotate(-90 405.9 492.4)" textLength="53.0" lengthAdjust="spacingAndGlyphs">Temperature (<tspan font-style="italic">X</tspan><tspan font-size="4" dy="1">2</tspan><tspan dy="-1">: °C)</tspan></text>
<polyline points="631.5,509.0 708.9,483.0 787.1,509.0" fill="none" stroke="#3c3c3c" stroke-width="0.75"/>
<polyline points="630.6,489.0 708.9,464.7 787.9,489.0" fill="none" stroke="#3c3c3c" stroke-width="0.75"/>
<polyline points="629.7,469.0 708.9,446.4 788.8,469.0" fill="none" stroke="#3c3c3c" stroke-width="0.75"/>
<polyline points="628.8,449.0 708.9,428.1 789.6,449.0" fill="none" stroke="#3c3c3c" stroke-width="0.75"/>
<polyline points="627.9,429.0 708.9,409.8 790.5,429.0" fill="none" stroke="#3c3c3c" stroke-width="0.75"/>
<polyline points="647.0,503.8 644.1,425.2" fill="none" stroke="#3c3c3c" stroke-width="0.75"/>
<polyline points="662.5,498.6 660.3,421.3" fill="none" stroke="#3c3c3c" stroke-width="0.75"/>
<polyline points="678.0,493.4 676.5,417.5" fill="none" stroke="#3c3c3c" stroke-width="0.75"/>
<polyline points="693.4,488.2 692.7,413.7" fill="none" stroke="#3c3c3c" stroke-width="0.75"/>
<polyline points="724.5,488.2 725.2,413.7" fill="none" stroke="#3c3c3c" stroke-width="0.75"/>
<polyline points="740.2,493.4 741.5,417.5" fill="none" stroke="#3c3c3c" stroke-width="0.75"/>
<polyline points="755.8,498.6 757.8,421.3" fill="none" stroke="#3c3c3c" stroke-width="0.75"/>
<polyline points="771.4,503.8 774.2,425.2" fill="none" stroke="#3c3c3c" stroke-width="0.75"/>
<polyline points="632.7,534.0 627.9,429.0" fill="none" stroke="#333" stroke-width="0.8"/>
<polyline points="708.9,505.9 708.9,409.8" fill="none" stroke="#333" stroke-width="0.8"/>
<polyline points="786.0,534.0 790.5,429.0" fill="none" stroke="#333" stroke-width="0.8"/>
<circle cx="631.5" cy="509.0" r="0.8" fill="#111"/>
<text x="628.5" y="507.4" font-family='"Liberation Sans", sans-serif' font-size="5.6" text-anchor="end" fill="#333">40</text>
<circle cx="630.6" cy="489.0" r="0.8" fill="#111"/>
<text x="627.6" y="487.4" font-family='"Liberation Sans", sans-serif' font-size="5.6" text-anchor="end" fill="#333">50</text>
<circle cx="629.7" cy="469.0" r="0.8" fill="#111"/>
<text x="626.7" y="467.4" font-family='"Liberation Sans", sans-serif' font-size="5.6" text-anchor="end" fill="#333">60</text>
<circle cx="628.8" cy="449.0" r="0.8" fill="#111"/>
<text x="625.8" y="447.4" font-family='"Liberation Sans", sans-serif' font-size="5.6" text-anchor="end" fill="#333">70</text>
<circle cx="627.9" cy="429.0" r="0.8" fill="#111"/>
<text x="624.9" y="427.4" font-family='"Liberation Sans", sans-serif' font-size="5.6" text-anchor="end" fill="#333">80</text>
<polygon points="632.7,534.0 708.9,505.9 786.0,534.0 708.9,571.1" fill="#666666" stroke="#1a1a1a" stroke-width="0.9"/>
<polyline points="753.3,522.0 753.9,522.5 754.6,523.0 755.3,523.5 756.0,523.9 756.7,524.4 757.3,524.9 758.0,525.4 758.7,525.9 759.4,526.4 760.0,526.8 760.7,527.3 761.4,527.8 762.0,528.3 762.7,528.8 763.4,529.3 764.0,529.8 764.7,530.3 765.4,530.8 766.0,531.3 766.7,531.8 767.3,532.3 768.0,532.8 768.6,533.3 769.3,533.8 769.9,534.3 770.6,534.8 771.2,535.3 771.9,535.8 772.5,536.4 773.2,536.9 773.8,537.4 774.4,537.9 775.1,538.4 775.7,538.9" fill="none" stroke="#22c07a" stroke-width="1.35"/>
<polyline points="706.9,506.6 707.7,507.1 708.5,507.5 709.3,507.9 710.1,508.3 710.9,508.7 711.7,509.1 712.5,509.5 713.3,510.0 714.1,510.4 714.9,510.8 715.7,511.2 716.5,511.7 717.2,512.1 718.0,512.5 718.8,512.9 719.6,513.4 720.3,513.8 721.1,514.2 721.9,514.7 722.7,515.1 723.4,515.6 724.2,516.0 724.9,516.4 725.7,516.9 726.4,517.3 727.2,517.8 728.0,518.2 728.7,518.7 729.4,519.1 730.2,519.6 730.9,520.0 731.7,520.5 732.4,520.9 733.1,521.4 733.9,521.9 734.6,522.3 735.3,522.8 736.1,523.2 736.8,523.7 737.5,524.2 738.2,524.6 739.0,525.1 739.7,525.6 740.4,526.1 741.1,526.5 741.8,527.0 742.5,527.5 743.2,528.0 744.0,528.4 744.7,528.9 745.4,529.4 746.1,529.9 746.8,530.4 747.5,530.9 748.2,531.4 748.9,531.8 749.5,532.3 750.2,532.8 750.9,533.3 751.6,533.8 752.3,534.3 753.0,534.8 753.7,535.3 754.4,535.8 755.0,536.3 755.7,536.8 756.4,537.3 757.1,537.9 757.7,538.4 758.4,538.9 759.1,539.4 759.8,539.9 760.4,540.4 761.1,540.9 761.8,541.5 762.4,542.0 763.1,542.5 763.7,543.0 764.4,543.5 765.1,544.1" fill="none" stroke="#33cc33" stroke-width="1.35"/>
<polyline points="692.2,512.1 693.1,512.5 693.9,512.9 694.8,513.3 695.7,513.7 696.5,514.1 697.4,514.5 698.2,514.9 699.1,515.4 700.0,515.8 700.8,516.2 701.6,516.6 702.5,517.1 703.3,517.5 704.2,517.9 705.0,518.3 705.8,518.8 706.6,519.2 707.5,519.6 708.3,520.1 709.1,520.5 709.9,520.9 710.7,521.4 711.5,521.8 712.3,522.3 713.1,522.7 713.9,523.2 714.7,523.6 715.5,524.1 716.3,524.5 717.1,525.0 717.9,525.4 718.6,525.9 719.4,526.3 720.2,526.8 721.0,527.2 721.8,527.7 722.5,528.2 723.3,528.6 724.1,529.1 724.8,529.6 725.6,530.0 726.3,530.5 727.1,531.0 727.8,531.5 728.6,531.9 729.3,532.4 730.1,532.9 730.8,533.4 731.6,533.9 732.3,534.3 733.1,534.8 733.8,535.3 734.5,535.8 735.3,536.3 736.0,536.8 736.7,537.3 737.4,537.8 738.2,538.3 738.9,538.8 739.6,539.3 740.3,539.8 741.0,540.3 741.7,540.8 742.5,541.3 743.2,541.8 743.9,542.3 744.6,542.8 745.3,543.3 746.0,543.8 746.7,544.4 747.4,544.9 748.1,545.4 748.8,545.9 749.5,546.4 750.2,547.0 750.9,547.5 751.5,548.0 752.2,548.5 752.9,549.1 753.6,549.6" fill="none" stroke="#88dd22" stroke-width="1.35"/>
<polyline points="675.7,518.2 676.6,518.6 677.6,518.9 678.6,519.3 679.5,519.7 680.5,520.1 681.5,520.5 682.4,521.0 683.3,521.4 684.3,521.8 685.2,522.2 686.1,522.6 687.1,523.0 688.0,523.4 688.9,523.8 689.8,524.3 690.7,524.7 691.6,525.1 692.5,525.5 693.4,526.0 694.3,526.4 695.2,526.8 696.0,527.3 696.9,527.7 697.8,528.1 698.6,528.6 699.5,529.0 700.4,529.5 701.2,529.9 702.1,530.3 702.9,530.8 703.8,531.2 704.6,531.7 705.4,532.1 706.3,532.6 707.1,533.1 707.9,533.5 708.8,534.0 709.6,534.4 710.4,534.9 711.2,535.4 712.0,535.8 712.8,536.3 713.6,536.8 714.4,537.2 715.2,537.7 716.0,538.2 716.8,538.7 717.6,539.2 718.4,539.6 719.2,540.1 720.0,540.6 720.7,541.1 721.5,541.6 722.3,542.1 723.1,542.6 723.8,543.0 724.6,543.5 725.4,544.0 726.1,544.5 726.9,545.0 727.7,545.5 728.4,546.0 729.2,546.5 729.9,547.0 730.7,547.6 731.4,548.1 732.1,548.6 732.9,549.1 733.6,549.6 734.4,550.1 735.1,550.6 735.8,551.2 736.5,551.7 737.3,552.2 738.0,552.7 738.7,553.2 739.4,553.8 740.2,554.3 740.9,554.8 741.6,555.4" fill="none" stroke="#dddd22" stroke-width="1.35"/>
<polyline points="654.6,525.9 655.8,526.3 657.0,526.6 658.1,527.0 659.3,527.3 660.4,527.7 661.6,528.0 662.7,528.4 663.8,528.8 664.9,529.2 666.0,529.5 667.1,529.9 668.1,530.3 669.2,530.7 670.3,531.1 671.3,531.5 672.4,531.9 673.4,532.3 674.4,532.7 675.4,533.1 676.4,533.5 677.4,533.9 678.4,534.3 679.4,534.7 680.4,535.1 681.4,535.5 682.4,536.0 683.3,536.4 684.3,536.8 685.2,537.2 686.2,537.7 687.1,538.1 688.1,538.5 689.0,539.0 689.9,539.4 690.8,539.9 691.7,540.3 692.7,540.8 693.6,541.2 694.5,541.7 695.4,542.1 696.3,542.6 697.1,543.0 698.0,543.5 698.9,543.9 699.8,544.4 700.6,544.9 701.5,545.3 702.4,545.8 703.2,546.3 704.1,546.7 704.9,547.2 705.8,547.7 706.6,548.2 707.5,548.7 708.3,549.1 709.1,549.6 710.0,550.1 710.8,550.6 711.6,551.1 712.4,551.6 713.2,552.1 714.0,552.6 714.9,553.1 715.7,553.6 716.5,554.1 717.3,554.6 718.1,555.1 718.8,555.6 719.6,556.1 720.4,556.6 721.2,557.1 722.0,557.7 722.8,558.2 723.5,558.7 724.3,559.2 725.1,559.7 725.8,560.3 726.6,560.8 727.4,561.3 728.1,561.8" fill="none" stroke="#e8a424" stroke-width="1.35"/>
<circle cx="647.9" cy="541.4" r="0.7" fill="#111"/>
<circle cx="724.3" cy="563.7" r="0.7" fill="#111"/>
<circle cx="663.2" cy="548.8" r="0.7" fill="#111"/>
<circle cx="739.7" cy="556.3" r="0.7" fill="#111"/>
<circle cx="678.4" cy="556.3" r="0.7" fill="#111"/>
<circle cx="755.2" cy="548.8" r="0.7" fill="#111"/>
<circle cx="693.7" cy="563.7" r="0.7" fill="#111"/>
<circle cx="770.6" cy="541.4" r="0.7" fill="#111"/>
<text x="627" y="540" font-family='"Liberation Sans", sans-serif' font-size="5.8" text-anchor="middle" fill="#333">45</text>
<text x="642.2" y="547.4" font-family='"Liberation Sans", sans-serif' font-size="5.8" text-anchor="middle" fill="#333">43</text>
<text x="657.5" y="554.8" font-family='"Liberation Sans", sans-serif' font-size="5.8" text-anchor="middle" fill="#333">41</text>
<text x="672.7" y="562.3" font-family='"Liberation Sans", sans-serif' font-size="5.8" text-anchor="middle" fill="#333">39</text>
<text x="688" y="569.7" font-family='"Liberation Sans", sans-serif' font-size="5.8" text-anchor="middle" fill="#333">37</text>
<text x="703.2" y="577.1" font-family='"Liberation Sans", sans-serif' font-size="5.8" text-anchor="middle" fill="#333">35</text>
<text x="715.2" y="576.6" font-family='"Liberation Sans", sans-serif' font-size="5.8" text-anchor="middle" fill="#333">0.5</text>
<text x="730.6" y="569.2" font-family='"Liberation Sans", sans-serif' font-size="5.8" text-anchor="middle" fill="#333">0.6</text>
<text x="746" y="561.8" font-family='"Liberation Sans", sans-serif' font-size="5.8" text-anchor="middle" fill="#333">0.7</text>
<text x="761.5" y="554.3" font-family='"Liberation Sans", sans-serif' font-size="5.8" text-anchor="middle" fill="#333">0.8</text>
<text x="776.9" y="546.9" font-family='"Liberation Sans", sans-serif' font-size="5.8" text-anchor="middle" fill="#333">0.9</text>
<text x="789.4" y="539.5" font-family='"Liberation Sans", sans-serif' font-size="5.8" text-anchor="middle" fill="#333">1</text>
<path d="M704.0 454.0 708.9 454.5 713.9 456.3 708.9 455.7" fill="#44b132" stroke="#44b132" stroke-width=".7"/>
<path d="M699.0 453.5 704.0 454.0 708.9 455.7 704.0 455.2" fill="#4bb532" stroke="#4bb532" stroke-width=".7"/>
<path d="M708.9 455.7 713.9 456.3 718.8 458.2 713.9 457.6" fill="#43b031" stroke="#43b031" stroke-width=".7"/>
<path d="M694.1 453.1 699.0 453.5 704.0 455.2 699.1 454.8" fill="#51b933" stroke="#51b933" stroke-width=".7"/>
<path d="M704.0 455.2 708.9 455.7 713.9 457.6 709.0 457.0" fill="#4ab432" stroke="#4ab432" stroke-width=".7"/>
<path d="M713.9 457.6 718.8 458.2 723.8 460.1 718.9 459.4" fill="#42af31" stroke="#42af31" stroke-width=".7"/>
<path d="M689.1 452.7 694.1 453.1 699.1 454.8 694.1 454.4" fill="#62be34" stroke="#62be34" stroke-width=".7"/>
<path d="M699.1 454.8 704.0 455.2 709.0 457.0 704.0 456.6" fill="#51b833" stroke="#51b833" stroke-width=".7"/>
<path d="M709.0 457.0 713.9 457.6 718.9 459.4 713.9 458.9" fill="#49b432" stroke="#49b432" stroke-width=".7"/>
<path d="M718.9 459.4 723.8 460.1 728.8 462.0 723.8 461.4" fill="#41ae31" stroke="#41ae31" stroke-width=".7"/>
<path d="M684.1 452.5 689.1 452.7 694.1 454.4 689.1 454.1" fill="#82c736" stroke="#82c736" stroke-width=".7"/>
<path d="M694.1 454.4 699.1 454.8 704.0 456.6 699.1 456.2" fill="#5fbd34" stroke="#5fbd34" stroke-width=".7"/>
<path d="M704.0 456.6 709.0 457.0 713.9 458.9 709.0 458.4" fill="#50b833" stroke="#50b833" stroke-width=".7"/>
<path d="M713.9 458.9 718.9 459.4 723.8 461.4 718.9 460.8" fill="#48b332" stroke="#48b332" stroke-width=".7"/>
<path d="M723.8 461.4 728.8 462.0 733.7 464.0 728.8 463.3" fill="#3fad31" stroke="#3fad31" stroke-width=".7"/>
<path d="M679.2 452.3 684.1 452.5 689.1 454.1 684.1 453.9" fill="#a1cf39" stroke="#a1cf39" stroke-width=".7"/>
<path d="M689.1 454.1 694.1 454.4 699.1 456.2 694.1 455.8" fill="#7fc636" stroke="#7fc636" stroke-width=".7"/>
<path d="M699.1 456.2 704.0 456.6 709.0 458.4 704.0 457.9" fill="#5abc34" stroke="#5abc34" stroke-width=".7"/>
<path d="M709.0 458.4 713.9 458.9 718.9 460.8 714.0 460.2" fill="#4fb733" stroke="#4fb733" stroke-width=".7"/>
<path d="M718.9 460.8 723.8 461.4 728.8 463.3 723.9 462.7" fill="#46b232" stroke="#46b232" stroke-width=".7"/>
<path d="M728.8 463.3 733.7 464.0 738.7 466.1 733.8 465.4" fill="#3dac30" stroke="#3dac30" stroke-width=".7"/>
<path d="M674.2 452.1 679.2 452.3 684.1 453.9 679.2 453.7" fill="#c0d73c" stroke="#c0d73c" stroke-width=".7"/>
<path d="M684.1 453.9 689.1 454.1 694.1 455.8 689.1 455.6" fill="#9fcf39" stroke="#9fcf39" stroke-width=".7"/>
<path d="M694.1 455.8 699.1 456.2 704.0 457.9 699.1 457.6" fill="#7cc536" stroke="#7cc536" stroke-width=".7"/>
<path d="M704.0 457.9 709.0 458.4 714.0 460.2 709.0 459.8" fill="#55bb33" stroke="#55bb33" stroke-width=".7"/>
<path d="M714.0 460.2 718.9 460.8 723.9 462.7 718.9 462.1" fill="#4db632" stroke="#4db632" stroke-width=".7"/>
<path d="M723.9 462.7 728.8 463.3 733.8 465.4 728.8 464.7" fill="#45b132" stroke="#45b132" stroke-width=".7"/>
<path d="M733.8 465.4 738.7 466.1 743.6 468.2 738.7 467.4" fill="#3caa30" stroke="#3caa30" stroke-width=".7"/>
<path d="M669.2 452.1 674.2 452.1 679.2 453.7 674.2 453.6" fill="#dede3e" stroke="#dede3e" stroke-width=".7"/>
<path d="M679.2 453.7 684.1 453.9 689.1 455.6 684.1 455.4" fill="#c0d73c" stroke="#c0d73c" stroke-width=".7"/>
<path d="M689.1 455.6 694.1 455.8 699.1 457.6 694.1 457.3" fill="#9dce39" stroke="#9dce39" stroke-width=".7"/>
<path d="M699.1 457.6 704.0 457.9 709.0 459.8 704.1 459.4" fill="#78c436" stroke="#78c436" stroke-width=".7"/>
<path d="M709.0 459.8 714.0 460.2 718.9 462.1 714.0 461.6" fill="#54ba33" stroke="#54ba33" stroke-width=".7"/>
<path d="M718.9 462.1 723.9 462.7 728.8 464.7 723.9 464.1" fill="#4cb532" stroke="#4cb532" stroke-width=".7"/>
<path d="M728.8 464.7 733.8 465.4 738.7 467.4 733.8 466.7" fill="#43b031" stroke="#43b031" stroke-width=".7"/>
<path d="M738.7 467.4 743.6 468.2 748.6 470.4 743.7 469.6" fill="#3aa72f" stroke="#3aa72f" stroke-width=".7"/>
<path d="M664.2 452.1 669.2 452.1 674.2 453.6 669.2 453.6" fill="#e9da3d" stroke="#e9da3d" stroke-width=".7"/>
<path d="M674.2 453.6 679.2 453.7 684.1 455.4 679.1 455.2" fill="#dede3e" stroke="#dede3e" stroke-width=".7"/>
<path d="M684.1 455.4 689.1 455.6 694.1 457.3 689.1 457.0" fill="#bed63b" stroke="#bed63b" stroke-width=".7"/>
<path d="M694.1 457.3 699.1 457.6 704.1 459.4 699.1 459.0" fill="#99cd38" stroke="#99cd38" stroke-width=".7"/>
<path d="M704.1 459.4 709.0 459.8 714.0 461.6 709.0 461.2" fill="#73c335" stroke="#73c335" stroke-width=".7"/>
<path d="M714.0 461.6 718.9 462.1 723.9 464.1 719.0 463.6" fill="#53b933" stroke="#53b933" stroke-width=".7"/>
<path d="M723.9 464.1 728.8 464.7 733.8 466.7 728.9 466.1" fill="#4ab432" stroke="#4ab432" stroke-width=".7"/>
<path d="M733.8 466.7 738.7 467.4 743.7 469.6 738.8 468.8" fill="#41af31" stroke="#41af31" stroke-width=".7"/>
<path d="M743.7 469.6 748.6 470.4 753.5 472.6 748.6 471.7" fill="#39a52e" stroke="#39a52e" stroke-width=".7"/>
<path d="M659.2 452.1 664.2 452.1 669.2 453.6 664.1 453.6" fill="#f1d43c" stroke="#f1d43c" stroke-width=".7"/>
<path d="M669.2 453.6 674.2 453.6 679.1 455.2 674.1 455.2" fill="#eada3d" stroke="#eada3d" stroke-width=".7"/>
<path d="M679.1 455.2 684.1 455.4 689.1 457.0 684.1 456.9" fill="#dede3e" stroke="#dede3e" stroke-width=".7"/>
<path d="M689.1 457.0 694.1 457.3 699.1 459.0 694.1 458.8" fill="#bcd63b" stroke="#bcd63b" stroke-width=".7"/>
<path d="M699.1 459.0 704.1 459.4 709.0 461.2 704.1 460.8" fill="#95cc38" stroke="#95cc38" stroke-width=".7"/>
<path d="M709.0 461.2 714.0 461.6 719.0 463.6 714.0 463.1" fill="#6dc135" stroke="#6dc135" stroke-width=".7"/>
<path d="M719.0 463.6 723.9 464.1 728.9 466.1 723.9 465.5" fill="#51b933" stroke="#51b933" stroke-width=".7"/>
<path d="M728.9 466.1 733.8 466.7 738.8 468.8 733.8 468.2" fill="#49b332" stroke="#49b332" stroke-width=".7"/>
<path d="M738.8 468.8 743.7 469.6 748.6 471.7 743.7 471.0" fill="#3fae31" stroke="#3fae31" stroke-width=".7"/>
<path d="M748.6 471.7 753.5 472.6 758.4 474.8 753.6 474.0" fill="#37a32e" stroke="#37a32e" stroke-width=".7"/>
<path d="M654.1 452.3 659.2 452.1 664.1 453.6 659.1 453.7" fill="#f8cf3b" stroke="#f8cf3b" stroke-width=".7"/>
<path d="M664.1 453.6 669.2 453.6 674.1 455.2 669.1 455.2" fill="#f1d43c" stroke="#f1d43c" stroke-width=".7"/>
<path d="M674.1 455.2 679.1 455.2 684.1 456.9 679.1 456.8" fill="#eada3d" stroke="#eada3d" stroke-width=".7"/>
<path d="M684.1 456.9 689.1 457.0 694.1 458.8 689.1 458.5" fill="#ddde3e" stroke="#ddde3e" stroke-width=".7"/>
<path d="M694.1 458.8 699.1 459.0 704.1 460.8 699.1 460.5" fill="#b9d53b" stroke="#b9d53b" stroke-width=".7"/>
<path d="M704.1 460.8 709.0 461.2 714.0 463.1 709.1 462.7" fill="#90cb37" stroke="#90cb37" stroke-width=".7"/>
<path d="M714.0 463.1 719.0 463.6 723.9 465.5 719.0 465.0" fill="#67c034" stroke="#67c034" stroke-width=".7"/>
<path d="M723.9 465.5 728.9 466.1 733.8 468.2 728.9 467.6" fill="#50b833" stroke="#50b833" stroke-width=".7"/>
<path d="M733.8 468.2 738.8 468.8 743.7 471.0 738.8 470.3" fill="#47b232" stroke="#47b232" stroke-width=".7"/>
<path d="M743.7 471.0 748.6 471.7 753.6 474.0 748.7 473.2" fill="#3dab30" stroke="#3dab30" stroke-width=".7"/>
<path d="M753.6 474.0 758.4 474.8 763.3 477.2 758.5 476.3" fill="#35a02d" stroke="#35a02d" stroke-width=".7"/>
<path d="M649.1 452.5 654.1 452.3 659.1 453.7 654.1 453.9" fill="#fdc839" stroke="#fdc839" stroke-width=".7"/>
<path d="M659.1 453.7 664.1 453.6 669.1 455.2 664.1 455.2" fill="#f9ce3b" stroke="#f9ce3b" stroke-width=".7"/>
<path d="M669.1 455.2 674.1 455.2 679.1 456.8 674.1 456.7" fill="#f2d43c" stroke="#f2d43c" stroke-width=".7"/>
<path d="M679.1 456.8 684.1 456.9 689.1 458.5 684.1 458.4" fill="#eada3d" stroke="#eada3d" stroke-width=".7"/>
<path d="M689.1 458.5 694.1 458.8 699.1 460.5 694.1 460.3" fill="#dadd3e" stroke="#dadd3e" stroke-width=".7"/>
<path d="M699.1 460.5 704.1 460.8 709.1 462.7 704.1 462.3" fill="#b5d43b" stroke="#b5d43b" stroke-width=".7"/>
<path d="M709.1 462.7 714.0 463.1 719.0 465.0 714.0 464.6" fill="#8bc937" stroke="#8bc937" stroke-width=".7"/>
<path d="M719.0 465.0 723.9 465.5 728.9 467.6 724.0 467.0" fill="#5fbe34" stroke="#5fbe34" stroke-width=".7"/>
<path d="M728.9 467.6 733.8 468.2 738.8 470.3 733.9 469.6" fill="#4eb733" stroke="#4eb733" stroke-width=".7"/>
<path d="M738.8 470.3 743.7 471.0 748.7 473.2 743.8 472.5" fill="#45b132" stroke="#45b132" stroke-width=".7"/>
<path d="M748.7 473.2 753.6 474.0 758.5 476.3 753.6 475.4" fill="#3ca930" stroke="#3ca930" stroke-width=".7"/>
<path d="M758.5 476.3 763.3 477.2 768.3 479.5 763.4 478.6" fill="#339d2c" stroke="#339d2c" stroke-width=".7"/>
<path d="M644.1 452.8 649.1 452.5 654.1 453.9 649.1 454.2" fill="#ffbc38" stroke="#ffbc38" stroke-width=".7"/>
<path d="M654.1 453.9 659.1 453.7 664.1 455.2 659.1 455.4" fill="#fdc539" stroke="#fdc539" stroke-width=".7"/>
<path d="M664.1 455.2 669.1 455.2 674.1 456.7 669.1 456.8" fill="#face3a" stroke="#face3a" stroke-width=".7"/>
<path d="M674.1 456.7 679.1 456.8 684.1 458.4 679.1 458.4" fill="#f2d33c" stroke="#f2d33c" stroke-width=".7"/>
<path d="M684.1 458.4 689.1 458.5 694.1 460.3 689.1 460.1" fill="#e9da3d" stroke="#e9da3d" stroke-width=".7"/>
<path d="M694.1 460.3 699.1 460.5 704.1 462.3 699.1 462.1" fill="#d7dc3e" stroke="#d7dc3e" stroke-width=".7"/>
<path d="M704.1 462.3 709.1 462.7 714.0 464.6 709.1 464.2" fill="#b0d33a" stroke="#b0d33a" stroke-width=".7"/>
<path d="M714.0 464.6 719.0 465.0 724.0 467.0 719.0 466.5" fill="#84c837" stroke="#84c837" stroke-width=".7"/>
<path d="M724.0 467.0 728.9 467.6 733.9 469.6 728.9 469.1" fill="#57bb33" stroke="#57bb33" stroke-width=".7"/>
<path d="M733.9 469.6 738.8 470.3 743.8 472.5 738.8 471.8" fill="#4cb632" stroke="#4cb632" stroke-width=".7"/>
<path d="M743.8 472.5 748.7 473.2 753.6 475.4 748.7 474.7" fill="#43b031" stroke="#43b031" stroke-width=".7"/>
<path d="M753.6 475.4 758.5 476.3 763.4 478.6 758.5 477.7" fill="#3aa62f" stroke="#3aa62f" stroke-width=".7"/>
<path d="M763.4 478.6 768.3 479.5 773.2 482.0 768.3 481.0" fill="#319a2b" stroke="#319a2b" stroke-width=".7"/>
<path d="M639.1 453.2 644.1 452.8 649.1 454.2 644.1 454.5" fill="#ffb136" stroke="#ffb136" stroke-width=".7"/>
<path d="M649.1 454.2 654.1 453.9 659.1 455.4 654.1 455.6" fill="#ffb937" stroke="#ffb937" stroke-width=".7"/>
<path d="M659.1 455.4 664.1 455.2 669.1 456.8 664.1 456.9" fill="#fec339" stroke="#fec339" stroke-width=".7"/>
<path d="M669.1 456.8 674.1 456.7 679.1 458.4 674.1 458.4" fill="#facd3a" stroke="#facd3a" stroke-width=".7"/>
<path d="M679.1 458.4 684.1 458.4 689.1 460.1 684.1 460.0" fill="#f2d33c" stroke="#f2d33c" stroke-width=".7"/>
<path d="M689.1 460.1 694.1 460.3 699.1 462.1 694.1 461.9" fill="#e9da3d" stroke="#e9da3d" stroke-width=".7"/>
<path d="M699.1 462.1 704.1 462.3 709.1 464.2 704.1 463.9" fill="#d4db3d" stroke="#d4db3d" stroke-width=".7"/>
<path d="M709.1 464.2 714.0 464.6 719.0 466.5 714.0 466.1" fill="#aad13a" stroke="#aad13a" stroke-width=".7"/>
<path d="M719.0 466.5 724.0 467.0 728.9 469.1 724.0 468.6" fill="#7dc636" stroke="#7dc636" stroke-width=".7"/>
<path d="M728.9 469.1 733.9 469.6 738.8 471.8 733.9 471.2" fill="#54ba33" stroke="#54ba33" stroke-width=".7"/>
<path d="M738.8 471.8 743.8 472.5 748.7 474.7 743.8 474.0" fill="#4bb432" stroke="#4bb432" stroke-width=".7"/>
<path d="M748.7 474.7 753.6 475.4 758.5 477.7 753.7 476.9" fill="#40ae31" stroke="#40ae31" stroke-width=".7"/>
<path d="M758.5 477.7 763.4 478.6 768.3 481.0 763.5 480.1" fill="#38a32e" stroke="#38a32e" stroke-width=".7"/>
<path d="M768.3 481.0 773.2 482.0 778.1 484.5 773.3 483.5" fill="#2f972a" stroke="#2f972a" stroke-width=".7"/>
<path d="M634.1 453.7 639.1 453.2 644.1 454.5 639.0 455.0" fill="#ffa735" stroke="#ffa735" stroke-width=".7"/>
<path d="M644.1 454.5 649.1 454.2 654.1 455.6 649.0 455.9" fill="#ffad36" stroke="#ffad36" stroke-width=".7"/>
<path d="M654.1 455.6 659.1 455.4 664.1 456.9 659.1 457.1" fill="#ffb637" stroke="#ffb637" stroke-width=".7"/>
<path d="M664.1 456.9 669.1 456.8 674.1 458.4 669.1 458.4" fill="#fec239" stroke="#fec239" stroke-width=".7"/>
<path d="M674.1 458.4 679.1 458.4 684.1 460.0 679.1 460.0" fill="#facd3a" stroke="#facd3a" stroke-width=".7"/>
<path d="M684.1 460.0 689.1 460.1 694.1 461.9 689.1 461.7" fill="#f2d43c" stroke="#f2d43c" stroke-width=".7"/>
<path d="M694.1 461.9 699.1 462.1 704.1 463.9 699.1 463.7" fill="#e8db3e" stroke="#e8db3e" stroke-width=".7"/>
<path d="M704.1 463.9 709.1 464.2 714.0 466.1 709.1 465.8" fill="#cfda3d" stroke="#cfda3d" stroke-width=".7"/>
<path d="M714.0 466.1 719.0 466.5 724.0 468.6 719.0 468.1" fill="#a3d039" stroke="#a3d039" stroke-width=".7"/>
<path d="M724.0 468.6 728.9 469.1 733.9 471.2 729.0 470.6" fill="#75c436" stroke="#75c436" stroke-width=".7"/>
<path d="M733.9 471.2 738.8 471.8 743.8 474.0 738.9 473.3" fill="#52b933" stroke="#52b933" stroke-width=".7"/>
<path d="M743.8 474.0 748.7 474.7 753.7 476.9 748.8 476.2" fill="#48b332" stroke="#48b332" stroke-width=".7"/>
<path d="M753.7 476.9 758.5 477.7 763.5 480.1 758.6 479.3" fill="#3ead31" stroke="#3ead31" stroke-width=".7"/>
<path d="M763.5 480.1 768.3 481.0 773.3 483.5 768.4 482.5" fill="#36a12d" stroke="#36a12d" stroke-width=".7"/>
<path d="M773.3 483.5 778.1 484.5 783.0 487.0 778.2 486.0" fill="#2d9329" stroke="#2d9329" stroke-width=".7"/>
<path d="M629.0 454.2 634.1 453.7 639.0 455.0 634.0 455.5" fill="#ff9e34" stroke="#ff9e34" stroke-width=".7"/>
<path d="M639.0 455.0 644.1 454.5 649.0 455.9 644.0 456.3" fill="#ffa335" stroke="#ffa335" stroke-width=".7"/>
<path d="M649.0 455.9 654.1 455.6 659.1 457.1 654.0 457.4" fill="#ffaa35" stroke="#ffaa35" stroke-width=".7"/>
<path d="M659.1 457.1 664.1 456.9 669.1 458.4 664.0 458.6" fill="#ffb437" stroke="#ffb437" stroke-width=".7"/>
<path d="M669.1 458.4 674.1 458.4 679.1 460.0 674.1 460.0" fill="#fec038" stroke="#fec038" stroke-width=".7"/>
<path d="M679.1 460.0 684.1 460.0 689.1 461.7 684.1 461.7" fill="#facd3a" stroke="#facd3a" stroke-width=".7"/>
<path d="M689.1 461.7 694.1 461.9 699.1 463.7 694.1 463.5" fill="#f1d43c" stroke="#f1d43c" stroke-width=".7"/>
<path d="M699.1 463.7 704.1 463.9 709.1 465.8 704.1 465.5" fill="#e7dc3e" stroke="#e7dc3e" stroke-width=".7"/>
<path d="M709.1 465.8 714.0 466.1 719.0 468.1 714.0 467.7" fill="#c9d93c" stroke="#c9d93c" stroke-width=".7"/>
<path d="M719.0 468.1 724.0 468.6 729.0 470.6 724.0 470.1" fill="#9bce38" stroke="#9bce38" stroke-width=".7"/>
<path d="M729.0 470.6 733.9 471.2 738.9 473.3 733.9 472.7" fill="#6dc135" stroke="#6dc135" stroke-width=".7"/>
<path d="M738.9 473.3 743.8 474.0 748.8 476.2 743.8 475.5" fill="#50b833" stroke="#50b833" stroke-width=".7"/>
<path d="M748.8 476.2 753.7 476.9 758.6 479.3 753.7 478.5" fill="#46b232" stroke="#46b232" stroke-width=".7"/>
<path d="M758.6 479.3 763.5 480.1 768.4 482.5 763.5 481.7" fill="#3caa30" stroke="#3caa30" stroke-width=".7"/>
<path d="M768.4 482.5 773.3 483.5 778.2 486.0 773.3 485.0" fill="#339d2c" stroke="#339d2c" stroke-width=".7"/>
<path d="M778.2 486.0 783.0 487.0 787.9 489.6 783.1 488.5" fill="#2b8e28" stroke="#2b8e28" stroke-width=".7"/>
<path d="M634.0 455.5 639.0 455.0 644.0 456.3 639.0 456.8" fill="#ff9933" stroke="#ff9933" stroke-width=".7"/>
<path d="M644.0 456.3 649.0 455.9 654.0 457.4 649.0 457.7" fill="#ff9f34" stroke="#ff9f34" stroke-width=".7"/>
<path d="M654.0 457.4 659.1 457.1 664.0 458.6 659.0 458.8" fill="#ffa735" stroke="#ffa735" stroke-width=".7"/>
<path d="M664.0 458.6 669.1 458.4 674.1 460.0 669.0 460.2" fill="#ffb237" stroke="#ffb237" stroke-width=".7"/>
<path d="M674.1 460.0 679.1 460.0 684.1 461.7 679.1 461.7" fill="#fec038" stroke="#fec038" stroke-width=".7"/>
<path d="M684.1 461.7 689.1 461.7 694.1 463.5 689.1 463.4" fill="#facd3a" stroke="#facd3a" stroke-width=".7"/>
<path d="M694.1 463.5 699.1 463.7 704.1 465.5 699.1 465.3" fill="#f1d43c" stroke="#f1d43c" stroke-width=".7"/>
<path d="M704.1 465.5 709.1 465.8 714.0 467.7 709.1 467.4" fill="#e6dd3e" stroke="#e6dd3e" stroke-width=".7"/>
<path d="M714.0 467.7 719.0 468.1 724.0 470.1 719.0 469.7" fill="#c3d73c" stroke="#c3d73c" stroke-width=".7"/>
<path d="M724.0 470.1 729.0 470.6 733.9 472.7 729.0 472.2" fill="#93cc38" stroke="#93cc38" stroke-width=".7"/>
<path d="M733.9 472.7 738.9 473.3 743.8 475.5 738.9 474.9" fill="#63bf34" stroke="#63bf34" stroke-width=".7"/>
<path d="M743.8 475.5 748.8 476.2 753.7 478.5 748.8 477.8" fill="#4eb733" stroke="#4eb733" stroke-width=".7"/>
<path d="M753.7 478.5 758.6 479.3 763.5 481.7 758.6 480.8" fill="#44b031" stroke="#44b031" stroke-width=".7"/>
<path d="M763.5 481.7 768.4 482.5 773.3 485.0 768.5 484.1" fill="#3aa72f" stroke="#3aa72f" stroke-width=".7"/>
<path d="M773.3 485.0 778.2 486.0 783.1 488.5 778.2 487.5" fill="#319a2b" stroke="#319a2b" stroke-width=".7"/>
<path d="M639.0 456.8 644.0 456.3 649.0 457.7 643.9 458.2" fill="#ff9532" stroke="#ff9532" stroke-width=".7"/>
<path d="M649.0 457.7 654.0 457.4 659.0 458.8 654.0 459.2" fill="#ff9b34" stroke="#ff9b34" stroke-width=".7"/>
<path d="M659.0 458.8 664.0 458.6 669.0 460.2 664.0 460.4" fill="#ffa535" stroke="#ffa535" stroke-width=".7"/>
<path d="M669.0 460.2 674.1 460.0 679.1 461.7 674.0 461.8" fill="#ffb136" stroke="#ffb136" stroke-width=".7"/>
<path d="M679.1 461.7 684.1 461.7 689.1 463.4 684.0 463.4" fill="#ffbf38" stroke="#ffbf38" stroke-width=".7"/>
<path d="M689.1 463.4 694.1 463.5 699.1 465.3 694.1 465.2" fill="#face3a" stroke="#face3a" stroke-width=".7"/>
<path d="M699.1 465.3 704.1 465.5 709.1 467.4 704.1 467.2" fill="#f0d53c" stroke="#f0d53c" stroke-width=".7"/>
<path d="M709.1 467.4 714.0 467.7 719.0 469.7 714.0 469.4" fill="#e4de3e" stroke="#e4de3e" stroke-width=".7"/>
<path d="M719.0 469.7 724.0 470.1 729.0 472.2 724.0 471.7" fill="#bbd53b" stroke="#bbd53b" stroke-width=".7"/>
<path d="M729.0 472.2 733.9 472.7 738.9 474.9 734.0 474.3" fill="#8ac937" stroke="#8ac937" stroke-width=".7"/>
<path d="M738.9 474.9 743.8 475.5 748.8 477.8 743.9 477.1" fill="#59bc33" stroke="#59bc33" stroke-width=".7"/>
<path d="M748.8 477.8 753.7 478.5 758.6 480.8 753.7 480.1" fill="#4cb532" stroke="#4cb532" stroke-width=".7"/>
<path d="M758.6 480.8 763.5 481.7 768.5 484.1 763.6 483.2" fill="#41af31" stroke="#41af31" stroke-width=".7"/>
<path d="M768.5 484.1 773.3 485.0 778.2 487.5 773.4 486.6" fill="#38a42e" stroke="#38a42e" stroke-width=".7"/>
<path d="M643.9 458.2 649.0 457.7 654.0 459.2 648.9 459.6" fill="#ff9131" stroke="#ff9131" stroke-width=".7"/>
<path d="M654.0 459.2 659.0 458.8 664.0 460.4 659.0 460.6" fill="#ff9833" stroke="#ff9833" stroke-width=".7"/>
<path d="M664.0 460.4 669.0 460.2 674.0 461.8 669.0 461.9" fill="#ffa335" stroke="#ffa335" stroke-width=".7"/>
<path d="M674.0 461.8 679.1 461.7 684.0 463.4 679.0 463.4" fill="#ffb036" stroke="#ffb036" stroke-width=".7"/>
<path d="M684.0 463.4 689.1 463.4 694.1 465.2 689.0 465.1" fill="#fec038" stroke="#fec038" stroke-width=".7"/>
<path d="M694.1 465.2 699.1 465.3 704.1 467.2 699.1 467.0" fill="#f9ce3b" stroke="#f9ce3b" stroke-width=".7"/>
<path d="M704.1 467.2 709.1 467.4 714.0 469.4 709.1 469.1" fill="#eed63c" stroke="#eed63c" stroke-width=".7"/>
<path d="M714.0 469.4 719.0 469.7 724.0 471.7 719.0 471.3" fill="#e2df3e" stroke="#e2df3e" stroke-width=".7"/>
<path d="M724.0 471.7 729.0 472.2 734.0 474.3 729.0 473.8" fill="#b3d33a" stroke="#b3d33a" stroke-width=".7"/>
<path d="M734.0 474.3 738.9 474.9 743.9 477.1 738.9 476.5" fill="#81c736" stroke="#81c736" stroke-width=".7"/>
<path d="M743.9 477.1 748.8 477.8 753.7 480.1 748.8 479.4" fill="#54ba33" stroke="#54ba33" stroke-width=".7"/>
<path d="M753.7 480.1 758.6 480.8 763.6 483.2 758.7 482.4" fill="#4ab432" stroke="#4ab432" stroke-width=".7"/>
<path d="M763.6 483.2 768.5 484.1 773.4 486.6 768.5 485.7" fill="#3fad31" stroke="#3fad31" stroke-width=".7"/>
<path d="M648.9 459.6 654.0 459.2 659.0 460.6 653.9 461.0" fill="#ff8d31" stroke="#ff8d31" stroke-width=".7"/>
<path d="M659.0 460.6 664.0 460.4 669.0 461.9 664.0 462.2" fill="#ff9633" stroke="#ff9633" stroke-width=".7"/>
<path d="M669.0 461.9 674.0 461.8 679.0 463.4 674.0 463.5" fill="#ffa134" stroke="#ffa134" stroke-width=".7"/>
<path d="M679.0 463.4 684.0 463.4 689.0 465.1 684.0 465.1" fill="#ffb036" stroke="#ffb036" stroke-width=".7"/>
<path d="M689.0 465.1 694.1 465.2 699.1 467.0 694.0 466.9" fill="#fec038" stroke="#fec038" stroke-width=".7"/>
<path d="M699.1 467.0 704.1 467.2 709.1 469.1 704.0 468.9" fill="#f8cf3b" stroke="#f8cf3b" stroke-width=".7"/>
<path d="M709.1 469.1 714.0 469.4 719.0 471.3 714.0 471.0" fill="#edd73d" stroke="#edd73d" stroke-width=".7"/>
<path d="M719.0 471.3 724.0 471.7 729.0 473.8 724.0 473.4" fill="#dbdd3e" stroke="#dbdd3e" stroke-width=".7"/>
<path d="M729.0 473.8 734.0 474.3 738.9 476.5 734.0 476.0" fill="#aad13a" stroke="#aad13a" stroke-width=".7"/>
<path d="M738.9 476.5 743.9 477.1 748.8 479.4 743.9 478.7" fill="#77c436" stroke="#77c436" stroke-width=".7"/>
<path d="M748.8 479.4 753.7 480.1 758.7 482.4 753.8 481.7" fill="#52b933" stroke="#52b933" stroke-width=".7"/>
<path d="M758.7 482.4 763.6 483.2 768.5 485.7 763.6 484.9" fill="#47b232" stroke="#47b232" stroke-width=".7"/>
<path d="M653.9 461.0 659.0 460.6 664.0 462.2 658.9 462.5" fill="#ff8a30" stroke="#ff8a30" stroke-width=".7"/>
<path d="M664.0 462.2 669.0 461.9 674.0 463.5 668.9 463.7" fill="#ff9432" stroke="#ff9432" stroke-width=".7"/>
<path d="M674.0 463.5 679.0 463.4 684.0 465.1 679.0 465.2" fill="#ffa034" stroke="#ffa034" stroke-width=".7"/>
<path d="M684.0 465.1 689.0 465.1 694.0 466.9 689.0 466.9" fill="#ffb036" stroke="#ffb036" stroke-width=".7"/>
<path d="M694.0 466.9 699.1 467.0 704.0 468.9 699.0 468.7" fill="#fec239" stroke="#fec239" stroke-width=".7"/>
<path d="M704.0 468.9 709.1 469.1 714.0 471.0 709.0 470.8" fill="#f7d03b" stroke="#f7d03b" stroke-width=".7"/>
<path d="M714.0 471.0 719.0 471.3 724.0 473.4 719.0 473.0" fill="#ebd93d" stroke="#ebd93d" stroke-width=".7"/>
<path d="M724.0 473.4 729.0 473.8 734.0 476.0 729.0 475.5" fill="#d3db3d" stroke="#d3db3d" stroke-width=".7"/>
<path d="M734.0 476.0 738.9 476.5 743.9 478.7 738.9 478.2" fill="#a0cf39" stroke="#a0cf39" stroke-width=".7"/>
<path d="M743.9 478.7 748.8 479.4 753.8 481.7 748.8 481.0" fill="#6cc135" stroke="#6cc135" stroke-width=".7"/>
<path d="M753.8 481.7 758.7 482.4 763.6 484.9 758.7 484.1" fill="#4fb733" stroke="#4fb733" stroke-width=".7"/>
<path d="M658.9 462.5 664.0 462.2 668.9 463.7 663.9 464.0" fill="#ff882f" stroke="#ff882f" stroke-width=".7"/>
<path d="M668.9 463.7 674.0 463.5 679.0 465.2 673.9 465.4" fill="#ff9232" stroke="#ff9232" stroke-width=".7"/>
<path d="M679.0 465.2 684.0 465.1 689.0 466.9 684.0 466.9" fill="#ffa034" stroke="#ffa034" stroke-width=".7"/>
<path d="M689.0 466.9 694.0 466.9 699.0 468.7 694.0 468.6" fill="#ffb036" stroke="#ffb036" stroke-width=".7"/>
<path d="M699.0 468.7 704.0 468.9 709.0 470.8 704.0 470.6" fill="#fec339" stroke="#fec339" stroke-width=".7"/>
<path d="M709.0 470.8 714.0 471.0 719.0 473.0 714.0 472.7" fill="#f6d13b" stroke="#f6d13b" stroke-width=".7"/>
<path d="M719.0 473.0 724.0 473.4 729.0 475.5 724.0 475.1" fill="#e9da3d" stroke="#e9da3d" stroke-width=".7"/>
<path d="M729.0 475.5 734.0 476.0 738.9 478.2 734.0 477.7" fill="#cad93c" stroke="#cad93c" stroke-width=".7"/>
<path d="M738.9 478.2 743.9 478.7 748.8 481.0 743.9 480.4" fill="#95cc38" stroke="#95cc38" stroke-width=".7"/>
<path d="M748.8 481.0 753.8 481.7 758.7 484.1 753.8 483.4" fill="#60be34" stroke="#60be34" stroke-width=".7"/>
<path d="M663.9 464.0 668.9 463.7 673.9 465.4 668.9 465.6" fill="#ff862f" stroke="#ff862f" stroke-width=".7"/>
<path d="M673.9 465.4 679.0 465.2 684.0 466.9 678.9 467.0" fill="#ff9132" stroke="#ff9132" stroke-width=".7"/>
<path d="M684.0 466.9 689.0 466.9 694.0 468.6 689.0 468.7" fill="#ffa034" stroke="#ffa034" stroke-width=".7"/>
<path d="M694.0 468.6 699.0 468.7 704.0 470.6 699.0 470.5" fill="#ffb136" stroke="#ffb136" stroke-width=".7"/>
<path d="M704.0 470.6 709.0 470.8 714.0 472.7 709.0 472.5" fill="#fdc639" stroke="#fdc639" stroke-width=".7"/>
<path d="M714.0 472.7 719.0 473.0 724.0 475.1 719.0 474.8" fill="#f4d23b" stroke="#f4d23b" stroke-width=".7"/>
<path d="M724.0 475.1 729.0 475.5 734.0 477.7 729.0 477.2" fill="#e7dc3e" stroke="#e7dc3e" stroke-width=".7"/>
<path d="M734.0 477.7 738.9 478.2 743.9 480.4 738.9 479.9" fill="#c0d73c" stroke="#c0d73c" stroke-width=".7"/>
<path d="M743.9 480.4 748.8 481.0 753.8 483.4 748.9 482.7" fill="#8ac937" stroke="#8ac937" stroke-width=".7"/>
<path d="M668.9 465.6 673.9 465.4 678.9 467.0 673.9 467.2" fill="#ff842f" stroke="#ff842f" stroke-width=".7"/>
<path d="M678.9 467.0 684.0 466.9 689.0 468.7 683.9 468.7" fill="#ff9131" stroke="#ff9131" stroke-width=".7"/>
<path d="M689.0 468.7 694.0 468.6 699.0 470.5 694.0 470.5" fill="#ffa034" stroke="#ffa034" stroke-width=".7"/>
<path d="M699.0 470.5 704.0 470.6 709.0 472.5 704.0 472.4" fill="#ffb337" stroke="#ffb337" stroke-width=".7"/>
<path d="M709.0 472.5 714.0 472.7 719.0 474.8 714.0 474.5" fill="#fdc83a" stroke="#fdc83a" stroke-width=".7"/>
<path d="M719.0 474.8 724.0 475.1 729.0 477.2 724.0 476.9" fill="#f2d33c" stroke="#f2d33c" stroke-width=".7"/>
<path d="M729.0 477.2 734.0 477.7 738.9 479.9 734.0 479.4" fill="#e4de3e" stroke="#e4de3e" stroke-width=".7"/>
<path d="M738.9 479.9 743.9 480.4 748.9 482.7 743.9 482.1" fill="#b5d43b" stroke="#b5d43b" stroke-width=".7"/>
<path d="M673.9 467.2 678.9 467.0 683.9 468.7 678.9 468.9" fill="#ff832e" stroke="#ff832e" stroke-width=".7"/>
<path d="M683.9 468.7 689.0 468.7 694.0 470.5 688.9 470.5" fill="#ff9131" stroke="#ff9131" stroke-width=".7"/>
<path d="M694.0 470.5 699.0 470.5 704.0 472.4 699.0 472.3" fill="#ffa234" stroke="#ffa234" stroke-width=".7"/>
<path d="M704.0 472.4 709.0 472.5 714.0 474.5 709.0 474.3" fill="#ffb537" stroke="#ffb537" stroke-width=".7"/>
<path d="M714.0 474.5 719.0 474.8 724.0 476.9 719.0 476.6" fill="#fccc3a" stroke="#fccc3a" stroke-width=".7"/>
<path d="M724.0 476.9 729.0 477.2 734.0 479.4 729.0 479.0" fill="#f0d53c" stroke="#f0d53c" stroke-width=".7"/>
<path d="M734.0 479.4 738.9 479.9 743.9 482.1 738.9 481.6" fill="#e0de3e" stroke="#e0de3e" stroke-width=".7"/>
<path d="M678.9 468.9 683.9 468.7 688.9 470.5 683.9 470.6" fill="#ff832e" stroke="#ff832e" stroke-width=".7"/>
<path d="M688.9 470.5 694.0 470.5 699.0 472.3 693.9 472.3" fill="#ff9132" stroke="#ff9132" stroke-width=".7"/>
<path d="M699.0 472.3 704.0 472.4 709.0 474.3 704.0 474.2" fill="#ffa335" stroke="#ffa335" stroke-width=".7"/>
<path d="M709.0 474.3 714.0 474.5 719.0 476.6 714.0 476.3" fill="#ffb837" stroke="#ffb837" stroke-width=".7"/>
<path d="M719.0 476.6 724.0 476.9 729.0 479.0 724.0 478.6" fill="#fbcd3a" stroke="#fbcd3a" stroke-width=".7"/>
<path d="M729.0 479.0 734.0 479.4 738.9 481.6 734.0 481.2" fill="#edd73d" stroke="#edd73d" stroke-width=".7"/>
<path d="M683.9 470.6 688.9 470.5 693.9 472.3 688.9 472.4" fill="#ff822e" stroke="#ff822e" stroke-width=".7"/>
<path d="M693.9 472.3 699.0 472.3 704.0 474.2 698.9 474.2" fill="#ff9232" stroke="#ff9232" stroke-width=".7"/>
<path d="M704.0 474.2 709.0 474.3 714.0 476.3 709.0 476.2" fill="#ffa535" stroke="#ffa535" stroke-width=".7"/>
<path d="M714.0 476.3 719.0 476.6 724.0 478.6 719.0 478.4" fill="#ffbb38" stroke="#ffbb38" stroke-width=".7"/>
<path d="M724.0 478.6 729.0 479.0 734.0 481.2 729.0 480.8" fill="#f8cf3b" stroke="#f8cf3b" stroke-width=".7"/>
<path d="M688.9 472.4 693.9 472.3 698.9 474.2 693.9 474.2" fill="#ff832e" stroke="#ff832e" stroke-width=".7"/>
<path d="M698.9 474.2 704.0 474.2 709.0 476.2 703.9 476.1" fill="#ff9332" stroke="#ff9332" stroke-width=".7"/>
<path d="M709.0 476.2 714.0 476.3 719.0 478.4 714.0 478.2" fill="#ffa835" stroke="#ffa835" stroke-width=".7"/>
<path d="M719.0 478.4 724.0 478.6 729.0 480.8 724.0 480.5" fill="#ffbe38" stroke="#ffbe38" stroke-width=".7"/>
<path d="M693.9 474.2 698.9 474.2 703.9 476.1 698.9 476.1" fill="#ff832f" stroke="#ff832f" stroke-width=".7"/>
<path d="M703.9 476.1 709.0 476.2 714.0 478.2 708.9 478.1" fill="#ff9532" stroke="#ff9532" stroke-width=".7"/>
<path d="M714.0 478.2 719.0 478.4 724.0 480.5 719.0 480.3" fill="#ffaa36" stroke="#ffaa36" stroke-width=".7"/>
<path d="M698.9 476.1 703.9 476.1 708.9 478.1 703.9 478.0" fill="#ff852f" stroke="#ff852f" stroke-width=".7"/>
<path d="M708.9 478.1 714.0 478.2 719.0 480.3 713.9 480.1" fill="#ff9833" stroke="#ff9833" stroke-width=".7"/>
<path d="M703.9 478.0 708.9 478.1 713.9 480.1 708.9 480.0" fill="#ff862f" stroke="#ff862f" stroke-width=".7"/>
<path d="M629.0 454.2 634.3 455.6 639.6 457.0 644.9 458.4 650.3 459.9 655.6 461.5 660.9 463.1 666.2 464.8 671.6 466.5 676.9 468.2 682.2 470.1 687.6 471.9 692.9 473.9 698.2 475.9 703.6 477.9 708.9 480.0M629.0 454.2 634.4 453.6 639.8 453.1 645.1 452.8 650.5 452.4 655.8 452.2 661.2 452.1 666.5 452.1 671.8 452.1 677.2 452.2 682.5 452.4 687.8 452.7 693.1 453.0 698.4 453.4 703.6 453.9 708.9 454.5M631.7 453.9 637.0 455.3 642.3 456.7 647.6 458.2 652.9 459.7 658.3 461.3 663.6 462.9 668.9 464.6 674.3 466.3 679.6 468.1 684.9 470.0 690.3 471.9 695.6 473.8 700.9 475.8 706.3 477.9 711.6 480.1M631.7 454.9 637.0 454.3 642.4 453.9 647.8 453.5 653.1 453.2 658.5 453.0 663.8 452.9 669.2 452.9 674.5 452.9 679.8 453.1 685.1 453.3 690.4 453.6 695.7 453.9 701.0 454.4 706.3 454.9 711.5 455.4M634.4 453.6 639.7 455.0 645.0 456.5 650.3 458.0 655.6 459.5 661.0 461.1 666.3 462.8 671.6 464.5 676.9 466.2 682.3 468.0 687.6 469.9 692.9 471.8 698.3 473.8 703.6 475.9 708.9 477.9 714.3 480.1M634.3 455.6 639.7 455.0 645.1 454.6 650.4 454.2 655.8 454.0 661.1 453.8 666.5 453.7 671.8 453.7 677.2 453.8 682.5 453.9 687.8 454.2 693.1 454.5 698.4 454.8 703.7 455.3 708.9 455.8 714.2 456.4M637.1 453.4 642.4 454.8 647.7 456.3 653.0 457.8 658.3 459.4 663.6 461.0 669.0 462.6 674.3 464.4 679.6 466.2 685.0 468.0 690.3 469.9 695.6 471.8 701.0 473.8 706.3 475.9 711.6 478.0 717.0 480.2M637.0 456.3 642.3 455.7 647.7 455.3 653.1 455.0 658.4 454.8 663.8 454.6 669.1 454.5 674.5 454.5 679.8 454.6 685.1 454.8 690.5 455.0 695.8 455.4 701.0 455.8 706.3 456.2 711.6 456.8 716.8 457.4M639.8 453.1 645.1 454.6 650.4 456.1 655.7 457.6 661.0 459.2 666.3 460.9 671.7 462.5 677.0 464.3 682.3 466.1 687.6 467.9 693.0 469.9 698.3 471.8 703.6 473.8 709.0 475.9 714.3 478.1 719.6 480.3M639.6 457.0 645.0 456.5 650.4 456.1 655.7 455.8 661.1 455.5 666.4 455.4 671.8 455.4 677.1 455.4 682.5 455.5 687.8 455.7 693.1 456.0 698.4 456.3 703.7 456.7 709.0 457.2 714.2 457.8 719.5 458.4M642.4 452.9 647.7 454.4 653.1 455.9 658.4 457.5 663.7 459.1 669.0 460.7 674.3 462.5 679.7 464.2 685.0 466.0 690.3 467.9 695.7 469.9 701.0 471.8 706.3 473.9 711.7 476.0 717.0 478.2 722.3 480.4M642.3 457.7 647.7 457.2 653.0 456.8 658.4 456.6 663.8 456.3 669.1 456.2 674.5 456.2 679.8 456.3 685.1 456.4 690.5 456.6 695.8 456.9 701.1 457.2 706.4 457.7 711.6 458.2 716.9 458.8 722.1 459.4M645.1 452.8 650.4 454.2 655.7 455.8 661.1 457.3 666.4 459.0 671.7 460.7 677.0 462.4 682.4 464.2 687.7 466.0 693.0 467.9 698.3 469.9 703.7 471.9 709.0 474.0 714.3 476.1 719.7 478.3 725.0 480.5M644.9 458.4 650.3 458.0 655.7 457.6 661.1 457.3 666.4 457.2 671.8 457.1 677.1 457.1 682.5 457.1 687.8 457.3 693.1 457.5 698.4 457.8 703.7 458.2 709.0 458.7 714.3 459.2 719.5 459.8 724.8 460.4M647.8 452.6 653.1 454.1 658.4 455.6 663.7 457.2 669.1 458.9 674.4 460.6 679.7 462.4 685.0 464.2 690.4 466.0 695.7 468.0 701.0 469.9 706.3 472.0 711.7 474.1 717.0 476.2 722.3 478.4 727.6 480.7M647.6 459.2 653.0 458.7 658.3 458.4 663.7 458.2 669.1 458.0 674.4 457.9 679.8 457.9 685.1 458.0 690.4 458.2 695.8 458.4 701.1 458.8 706.4 459.2 711.7 459.6 716.9 460.2 722.2 460.8 727.4 461.5M650.5 452.4 655.8 454.0 661.1 455.5 666.4 457.2 671.7 458.8 677.1 460.6 682.4 462.3 687.7 464.2 693.0 466.1 698.4 468.0 703.7 470.0 709.0 472.1 714.3 474.2 719.7 476.4 725.0 478.6 730.3 480.9M650.3 459.9 655.6 459.5 661.0 459.2 666.4 459.0 671.7 458.8 677.1 458.8 682.4 458.8 687.8 458.9 693.1 459.1 698.4 459.4 703.7 459.7 709.0 460.2 714.3 460.6 719.6 461.2 724.8 461.8 730.1 462.5M653.1 452.3 658.5 453.9 663.8 455.5 669.1 457.1 674.4 458.8 679.7 460.5 685.1 462.3 690.4 464.2 695.7 466.1 701.0 468.1 706.4 470.1 711.7 472.2 717.0 474.3 722.3 476.5 727.7 478.8 733.0 481.1M652.9 460.7 658.3 460.3 663.7 460.0 669.0 459.8 674.4 459.7 679.8 459.7 685.1 459.7 690.4 459.8 695.8 460.1 701.1 460.3 706.4 460.7 711.7 461.1 717.0 461.7 722.2 462.2 727.5 462.9 732.7 463.6M655.8 452.2 661.1 453.8 666.4 455.4 671.8 457.1 677.1 458.8 682.4 460.5 687.7 462.4 693.1 464.2 698.4 466.2 703.7 468.2 709.0 470.2 714.4 472.3 719.7 474.5 725.0 476.7 730.3 479.0 735.6 481.3M655.6 461.5 661.0 461.1 666.3 460.9 671.7 460.7 677.1 460.6 682.4 460.5 687.8 460.6 693.1 460.8 698.4 461.0 703.7 461.3 709.0 461.7 714.3 462.2 719.6 462.7 724.9 463.3 730.1 464.0 735.4 464.7M658.5 452.2 663.8 453.7 669.1 455.4 674.4 457.1 679.8 458.8 685.1 460.6 690.4 462.4 695.7 464.3 701.1 466.3 706.4 468.3 711.7 470.3 717.0 472.5 722.3 474.6 727.7 476.9 733.0 479.2 738.3 481.6M658.2 462.3 663.6 461.9 669.0 461.7 674.4 461.5 679.7 461.4 685.1 461.5 690.4 461.5 695.8 461.7 701.1 462.0 706.4 462.3 711.7 462.7 717.0 463.2 722.3 463.7 727.5 464.4 732.8 465.0 738.0 465.8M661.2 452.1 666.5 453.7 671.8 455.4 677.1 457.1 682.4 458.8 687.8 460.6 693.1 462.5 698.4 464.4 703.7 466.4 709.1 468.4 714.4 470.5 719.7 472.6 725.0 474.8 730.3 477.1 735.6 479.4 740.9 481.8M660.9 463.1 666.3 462.8 671.7 462.5 677.0 462.4 682.4 462.3 687.7 462.4 693.1 462.5 698.4 462.7 703.7 462.9 709.1 463.3 714.4 463.7 719.6 464.2 724.9 464.8 730.2 465.4 735.4 466.1 740.6 466.9M663.8 452.1 669.1 453.7 674.5 455.4 679.8 457.1 685.1 458.9 690.4 460.7 695.8 462.6 701.1 464.5 706.4 466.5 711.7 468.5 717.0 470.7 722.4 472.8 727.7 475.0 733.0 477.3 738.3 479.7 743.6 482.1M663.6 463.9 668.9 463.6 674.3 463.4 679.7 463.3 685.1 463.3 690.4 463.3 695.7 463.4 701.1 463.6 706.4 463.9 711.7 464.3 717.0 464.8 722.3 465.3 727.6 465.9 732.8 466.5 738.1 467.3 743.3 468.0M666.5 452.1 671.8 453.7 677.1 455.4 682.5 457.1 687.8 458.9 693.1 460.8 698.4 462.7 703.7 464.6 709.1 466.6 714.4 468.7 719.7 470.8 725.0 473.0 730.3 475.3 735.6 477.6 740.9 480.0 746.2 482.4M666.2 464.8 671.6 464.5 677.0 464.3 682.4 464.2 687.7 464.2 693.1 464.2 698.4 464.4 703.7 464.6 709.1 464.9 714.4 465.3 719.7 465.8 724.9 466.3 730.2 466.9 735.5 467.6 740.7 468.4 745.9 469.2M669.2 452.1 674.5 453.7 679.8 455.4 685.1 457.2 690.4 459.0 695.8 460.9 701.1 462.8 706.4 464.8 711.7 466.8 717.0 468.9 722.4 471.1 727.7 473.3 733.0 475.5 738.3 477.9 743.6 480.3 748.9 482.7M668.9 465.6 674.3 465.4 679.7 465.2 685.0 465.1 690.4 465.1 695.7 465.2 701.1 465.4 706.4 465.6 711.7 466.0 717.0 466.4 722.3 466.9 727.6 467.4 732.9 468.1 738.1 468.8 743.3 469.5 748.6 470.4M671.8 452.1 677.2 453.8 682.5 455.5 687.8 457.3 693.1 459.1 698.4 461.0 703.7 462.9 709.1 464.9 714.4 467.0 719.7 469.1 725.0 471.3 730.3 473.5 735.6 475.8 740.9 478.2 746.2 480.6 751.5 483.1M671.6 466.5 676.9 466.2 682.3 466.1 687.7 466.0 693.0 466.1 698.4 466.2 703.7 466.4 709.1 466.6 714.4 467.0 719.7 467.4 725.0 467.9 730.2 468.5 735.5 469.2 740.8 469.9 746.0 470.7 751.2 471.5M674.5 452.1 679.8 453.8 685.1 455.6 690.5 457.4 695.8 459.2 701.1 461.1 706.4 463.1 711.7 465.1 717.0 467.2 722.3 469.3 727.7 471.5 733.0 473.8 738.3 476.1 743.6 478.5 748.8 480.9 754.1 483.4M674.2 467.3 679.6 467.1 685.0 467.0 690.3 467.0 695.7 467.0 701.1 467.2 706.4 467.4 711.7 467.7 717.0 468.0 722.3 468.5 727.6 469.0 732.9 469.6 738.2 470.3 743.4 471.0 748.6 471.8 753.8 472.7M677.2 452.2 682.5 453.9 687.8 455.7 693.1 457.5 698.4 459.4 703.7 461.3 709.1 463.3 714.4 465.3 719.7 467.4 725.0 469.6 730.3 471.8 735.6 474.1 740.9 476.4 746.2 478.8 751.5 481.3 756.8 483.8M676.9 468.2 682.3 468.0 687.6 467.9 693.0 467.9 698.4 468.0 703.7 468.2 709.1 468.4 714.4 468.7 719.7 469.1 725.0 469.6 730.3 470.1 735.5 470.8 740.8 471.4 746.0 472.2 751.3 473.0 756.4 473.9M679.8 452.3 685.1 454.0 690.5 455.8 695.8 457.7 701.1 459.5 706.4 461.5 711.7 463.5 717.0 465.6 722.3 467.7 727.6 469.8 732.9 472.1 738.2 474.4 743.5 476.7 748.8 479.2 754.1 481.6 759.4 484.2M679.6 469.1 684.9 469.0 690.3 468.9 695.7 468.9 701.0 469.0 706.4 469.2 711.7 469.4 717.0 469.8 722.3 470.2 727.6 470.7 732.9 471.3 738.2 471.9 743.4 472.6 748.7 473.4 753.9 474.2 759.1 475.1M682.5 452.4 687.8 454.2 693.1 456.0 698.4 457.8 703.7 459.7 709.0 461.7 714.4 463.7 719.7 465.8 725.0 467.9 730.3 470.1 735.6 472.4 740.9 474.7 746.2 477.1 751.4 479.5 756.7 482.0 762.0 484.6M682.2 470.1 687.6 469.9 693.0 469.9 698.3 469.9 703.7 470.0 709.0 470.2 714.4 470.5 719.7 470.8 725.0 471.3 730.3 471.8 735.6 472.4 740.8 473.0 746.1 473.8 751.3 474.6 756.5 475.4 761.7 476.4M685.1 452.5 690.4 454.3 695.8 456.1 701.1 458.0 706.4 459.9 711.7 461.9 717.0 464.0 722.3 466.1 727.6 468.2 732.9 470.4 738.2 472.7 743.5 475.0 748.8 477.4 754.1 479.9 759.3 482.4 764.6 485.0M684.9 471.0 690.3 470.9 695.6 470.8 701.0 470.9 706.4 471.0 711.7 471.2 717.0 471.5 722.4 471.9 727.7 472.4 732.9 472.9 738.2 473.5 743.5 474.2 748.7 475.0 753.9 475.8 759.1 476.7 764.3 477.6M687.8 452.7 693.1 454.5 698.4 456.3 703.7 458.2 709.0 460.2 714.3 462.2 719.6 464.2 724.9 466.3 730.2 468.5 735.5 470.8 740.8 473.0 746.1 475.4 751.4 477.8 756.7 480.3 762.0 482.9 767.2 485.5M687.6 471.9 692.9 471.8 698.3 471.8 703.7 471.9 709.0 472.1 714.4 472.3 719.7 472.6 725.0 473.0 730.3 473.5 735.6 474.1 740.9 474.7 746.1 475.4 751.4 476.2 756.6 477.0 761.8 477.9 767.0 478.9M690.4 452.8 695.7 454.6 701.1 456.5 706.4 458.4 711.7 460.4 717.0 462.4 722.3 464.5 727.6 466.6 732.9 468.8 738.2 471.1 743.5 473.4 748.7 475.8 754.0 478.2 759.3 480.7 764.6 483.3 769.8 485.9M690.2 472.9 695.6 472.8 701.0 472.8 706.3 472.9 711.7 473.1 717.0 473.4 722.4 473.7 727.7 474.2 733.0 474.7 738.2 475.2 743.5 475.9 748.8 476.6 754.0 477.4 759.2 478.3 764.4 479.2 769.6 480.2M693.1 453.0 698.4 454.8 703.7 456.7 709.0 458.7 714.3 460.6 719.6 462.7 724.9 464.8 730.2 466.9 735.5 469.2 740.8 471.4 746.1 473.8 751.4 476.2 756.6 478.6 761.9 481.2 767.2 483.8 772.4 486.4M692.9 473.9 698.3 473.8 703.6 473.8 709.0 474.0 714.3 474.2 719.7 474.5 725.0 474.8 730.3 475.3 735.6 475.8 740.9 476.4 746.2 477.1 751.4 477.8 756.6 478.6 761.8 479.5 767.0 480.5 772.2 481.5M695.7 453.2 701.0 455.1 706.3 457.0 711.6 458.9 717.0 460.9 722.3 463.0 727.5 465.1 732.8 467.3 738.1 469.5 743.4 471.8 748.7 474.2 754.0 476.6 759.2 479.1 764.5 481.6 769.8 484.2 775.0 486.9M695.6 474.9 700.9 474.8 706.3 474.9 711.7 475.0 717.0 475.3 722.3 475.6 727.7 476.0 733.0 476.4 738.3 477.0 743.5 477.6 748.8 478.3 754.0 479.1 759.3 479.9 764.5 480.8 769.7 481.8 774.8 482.8M698.4 453.4 703.7 455.3 709.0 457.2 714.3 459.2 719.6 461.2 724.9 463.3 730.2 465.4 735.5 467.6 740.8 469.9 746.0 472.2 751.3 474.6 756.6 477.0 761.8 479.5 767.1 482.1 772.4 484.7 777.6 487.4M698.2 475.9 703.6 475.9 709.0 475.9 714.3 476.1 719.7 476.4 725.0 476.7 730.3 477.1 735.6 477.6 740.9 478.2 746.2 478.8 751.4 479.5 756.7 480.3 761.9 481.2 767.1 482.1 772.3 483.1 777.4 484.1M701.0 453.7 706.3 455.5 711.6 457.5 716.9 459.5 722.2 461.5 727.5 463.6 732.8 465.8 738.1 468.0 743.4 470.3 748.6 472.6 753.9 475.0 759.2 477.5 764.4 480.0 769.7 482.6 774.9 485.2 780.2 487.9M700.9 476.9 706.3 476.9 711.6 477.0 717.0 477.2 722.3 477.5 727.7 477.8 733.0 478.3 738.3 478.8 743.6 479.4 748.8 480.0 754.1 480.8 759.3 481.6 764.5 482.4 769.7 483.4 774.9 484.4 780.1 485.5M703.6 453.9 708.9 455.8 714.2 457.8 719.5 459.8 724.8 461.8 730.1 464.0 735.4 466.1 740.7 468.4 746.0 470.7 751.3 473.0 756.5 475.4 761.8 477.9 767.0 480.5 772.3 483.1 777.5 485.7 782.8 488.5M703.6 477.9 708.9 477.9 714.3 478.1 719.7 478.3 725.0 478.6 730.3 479.0 735.6 479.4 740.9 480.0 746.2 480.6 751.5 481.3 756.7 482.0 762.0 482.9 767.2 483.8 772.4 484.7 777.5 485.7 782.7 486.8M706.3 454.2 711.6 456.1 716.9 458.1 722.2 460.1 727.5 462.2 732.7 464.3 738.0 466.5 743.3 468.8 748.6 471.1 753.9 473.5 759.1 475.9 764.4 478.4 769.6 481.0 774.9 483.6 780.1 486.3 785.3 489.0M706.2 479.0 711.6 479.0 717.0 479.2 722.3 479.4 727.6 479.7 733.0 480.1 738.3 480.6 743.6 481.2 748.9 481.8 754.1 482.5 759.4 483.3 764.6 484.2 769.8 485.1 775.0 486.1 780.1 487.1 785.3 488.2M708.9 454.5 714.2 456.4 719.5 458.4 724.8 460.4 730.1 462.5 735.4 464.7 740.6 466.9 745.9 469.2 751.2 471.5 756.4 473.9 761.7 476.4 767.0 478.9 772.2 481.5 777.4 484.1 782.7 486.8 787.9 489.6M708.9 480.0 714.3 480.1 719.6 480.3 725.0 480.5 730.3 480.9 735.6 481.3 740.9 481.8 746.2 482.4 751.5 483.1 756.8 483.8 762.0 484.6 767.2 485.5 772.4 486.4 777.6 487.4 782.8 488.5 787.9 489.6" fill="none" stroke="#000" stroke-opacity=".42" stroke-width=".55"/>
<circle cx="709.1" cy="456.4" r="1.6" fill="#d40000" stroke="#700" stroke-width="0.3"/>
<circle cx="709.1" cy="462.4" r="1.6" fill="#d40000" stroke="#700" stroke-width="0.3"/>
<text x="616.8" y="413.6" font-family='"Liberation Serif", serif' font-size="9.5" text-anchor="start" fill="#000">(l)</text>
<text x="614.8" y="480.2" font-family='"Liberation Serif", serif' font-size="7" text-anchor="middle" fill="#222" transform="rotate(-90 614.8 480.2)" textLength="80.8" lengthAdjust="spacingAndGlyphs">FRAP (y5) = μg mol (Fe(II))/g</text>
<text x="654.7" y="569.7" font-family='"Liberation Serif", serif' font-size="6.5" text-anchor="middle" fill="#222" textLength="52.1" lengthAdjust="spacingAndGlyphs">Temperature (<tspan font-style="italic">X</tspan><tspan font-size="4.2" dy="1">2</tspan><tspan dy="-1">: °C)</tspan></text>
<text x="763.8" y="569.5" font-family='"Liberation Serif", serif' font-size="6.5" text-anchor="middle" fill="#222" textLength="52.2" lengthAdjust="spacingAndGlyphs">Particle size (<tspan font-style="italic">X</tspan><tspan font-size="4.2" dy="1">1</tspan><tspan dy="-1">:mm)</tspan></text>
</svg>
</body></html>
